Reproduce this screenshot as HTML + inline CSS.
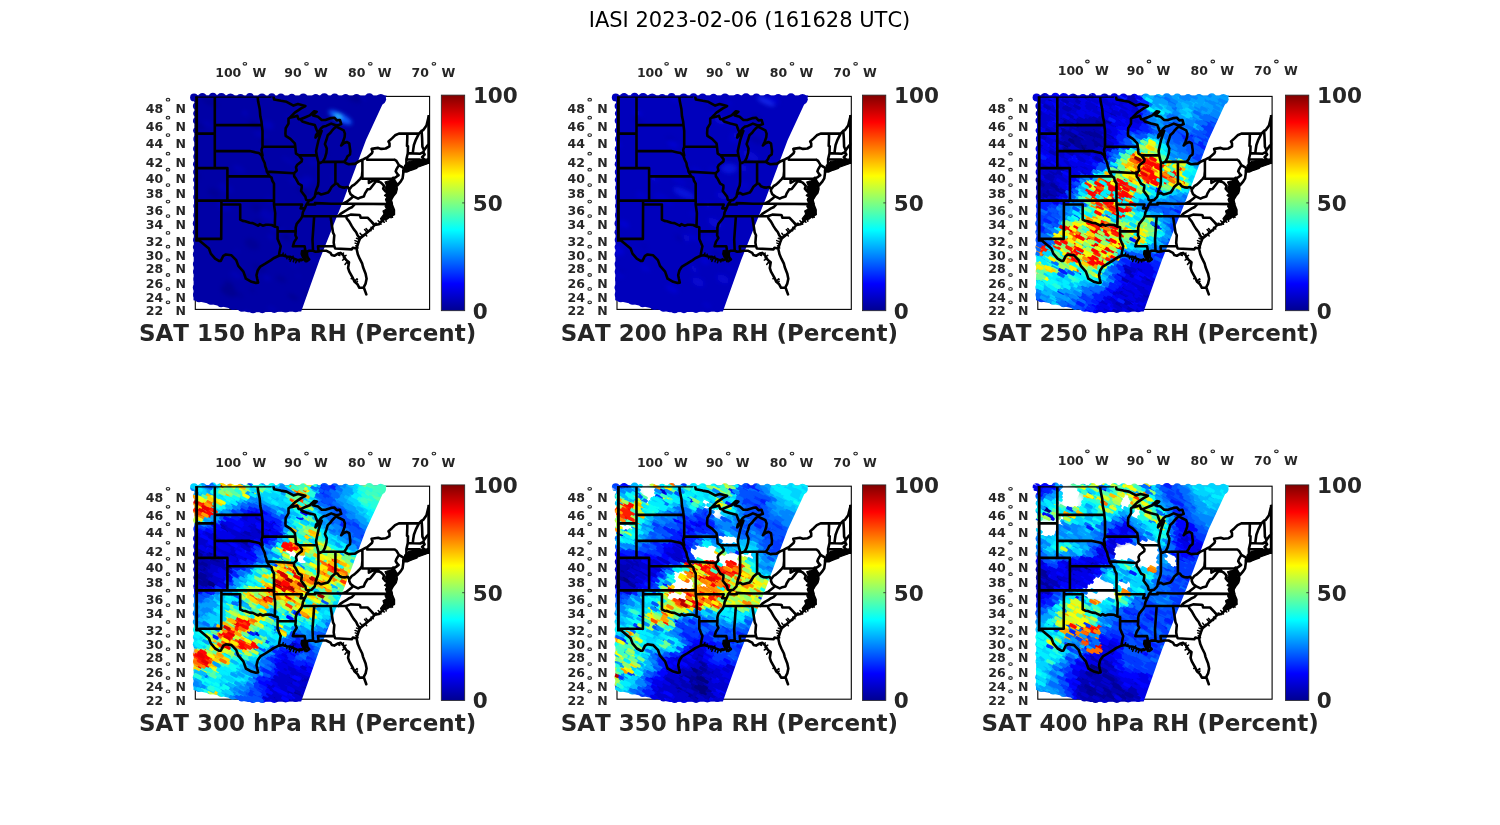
<!DOCTYPE html>
<html><head><meta charset="utf-8"><title>IASI 2023-02-06</title>
<style>
html,body{margin:0;padding:0;background:#fff;overflow:hidden}
svg{display:block}
text{font-family:"DejaVu Sans","Liberation Sans",sans-serif;font-kerning:none}
.s{font-size:12.5px;font-weight:bold;fill:#262626}
.cb{font-size:21.5px;font-weight:bold;fill:#262626}
.t{font-size:23px;font-weight:bold;fill:#262626}
.mt{font-size:21px;fill:#000}
.dg{fill:none;stroke:#262626;stroke-width:1.1}
</style></head><body>
<svg width="1500" height="825" viewBox="0 0 1500 825">
<defs><filter id="bl" x="-5%" y="-5%" width="110%" height="110%"><feGaussianBlur stdDeviation="2.5"/></filter><filter id="bl3" x="-50%" y="-50%" width="200%" height="200%"><feGaussianBlur stdDeviation="2"/></filter><linearGradient id="jet" x1="0" y1="1" x2="0" y2="0"><stop offset="0" stop-color="#000090"/><stop offset="0.125" stop-color="#0000ff"/><stop offset="0.375" stop-color="#00ffff"/><stop offset="0.625" stop-color="#ffff00"/><stop offset="0.875" stop-color="#ff0000"/><stop offset="1" stop-color="#800000"/></linearGradient></defs>
<rect width="1500" height="825" fill="#fff"/>
<text x="749.5" y="27" class="mt" text-anchor="middle">IASI 2023-02-06 (161628 UTC)</text>

<clipPath id="sw0"><path d="M194.6,95.3 386.6,95.6 366,140 344.2,198.2 319.5,260 301.2,311.6 248,312.3 193.5,300.3Z"/><circle cx="194" cy="97.4" r="3.9"/><circle cx="202.4" cy="97.4" r="4.3"/><circle cx="212.9" cy="97.2" r="4.4"/><circle cx="221.4" cy="98.1" r="5"/><circle cx="230.5" cy="98.8" r="5.2"/><circle cx="240.5" cy="97.8" r="3.8"/><circle cx="249.9" cy="97" r="3.9"/><circle cx="262" cy="98.1" r="4.6"/><circle cx="271.8" cy="97" r="3.8"/><circle cx="280.9" cy="97.9" r="4.4"/><circle cx="291.8" cy="97.9" r="4.2"/><circle cx="303.3" cy="98.1" r="4.6"/><circle cx="315.7" cy="98.3" r="4.2"/><circle cx="324.3" cy="98.2" r="4.9"/><circle cx="334.7" cy="98.3" r="4.8"/><circle cx="345.6" cy="98.2" r="4.2"/><circle cx="356.5" cy="98.4" r="4.4"/><circle cx="369.3" cy="98.1" r="4.8"/><circle cx="380.8" cy="99.3" r="5.3"/><circle cx="196.6" cy="99" r="3.4"/><circle cx="196.4" cy="106.1" r="3.5"/><circle cx="196.2" cy="113.4" r="3"/><circle cx="196.2" cy="120.8" r="3.2"/><circle cx="196.1" cy="130.4" r="3"/><circle cx="197.3" cy="139.1" r="4"/><circle cx="196.3" cy="148.7" r="3.2"/><circle cx="197.3" cy="156.7" r="4"/><circle cx="196.1" cy="164.2" r="3.1"/><circle cx="196.6" cy="171.9" r="3.5"/><circle cx="196" cy="179.7" r="2.9"/><circle cx="197" cy="187.8" r="3.6"/><circle cx="196.7" cy="196.9" r="3.5"/><circle cx="196.3" cy="205.9" r="3"/><circle cx="197.2" cy="215.2" r="3.9"/><circle cx="196.2" cy="223.4" r="3.4"/><circle cx="195.8" cy="232.3" r="3"/><circle cx="196.1" cy="239.9" r="3.1"/><circle cx="195.8" cy="247.1" r="2.9"/><circle cx="196.2" cy="254.4" r="3.3"/><circle cx="196.5" cy="264" r="3.6"/><circle cx="196.3" cy="271.8" r="3.3"/><circle cx="197.3" cy="279.1" r="3.9"/><circle cx="196.3" cy="287.5" r="3.5"/><circle cx="196.3" cy="294.8" r="3.3"/><circle cx="199" cy="298.2" r="4"/><circle cx="210.8" cy="300.3" r="4.5"/><circle cx="221" cy="303.5" r="3.7"/><circle cx="232.9" cy="304.9" r="5.1"/><circle cx="241.9" cy="307.4" r="4.3"/><circle cx="253" cy="308.7" r="4.6"/><circle cx="262.3" cy="309.1" r="4.1"/><circle cx="274.3" cy="308" r="5.1"/><circle cx="285.6" cy="307.7" r="4.9"/><circle cx="295.6" cy="308" r="4.3"/></clipPath>
<clipPath id="ax0"><rect x="195.3" y="96.4" width="234.3" height="213"/></clipPath>
<rect x="195.3" y="96.4" width="234.3" height="213" fill="none" stroke="#000" stroke-width="1.1"/>
<g clip-path="url(#sw0)"><rect x="187.3" y="88.4" width="215" height="240" fill="#0000a6"/><g filter="url(#bl3)" opacity="0.8"><ellipse cx="269" cy="217" rx="9" ry="4" transform="rotate(28 269 217)" fill="#0000b8"/><ellipse cx="224" cy="206" rx="7" ry="4" transform="rotate(28 224 206)" fill="#0000c0"/><ellipse cx="268" cy="125" rx="6" ry="4" transform="rotate(28 268 125)" fill="#0000c0"/><ellipse cx="294" cy="181" rx="6" ry="3" transform="rotate(28 294 181)" fill="#0000b8"/><ellipse cx="298" cy="276" rx="3" ry="1" transform="rotate(28 298 276)" fill="#0000b8"/><ellipse cx="294" cy="265" rx="5" ry="2" transform="rotate(28 294 265)" fill="#0000b8"/><ellipse cx="281" cy="234" rx="6" ry="3" transform="rotate(28 281 234)" fill="#000094"/><ellipse cx="304" cy="183" rx="6" ry="4" transform="rotate(28 304 183)" fill="#0000c0"/><ellipse cx="313" cy="163" rx="4" ry="2" transform="rotate(28 313 163)" fill="#0000c0"/><ellipse cx="288" cy="117" rx="4" ry="1" transform="rotate(28 288 117)" fill="#0000c0"/><ellipse cx="355" cy="280" rx="3" ry="1" transform="rotate(28 355 280)" fill="#0000c0"/><ellipse cx="272" cy="309" rx="5" ry="2" transform="rotate(28 272 309)" fill="#0000b8"/><ellipse cx="325" cy="153" rx="4" ry="1" transform="rotate(28 325 153)" fill="#000094"/><ellipse cx="321" cy="119" rx="4" ry="1" transform="rotate(28 321 119)" fill="#0000c0"/><ellipse cx="271" cy="201" rx="7" ry="3" transform="rotate(28 271 201)" fill="#0000b8"/><ellipse cx="360" cy="263" rx="6" ry="2" transform="rotate(28 360 263)" fill="#000094"/><ellipse cx="264" cy="140" rx="5" ry="3" transform="rotate(28 264 140)" fill="#00008c"/><ellipse cx="362" cy="98" rx="4" ry="2" transform="rotate(28 362 98)" fill="#0000c0"/><ellipse cx="199" cy="126" rx="6" ry="2" transform="rotate(28 199 126)" fill="#00008c"/><ellipse cx="333" cy="178" rx="3" ry="1" transform="rotate(28 333 178)" fill="#0000b8"/><ellipse cx="195" cy="175" rx="7" ry="2" transform="rotate(28 195 175)" fill="#000094"/><ellipse cx="334" cy="123" rx="5" ry="3" transform="rotate(28 334 123)" fill="#00008c"/><ellipse cx="347" cy="273" rx="4" ry="2" transform="rotate(28 347 273)" fill="#0000b8"/><ellipse cx="309" cy="179" rx="6" ry="2" transform="rotate(28 309 179)" fill="#0000c0"/><ellipse cx="210" cy="102" rx="9" ry="3" transform="rotate(28 210 102)" fill="#000094"/><ellipse cx="236" cy="275" rx="7" ry="3" transform="rotate(28 236 275)" fill="#0000b8"/><ellipse cx="350" cy="308" rx="4" ry="2" transform="rotate(28 350 308)" fill="#0000c0"/><ellipse cx="240" cy="295" rx="4" ry="1" transform="rotate(28 240 295)" fill="#00008c"/><ellipse cx="262" cy="148" rx="3" ry="1" transform="rotate(28 262 148)" fill="#0000b8"/><ellipse cx="208" cy="124" rx="6" ry="2" transform="rotate(28 208 124)" fill="#0000b8"/><ellipse cx="293" cy="297" rx="6" ry="2" transform="rotate(28 293 297)" fill="#00008c"/><ellipse cx="356" cy="98" rx="7" ry="3" transform="rotate(28 356 98)" fill="#00008c"/><ellipse cx="247" cy="313" rx="3" ry="2" transform="rotate(28 247 313)" fill="#0000c0"/><ellipse cx="345" cy="256" rx="7" ry="4" transform="rotate(28 345 256)" fill="#00008c"/><ellipse cx="252" cy="244" rx="8" ry="5" transform="rotate(28 252 244)" fill="#000094"/><ellipse cx="353" cy="100" rx="6" ry="2" transform="rotate(28 353 100)" fill="#000094"/><ellipse cx="257" cy="96" rx="3" ry="1" transform="rotate(28 257 96)" fill="#0000c0"/><ellipse cx="361" cy="287" rx="7" ry="3" transform="rotate(28 361 287)" fill="#000094"/><ellipse cx="267" cy="278" rx="4" ry="2" transform="rotate(28 267 278)" fill="#0000c0"/><ellipse cx="245" cy="113" rx="3" ry="2" transform="rotate(28 245 113)" fill="#0000c0"/><ellipse cx="277" cy="229" rx="9" ry="3" transform="rotate(28 277 229)" fill="#0000c0"/><ellipse cx="255" cy="125" rx="7" ry="3" transform="rotate(28 255 125)" fill="#00008c"/><ellipse cx="304" cy="191" rx="8" ry="3" transform="rotate(28 304 191)" fill="#00008c"/><ellipse cx="226" cy="188" rx="8" ry="4" transform="rotate(28 226 188)" fill="#0000b8"/><ellipse cx="258" cy="222" rx="5" ry="2" transform="rotate(28 258 222)" fill="#000094"/><ellipse cx="252" cy="290" rx="3" ry="1" transform="rotate(28 252 290)" fill="#00008c"/><ellipse cx="332" cy="118" rx="6" ry="3" transform="rotate(28 332 118)" fill="#000094"/><ellipse cx="257" cy="208" rx="7" ry="4" transform="rotate(28 257 208)" fill="#000094"/><ellipse cx="247" cy="276" rx="5" ry="2" transform="rotate(28 247 276)" fill="#00008c"/><ellipse cx="289" cy="161" rx="8" ry="2" transform="rotate(28 289 161)" fill="#0000b8"/><ellipse cx="261" cy="135" rx="8" ry="3" transform="rotate(28 261 135)" fill="#0000b8"/><ellipse cx="328" cy="310" rx="4" ry="1" transform="rotate(28 328 310)" fill="#00008c"/><ellipse cx="355" cy="244" rx="4" ry="2" transform="rotate(28 355 244)" fill="#0000b8"/><ellipse cx="314" cy="260" rx="6" ry="2" transform="rotate(28 314 260)" fill="#0000b8"/><ellipse cx="239" cy="169" rx="7" ry="3" transform="rotate(28 239 169)" fill="#0000b8"/><ellipse cx="259" cy="268" rx="8" ry="3" transform="rotate(28 259 268)" fill="#000094"/><ellipse cx="214" cy="193" rx="7" ry="4" transform="rotate(28 214 193)" fill="#000094"/><ellipse cx="286" cy="237" rx="6" ry="3" transform="rotate(28 286 237)" fill="#00008c"/><ellipse cx="271" cy="237" rx="4" ry="2" transform="rotate(28 271 237)" fill="#0000c0"/><ellipse cx="229" cy="291" rx="9" ry="5" transform="rotate(28 229 291)" fill="#00008c"/><ellipse cx="237" cy="251" rx="3" ry="1" transform="rotate(28 237 251)" fill="#0000c0"/><ellipse cx="267" cy="214" rx="8" ry="3" transform="rotate(28 267 214)" fill="#0000c0"/><ellipse cx="229" cy="284" rx="6" ry="2" transform="rotate(28 229 284)" fill="#00008c"/><ellipse cx="309" cy="295" rx="6" ry="3" transform="rotate(28 309 295)" fill="#000094"/><ellipse cx="353" cy="202" rx="9" ry="3" transform="rotate(28 353 202)" fill="#0000b8"/><ellipse cx="267" cy="216" rx="8" ry="4" transform="rotate(28 267 216)" fill="#0000b8"/><ellipse cx="281" cy="279" rx="6" ry="3" transform="rotate(28 281 279)" fill="#000094"/><ellipse cx="355" cy="285" rx="7" ry="3" transform="rotate(28 355 285)" fill="#0000b8"/><ellipse cx="357" cy="209" rx="6" ry="2" transform="rotate(28 357 209)" fill="#0000c0"/><ellipse cx="278" cy="227" rx="3" ry="2" transform="rotate(28 278 227)" fill="#000094"/></g><g filter="url(#bl3)"><ellipse cx="340.3" cy="117.4" rx="13" ry="4" transform="rotate(28 340.3 117.4)" fill="#1060ff"/><ellipse cx="338.3" cy="116.4" rx="4" ry="2" transform="rotate(28 338.3 116.4)" fill="#30d0ff"/></g></g>
<path d="M385,182 388,181 392.5,180.5 396,184 395,188 396.5,191 393,195 391.5,200 392.5,204 391,206.5 394.5,214.5 390.5,214.5 386,217.5 381.5,221 380.5,218.5 384,214 383,211 386.5,209 385,206 387,203.5 385.5,199.5 387,197 384.5,195.5 387.5,192.5 385,188 386.5,185.5ZM404.5,165.5 409,161.5 416,160 423,159.2 429,159 429.5,163 424,165 417,167.5 410,169.5 405,170ZM195.3,96.4 197.5,96.4 197.5,240.2 195.3,240.2ZM427.9,115.5 429.9,115.5 429.9,163.5 427.9,163.5ZM301.5,250.5 305,250 307.5,252.5 308,256.5 305.5,259 302.5,257.5 301,254Z" fill="#000" stroke="#000" stroke-width="1.2" stroke-linejoin="round" clip-path="url(#ax0)"/>
<path d="M374.4 225.3l-2.1 -1.9M372.1 227.9l1.2 1.1M371.9 228.1l-0.9 -0.8M370.3 229.8l0.7 0.9M368.5 231.4l-2.4 -2.8M367.1 232.5l-2.5 -2.9M365.2 234.2l1.5 1.7M363.9 235.4l-0.8 -0.9M362.6 236.5l-2.5 -3.2M361.0 237.7l-0.8 -1.0M359.6 239.5l-3.1 -1.2M358.7 242.0l-3.7 -1.4M358.0 244.0l-2.8 -0.9M357.2 246.3l-1.4 -0.5M356.9 247.5l1.1 0.4M393.2 214.6l-1.4 -2.8M391.6 215.3l1.0 2.0M390.1 216.3l1.0 1.4M388.4 217.5l-1.3 -1.8M385.6 218.8l0.6 2.4M384.3 219.1l-0.8 -3.2M382.6 220.5l1.7 1.7M382.4 220.6l1.3 1.4M380.3 222.8l-2.1 -2.1M379.9 223.1l1.1 1.1M376.8 224.6l-0.3 -1.4M375.9 224.8l-0.3 -1.6M339.1 253.3l0.7 2.3M340.6 252.9l-2.0 2.3M342.3 254.4l1.2 -1.3M344.0 256.6l2.1 -1.3M344.4 257.2l-1.1 0.7M345.2 258.6l-2.6 1.6M347.5 261.2l-2.5 3.3M348.5 261.9l-1.0 1.3M356.0 282.9l1.5 -1.7M354.4 281.6l2.6 -2.9M354.0 280.7l3.5 -1.5M352.8 278.0l-1.6 0.7M282.5 255.4l0.7 -2.4M285.0 256.1l0.5 -1.8M287.1 256.6l-0.2 2.1M289.5 256.8l-0.3 2.8M291.9 257.6l-1.8 3.8M292.3 257.8l0.8 -1.6M294.4 258.8l-1.1 2.9M296.9 259.8l-1.2 3.0M299.1 260.1l-0.0 2.0M299.8 260.1l0.0 -0.8M301.7 260.1l-0.6 -1.3M304.0 259.1l1.2 2.7M390.4 201.2l0.7 -1.6M388.6 198.9l2.0 -0.3M388.5 198.4l-2.2 0.3M388.3 195.3l-1.0 -0.1M388.4 194.2l3.6 0.3M388.4 192.0l-1.9 0.4M387.7 189.2l1.5 -0.3M387.9 186.7l3.2 0.5M388.0 185.7l3.7 0.6M388.3 184.4l3.1 1.4M390.0 180.7l2.3 1.1" stroke="#000" stroke-width="1.5" stroke-linecap="round" clip-path="url(#ax0)"/>
<path d="M190.1,96.5 270.6,96.5M214.8,96.5 214.8,168.1M190.1,133.6 214.8,133.6M190.1,168.1 227.4,168.1M227.4,168.1 227.4,200.6M190.1,200.6 274,200.6M221.4,200.6 221.4,204.5 221.2,238.9 198.7,238.9 199.3,240.5 190.1,240.5M221.4,204.5 240.2,204.5 240.2,219.6M240.2,219.6 242.7,220.9 245.2,221.2 249.6,222.8 252.8,223.1 255.9,224.6 258.4,225.7 259.7,224.2 262.8,225.7 265.9,224.8 268.4,224.8 271.6,225 274.8,226.6 277.6,227.3 277.6,238.9M274.8,226.6 275.2,213.1 274,204.5 274,183.7 272.2,180.5 271.6,177.6 269.6,176.4M227.4,176.4 269.6,176.4M269.6,176.4 266.8,171.6 266.3,168.9 265.3,166.4 264.7,163 263.1,159.7 261.5,155.4 259,153.1 255.9,152.4 249.6,151.1 214.8,151.1M261.5,155.4 262.5,155.5 261.5,150 262.5,146.8 262.5,130.9 261.8,125.1 214.8,125.1M261.8,125.1 261.5,121.8 260.3,116.3 259.7,108.9 258.1,101.3 257.6,96.5M266.8,171.6 294,173.2M262.5,146.8 295.3,146.8M285.7,135.8 290.4,138.9 294.8,143.3 295.3,146.8 296,153.7 298.9,155.4 302,159.4 301.7,161.4 297.3,164.7 296,167.2 296.7,170.6 294,173.2 294.2,176.4 296,178.8 298.5,183.7 301.7,185.4 301.7,187.8 301.1,191 305.4,196.6 306.1,199.8 308.1,200.6 308.6,201.4 306.4,204.5 305.8,206.1 304.8,208.4 302.9,212.3 302.3,216.2 301.1,218.5 299.2,220.8 296.7,223.8 295.7,227.6 295.7,231.4 295.4,235.2 296.7,238.1 294.2,241.9 292.9,246.3M285.7,135.8 285.4,133.6 285.7,128.2 288.5,123.6 288.5,118.6 289.8,117.7M270.6,96.5 270.6,92.8 272.8,93.6 274.1,99.4 281,100.8 286.6,101.8 293.5,105.6 297.9,104.1 305.4,106 301.1,108.4 294.8,112.6 289.8,117.7M289.8,117.7 294.2,116.8 297.3,115.8 298.5,119.1 300.4,119.3 302.3,121.4 308.6,123.5 314.8,125 316.7,130 318,132.7M318,132.7 316.1,134.9 315.5,137.6 318,134.9 321.7,130.9 319.9,135.8 318.6,139.8 317.4,145 316.1,151.1 316.7,155.4 298.9,155.4M316.7,155.4 318,160.5 318.4,162.2 320.5,162.9 322.9,161.7 335.4,161.9 344,161.9M318.4,161.7 318.4,181.7 318,185.4 316.1,190.2 315.2,194.2M335.4,161.9 335.4,183.7M349.3,191.3 349.3,189.4 347.8,187 344.9,187.6 342.1,187.4 339.3,186.2 337.4,183.7 335.4,183.7 331.8,186.7 329.6,190.6 328,192.6 324.9,193.4 321.1,194.5 318.2,192.9 315.2,194.2 314.8,196.6 311.7,199.9 308.1,200.6M349.3,189.4 351.8,186.2 354.4,184.6 357.5,181.7 360.3,178.8 361.9,176.4 362.4,171.1 362.4,159.8M300.4,119.3 305.4,117.2 309.8,115.4 314.2,111.2 316.7,111.7 313,115.4 318,116.8 321.7,120 325.5,120 331.2,118.1 334.3,117.7 336.8,120.4 339.9,120 341.2,124.1 338.7,125 336.2,125.5 331.2,123.6 326.1,125.9 323.6,126.4 321.1,128.2 318,132.7M322.9,161.7 324.9,158 326.4,152.8 326.8,148.5 324.9,144.1 326.4,139.8 327.7,135.3 330.5,132.7 331.8,130.9 334.3,128.2 336.2,126.5 339.3,128.2 343.7,130.4 344.9,133.6 344.6,137.1 343.1,141.5 341.2,145.5 343.7,143.3 346.8,142 349.3,143.3 350.3,151.1 350,154.5 347.5,156.3 346.2,159.2 344,161.9M344,161.9 346.8,163.5 348.7,164.3 353.1,163.9 355,163.9 358.1,161.8 362.4,159.8 365,158.4 367.1,157.4 367.1,159.7 394.7,159.7M367.1,157.4 371.9,153.3 372.5,151.5 371.6,148.9 378.2,147.9 381.3,148.9 385.7,148.5 389.5,146.3 389.5,143.3 388.5,141.5 392,138.4 395.1,135.3 398.9,133.6 418.9,133.6 421.6,130.9 423.3,130 426.5,125.5 428.3,118.1 433.4,111.2M407.3,133.6 407.3,138 407,145.9 408,146.3 407.8,153.3 406.4,159.2 406.4,165.6 405.1,167.2 405.5,168.3M407.8,153.3 412.9,153.4 420.2,153.7 423.3,152.2M412.9,153.4 413,151.1 413.9,145 415.8,139.8 418.9,133.6M421.6,130.9 422.1,138 422.4,146.8 424,150.2M406.4,159.2 417.1,159.5 419.7,159.5 421.3,163.9M417.1,159.5 416.7,165.4M434.6,141.5 429.6,144.1 427.1,145.9 424,150.2 423.3,152.2 424.6,154.5 422.1,157.1 424.6,160.1 428.3,161.8 428.3,159.2 428.7,162.2 424.6,163.5 421.3,163.9 416.7,165.4 412.7,165.8 409.5,166.4 405.5,168.3 403.9,169.3M403.9,171 410.8,169.8 416.4,167.7 412.7,168.9 407,171.4 403.9,171.4M394.7,159.7 396.4,160.9 398.9,165.1 403.9,168.1 403.3,170.6M398.9,165.1 396.4,169.3 395.7,171.4 397.3,173.9 398.6,175.1 396.4,176.8 394.5,178 393.2,177.7 392,178.7 362.4,178.7 362.4,171.1M403.3,170.6 403.3,173.1 402.6,178.4 400.8,181.3 397.6,185.1 395.7,182.5 393.9,179.7 394.5,178M392,178.7 392,188.9 396.7,188.9M393.9,179.7 394.5,182.1 396.4,186.2 396.7,189 395.7,192.6 393.2,195.8 391,199.4M368.9,178.7 368.9,182.9 372.5,180.9 376,179.3 379.9,182 381.3,182.9 384.1,185.8 383.2,188.6 385.1,191 388.8,193M353.3,196.3 358.1,198.6 360.6,197.4 363.8,196.6 365,193.4 367.5,189.4 370,189 372.5,185.8 376,181.3 379.9,182M353.3,196.3 350.6,194.2 349.3,191.3M342.6,203.7 346.8,201.8 351.2,198.2 353.3,196.3M306.4,204.5 315.2,204.5 315,203.1 321.7,203.4 331.2,203.7 342.6,203.7 355.1,203.8 391.5,204.1M338.5,216.2 340.6,213.9 343.7,211.9 346.8,210 349.3,208.4 351.8,207.3 355.1,203.8M302.3,216.2 346.2,216.2M346.2,216.2 350.6,214.6 359.1,215 360,215.4 360.6,217.6 367.6,217.7 374.7,225M346.2,216.2 346.8,218.5 349.3,221.6 351.8,226.1 353.7,229.1 356.2,232.2 357.5,235.2 360,238.5M314.2,216.2 312.5,239.6 313,250.8M330.5,216.2 333,232.5 334.3,235.2 334,238.9 333.7,242.6 334.3,246.3 318,246.3 318.6,251.4M334.3,246.3 335.2,248.5 351.8,249.4 352.8,247.8 356.5,248.5M274,204.5 302,204.5 300.6,208.4 304.8,208.4M277.6,231.3 295.7,231.4M277.6,238.9 279.1,242.6 280.7,246.3 279.6,251.4 278.9,255.8M292.9,246.3 304.6,246.3 305.1,249.2 305.4,252.2M199.3,240.5 202.6,243.3 208.9,248.5 210.8,253.6 215.1,258.7 218.9,260.9 220.8,260.9 223.3,255.8 225.8,254.5 231.5,255.3 236.2,260.1 238.3,265.9 243.4,271.6 245.9,278.7 251.5,281.8 255.9,282.9 258.1,282.6 257.2,278.7 256.5,275.2 257.8,270.2 260.3,266.6 265.3,263.7 271,260.1 273.5,258.3 278.9,255.8 282.2,255.3 286.6,256.5 290.4,256.9 294.2,258.7 297.9,260.1 301.7,260.1 304.8,258.7 306.7,261.2 309.2,259.4 307.3,257.2 305.4,254.3 306.7,253.2 305.4,252.2 309.2,250.7 313,250.8 315.5,251.8 318.6,251.4 321.7,250.7 326.1,250.7 330.5,252.9 331.8,255.1 334.3,255.8 338,253.6 340.6,252.9 343.1,255.1 346.2,260.1 349,262.3 348.1,268 349.3,271.6 352.5,277.3 354.4,281.5 357.5,284.3 359.4,287.8 363.4,287.8 365.6,283.6 366.6,278.7 365.6,273.7 363.1,267.3 362.2,263.7 359.7,258.7 357.8,254.3 356.5,248.5 358.4,242.6 360,238.5 362.8,236.3 366.3,233.3 370.7,229.5 374.7,225 378.8,224.2 383.8,219.3 387,218.5 390.7,215.8 393.9,214.3 393.9,210 391.5,204.1 390.7,201.4 388.8,200.6M363.8,287.5 366.3,294.4" clip-path="url(#ax0)" fill="none" stroke="#000" stroke-width="2.6" stroke-linejoin="round" stroke-linecap="round"/>
<text x="145.8" y="112.8" class="s">48</text>
<ellipse cx="168" cy="99.7" rx="1.8" ry="1.35" class="dg"/>
<text x="175.6" y="112.8" class="s">N</text>
<text x="145.8" y="130.8" class="s">46</text>
<ellipse cx="168" cy="117.7" rx="1.8" ry="1.35" class="dg"/>
<text x="175.6" y="130.8" class="s">N</text>
<text x="145.8" y="148.2" class="s">44</text>
<ellipse cx="168" cy="135.1" rx="1.8" ry="1.35" class="dg"/>
<text x="175.6" y="148.2" class="s">N</text>
<text x="145.8" y="166.8" class="s">42</text>
<ellipse cx="168" cy="153.7" rx="1.8" ry="1.35" class="dg"/>
<text x="175.6" y="166.8" class="s">N</text>
<text x="145.8" y="182.8" class="s">40</text>
<ellipse cx="168" cy="169.7" rx="1.8" ry="1.35" class="dg"/>
<text x="175.6" y="182.8" class="s">N</text>
<text x="145.8" y="198.2" class="s">38</text>
<ellipse cx="168" cy="185.1" rx="1.8" ry="1.35" class="dg"/>
<text x="175.6" y="198.2" class="s">N</text>
<text x="145.8" y="214.7" class="s">36</text>
<ellipse cx="168" cy="201.6" rx="1.8" ry="1.35" class="dg"/>
<text x="175.6" y="214.7" class="s">N</text>
<text x="145.8" y="229.2" class="s">34</text>
<ellipse cx="168" cy="216.1" rx="1.8" ry="1.35" class="dg"/>
<text x="175.6" y="229.2" class="s">N</text>
<text x="145.8" y="246" class="s">32</text>
<ellipse cx="168" cy="232.9" rx="1.8" ry="1.35" class="dg"/>
<text x="175.6" y="246" class="s">N</text>
<text x="145.8" y="259.8" class="s">30</text>
<ellipse cx="168" cy="246.7" rx="1.8" ry="1.35" class="dg"/>
<text x="175.6" y="259.8" class="s">N</text>
<text x="145.8" y="273.2" class="s">28</text>
<ellipse cx="168" cy="260.1" rx="1.8" ry="1.35" class="dg"/>
<text x="175.6" y="273.2" class="s">N</text>
<text x="145.8" y="288.1" class="s">26</text>
<ellipse cx="168" cy="275" rx="1.8" ry="1.35" class="dg"/>
<text x="175.6" y="288.1" class="s">N</text>
<text x="145.8" y="302" class="s">24</text>
<ellipse cx="168" cy="288.9" rx="1.8" ry="1.35" class="dg"/>
<text x="175.6" y="302" class="s">N</text>
<text x="145.8" y="315.4" class="s">22</text>
<ellipse cx="168" cy="302.3" rx="1.8" ry="1.35" class="dg"/>
<text x="175.6" y="315.4" class="s">N</text>
<text x="215.2" y="77" class="s">100</text>
<ellipse cx="244.9" cy="63.8" rx="1.8" ry="1.35" class="dg"/>
<text x="252.4" y="77" class="s">W</text>
<text x="284.2" y="77" class="s">90</text>
<ellipse cx="306.5" cy="63.8" rx="1.8" ry="1.35" class="dg"/>
<text x="314" y="77" class="s">W</text>
<text x="348" y="77" class="s">80</text>
<ellipse cx="370.3" cy="63.8" rx="1.8" ry="1.35" class="dg"/>
<text x="377.8" y="77" class="s">W</text>
<text x="411.6" y="77" class="s">70</text>
<ellipse cx="433.9" cy="63.8" rx="1.8" ry="1.35" class="dg"/>
<text x="441.4" y="77" class="s">W</text>
<rect x="441.3" y="95.1" width="23.4" height="215.6" fill="url(#jet)" stroke="#262626" stroke-width="0.8"/>
<path d="M462.2,202.9H464.7" stroke="#262626" stroke-width="0.8"/>
<text x="472.9" y="103.3" class="cb">100</text>
<text x="472.7" y="210.7" class="cb">50</text>
<text x="472.7" y="318.5" class="cb">0</text>
<text x="139" y="340.8" class="t">SAT 150 hPa RH (Percent)</text>
<clipPath id="sw1"><path d="M616.3,95.3 808.3,95.6 787.7,140 765.9,198.2 741.2,260 722.9,311.6 669.7,312.3 615.2,300.3Z"/><circle cx="615.7" cy="97.4" r="3.9"/><circle cx="624.1" cy="97.4" r="4.3"/><circle cx="634.6" cy="97.2" r="4.4"/><circle cx="643.1" cy="98.1" r="5"/><circle cx="652.2" cy="98.8" r="5.2"/><circle cx="662.2" cy="97.8" r="3.8"/><circle cx="671.6" cy="97" r="3.9"/><circle cx="683.7" cy="98.1" r="4.6"/><circle cx="693.5" cy="97" r="3.8"/><circle cx="702.6" cy="97.9" r="4.4"/><circle cx="713.5" cy="97.9" r="4.2"/><circle cx="725" cy="98.1" r="4.6"/><circle cx="737.4" cy="98.3" r="4.2"/><circle cx="746" cy="98.2" r="4.9"/><circle cx="756.4" cy="98.3" r="4.8"/><circle cx="767.3" cy="98.2" r="4.2"/><circle cx="778.2" cy="98.4" r="4.4"/><circle cx="791" cy="98.1" r="4.8"/><circle cx="802.5" cy="99.3" r="5.3"/><circle cx="618.3" cy="99" r="3.4"/><circle cx="618.1" cy="106.1" r="3.5"/><circle cx="617.9" cy="113.4" r="3"/><circle cx="617.9" cy="120.8" r="3.2"/><circle cx="617.8" cy="130.4" r="3"/><circle cx="619" cy="139.1" r="4"/><circle cx="618" cy="148.7" r="3.2"/><circle cx="619" cy="156.7" r="4"/><circle cx="617.8" cy="164.2" r="3.1"/><circle cx="618.3" cy="171.9" r="3.5"/><circle cx="617.7" cy="179.7" r="2.9"/><circle cx="618.7" cy="187.8" r="3.6"/><circle cx="618.4" cy="196.9" r="3.5"/><circle cx="618" cy="205.9" r="3"/><circle cx="618.9" cy="215.2" r="3.9"/><circle cx="617.9" cy="223.4" r="3.4"/><circle cx="617.5" cy="232.3" r="3"/><circle cx="617.8" cy="239.9" r="3.1"/><circle cx="617.5" cy="247.1" r="2.9"/><circle cx="617.9" cy="254.4" r="3.3"/><circle cx="618.2" cy="264" r="3.6"/><circle cx="618" cy="271.8" r="3.3"/><circle cx="619" cy="279.1" r="3.9"/><circle cx="618" cy="287.5" r="3.5"/><circle cx="618" cy="294.8" r="3.3"/><circle cx="620.7" cy="298.2" r="4"/><circle cx="632.5" cy="300.3" r="4.5"/><circle cx="642.7" cy="303.5" r="3.7"/><circle cx="654.6" cy="304.9" r="5.1"/><circle cx="663.6" cy="307.4" r="4.3"/><circle cx="674.7" cy="308.7" r="4.6"/><circle cx="684" cy="309.1" r="4.1"/><circle cx="696" cy="308" r="5.1"/><circle cx="707.3" cy="307.7" r="4.9"/><circle cx="717.3" cy="308" r="4.3"/></clipPath>
<clipPath id="ax1"><rect x="617" y="96.4" width="234.3" height="213"/></clipPath>
<rect x="617" y="96.4" width="234.3" height="213" fill="none" stroke="#000" stroke-width="1.1"/>
<g clip-path="url(#sw1)"><rect x="609.0" y="88.4" width="215" height="240" fill="#0000bc"/><g filter="url(#bl3)" opacity="0.8"><ellipse cx="695" cy="238" rx="7" ry="2" transform="rotate(28 695 238)" fill="#0000d8"/><ellipse cx="783" cy="200" rx="7" ry="3" transform="rotate(28 783 200)" fill="#0000cc"/><ellipse cx="709" cy="239" rx="4" ry="2" transform="rotate(28 709 239)" fill="#0000cc"/><ellipse cx="672" cy="140" rx="6" ry="2" transform="rotate(28 672 140)" fill="#0000a4"/><ellipse cx="730" cy="269" rx="4" ry="2" transform="rotate(28 730 269)" fill="#0000cc"/><ellipse cx="629" cy="311" rx="9" ry="3" transform="rotate(28 629 311)" fill="#0808d8"/><ellipse cx="779" cy="212" rx="8" ry="4" transform="rotate(28 779 212)" fill="#0000d8"/><ellipse cx="708" cy="205" rx="4" ry="2" transform="rotate(28 708 205)" fill="#0808d8"/><ellipse cx="695" cy="178" rx="3" ry="2" transform="rotate(28 695 178)" fill="#0000cc"/><ellipse cx="780" cy="239" rx="5" ry="2" transform="rotate(28 780 239)" fill="#0808d8"/><ellipse cx="729" cy="118" rx="4" ry="2" transform="rotate(28 729 118)" fill="#0000cc"/><ellipse cx="619" cy="274" rx="6" ry="3" transform="rotate(28 619 274)" fill="#0000cc"/><ellipse cx="729" cy="103" rx="4" ry="2" transform="rotate(28 729 103)" fill="#0000cc"/><ellipse cx="644" cy="246" rx="3" ry="1" transform="rotate(28 644 246)" fill="#0000a4"/><ellipse cx="716" cy="253" rx="6" ry="2" transform="rotate(28 716 253)" fill="#0000a4"/><ellipse cx="662" cy="198" rx="9" ry="4" transform="rotate(28 662 198)" fill="#0000cc"/><ellipse cx="693" cy="214" rx="4" ry="2" transform="rotate(28 693 214)" fill="#0000cc"/><ellipse cx="769" cy="95" rx="5" ry="2" transform="rotate(28 769 95)" fill="#0000a4"/><ellipse cx="645" cy="268" rx="6" ry="2" transform="rotate(28 645 268)" fill="#0000d8"/><ellipse cx="781" cy="313" rx="6" ry="2" transform="rotate(28 781 313)" fill="#0000a4"/><ellipse cx="764" cy="240" rx="5" ry="2" transform="rotate(28 764 240)" fill="#0808d8"/><ellipse cx="697" cy="171" rx="7" ry="3" transform="rotate(28 697 171)" fill="#0000cc"/><ellipse cx="690" cy="229" rx="3" ry="1" transform="rotate(28 690 229)" fill="#0808d8"/><ellipse cx="734" cy="140" rx="5" ry="2" transform="rotate(28 734 140)" fill="#0000d8"/><ellipse cx="732" cy="122" rx="8" ry="4" transform="rotate(28 732 122)" fill="#0000cc"/><ellipse cx="648" cy="197" rx="3" ry="2" transform="rotate(28 648 197)" fill="#0000a4"/><ellipse cx="743" cy="185" rx="7" ry="4" transform="rotate(28 743 185)" fill="#0000cc"/><ellipse cx="713" cy="170" rx="5" ry="3" transform="rotate(28 713 170)" fill="#0000cc"/><ellipse cx="617" cy="250" rx="8" ry="5" transform="rotate(28 617 250)" fill="#0000d8"/><ellipse cx="769" cy="211" rx="8" ry="3" transform="rotate(28 769 211)" fill="#0000d8"/><ellipse cx="735" cy="135" rx="5" ry="2" transform="rotate(28 735 135)" fill="#0808d8"/><ellipse cx="720" cy="121" rx="6" ry="3" transform="rotate(28 720 121)" fill="#0808d8"/><ellipse cx="713" cy="109" rx="5" ry="2" transform="rotate(28 713 109)" fill="#0000a4"/><ellipse cx="638" cy="113" rx="5" ry="2" transform="rotate(28 638 113)" fill="#0808d8"/><ellipse cx="676" cy="100" rx="6" ry="3" transform="rotate(28 676 100)" fill="#0000cc"/><ellipse cx="624" cy="224" rx="6" ry="3" transform="rotate(28 624 224)" fill="#0000d8"/><ellipse cx="774" cy="95" rx="5" ry="2" transform="rotate(28 774 95)" fill="#0000cc"/><ellipse cx="731" cy="159" rx="6" ry="2" transform="rotate(28 731 159)" fill="#0000a4"/><ellipse cx="642" cy="196" rx="7" ry="4" transform="rotate(28 642 196)" fill="#0000cc"/><ellipse cx="692" cy="266" rx="3" ry="2" transform="rotate(28 692 266)" fill="#0808d8"/><ellipse cx="705" cy="261" rx="5" ry="3" transform="rotate(28 705 261)" fill="#0000d8"/><ellipse cx="779" cy="215" rx="7" ry="3" transform="rotate(28 779 215)" fill="#0000d8"/><ellipse cx="669" cy="203" rx="5" ry="2" transform="rotate(28 669 203)" fill="#0000cc"/><ellipse cx="695" cy="270" rx="4" ry="2" transform="rotate(28 695 270)" fill="#0808d8"/><ellipse cx="751" cy="156" rx="9" ry="4" transform="rotate(28 751 156)" fill="#0808d8"/><ellipse cx="752" cy="267" rx="7" ry="2" transform="rotate(28 752 267)" fill="#0000a4"/><ellipse cx="723" cy="279" rx="7" ry="4" transform="rotate(28 723 279)" fill="#0808d8"/><ellipse cx="686" cy="238" rx="5" ry="3" transform="rotate(28 686 238)" fill="#0808d8"/><ellipse cx="679" cy="181" rx="8" ry="3" transform="rotate(28 679 181)" fill="#0000cc"/><ellipse cx="756" cy="118" rx="5" ry="3" transform="rotate(28 756 118)" fill="#0000a4"/><ellipse cx="781" cy="295" rx="8" ry="4" transform="rotate(28 781 295)" fill="#0000a4"/><ellipse cx="756" cy="140" rx="8" ry="3" transform="rotate(28 756 140)" fill="#0000a4"/><ellipse cx="621" cy="272" rx="4" ry="1" transform="rotate(28 621 272)" fill="#0000a4"/><ellipse cx="772" cy="309" rx="8" ry="4" transform="rotate(28 772 309)" fill="#0000d8"/><ellipse cx="717" cy="116" rx="7" ry="3" transform="rotate(28 717 116)" fill="#0808d8"/><ellipse cx="631" cy="95" rx="4" ry="2" transform="rotate(28 631 95)" fill="#0808d8"/><ellipse cx="722" cy="196" rx="7" ry="3" transform="rotate(28 722 196)" fill="#0808d8"/><ellipse cx="766" cy="100" rx="8" ry="2" transform="rotate(28 766 100)" fill="#0000cc"/><ellipse cx="698" cy="282" rx="7" ry="4" transform="rotate(28 698 282)" fill="#0808d8"/><ellipse cx="707" cy="305" rx="5" ry="2" transform="rotate(28 707 305)" fill="#0000cc"/><ellipse cx="673" cy="144" rx="6" ry="3" transform="rotate(28 673 144)" fill="#0000d8"/><ellipse cx="773" cy="100" rx="7" ry="3" transform="rotate(28 773 100)" fill="#0000d8"/><ellipse cx="715" cy="223" rx="8" ry="4" transform="rotate(28 715 223)" fill="#0808d8"/><ellipse cx="743" cy="187" rx="6" ry="2" transform="rotate(28 743 187)" fill="#0000cc"/><ellipse cx="680" cy="238" rx="5" ry="2" transform="rotate(28 680 238)" fill="#0000a4"/><ellipse cx="638" cy="120" rx="6" ry="2" transform="rotate(28 638 120)" fill="#0000a4"/><ellipse cx="616" cy="144" rx="6" ry="3" transform="rotate(28 616 144)" fill="#0808d8"/><ellipse cx="743" cy="168" rx="5" ry="3" transform="rotate(28 743 168)" fill="#0808d8"/><ellipse cx="672" cy="289" rx="7" ry="3" transform="rotate(28 672 289)" fill="#0000d8"/><ellipse cx="653" cy="178" rx="7" ry="2" transform="rotate(28 653 178)" fill="#0808d8"/></g><g filter="url(#bl3)" opacity="0.6"><ellipse cx="766.0" cy="101.4" rx="10" ry="3" transform="rotate(25 766.0 101.4)" fill="#2040ff"/><ellipse cx="684.0" cy="193.4" rx="12" ry="4" transform="rotate(25 684.0 193.4)" fill="#1020f0"/><ellipse cx="729.0" cy="168.4" rx="8" ry="5" fill="#1020f0"/></g></g>
<path d="M806.7,182 809.7,181 814.2,180.5 817.7,184 816.7,188 818.2,191 814.7,195 813.2,200 814.2,204 812.7,206.5 816.2,214.5 812.2,214.5 807.7,217.5 803.2,221 802.2,218.5 805.7,214 804.7,211 808.2,209 806.7,206 808.7,203.5 807.2,199.5 808.7,197 806.2,195.5 809.2,192.5 806.7,188 808.2,185.5ZM826.2,165.5 830.7,161.5 837.7,160 844.7,159.2 850.7,159 851.2,163 845.7,165 838.7,167.5 831.7,169.5 826.7,170ZM617,96.4 619.2,96.4 619.2,240.2 617,240.2ZM849.6,115.5 851.6,115.5 851.6,163.5 849.6,163.5ZM723.2,250.5 726.7,250 729.2,252.5 729.7,256.5 727.2,259 724.2,257.5 722.7,254Z" fill="#000" stroke="#000" stroke-width="1.2" stroke-linejoin="round" clip-path="url(#ax1)"/>
<path d="M796.1 225.3l-2.1 -1.9M793.8 227.9l1.2 1.1M793.6 228.1l-0.9 -0.8M792.0 229.8l0.7 0.9M790.2 231.4l-2.4 -2.8M788.8 232.5l-2.5 -2.9M786.9 234.2l1.5 1.7M785.6 235.4l-0.8 -0.9M784.3 236.5l-2.5 -3.2M782.7 237.7l-0.8 -1.0M781.3 239.5l-3.1 -1.2M780.4 242.0l-3.7 -1.4M779.7 244.0l-2.8 -0.9M778.9 246.3l-1.4 -0.5M778.6 247.5l1.1 0.4M814.9 214.6l-1.4 -2.8M813.3 215.3l1.0 2.0M811.8 216.3l1.0 1.4M810.1 217.5l-1.3 -1.8M807.3 218.8l0.6 2.4M806.0 219.1l-0.8 -3.2M804.3 220.5l1.7 1.7M804.1 220.6l1.3 1.4M802.0 222.8l-2.1 -2.1M801.6 223.1l1.1 1.1M798.5 224.6l-0.3 -1.4M797.6 224.8l-0.3 -1.6M760.8 253.3l0.7 2.3M762.3 252.9l-2.0 2.3M764.0 254.4l1.2 -1.3M765.7 256.6l2.1 -1.3M766.1 257.2l-1.1 0.7M766.9 258.6l-2.6 1.6M769.2 261.2l-2.5 3.3M770.2 261.9l-1.0 1.3M777.7 282.9l1.5 -1.7M776.1 281.6l2.6 -2.9M775.7 280.7l3.5 -1.5M774.5 278.0l-1.6 0.7M704.2 255.4l0.7 -2.4M706.7 256.1l0.5 -1.8M708.8 256.6l-0.2 2.1M711.2 256.8l-0.3 2.8M713.6 257.6l-1.8 3.8M714.0 257.8l0.8 -1.6M716.1 258.8l-1.1 2.9M718.6 259.8l-1.2 3.0M720.8 260.1l-0.0 2.0M721.5 260.1l0.0 -0.8M723.4 260.1l-0.6 -1.3M725.7 259.1l1.2 2.7M812.1 201.2l0.7 -1.6M810.3 198.9l2.0 -0.3M810.2 198.4l-2.2 0.3M810.0 195.3l-1.0 -0.1M810.1 194.2l3.6 0.3M810.1 192.0l-1.9 0.4M809.4 189.2l1.5 -0.3M809.6 186.7l3.2 0.5M809.7 185.7l3.7 0.6M810.0 184.4l3.1 1.4M811.7 180.7l2.3 1.1" stroke="#000" stroke-width="1.5" stroke-linecap="round" clip-path="url(#ax1)"/>
<path d="M611.8,96.5 692.3,96.5M636.5,96.5 636.5,168.1M611.8,133.6 636.5,133.6M611.8,168.1 649.1,168.1M649.1,168.1 649.1,200.6M611.8,200.6 695.7,200.6M643.1,200.6 643.1,204.5 642.9,238.9 620.4,238.9 621,240.5 611.8,240.5M643.1,204.5 661.9,204.5 661.9,219.6M661.9,219.6 664.4,220.9 666.9,221.2 671.3,222.8 674.5,223.1 677.6,224.6 680.1,225.7 681.4,224.2 684.5,225.7 687.6,224.8 690.1,224.8 693.3,225 696.5,226.6 699.3,227.3 699.3,238.9M696.5,226.6 696.9,213.1 695.7,204.5 695.7,183.7 693.9,180.5 693.3,177.6 691.3,176.4M649.1,176.4 691.3,176.4M691.3,176.4 688.5,171.6 688,168.9 687,166.4 686.4,163 684.8,159.7 683.2,155.4 680.7,153.1 677.6,152.4 671.3,151.1 636.5,151.1M683.2,155.4 684.2,155.5 683.2,150 684.2,146.8 684.2,130.9 683.5,125.1 636.5,125.1M683.5,125.1 683.2,121.8 682,116.3 681.4,108.9 679.8,101.3 679.3,96.5M688.5,171.6 715.7,173.2M684.2,146.8 717,146.8M707.4,135.8 712.1,138.9 716.5,143.3 717,146.8 717.7,153.7 720.6,155.4 723.7,159.4 723.4,161.4 719,164.7 717.7,167.2 718.4,170.6 715.7,173.2 715.9,176.4 717.7,178.8 720.2,183.7 723.4,185.4 723.4,187.8 722.8,191 727.1,196.6 727.8,199.8 729.8,200.6 730.3,201.4 728.1,204.5 727.5,206.1 726.5,208.4 724.6,212.3 724,216.2 722.8,218.5 720.9,220.8 718.4,223.8 717.4,227.6 717.4,231.4 717.1,235.2 718.4,238.1 715.9,241.9 714.6,246.3M707.4,135.8 707.1,133.6 707.4,128.2 710.2,123.6 710.2,118.6 711.5,117.7M692.3,96.5 692.3,92.8 694.5,93.6 695.8,99.4 702.7,100.8 708.3,101.8 715.2,105.6 719.6,104.1 727.1,106 722.8,108.4 716.5,112.6 711.5,117.7M711.5,117.7 715.9,116.8 719,115.8 720.2,119.1 722.1,119.3 724,121.4 730.3,123.5 736.5,125 738.4,130 739.7,132.7M739.7,132.7 737.8,134.9 737.2,137.6 739.7,134.9 743.4,130.9 741.6,135.8 740.3,139.8 739.1,145 737.8,151.1 738.4,155.4 720.6,155.4M738.4,155.4 739.7,160.5 740.1,162.2 742.2,162.9 744.6,161.7 757.1,161.9 765.7,161.9M740.1,161.7 740.1,181.7 739.7,185.4 737.8,190.2 736.9,194.2M757.1,161.9 757.1,183.7M771,191.3 771,189.4 769.5,187 766.6,187.6 763.8,187.4 761,186.2 759.1,183.7 757.1,183.7 753.5,186.7 751.3,190.6 749.7,192.6 746.6,193.4 742.8,194.5 739.9,192.9 736.9,194.2 736.5,196.6 733.4,199.9 729.8,200.6M771,189.4 773.5,186.2 776.1,184.6 779.2,181.7 782,178.8 783.6,176.4 784.1,171.1 784.1,159.8M722.1,119.3 727.1,117.2 731.5,115.4 735.9,111.2 738.4,111.7 734.7,115.4 739.7,116.8 743.4,120 747.2,120 752.9,118.1 756,117.7 758.5,120.4 761.6,120 762.9,124.1 760.4,125 757.9,125.5 752.9,123.6 747.8,125.9 745.3,126.4 742.8,128.2 739.7,132.7M744.6,161.7 746.6,158 748.1,152.8 748.5,148.5 746.6,144.1 748.1,139.8 749.4,135.3 752.2,132.7 753.5,130.9 756,128.2 757.9,126.5 761,128.2 765.4,130.4 766.6,133.6 766.3,137.1 764.8,141.5 762.9,145.5 765.4,143.3 768.5,142 771,143.3 772,151.1 771.7,154.5 769.2,156.3 767.9,159.2 765.7,161.9M765.7,161.9 768.5,163.5 770.4,164.3 774.8,163.9 776.7,163.9 779.8,161.8 784.1,159.8 786.7,158.4 788.8,157.4 788.8,159.7 816.4,159.7M788.8,157.4 793.6,153.3 794.2,151.5 793.3,148.9 799.9,147.9 803,148.9 807.4,148.5 811.2,146.3 811.2,143.3 810.2,141.5 813.7,138.4 816.8,135.3 820.6,133.6 840.6,133.6 843.3,130.9 845,130 848.2,125.5 850,118.1 855.1,111.2M829,133.6 829,138 828.7,145.9 829.7,146.3 829.5,153.3 828.1,159.2 828.1,165.6 826.8,167.2 827.2,168.3M829.5,153.3 834.6,153.4 841.9,153.7 845,152.2M834.6,153.4 834.7,151.1 835.6,145 837.5,139.8 840.6,133.6M843.3,130.9 843.8,138 844.1,146.8 845.7,150.2M828.1,159.2 838.8,159.5 841.4,159.5 843,163.9M838.8,159.5 838.4,165.4M856.3,141.5 851.3,144.1 848.8,145.9 845.7,150.2 845,152.2 846.3,154.5 843.8,157.1 846.3,160.1 850,161.8 850,159.2 850.4,162.2 846.3,163.5 843,163.9 838.4,165.4 834.4,165.8 831.2,166.4 827.2,168.3 825.6,169.3M825.6,171 832.5,169.8 838.1,167.7 834.4,168.9 828.7,171.4 825.6,171.4M816.4,159.7 818.1,160.9 820.6,165.1 825.6,168.1 825,170.6M820.6,165.1 818.1,169.3 817.4,171.4 819,173.9 820.3,175.1 818.1,176.8 816.2,178 814.9,177.7 813.7,178.7 784.1,178.7 784.1,171.1M825,170.6 825,173.1 824.3,178.4 822.5,181.3 819.3,185.1 817.4,182.5 815.6,179.7 816.2,178M813.7,178.7 813.7,188.9 818.4,188.9M815.6,179.7 816.2,182.1 818.1,186.2 818.4,189 817.4,192.6 814.9,195.8 812.7,199.4M790.6,178.7 790.6,182.9 794.2,180.9 797.7,179.3 801.6,182 803,182.9 805.8,185.8 804.9,188.6 806.8,191 810.5,193M775,196.3 779.8,198.6 782.3,197.4 785.5,196.6 786.7,193.4 789.2,189.4 791.7,189 794.2,185.8 797.7,181.3 801.6,182M775,196.3 772.3,194.2 771,191.3M764.3,203.7 768.5,201.8 772.9,198.2 775,196.3M728.1,204.5 736.9,204.5 736.7,203.1 743.4,203.4 752.9,203.7 764.3,203.7 776.8,203.8 813.2,204.1M760.2,216.2 762.3,213.9 765.4,211.9 768.5,210 771,208.4 773.5,207.3 776.8,203.8M724,216.2 767.9,216.2M767.9,216.2 772.3,214.6 780.8,215 781.7,215.4 782.3,217.6 789.3,217.7 796.4,225M767.9,216.2 768.5,218.5 771,221.6 773.5,226.1 775.4,229.1 777.9,232.2 779.2,235.2 781.7,238.5M735.9,216.2 734.2,239.6 734.7,250.8M752.2,216.2 754.7,232.5 756,235.2 755.7,238.9 755.4,242.6 756,246.3 739.7,246.3 740.3,251.4M756,246.3 756.9,248.5 773.5,249.4 774.5,247.8 778.2,248.5M695.7,204.5 723.7,204.5 722.3,208.4 726.5,208.4M699.3,231.3 717.4,231.4M699.3,238.9 700.8,242.6 702.4,246.3 701.3,251.4 700.6,255.8M714.6,246.3 726.3,246.3 726.8,249.2 727.1,252.2M621,240.5 624.3,243.3 630.6,248.5 632.5,253.6 636.8,258.7 640.6,260.9 642.5,260.9 645,255.8 647.5,254.5 653.2,255.3 657.9,260.1 660,265.9 665.1,271.6 667.6,278.7 673.2,281.8 677.6,282.9 679.8,282.6 678.9,278.7 678.2,275.2 679.5,270.2 682,266.6 687,263.7 692.7,260.1 695.2,258.3 700.6,255.8 703.9,255.3 708.3,256.5 712.1,256.9 715.9,258.7 719.6,260.1 723.4,260.1 726.5,258.7 728.4,261.2 730.9,259.4 729,257.2 727.1,254.3 728.4,253.2 727.1,252.2 730.9,250.7 734.7,250.8 737.2,251.8 740.3,251.4 743.4,250.7 747.8,250.7 752.2,252.9 753.5,255.1 756,255.8 759.7,253.6 762.3,252.9 764.8,255.1 767.9,260.1 770.7,262.3 769.8,268 771,271.6 774.2,277.3 776.1,281.5 779.2,284.3 781.1,287.8 785.1,287.8 787.3,283.6 788.3,278.7 787.3,273.7 784.8,267.3 783.9,263.7 781.4,258.7 779.5,254.3 778.2,248.5 780.1,242.6 781.7,238.5 784.5,236.3 788,233.3 792.4,229.5 796.4,225 800.5,224.2 805.5,219.3 808.7,218.5 812.4,215.8 815.6,214.3 815.6,210 813.2,204.1 812.4,201.4 810.5,200.6M785.5,287.5 788,294.4" clip-path="url(#ax1)" fill="none" stroke="#000" stroke-width="2.6" stroke-linejoin="round" stroke-linecap="round"/>
<text x="567.5" y="112.8" class="s">48</text>
<ellipse cx="589.7" cy="99.7" rx="1.8" ry="1.35" class="dg"/>
<text x="597.3" y="112.8" class="s">N</text>
<text x="567.5" y="130.8" class="s">46</text>
<ellipse cx="589.7" cy="117.7" rx="1.8" ry="1.35" class="dg"/>
<text x="597.3" y="130.8" class="s">N</text>
<text x="567.5" y="148.2" class="s">44</text>
<ellipse cx="589.7" cy="135.1" rx="1.8" ry="1.35" class="dg"/>
<text x="597.3" y="148.2" class="s">N</text>
<text x="567.5" y="166.8" class="s">42</text>
<ellipse cx="589.7" cy="153.7" rx="1.8" ry="1.35" class="dg"/>
<text x="597.3" y="166.8" class="s">N</text>
<text x="567.5" y="182.8" class="s">40</text>
<ellipse cx="589.7" cy="169.7" rx="1.8" ry="1.35" class="dg"/>
<text x="597.3" y="182.8" class="s">N</text>
<text x="567.5" y="198.2" class="s">38</text>
<ellipse cx="589.7" cy="185.1" rx="1.8" ry="1.35" class="dg"/>
<text x="597.3" y="198.2" class="s">N</text>
<text x="567.5" y="214.7" class="s">36</text>
<ellipse cx="589.7" cy="201.6" rx="1.8" ry="1.35" class="dg"/>
<text x="597.3" y="214.7" class="s">N</text>
<text x="567.5" y="229.2" class="s">34</text>
<ellipse cx="589.7" cy="216.1" rx="1.8" ry="1.35" class="dg"/>
<text x="597.3" y="229.2" class="s">N</text>
<text x="567.5" y="246" class="s">32</text>
<ellipse cx="589.7" cy="232.9" rx="1.8" ry="1.35" class="dg"/>
<text x="597.3" y="246" class="s">N</text>
<text x="567.5" y="259.8" class="s">30</text>
<ellipse cx="589.7" cy="246.7" rx="1.8" ry="1.35" class="dg"/>
<text x="597.3" y="259.8" class="s">N</text>
<text x="567.5" y="273.2" class="s">28</text>
<ellipse cx="589.7" cy="260.1" rx="1.8" ry="1.35" class="dg"/>
<text x="597.3" y="273.2" class="s">N</text>
<text x="567.5" y="288.1" class="s">26</text>
<ellipse cx="589.7" cy="275" rx="1.8" ry="1.35" class="dg"/>
<text x="597.3" y="288.1" class="s">N</text>
<text x="567.5" y="302" class="s">24</text>
<ellipse cx="589.7" cy="288.9" rx="1.8" ry="1.35" class="dg"/>
<text x="597.3" y="302" class="s">N</text>
<text x="567.5" y="315.4" class="s">22</text>
<ellipse cx="589.7" cy="302.3" rx="1.8" ry="1.35" class="dg"/>
<text x="597.3" y="315.4" class="s">N</text>
<text x="636.9" y="77" class="s">100</text>
<ellipse cx="666.6" cy="63.8" rx="1.8" ry="1.35" class="dg"/>
<text x="674.1" y="77" class="s">W</text>
<text x="705.9" y="77" class="s">90</text>
<ellipse cx="728.2" cy="63.8" rx="1.8" ry="1.35" class="dg"/>
<text x="735.7" y="77" class="s">W</text>
<text x="769.7" y="77" class="s">80</text>
<ellipse cx="792" cy="63.8" rx="1.8" ry="1.35" class="dg"/>
<text x="799.5" y="77" class="s">W</text>
<text x="833.3" y="77" class="s">70</text>
<ellipse cx="855.6" cy="63.8" rx="1.8" ry="1.35" class="dg"/>
<text x="863.1" y="77" class="s">W</text>
<rect x="862.4" y="95.1" width="23.4" height="215.6" fill="url(#jet)" stroke="#262626" stroke-width="0.8"/>
<path d="M883.3,202.9H885.8" stroke="#262626" stroke-width="0.8"/>
<text x="894" y="103.3" class="cb">100</text>
<text x="893.8" y="210.7" class="cb">50</text>
<text x="893.8" y="318.5" class="cb">0</text>
<text x="560.7" y="340.8" class="t">SAT 200 hPa RH (Percent)</text>
<clipPath id="sw2"><path d="M1037.1,95.3 1229.1,95.6 1208.5,140 1186.7,198.2 1162,260 1143.7,311.6 1090.5,312.3 1036,300.3Z"/><circle cx="1036.5" cy="97.4" r="3.9"/><circle cx="1044.9" cy="97.4" r="4.3"/><circle cx="1055.4" cy="97.2" r="4.4"/><circle cx="1063.9" cy="98.1" r="5"/><circle cx="1073" cy="98.8" r="5.2"/><circle cx="1083" cy="97.8" r="3.8"/><circle cx="1092.4" cy="97" r="3.9"/><circle cx="1104.5" cy="98.1" r="4.6"/><circle cx="1114.3" cy="97" r="3.8"/><circle cx="1123.4" cy="97.9" r="4.4"/><circle cx="1134.3" cy="97.9" r="4.2"/><circle cx="1145.8" cy="98.1" r="4.6"/><circle cx="1158.2" cy="98.3" r="4.2"/><circle cx="1166.8" cy="98.2" r="4.9"/><circle cx="1177.2" cy="98.3" r="4.8"/><circle cx="1188.1" cy="98.2" r="4.2"/><circle cx="1199" cy="98.4" r="4.4"/><circle cx="1211.8" cy="98.1" r="4.8"/><circle cx="1223.3" cy="99.3" r="5.3"/><circle cx="1039.1" cy="99" r="3.4"/><circle cx="1038.9" cy="106.1" r="3.5"/><circle cx="1038.7" cy="113.4" r="3"/><circle cx="1038.7" cy="120.8" r="3.2"/><circle cx="1038.6" cy="130.4" r="3"/><circle cx="1039.8" cy="139.1" r="4"/><circle cx="1038.8" cy="148.7" r="3.2"/><circle cx="1039.8" cy="156.7" r="4"/><circle cx="1038.6" cy="164.2" r="3.1"/><circle cx="1039.1" cy="171.9" r="3.5"/><circle cx="1038.5" cy="179.7" r="2.9"/><circle cx="1039.5" cy="187.8" r="3.6"/><circle cx="1039.2" cy="196.9" r="3.5"/><circle cx="1038.8" cy="205.9" r="3"/><circle cx="1039.7" cy="215.2" r="3.9"/><circle cx="1038.7" cy="223.4" r="3.4"/><circle cx="1038.3" cy="232.3" r="3"/><circle cx="1038.6" cy="239.9" r="3.1"/><circle cx="1038.3" cy="247.1" r="2.9"/><circle cx="1038.7" cy="254.4" r="3.3"/><circle cx="1039" cy="264" r="3.6"/><circle cx="1038.8" cy="271.8" r="3.3"/><circle cx="1039.8" cy="279.1" r="3.9"/><circle cx="1038.8" cy="287.5" r="3.5"/><circle cx="1038.8" cy="294.8" r="3.3"/><circle cx="1041.5" cy="298.2" r="4"/><circle cx="1053.3" cy="300.3" r="4.5"/><circle cx="1063.5" cy="303.5" r="3.7"/><circle cx="1075.4" cy="304.9" r="5.1"/><circle cx="1084.4" cy="307.4" r="4.3"/><circle cx="1095.5" cy="308.7" r="4.6"/><circle cx="1104.8" cy="309.1" r="4.1"/><circle cx="1116.8" cy="308" r="5.1"/><circle cx="1128.1" cy="307.7" r="4.9"/><circle cx="1138.1" cy="308" r="4.3"/></clipPath>
<clipPath id="ax2"><rect x="1037.8" y="96.4" width="234.3" height="213"/></clipPath>
<rect x="1037.8" y="96.4" width="234.3" height="213" fill="none" stroke="#000" stroke-width="1.1"/>
<g clip-path="url(#sw2)"><g filter="url(#bl)" transform="translate(1034.8 93.4)"><path d="M0 0h12v12h-12zM12 0h12v12h-12zM24 0h12v12h-12zM36 0h12v12h-12zM48 0h12v12h-12zM60 0h12v12h-12zM72 0h12v12h-12zM84 0h12v12h-12zM96 0h12v12h-12zM0 12h12v12h-12zM12 12h12v12h-12zM24 12h12v12h-12zM36 12h12v12h-12zM48 12h12v12h-12zM60 12h12v12h-12zM72 12h12v12h-12zM84 12h12v12h-12zM96 12h12v12h-12zM0 24h12v12h-12zM12 24h12v12h-12zM72 24h12v12h-12zM84 24h12v12h-12zM96 24h12v12h-12zM0 36h12v12h-12zM12 36h12v12h-12zM72 36h12v12h-12zM0 48h12v12h-12zM12 48h12v12h-12zM72 48h12v12h-12zM0 60h12v12h-12zM12 60h12v12h-12zM24 60h12v12h-12zM36 60h12v12h-12zM48 60h12v12h-12zM60 60h12v12h-12zM0 72h12v12h-12zM24 72h12v12h-12zM36 72h12v12h-12zM48 72h12v12h-12zM24 84h12v12h-12zM24 96h12v12h-12zM84 168h12v12h-12zM96 168h12v12h-12zM108 168h12v12h-12zM84 180h12v12h-12zM96 180h12v12h-12zM108 180h12v12h-12zM72 192h12v12h-12zM84 192h12v12h-12zM96 192h12v12h-12zM108 192h12v12h-12zM120 192h12v12h-12zM132 192h12v12h-12zM144 192h12v12h-12zM156 192h12v12h-12zM168 192h12v12h-12zM180 192h12v12h-12zM192 192h12v12h-12zM60 204h12v12h-12zM72 204h12v12h-12zM84 204h12v12h-12zM96 204h12v12h-12zM108 204h12v12h-12zM120 204h12v12h-12zM132 204h12v12h-12zM144 204h12v12h-12zM156 204h12v12h-12zM168 204h12v12h-12zM180 204h12v12h-12zM192 204h12v12h-12zM48 216h12v12h-12zM60 216h12v12h-12zM72 216h12v12h-12zM84 216h12v12h-12zM96 216h12v12h-12zM108 216h12v12h-12zM120 216h12v12h-12zM132 216h12v12h-12zM144 216h12v12h-12zM156 216h12v12h-12zM168 216h12v12h-12zM180 216h12v12h-12zM192 216h12v12h-12z" fill="#000ad7" stroke="#000ad7" stroke-width="0.6"/><path d="M108 0h12v12h-12zM96 96h12v12h-12zM108 96h12v12h-12zM120 132h12v12h-12zM108 144h12v12h-12zM72 156h12v12h-12zM12 180h12v12h-12zM24 180h12v12h-12zM36 180h12v12h-12zM48 180h12v12h-12zM60 180h12v12h-12zM12 192h12v12h-12z" fill="#00d2ff" stroke="#00d2ff" stroke-width="0.6"/><path d="M120 0h12v12h-12zM132 0h12v12h-12zM144 0h12v12h-12zM156 0h12v12h-12zM168 0h12v12h-12zM180 0h12v12h-12zM192 0h12v12h-12zM132 12h12v12h-12zM156 12h12v12h-12zM168 12h12v12h-12zM180 12h12v12h-12zM192 12h12v12h-12zM120 24h12v12h-12zM144 24h12v12h-12zM156 24h12v12h-12zM120 36h12v12h-12zM132 48h12v12h-12zM132 60h12v12h-12zM144 60h12v12h-12zM132 96h12v12h-12zM144 96h12v12h-12zM156 96h12v12h-12z" fill="#008cff" stroke="#008cff" stroke-width="0.6"/><path d="M108 12h12v12h-12zM72 60h12v12h-12zM60 72h12v12h-12zM36 96h12v12h-12zM24 108h12v12h-12zM36 108h12v12h-12zM96 108h12v12h-12zM24 120h12v12h-12zM120 120h12v12h-12zM12 132h12v12h-12zM12 144h12v12h-12zM120 144h12v12h-12zM0 156h12v12h-12zM0 192h12v12h-12zM24 192h12v12h-12zM36 192h12v12h-12zM12 204h12v12h-12zM24 204h12v12h-12z" fill="#008cff" stroke="#008cff" stroke-width="0.6"/><path d="M120 12h12v12h-12zM144 12h12v12h-12zM120 48h12v12h-12zM156 72h12v12h-12zM156 84h12v12h-12zM120 96h12v12h-12z" fill="#00d2ff" stroke="#00d2ff" stroke-width="0.6"/><path d="M24 24h12v12h-12zM36 24h12v12h-12zM48 24h12v12h-12zM60 24h12v12h-12zM24 36h12v12h-12zM36 36h12v12h-12zM48 36h12v12h-12zM60 36h12v12h-12zM24 48h12v12h-12zM36 48h12v12h-12zM48 48h12v12h-12zM60 48h12v12h-12zM12 72h12v12h-12zM0 84h12v12h-12zM12 84h12v12h-12zM0 96h12v12h-12zM12 96h12v12h-12z" fill="#0000af" stroke="#0000af" stroke-width="0.6"/><path d="M108 24h12v12h-12zM84 36h12v12h-12zM96 36h12v12h-12zM108 36h12v12h-12zM84 48h12v12h-12zM36 84h12v12h-12zM0 108h12v12h-12zM12 108h12v12h-12zM108 108h12v12h-12zM120 108h12v12h-12zM132 108h12v12h-12zM144 108h12v12h-12zM156 108h12v12h-12zM168 108h12v12h-12zM180 108h12v12h-12zM192 108h12v12h-12zM0 120h12v12h-12zM12 120h12v12h-12zM132 120h12v12h-12zM144 120h12v12h-12zM156 120h12v12h-12zM168 120h12v12h-12zM180 120h12v12h-12zM192 120h12v12h-12zM0 132h12v12h-12zM132 132h12v12h-12zM144 132h12v12h-12zM156 132h12v12h-12zM168 132h12v12h-12zM180 132h12v12h-12zM192 132h12v12h-12zM0 144h12v12h-12zM132 144h12v12h-12zM144 144h12v12h-12zM156 144h12v12h-12zM168 144h12v12h-12zM180 144h12v12h-12zM192 144h12v12h-12zM84 156h12v12h-12zM96 156h12v12h-12zM108 156h12v12h-12zM120 156h12v12h-12zM132 156h12v12h-12zM144 156h12v12h-12zM156 156h12v12h-12zM168 156h12v12h-12zM180 156h12v12h-12zM192 156h12v12h-12zM72 168h12v12h-12zM120 168h12v12h-12zM132 168h12v12h-12zM144 168h12v12h-12zM156 168h12v12h-12zM168 168h12v12h-12zM180 168h12v12h-12zM192 168h12v12h-12zM72 180h12v12h-12zM120 180h12v12h-12zM132 180h12v12h-12zM144 180h12v12h-12zM156 180h12v12h-12zM168 180h12v12h-12zM180 180h12v12h-12zM192 180h12v12h-12zM48 192h12v12h-12zM60 192h12v12h-12zM0 204h12v12h-12zM36 204h12v12h-12zM48 204h12v12h-12zM0 216h12v12h-12zM12 216h12v12h-12zM24 216h12v12h-12zM36 216h12v12h-12z" fill="#003cfa" stroke="#003cfa" stroke-width="0.6"/><path d="M132 24h12v12h-12zM168 24h12v12h-12zM180 24h12v12h-12zM192 24h12v12h-12zM132 36h12v12h-12zM144 36h12v12h-12zM156 36h12v12h-12zM168 36h12v12h-12zM180 36h12v12h-12zM192 36h12v12h-12zM144 48h12v12h-12zM156 48h12v12h-12zM168 48h12v12h-12zM180 48h12v12h-12zM192 48h12v12h-12zM156 60h12v12h-12zM168 60h12v12h-12zM180 60h12v12h-12zM192 60h12v12h-12zM168 72h12v12h-12zM180 72h12v12h-12zM192 72h12v12h-12zM168 84h12v12h-12zM180 84h12v12h-12zM192 84h12v12h-12zM168 96h12v12h-12zM180 96h12v12h-12zM192 96h12v12h-12z" fill="#003cfa" stroke="#003cfa" stroke-width="0.6"/><path d="M96 48h12v12h-12zM120 60h12v12h-12zM144 72h12v12h-12zM48 84h12v12h-12zM72 84h12v12h-12zM84 84h12v12h-12zM144 84h12v12h-12zM72 96h12v12h-12zM84 96h12v12h-12zM36 120h12v12h-12zM60 120h12v12h-12zM96 120h12v12h-12zM108 120h12v12h-12zM84 144h12v12h-12zM96 144h12v12h-12zM12 168h12v12h-12zM24 168h12v12h-12zM36 168h12v12h-12zM60 168h12v12h-12zM0 180h12v12h-12z" fill="#3cffc8" stroke="#3cffc8" stroke-width="0.6"/><path d="M108 48h12v12h-12zM84 72h12v12h-12zM132 72h12v12h-12zM96 84h12v12h-12zM132 84h12v12h-12zM48 96h12v12h-12zM72 108h12v12h-12zM84 108h12v12h-12zM48 120h12v12h-12zM24 132h12v12h-12zM60 132h12v12h-12zM72 132h12v12h-12zM84 132h12v12h-12zM36 144h12v12h-12zM72 144h12v12h-12zM60 156h12v12h-12zM0 168h12v12h-12z" fill="#ffdc00" stroke="#ffdc00" stroke-width="0.6"/><path d="M84 60h12v12h-12zM72 72h12v12h-12zM120 72h12v12h-12zM60 84h12v12h-12zM108 84h12v12h-12zM120 84h12v12h-12zM60 96h12v12h-12zM48 108h12v12h-12zM72 120h12v12h-12zM84 120h12v12h-12zM96 132h12v12h-12zM108 132h12v12h-12zM48 144h12v12h-12zM12 156h12v12h-12zM48 168h12v12h-12z" fill="#b4ff46" stroke="#b4ff46" stroke-width="0.6"/><path d="M96 60h12v12h-12zM108 60h12v12h-12zM108 72h12v12h-12zM60 108h12v12h-12zM48 132h12v12h-12zM24 144h12v12h-12zM60 144h12v12h-12zM24 156h12v12h-12zM36 156h12v12h-12zM48 156h12v12h-12z" fill="#ff7800" stroke="#ff7800" stroke-width="0.6"/><path d="M96 72h12v12h-12zM36 132h12v12h-12z" fill="#eb1400" stroke="#eb1400" stroke-width="0.6"/></g><g fill="none" stroke-width="3.6" stroke-linecap="round" transform="translate(1034 93)"><path d="M112 7l4 2M142 9l4 2M159 10l4 2M158 14l4 2M114 17l4 2M148 16l4 2M122 20l4 2M128 25l4 2M159 31l4 2M114 43l4 2M118 44l4 2M75 68l4 2M73 73l4 2M68 76l4 2M49 86l4 2M115 104l4 2M124 105l4 2M43 117l4 2M39 122l4 2M117 150l4 2M90 156l4 2M44 175l4 2M48 185l4 2M68 185l4 2M23 196l4 2M27 197l4 2M20 205l4 2" stroke="#00baff"/><path d="M102 78l4 2M62 107l4 2" stroke="#ff5200"/><path d="M92 -1l4 2M74 -1l4 2M90 -1l4 2M99 1l4 2M11 6l4 2M51 7l4 2M77 4l4 2M93 14l4 2M28 16l4 2M47 17l4 2M18 23l4 2M69 23l4 2M93 22l4 2M96 21l4 2M17 28l4 2M24 29l4 2M4 31l4 2M22 30l4 2M101 30l4 2M105 30l4 2M79 32l4 2M7 37l4 2M8 38l4 2M79 37l4 2M79 42l4 2M2 54l4 2M29 59l4 2M49 66l4 2M16 68l4 2M28 69l4 2M38 69l4 2M47 70l4 2M58 70l4 2M49 73l4 2M35 77l4 2M51 78l4 2M56 77l4 2M36 80l4 2M39 79l4 2M29 91l4 2M39 92l4 2M22 104l4 2M96 169l4 2M103 168l4 2M117 173l4 2M101 178l4 2M103 180l4 2M102 182l4 2M86 185l4 2M103 186l4 2M104 188l4 2M118 187l4 2M91 191l4 2M82 194l4 2M97 194l4 2M76 199l4 2M76 201l4 2M116 201l4 2M90 205l4 2M80 207l4 2M108 208l4 2M66 217l4 2" stroke="#0000e8"/><path d="M172 3l4 2M161 9l4 2M126 12l4 2M130 13l4 2M152 13l4 2M155 18l4 2M122 21l4 2M131 50l4 2M90 55l4 2M136 58l4 2M82 73l4 2M150 95l4 2M155 96l4 2M117 102l4 2M136 101l4 2M143 101l4 2M113 102l4 2M117 106l4 2M35 115l4 2M39 121l4 2M31 124l4 2M129 137l4 2M128 138l4 2M120 145l4 2M16 154l4 2M111 154l4 2M98 156l4 2M104 156l4 2M10 165l4 2M35 188l4 2M38 194l4 2M44 196l4 2M19 198l4 2M59 98l4 2" stroke="#00baff"/><path d="M71 82l4 2M127 91l4 2M52 112l4 2M54 112l4 2M96 118l4 2M82 124l4 2M3 166l4 2M7 179l4 2" stroke="#72ff8d"/><path d="M134 6l4 2M185 10l4 2M161 17l4 2M137 28l4 2M139 28l4 2M172 26l4 2M132 32l4 2M143 33l4 2M133 44l4 2M138 47l4 2M142 47l4 2M137 48l4 2M157 65l4 2M72 68l4 2M160 69l4 2M71 69l4 2M161 70l4 2M162 71l4 2M139 101l4 2M121 110l4 2M123 113l4 2M20 114l4 2M133 114l4 2M134 118l4 2M143 122l4 2M7 128l4 2M133 143l4 2M109 159l4 2M122 159l4 2M77 169l4 2M79 168l4 2M28 180l4 2M63 196l4 2M29 208l4 2" stroke="#006cff"/><path d="M18 3l4 2M68 14l4 2M105 21l4 2M85 26l4 2M90 28l4 2M84 34l4 2M90 34l4 2M4 37l4 2M87 35l4 2M96 37l4 2M80 48l4 2M82 48l4 2M75 58l4 2M3 58l4 2M9 62l4 2M5 65l4 2M34 64l4 2M49 70l4 2M54 72l4 2M38 74l4 2M39 82l4 2M45 81l4 2M30 93l4 2M32 96l4 2M26 104l4 2M1 108l4 2M124 169l4 2M87 175l4 2M44 181l4 2M122 180l4 2M112 184l4 2M81 187l4 2M86 191l4 2M103 190l4 2M85 193l4 2M87 194l4 2M65 205l4 2M61 209l4 2M98 209l4 2M57 216l4 2M59 214l4 2M90 215l4 2" stroke="#0003ff"/><path d="M119 61l4 2M81 81l4 2M83 81l4 2M97 83l4 2M66 121l4 2M110 124l4 2M78 127l4 2M30 167l4 2M63 172l4 2M70 143l4 2M72 145l4 2" stroke="#dbff24"/><path d="M139 17l4 2M113 20l4 2M111 22l4 2M144 28l4 2M162 28l4 2M159 35l4 2M111 42l4 2M118 41l4 2M160 46l4 2M173 45l4 2M102 53l4 2M152 65l4 2M61 77l4 2M38 106l4 2M139 106l4 2M147 107l4 2M150 105l4 2M109 109l4 2M134 112l4 2M136 113l4 2M115 116l4 2M141 121l4 2M126 124l4 2M5 130l4 2M10 133l4 2M5 140l4 2M135 139l4 2M12 142l4 2M129 155l4 2M110 162l4 2M80 167l4 2M78 170l4 2M73 182l4 2M47 194l4 2M6 200l4 2M34 202l4 2M3 203l4 2M11 209l4 2M26 212l4 2M29 212l4 2" stroke="#006cff"/><path d="M36 24l4 2M34 29l4 2M45 37l4 2M59 38l4 2M45 40l4 2M56 46l4 2M62 49l4 2M32 50l4 2M25 75l4 2M18 90l4 2M21 97l4 2M23 97l4 2M17 104l4 2" stroke="#00009a"/><path d="M111 49l4 2M83 78l4 2M131 96l4 2M46 103l4 2M28 169l4 2M63 137l4 2" stroke="#8dff72"/><path d="M111 62l4 2M89 72l4 2M57 132l4 2M46 139l4 2M60 147l4 2M56 162l4 2M117 70l4 2M85 105l4 2M67 119l4 2" stroke="#ff6c00"/><path d="M101 151l4 2M46 129l4 2M24 144l4 2M81 144l4 2M56 152l4 2M46 159l4 2" stroke="#8dff72"/><path d="M194 -1l4 2M124 3l4 2M129 3l4 2M153 3l4 2M149 6l4 2M152 7l4 2M139 10l4 2M170 14l4 2M135 16l4 2M140 18l4 2M164 17l4 2M141 19l4 2M115 23l4 2M139 23l4 2M163 22l4 2M183 25l4 2M133 26l4 2M150 60l4 2M136 62l4 2M154 61l4 2M79 66l4 2M142 66l4 2M80 67l4 2M152 67l4 2M125 99l4 2M118 118l4 2M29 120l4 2M133 126l4 2M132 127l4 2M10 131l4 2M19 133l4 2M10 138l4 2M17 144l4 2M124 145l4 2M16 149l4 2M70 189l4 2M46 197l4 2M2 200l4 2M8 206l4 2M26 205l4 2M29 207l4 2M32 207l4 2" stroke="#0086ff"/><path d="M26 36l4 2M31 36l4 2M55 37l4 2M58 37l4 2M32 40l4 2M60 46l4 2M28 50l4 2M45 51l4 2M50 55l4 2M37 58l4 2M24 74l4 2M1 100l4 2" stroke="#00009a"/><path d="M74 75l4 2M133 97l4 2M61 121l4 2M70 128l4 2M106 133l4 2M39 178l4 2M52 178l4 2M9 181l4 2M53 182l4 2M81 97l4 2" stroke="#58ffa7"/><path d="M141 4l4 2M142 6l4 2M146 8l4 2M160 8l4 2M155 12l4 2M118 13l4 2M185 14l4 2M153 97l4 2M41 104l4 2M125 136l4 2M128 142l4 2M123 147l4 2M13 154l4 2M20 162l4 2M15 168l4 2M75 172l4 2M33 186l4 2M70 186l4 2M58 189l4 2M12 199l4 2M30 204l4 2" stroke="#00baff"/><path d="M37 42l4 2M26 50l4 2M30 51l4 2" stroke="#000080"/><path d="M40 28l4 2M60 28l4 2M48 29l4 2M53 41l4 2M36 43l4 2M57 43l4 2M60 44l4 2M63 43l4 2M37 46l4 2M53 46l4 2M23 48l4 2M44 49l4 2M17 91l4 2M7 94l4 2M-0 102l4 2M107 195l4 2" stroke="#00009a"/><path d="M110 0l4 2M156 9l4 2M165 11l4 2M127 16l4 2M134 18l4 2M135 19l4 2M119 24l4 2M148 24l4 2M151 24l4 2M122 28l4 2M128 26l4 2M109 45l4 2M125 45l4 2M120 45l4 2M127 47l4 2M129 48l4 2M156 83l4 2M141 96l4 2M104 105l4 2M111 118l4 2M109 120l4 2M28 121l4 2M15 141l4 2M18 142l4 2M125 151l4 2M97 155l4 2M110 154l4 2M73 179l4 2M22 186l4 2M29 197l4 2M15 202l4 2" stroke="#00baff"/><path d="M115 46l4 2M117 47l4 2M122 60l4 2M130 65l4 2M126 68l4 2M48 171l4 2M60 179l4 2M66 181l4 2M34 181l4 2M53 137l4 2M70 93l4 2M84 94l4 2M73 103l4 2M94 101l4 2" stroke="#24ffdb"/><path d="M111 133l4 2" stroke="#ff5200"/><path d="M124 64l4 2M78 83l4 2M90 84l4 2M113 92l4 2M90 122l4 2M117 127l4 2M86 128l4 2M82 132l4 2M12 186l4 2M57 145l4 2" stroke="#8dff72"/><path d="M83 1l4 2M33 4l4 2M16 7l4 2M91 7l4 2M94 9l4 2M28 11l4 2M98 14l4 2M11 22l4 2M88 21l4 2M61 25l4 2M47 28l4 2M48 33l4 2M66 33l4 2M33 37l4 2M43 36l4 2M24 38l4 2M42 37l4 2M54 43l4 2M56 50l4 2M32 57l4 2M20 74l4 2M9 80l4 2M10 81l4 2M18 83l4 2M14 83l4 2M14 86l4 2M16 87l4 2M3 92l4 2M13 96l4 2M6 97l4 2M4 102l4 2M92 179l4 2M109 194l4 2M94 210l4 2M92 213l4 2M78 217l4 2M84 218l4 2M86 216l4 2" stroke="#0000b4"/><path d="M94 76l4 2M112 124l4 2M63 173l4 2M73 107l4 2M142 78l4 2" stroke="#dbff24"/><path d="M27 146l4 2M69 161l4 2M70 167l4 2M119 69l4 2M125 77l4 2M77 86l4 2M82 102l4 2M62 111l4 2" stroke="#ff3800"/><path d="M127 74l4 2M87 80l4 2M101 90l4 2M147 91l4 2M123 94l4 2M39 125l4 2M52 128l4 2M6 178l4 2" stroke="#c1ff3e"/><path d="M111 61l4 2M84 141l4 2M73 164l4 2M72 105l4 2M57 112l4 2M129 88l4 2" stroke="#ffa000"/><path d="M94 -1l4 2M12 3l4 2M52 4l4 2M31 6l4 2M43 6l4 2M39 8l4 2M76 8l4 2M40 11l4 2M73 14l4 2M13 17l4 2M24 16l4 2M59 15l4 2M98 15l4 2M26 19l4 2M37 19l4 2M66 20l4 2M75 18l4 2M79 18l4 2M19 20l4 2M22 21l4 2M26 21l4 2M84 22l4 2M27 24l4 2M62 25l4 2M82 27l4 2M7 30l4 2M72 30l4 2M24 31l4 2M37 32l4 2M64 34l4 2M62 35l4 2M21 39l4 2M5 40l4 2M-0 43l4 2M14 44l4 2M34 49l4 2M6 53l4 2M19 54l4 2M60 54l4 2M71 55l4 2M13 58l4 2M25 57l4 2M42 59l4 2M46 59l4 2M65 61l4 2M54 61l4 2M-1 66l4 2M13 67l4 2M6 72l4 2M23 70l4 2M20 75l4 2M41 73l4 2M9 78l4 2M14 78l4 2M28 83l4 2M16 96l4 2M116 189l4 2M95 189l4 2M83 196l4 2M81 201l4 2M89 210l4 2M108 215l4 2M102 217l4 2" stroke="#0000ce"/><path d="M63 2l4 2M103 2l4 2M68 3l4 2M18 5l4 2M22 11l4 2M95 18l4 2M21 28l4 2M109 29l4 2M72 33l4 2M94 36l4 2M68 58l4 2M8 67l4 2M39 66l4 2M53 66l4 2M40 86l4 2M32 93l4 2M35 95l4 2M36 97l4 2M23 106l4 2M106 167l4 2M117 180l4 2M110 183l4 2M94 192l4 2M115 196l4 2M69 201l4 2M74 210l4 2M100 210l4 2" stroke="#0003ff"/><path d="M85 85l4 2M22 161l4 2M74 151l4 2M53 151l4 2M67 111l4 2M76 119l4 2" stroke="#dbff24"/><path d="M101 132l4 2M112 141l4 2M33 182l4 2M4 185l4 2M17 188l4 2M37 187l4 2M20 192l4 2M58 156l4 2M62 95l4 2M94 97l4 2" stroke="#24ffdb"/><path d="M39 2l4 2M99 4l4 2M41 6l4 2M86 5l4 2M12 11l4 2M41 18l4 2M91 15l4 2M5 21l4 2M43 22l4 2M71 28l4 2M28 29l4 2M45 29l4 2M53 29l4 2M55 30l4 2M37 39l4 2M24 39l4 2M42 44l4 2M26 46l4 2M29 47l4 2M62 46l4 2M65 48l4 2M3 49l4 2M65 49l4 2M40 52l4 2M72 51l4 2M59 56l4 2M51 57l4 2M35 59l4 2M31 69l4 2M-1 91l4 2M11 92l4 2M14 93l4 2M16 92l4 2M2 97l4 2M8 100l4 2M106 176l4 2M111 186l4 2M114 188l4 2M90 195l4 2M90 211l4 2" stroke="#0000b4"/><path d="M128 57l4 2M100 102l4 2M39 117l4 2M100 118l4 2M94 151l4 2M19 163l4 2M38 169l4 2M16 173l4 2M22 182l4 2M53 186l4 2M64 92l4 2" stroke="#00efff"/><path d="M118 65l4 2M64 121l4 2M85 140l4 2M1 175l4 2M26 135l4 2M77 136l4 2" stroke="#ffd500"/><path d="M115 57l4 2M99 72l4 2M112 98l4 2M107 133l4 2M69 172l4 2M28 174l4 2M19 146l4 2M26 151l4 2M32 155l4 2M79 156l4 2M49 163l4 2" stroke="#8dff72"/><path d="M25 150l4 2M47 152l4 2M121 84l4 2M72 85l4 2M69 87l4 2M97 103l4 2M85 106l4 2M77 120l4 2M130 85l4 2" stroke="#e80000"/><path d="M80 1l4 2M49 4l4 2M97 4l4 2M9 12l4 2M31 16l4 2M39 17l4 2M43 26l4 2M55 28l4 2M63 26l4 2M68 29l4 2M77 30l4 2M9 42l4 2M42 41l4 2M48 40l4 2M31 48l4 2M49 45l4 2M50 51l4 2M77 54l4 2M18 58l4 2M57 56l4 2M24 77l4 2M12 83l4 2M26 82l4 2M1 87l4 2M1 93l4 2M1 94l4 2M4 96l4 2M10 98l4 2M20 98l4 2M4 102l4 2M20 100l4 2M101 173l4 2M94 181l4 2M79 216l4 2" stroke="#0000b4"/><path d="M104 52l4 2M69 79l4 2M153 93l4 2M48 119l4 2M93 122l4 2M96 128l4 2M24 167l4 2M32 180l4 2M56 185l4 2M23 194l4 2M37 149l4 2M74 87l4 2M88 90l4 2M138 84l4 2" stroke="#24ffdb"/><path d="M56 146l4 2M79 155l4 2M115 68l4 2M122 76l4 2M60 86l4 2M134 88l4 2" stroke="#ff8600"/><path d="M113 51l4 2M111 58l4 2M101 84l4 2M107 131l4 2M108 141l4 2M52 170l4 2M66 128l4 2M39 131l4 2M21 144l4 2M87 149l4 2M54 88l4 2" stroke="#ffef00"/><path d="M89 147l4 2M57 170l4 2M28 133l4 2M79 153l4 2M93 94l4 2M66 97l4 2M148 68l4 2" stroke="#ff3800"/><path d="M87 144l4 2" stroke="#b40000"/><path d="M106 -1l4 2M107 12l4 2M108 19l4 2M172 33l4 2M117 36l4 2M171 36l4 2M171 37l4 2M149 48l4 2M91 49l4 2M169 55l4 2M155 57l4 2M73 63l4 2M4 112l4 2M13 113l4 2M139 117l4 2M147 119l4 2M10 120l4 2M144 119l4 2M137 122l4 2M7 126l4 2M9 124l4 2M143 125l4 2M11 128l4 2M4 132l4 2M143 130l4 2M136 146l4 2M7 148l4 2M115 160l4 2M113 165l4 2M72 194l4 2M49 208l4 2M47 212l4 2M48 217l4 2" stroke="#0038ff"/><path d="M28 138l4 2M80 150l4 2M123 71l4 2M87 99l4 2" stroke="#e80000"/><path d="M114 31l4 2M113 33l4 2M139 36l4 2M91 38l4 2M111 38l4 2M105 42l4 2M154 42l4 2M170 41l4 2M94 42l4 2M163 43l4 2M152 48l4 2M83 53l4 2M149 51l4 2M169 56l4 2M160 61l4 2M74 64l4 2M165 65l4 2M32 103l4 2M22 111l4 2M114 112l4 2M143 112l4 2M12 121l4 2M1 122l4 2M6 123l4 2M14 122l4 2M23 128l4 2M142 131l4 2M3 143l4 2M138 143l4 2M133 148l4 2M103 162l4 2M84 166l4 2M85 166l4 2M81 179l4 2M82 182l4 2M54 208l4 2M34 214l4 2M46 215l4 2" stroke="#0038ff"/><path d="M83 137l4 2" stroke="#ce0000"/><path d="M109 53l4 2M149 75l4 2M91 77l4 2M87 82l4 2M85 124l4 2M73 128l4 2M89 129l4 2M96 135l4 2M66 137l4 2M62 87l4 2M136 67l4 2" stroke="#58ffa7"/><path d="M67 -0l4 2M5 4l4 2M31 4l4 2M80 2l4 2M90 2l4 2M93 2l4 2M-1 5l4 2M3 4l4 2M38 6l4 2M54 7l4 2M37 9l4 2M57 8l4 2M42 11l4 2M61 11l4 2M85 11l4 2M23 16l4 2M71 18l4 2M20 20l4 2M62 19l4 2M7 23l4 2M64 22l4 2M80 21l4 2M-1 24l4 2M22 24l4 2M91 25l4 2M10 29l4 2M29 33l4 2M1 37l4 2M14 40l4 2M74 42l4 2M77 44l4 2M76 50l4 2M-0 52l4 2M38 53l4 2M71 56l4 2M23 61l4 2M37 61l4 2M23 62l4 2M13 66l4 2M20 67l4 2M31 69l4 2M2 75l4 2M33 72l4 2M54 74l4 2M8 77l4 2M12 78l4 2M7 78l4 2M22 82l4 2M35 82l4 2M1 83l4 2M31 85l4 2M11 87l4 2M24 91l4 2M36 90l4 2M23 91l4 2M7 96l4 2M26 94l4 2M95 182l4 2M92 188l4 2M93 196l4 2M81 198l4 2M86 199l4 2M84 202l4 2M110 201l4 2M109 203l4 2M98 206l4 2M107 213l4 2M67 215l4 2M101 216l4 2M100 216l4 2M105 219l4 2" stroke="#0000ce"/><path d="M100 58l4 2M126 61l4 2M100 87l4 2M60 119l4 2M113 140l4 2M29 164l4 2M24 174l4 2M33 175l4 2M86 145l4 2" stroke="#a7ff58"/><path d="M123 55l4 2M59 116l4 2M109 145l4 2" stroke="#58ffa7"/><path d="M98 78l4 2M52 128l4 2M55 130l4 2M43 134l4 2M40 142l4 2M41 145l4 2M32 146l4 2M40 148l4 2M48 148l4 2M77 159l4 2M66 163l4 2M118 67l4 2M116 73l4 2M107 79l4 2M115 77l4 2M122 84l4 2M76 89l4 2M70 91l4 2M65 98l4 2M79 99l4 2M69 111l4 2M137 83l4 2M8 158l4 2" stroke="#ff1d00"/><path d="M91 85l4 2M91 150l4 2M76 145l4 2M70 146l4 2M74 158l4 2M67 93l4 2M75 105l4 2" stroke="#58ffa7"/><path d="M92 78l4 2M40 129l4 2M95 139l4 2M57 176l4 2M37 133l4 2M31 151l4 2" stroke="#dbff24"/><path d="M25 168l4 2M48 145l4 2M87 146l4 2M24 148l4 2M70 158l4 2M56 100l4 2" stroke="#3effc1"/><path d="M131 17l4 2M118 18l4 2M148 19l4 2M152 20l4 2M95 55l4 2M83 61l4 2M157 86l4 2M159 83l4 2M153 86l4 2M144 97l4 2M103 118l4 2M43 124l4 2M123 127l4 2M125 133l4 2M20 138l4 2M114 145l4 2M120 147l4 2M112 149l4 2M17 154l4 2M70 176l4 2M45 176l4 2M65 183l4 2M22 191l4 2M9 193l4 2M19 196l4 2M80 123l4 2" stroke="#00d4ff"/><path d="M7 170l4 2M60 173l4 2M74 138l4 2M107 72l4 2M90 95l4 2M2 155l4 2" stroke="#ffa000"/><path d="M38 136l4 2M36 142l4 2M104 74l4 2M122 86l4 2M69 105l4 2" stroke="#ff3800"/><path d="M39 176l4 2" stroke="#ff5200"/><path d="M117 -1l4 2M153 15l4 2M131 57l4 2M83 64l4 2M159 76l4 2M110 95l4 2M137 99l4 2M143 97l4 2M124 99l4 2M105 107l4 2M48 117l4 2M115 121l4 2M27 128l4 2M106 155l4 2M72 173l4 2M70 176l4 2M65 179l4 2M26 182l4 2M25 185l4 2M66 185l4 2M27 187l4 2M27 189l4 2M41 191l4 2M42 196l4 2M17 209l4 2M89 105l4 2M71 115l4 2M81 118l4 2" stroke="#00d4ff"/><path d="M121 64l4 2M102 92l4 2M83 133l4 2M31 170l4 2M25 171l4 2" stroke="#c1ff3e"/><path d="M70 4l4 2M90 5l4 2M5 11l4 2M65 13l4 2M76 25l4 2M87 26l4 2M2 32l4 2M15 33l4 2M100 37l4 2M27 105l4 2M100 181l4 2M71 206l4 2M69 219l4 2M94 218l4 2" stroke="#0003ff"/><path d="M17 5l4 2M47 6l4 2M64 12l4 2M67 12l4 2M102 11l4 2M92 18l4 2M104 23l4 2M20 28l4 2M93 32l4 2M95 32l4 2M80 37l4 2M84 34l4 2M98 36l4 2M101 36l4 2M80 43l4 2M82 44l4 2M19 52l4 2M9 56l4 2M8 60l4 2M68 66l4 2M35 85l4 2M37 85l4 2M17 129l4 2M119 183l4 2M61 207l4 2M63 207l4 2M61 213l4 2M72 213l4 2M55 219l4 2" stroke="#0003ff"/><path d="M89 138l4 2M67 147l4 2M10 159l4 2" stroke="#ff5200"/><path d="M118 92l4 2M64 126l4 2M34 165l4 2M2 174l4 2" stroke="#ffd500"/><path d="M103 64l4 2M82 138l4 2M79 146l4 2M40 151l4 2M83 149l4 2M43 159l4 2M41 164l4 2M107 74l4 2M116 74l4 2M114 82l4 2M74 86l4 2M91 88l4 2M78 98l4 2M80 106l4 2M86 115l4 2M91 116l4 2M143 75l4 2" stroke="#ff0300"/><path d="M32 -1l4 2M11 2l4 2M22 7l4 2M25 6l4 2M57 5l4 2M73 6l4 2M2 8l4 2M63 9l4 2M49 10l4 2M58 10l4 2M87 11l4 2M55 14l4 2M68 16l4 2M96 16l4 2M16 18l4 2M99 20l4 2M98 23l4 2M101 24l4 2M1 29l4 2M75 32l4 2M22 35l4 2M73 35l4 2M15 42l4 2M4 43l4 2M13 52l4 2M6 53l4 2M11 60l4 2M12 60l4 2M21 63l4 2M31 64l4 2M60 68l4 2M50 72l4 2M56 74l4 2M41 77l4 2M34 79l4 2M2 83l4 2M31 101l4 2M5 106l4 2M8 105l4 2M99 170l4 2M111 169l4 2M94 176l4 2M109 173l4 2M99 177l4 2M109 179l4 2M97 185l4 2M106 185l4 2M86 189l4 2M96 189l4 2M105 189l4 2M105 190l4 2M116 194l4 2M80 195l4 2M86 196l4 2M101 196l4 2M104 197l4 2M105 200l4 2M78 204l4 2M103 203l4 2M66 210l4 2M95 213l4 2M101 212l4 2M61 217l4 2M74 219l4 2" stroke="#0000e8"/><path d="M125 56l4 2M149 72l4 2M149 72l4 2M126 95l4 2M114 100l4 2M55 115l4 2M37 127l4 2M85 136l4 2M56 177l4 2M12 183l4 2M17 192l4 2M66 135l4 2M42 165l4 2M132 88l4 2" stroke="#24ffdb"/><path d="M95 119l4 2M106 137l4 2M95 141l4 2M26 165l4 2M52 172l4 2M46 174l4 2M28 154l4 2" stroke="#c1ff3e"/><path d="M61 135l4 2M58 142l4 2M60 143l4 2M44 145l4 2M53 145l4 2M83 88l4 2M141 86l4 2" stroke="#ff1d00"/><path d="M119 11l4 2M126 12l4 2M149 14l4 2M149 18l4 2M124 25l4 2M130 51l4 2M133 54l4 2M104 56l4 2M132 61l4 2M76 79l4 2M65 83l4 2M134 100l4 2M125 103l4 2M44 105l4 2M100 107l4 2M100 111l4 2M44 113l4 2M98 116l4 2M103 120l4 2M35 122l4 2M43 123l4 2M124 125l4 2M127 132l4 2M118 148l4 2M119 149l4 2M125 150l4 2M15 155l4 2M103 155l4 2M4 164l4 2M10 180l4 2M65 188l4 2M91 106l4 2M77 113l4 2M90 113l4 2" stroke="#00d4ff"/><path d="M122 53l4 2M109 54l4 2M118 59l4 2M85 67l4 2M85 73l4 2M145 91l4 2M52 106l4 2M46 169l4 2M30 172l4 2" stroke="#72ff8d"/><path d="M53 39l4 2M64 52l4 2" stroke="#000080"/><path d="M93 66l4 2M110 91l4 2M5 169l4 2M49 131l4 2M33 143l4 2M42 149l4 2M72 161l4 2M48 163l4 2M74 85l4 2M93 106l4 2M81 112l4 2M89 116l4 2M142 66l4 2M138 75l4 2M140 77l4 2" stroke="#f5ff0a"/><path d="M142 0l4 2M156 0l4 2M192 7l4 2M169 16l4 2M140 20l4 2M165 19l4 2M173 22l4 2M185 21l4 2M157 28l4 2M121 31l4 2M161 36l4 2M171 44l4 2M151 63l4 2M57 82l4 2M150 101l4 2M126 110l4 2M131 109l4 2M102 115l4 2M104 116l4 2M138 114l4 2M32 120l4 2M131 122l4 2M133 135l4 2M126 147l4 2M-0 159l4 2M88 159l4 2M53 192l4 2M61 192l4 2M63 191l4 2M12 205l4 2M42 205l4 2M11 206l4 2M23 208l4 2" stroke="#0086ff"/><path d="M123 11l4 2M125 16l4 2M150 21l4 2M153 22l4 2M124 47l4 2M133 57l4 2M90 59l4 2M91 61l4 2M134 64l4 2M156 91l4 2M112 95l4 2M118 96l4 2M112 120l4 2M59 126l4 2M87 156l4 2M17 172l4 2M30 183l4 2M67 182l4 2M27 185l4 2M32 185l4 2M45 188l4 2M15 205l4 2" stroke="#00d4ff"/><path d="M149 22l4 2M94 56l4 2M64 78l4 2M153 83l4 2M154 88l4 2M45 115l4 2M122 124l4 2M22 133l4 2M119 135l4 2M17 161l4 2M20 183l4 2M49 182l4 2M17 185l4 2M32 188l4 2M8 192l4 2M45 190l4 2M26 192l4 2M18 202l4 2M18 207l4 2" stroke="#00d4ff"/><path d="M165 30l4 2M176 31l4 2M168 38l4 2M134 40l4 2M175 41l4 2M137 43l4 2M89 50l4 2M155 50l4 2M101 53l4 2M151 54l4 2M82 57l4 2M168 59l4 2M162 68l4 2M59 79l4 2M43 90l4 2M40 96l4 2M35 103l4 2M114 110l4 2M14 114l4 2M10 123l4 2M138 129l4 2M136 132l4 2M7 140l4 2M0 149l4 2M134 151l4 2M100 161l4 2M106 161l4 2M123 161l4 2M61 198l4 2M38 208l4 2M57 209l4 2M32 213l4 2M33 213l4 2" stroke="#0052ff"/><path d="M107 64l4 2M98 75l4 2M58 123l4 2M33 165l4 2M65 158l4 2M47 165l4 2M58 103l4 2M67 114l4 2M74 117l4 2M148 80l4 2M7 160l4 2" stroke="#ffa000"/><path d="M129 84l4 2" stroke="#ff6c00"/><path d="M177 -1l4 2M192 0l4 2M109 2l4 2M138 6l4 2M169 7l4 2M189 7l4 2M171 8l4 2M177 9l4 2M177 15l4 2M181 18l4 2M141 23l4 2M186 20l4 2M114 24l4 2M160 25l4 2M137 61l4 2M141 63l4 2M149 67l4 2M35 110l4 2M34 118l4 2M98 123l4 2M26 126l4 2M132 135l4 2M121 157l4 2M4 198l4 2M10 202l4 2M28 202l4 2" stroke="#0086ff"/><path d="M58 149l4 2M66 154l4 2" stroke="#ffd500"/><path d="M104 -1l4 2M85 41l4 2M68 68l4 2M28 80l4 2M36 88l4 2M36 92l4 2M-0 107l4 2M19 111l4 2M-1 113l4 2M144 115l4 2M138 124l4 2M98 164l4 2M97 166l4 2M98 167l4 2M101 165l4 2M125 170l4 2M79 191l4 2" stroke="#001dff"/><path d="M105 48l4 2M86 61l4 2M72 76l4 2M150 87l4 2M98 91l4 2M55 116l4 2M102 129l4 2M102 140l4 2M94 143l4 2M42 187l4 2M71 147l4 2M79 114l4 2" stroke="#0afff5"/><path d="M135 0l4 2M164 -1l4 2M181 1l4 2M163 6l4 2M118 7l4 2M186 8l4 2M116 12l4 2M144 12l4 2M168 11l4 2M174 13l4 2M158 15l4 2M184 17l4 2M131 21l4 2M131 21l4 2M159 20l4 2M125 41l4 2M99 47l4 2M101 47l4 2M134 52l4 2M99 54l4 2M90 57l4 2M81 61l4 2M141 59l4 2M140 96l4 2M43 100l4 2M41 107l4 2M102 109l4 2M127 127l4 2M114 152l4 2M123 152l4 2M41 181l4 2M55 192l4 2M36 197l4 2M39 197l4 2M21 201l4 2M26 202l4 2M35 201l4 2" stroke="#00a0ff"/><path d="M98 66l4 2M121 91l4 2M67 140l4 2M77 151l4 2M23 156l4 2M74 154l4 2M57 166l4 2M62 100l4 2M53 104l4 2M76 103l4 2M83 109l4 2M88 109l4 2M57 111l4 2M131 71l4 2M10 153l4 2" stroke="#ff8600"/><path d="M64 132l4 2M52 142l4 2M83 92l4 2M77 113l4 2M86 120l4 2M137 78l4 2M11 152l4 2" stroke="#e80000"/><path d="M98 62l4 2M23 140l4 2M31 144l4 2M37 154l4 2M41 156l4 2M47 159l4 2M83 162l4 2M64 166l4 2M68 166l4 2M105 69l4 2M123 69l4 2M110 79l4 2M105 82l4 2M70 89l4 2M84 115l4 2" stroke="#ff1d00"/><path d="M107 4l4 2M113 10l4 2M108 16l4 2M110 17l4 2M171 19l4 2M173 23l4 2M180 24l4 2M167 28l4 2M120 31l4 2M156 33l4 2M170 44l4 2M88 55l4 2M138 55l4 2M139 57l4 2M143 56l4 2M150 58l4 2M166 67l4 2M75 73l4 2M142 105l4 2M28 113l4 2M105 112l4 2M125 113l4 2M138 110l4 2M24 117l4 2M21 121l4 2M131 129l4 2M13 135l4 2M16 139l4 2M133 143l4 2M129 149l4 2M49 194l4 2M30 199l4 2M23 210l4 2M39 215l4 2" stroke="#006cff"/><path d="M128 64l4 2M125 90l4 2M54 118l4 2M57 120l4 2M109 122l4 2M80 131l4 2M100 133l4 2M94 146l4 2M12 171l4 2M55 181l4 2M71 167l4 2M89 97l4 2M57 110l4 2M139 83l4 2M139 90l4 2" stroke="#3effc1"/><path d="M91 68l4 2M98 120l4 2M116 126l4 2M78 128l4 2M105 150l4 2M50 176l4 2M63 178l4 2M77 143l4 2M57 148l4 2M47 155l4 2M38 162l4 2" stroke="#a7ff58"/><path d="M81 128l4 2M35 165l4 2M65 129l4 2M39 139l4 2M112 66l4 2M120 68l4 2M113 80l4 2M79 112l4 2M143 68l4 2" stroke="#ff6c00"/><path d="M81 154l4 2M66 85l4 2" stroke="#ff3800"/><path d="M32 140l4 2M115 79l4 2M119 85l4 2M112 88l4 2M92 108l4 2M134 71l4 2M134 74l4 2" stroke="#ffa000"/><path d="M37 1l4 2M91 -1l4 2M59 3l4 2M8 5l4 2M60 4l4 2M7 8l4 2M12 9l4 2M82 9l4 2M86 8l4 2M38 15l4 2M59 17l4 2M11 19l4 2M31 18l4 2M32 19l4 2M40 20l4 2M49 19l4 2M89 20l4 2M14 21l4 2M49 23l4 2M1 26l4 2M6 24l4 2M10 24l4 2M33 24l4 2M40 24l4 2M12 27l4 2M56 28l4 2M20 31l4 2M8 32l4 2M26 44l4 2M48 45l4 2M18 46l4 2M49 46l4 2M15 51l4 2M25 52l4 2M12 56l4 2M25 53l4 2M47 55l4 2M80 53l4 2M66 56l4 2M47 61l4 2M59 58l4 2M41 63l4 2M57 62l4 2M69 63l4 2M59 67l4 2M24 72l4 2M8 72l4 2M48 74l4 2M22 85l4 2M24 100l4 2M8 103l4 2M102 173l4 2M90 176l4 2M97 174l4 2M107 183l4 2M109 189l4 2M78 198l4 2M100 201l4 2M107 204l4 2M68 208l4 2M77 206l4 2M95 206l4 2M71 210l4 2M80 210l4 2M104 208l4 2M70 215l4 2M92 215l4 2M64 218l4 2" stroke="#0000ce"/><path d="M95 58l4 2M96 59l4 2M125 59l4 2M84 68l4 2M156 79l4 2M93 86l4 2M114 91l4 2M99 136l4 2M43 132l4 2M62 149l4 2M51 152l4 2M61 154l4 2M46 157l4 2M71 163l4 2M81 86l4 2M67 110l4 2" stroke="#3effc1"/><path d="M10 -1l4 2M41 -0l4 2M0 3l4 2M4 3l4 2M28 3l4 2M64 5l4 2M31 9l4 2M59 7l4 2M24 11l4 2M75 12l4 2M79 12l4 2M81 12l4 2M74 14l4 2M100 12l4 2M16 15l4 2M34 17l4 2M101 15l4 2M8 20l4 2M45 18l4 2M71 19l4 2M2 21l4 2M5 22l4 2M36 22l4 2M56 22l4 2M74 21l4 2M55 26l4 2M68 25l4 2M75 30l4 2M73 36l4 2M66 37l4 2M74 37l4 2M69 41l4 2M45 44l4 2M12 48l4 2M5 52l4 2M37 52l4 2M67 55l4 2M23 56l4 2M28 58l4 2M61 56l4 2M27 61l4 2M62 61l4 2M3 72l4 2M1 80l4 2M41 81l4 2M95 173l4 2M96 176l4 2M107 177l4 2M114 181l4 2M92 186l4 2M110 198l4 2M90 202l4 2M98 200l4 2M112 205l4 2M68 209l4 2M84 210l4 2M105 212l4 2M75 215l4 2M84 215l4 2M92 219l4 2" stroke="#0000ce"/><path d="M114 3l4 2M119 3l4 2M168 9l4 2M129 11l4 2M153 12l4 2M132 14l4 2M146 12l4 2M160 33l4 2M129 49l4 2M82 63l4 2M153 70l4 2M161 74l4 2M59 84l4 2M48 91l4 2M97 114l4 2M37 116l4 2M120 123l4 2M97 124l4 2M98 151l4 2M70 182l4 2M3 187l4 2M49 189l4 2M39 194l4 2M13 195l4 2M16 197l4 2M14 198l4 2M35 198l4 2M20 211l4 2" stroke="#00baff"/><path d="M26 0l4 2M102 5l4 2M31 11l4 2M90 12l4 2M103 11l4 2M104 20l4 2M106 28l4 2M89 29l4 2M85 33l4 2M83 39l4 2M3 40l4 2M72 45l4 2M45 63l4 2M22 65l4 2M55 67l4 2M60 73l4 2M30 80l4 2M33 88l4 2M122 96l4 2M16 108l4 2M117 172l4 2M83 188l4 2M89 188l4 2M100 194l4 2M77 195l4 2M83 206l4 2M73 214l4 2M52 218l4 2" stroke="#0003ff"/><path d="M84 2l4 2M29 5l4 2M93 6l4 2M5 7l4 2M25 10l4 2M35 7l4 2M67 7l4 2M68 7l4 2M24 14l4 2M51 16l4 2M75 18l4 2M60 19l4 2M11 23l4 2M6 29l4 2M82 29l4 2M12 34l4 2M30 33l4 2M35 32l4 2M11 36l4 2M48 36l4 2M66 35l4 2M1 37l4 2M16 40l4 2M8 42l4 2M22 45l4 2M69 46l4 2M15 51l4 2M36 54l4 2M41 56l4 2M54 57l4 2M26 59l4 2M42 61l4 2M60 60l4 2M67 61l4 2M29 63l4 2M28 67l4 2M66 67l4 2M-0 75l4 2M14 73l4 2M35 73l4 2M4 79l4 2M17 83l4 2M-0 88l4 2M21 88l4 2M26 89l4 2M89 172l4 2M93 172l4 2M90 176l4 2M99 191l4 2M115 190l4 2M103 193l4 2M95 197l4 2M105 196l4 2M97 198l4 2M101 203l4 2M111 205l4 2M102 206l4 2M82 214l4 2M98 216l4 2M67 220l4 2" stroke="#0000ce"/><path d="M178 28l4 2M111 34l4 2M175 32l4 2M113 37l4 2M176 37l4 2M97 43l4 2M154 43l4 2M157 47l4 2M160 49l4 2M161 54l4 2M13 109l4 2M3 113l4 2M4 118l4 2M137 116l4 2M4 121l4 2M139 123l4 2M4 128l4 2M14 127l4 2M22 128l4 2M2 132l4 2M140 134l4 2M1 135l4 2M8 136l4 2M11 149l4 2M127 167l4 2M127 168l4 2M125 171l4 2M78 186l4 2M25 198l4 2M45 201l4 2M47 202l4 2M57 208l4 2M52 214l4 2" stroke="#0038ff"/><path d="M111 19l4 2M110 23l4 2M147 31l4 2M169 29l4 2M180 32l4 2M137 33l4 2M147 32l4 2M166 32l4 2M136 34l4 2M163 39l4 2M96 46l4 2M175 45l4 2M156 52l4 2M163 55l4 2M108 113l4 2M18 113l4 2M20 121l4 2M134 122l4 2M135 131l4 2M16 133l4 2M2 137l4 2M134 143l4 2M93 164l4 2M102 163l4 2M91 165l4 2M83 170l4 2M73 191l4 2M53 195l4 2M54 194l4 2M46 208l4 2" stroke="#0052ff"/><path d="M32 135l4 2M60 133l4 2M56 150l4 2M70 151l4 2M83 153l4 2M78 158l4 2M39 159l4 2M110 69l4 2M118 81l4 2M126 82l4 2M114 89l4 2M80 102l4 2M77 105l4 2M70 118l4 2M80 120l4 2M132 90l4 2M5 159l4 2" stroke="#ff0300"/><path d="M83 42l4 2M101 40l4 2M156 42l4 2M85 47l4 2M165 52l4 2M38 63l4 2M37 65l4 2M30 105l4 2M23 109l4 2M11 112l4 2M-0 114l4 2M114 113l4 2M1 119l4 2M16 130l4 2M126 161l4 2M92 170l4 2M28 178l4 2M122 177l4 2M49 205l4 2M68 205l4 2" stroke="#001dff"/><path d="M92 62l4 2M149 83l4 2M111 98l4 2M60 182l4 2" stroke="#72ff8d"/><path d="M113 54l4 2M107 65l4 2M95 73l4 2M98 141l4 2M68 134l4 2M52 149l4 2M75 161l4 2M124 79l4 2M130 79l4 2" stroke="#ffef00"/><path d="M120 57l4 2M82 71l4 2M95 71l4 2M95 79l4 2M143 93l4 2M113 124l4 2M47 127l4 2M42 127l4 2M117 127l4 2M-0 183l4 2M59 165l4 2" stroke="#a7ff58"/><path d="M106 15l4 2M182 28l4 2M174 31l4 2M167 33l4 2M114 36l4 2M95 39l4 2M106 37l4 2M116 37l4 2M140 38l4 2M175 39l4 2M94 41l4 2M94 42l4 2M173 42l4 2M106 42l4 2M149 44l4 2M166 43l4 2M167 50l4 2M84 54l4 2M162 59l4 2M158 62l4 2M160 65l4 2M34 101l4 2M33 105l4 2M17 112l4 2M11 113l4 2M124 114l4 2M3 126l4 2M18 125l4 2M141 126l4 2M143 128l4 2M139 133l4 2M12 137l4 2M2 146l4 2M7 148l4 2M119 169l4 2M121 173l4 2M69 193l4 2M53 200l4 2M44 203l4 2M51 205l4 2M56 205l4 2M3 206l4 2M6 208l4 2M32 210l4 2M45 214l4 2" stroke="#0038ff"/><path d="M89 134l4 2M82 141l4 2M48 156l4 2M37 157l4 2M57 159l4 2M107 66l4 2M84 109l4 2M141 68l4 2M134 85l4 2" stroke="#ff8600"/><path d="M109 11l4 2M175 37l4 2M179 36l4 2M104 38l4 2M148 40l4 2M89 45l4 2M167 48l4 2M168 45l4 2M87 49l4 2M94 50l4 2M74 60l4 2M162 64l4 2M168 63l4 2M162 64l4 2M44 86l4 2M41 91l4 2M113 113l4 2M145 117l4 2M17 119l4 2M41 124l4 2M140 129l4 2M21 129l4 2M122 133l4 2M6 137l4 2M138 135l4 2M140 135l4 2M5 147l4 2M114 160l4 2M113 164l4 2M121 163l4 2M125 167l4 2M86 168l4 2M77 180l4 2M81 182l4 2M77 189l4 2M69 197l4 2M46 200l4 2M57 199l4 2" stroke="#0038ff"/><path d="M71 145l4 2M62 152l4 2M60 159l4 2M80 104l4 2" stroke="#e80000"/><path d="M89 71l4 2M123 92l4 2M107 99l4 2M27 165l4 2M82 119l4 2" stroke="#ffd500"/><path d="M90 82l4 2M110 137l4 2M103 139l4 2M19 166l4 2M40 140l4 2M50 148l4 2M80 147l4 2M64 155l4 2M80 164l4 2M104 80l4 2M95 89l4 2M67 92l4 2M72 103l4 2M71 108l4 2M78 109l4 2M129 69l4 2M137 69l4 2" stroke="#f5ff0a"/><path d="M121 48l4 2M127 68l4 2M154 72l4 2M60 81l4 2M96 143l4 2M92 152l4 2M103 152l4 2M72 171l4 2M60 186l4 2M13 188l4 2M32 162l4 2M129 76l4 2" stroke="#0afff5"/><path d="M74 133l4 2M34 139l4 2M111 84l4 2M73 113l4 2M94 112l4 2" stroke="#ff6c00"/><path d="M108 -1l4 2M127 1l4 2M144 2l4 2M160 2l4 2M178 2l4 2M188 4l4 2M156 6l4 2M193 6l4 2M153 9l4 2M164 8l4 2M181 12l4 2M123 13l4 2M143 13l4 2M156 14l4 2M173 17l4 2M178 18l4 2M130 23l4 2M146 23l4 2M160 21l4 2M157 26l4 2M125 27l4 2M132 26l4 2M123 31l4 2M127 37l4 2M139 59l4 2M146 64l4 2M74 70l4 2M43 96l4 2M42 97l4 2M121 104l4 2M143 102l4 2M36 112l4 2M36 118l4 2M86 124l4 2M28 126l4 2M129 124l4 2M130 134l4 2M120 135l4 2M132 142l4 2M123 144l4 2M128 144l4 2M102 158l4 2M19 173l4 2M42 193l4 2M5 196l4 2" stroke="#00a0ff"/><path d="M98 64l4 2M99 70l4 2M34 169l4 2M57 137l4 2M62 138l4 2M25 157l4 2M68 163l4 2M65 111l4 2M89 111l4 2" stroke="#ffa000"/><path d="M43 140l4 2M55 143l4 2M61 144l4 2M36 152l4 2M109 78l4 2M63 114l4 2M136 76l4 2" stroke="#ff8600"/><path d="M73 83l4 2M105 95l4 2M77 129l4 2M43 148l4 2" stroke="#72ff8d"/><path d="M130 -0l4 2M184 1l4 2M193 2l4 2M182 7l4 2M181 8l4 2M177 12l4 2M110 14l4 2M162 14l4 2M136 22l4 2M142 25l4 2M145 26l4 2M149 29l4 2M153 27l4 2M119 34l4 2M127 40l4 2M131 40l4 2M144 48l4 2M145 61l4 2M76 63l4 2M146 63l4 2M150 64l4 2M54 84l4 2M46 91l4 2M49 95l4 2M132 102l4 2M107 107l4 2M36 110l4 2M134 109l4 2M8 143l4 2M2 158l4 2M107 159l4 2M112 156l4 2M86 161l4 2M33 177l4 2M69 189l4 2M4 197l4 2M9 205l4 2M23 204l4 2M34 208l4 2" stroke="#0086ff"/><path d="M90 135l4 2M59 172l4 2M76 164l4 2M116 86l4 2M60 87l4 2M63 102l4 2M132 78l4 2M140 86l4 2M2 153l4 2" stroke="#ffa000"/><path d="M103 82l4 2M71 155l4 2M65 95l4 2M75 113l4 2" stroke="#e80000"/><path d="M38 42l4 2" stroke="#000080"/><path d="M87 3l4 2M86 43l4 2M86 52l4 2M167 54l4 2M72 61l4 2M45 80l4 2M54 80l4 2M45 84l4 2M9 110l4 2M30 108l4 2M7 113l4 2M126 116l4 2M142 118l4 2M129 118l4 2M114 168l4 2M84 181l4 2M79 192l4 2M65 202l4 2M59 203l4 2" stroke="#001dff"/><path d="M121 1l4 2M136 -0l4 2M141 -0l4 2M165 -1l4 2M178 2l4 2M190 1l4 2M121 5l4 2M139 5l4 2M133 10l4 2M132 10l4 2M174 11l4 2M184 13l4 2M159 20l4 2M175 19l4 2M177 18l4 2M122 36l4 2M126 38l4 2M161 72l4 2M117 95l4 2M155 99l4 2M127 107l4 2M108 116l4 2M118 121l4 2M31 125l4 2M26 130l4 2M14 146l4 2M115 153l4 2M112 154l4 2M119 156l4 2M97 157l4 2M34 194l4 2M26 197l4 2M20 200l4 2M38 199l4 2M20 201l4 2M7 204l4 2M26 203l4 2M32 206l4 2" stroke="#00a0ff"/><path d="M99 67l4 2M65 148l4 2M80 90l4 2M9 158l4 2" stroke="#ff3800"/><path d="M57 130l4 2M69 132l4 2M125 71l4 2M113 75l4 2M125 84l4 2M79 90l4 2M58 95l4 2M71 110l4 2M92 115l4 2M84 122l4 2M128 82l4 2M144 83l4 2M5 157l4 2" stroke="#ff1d00"/><path d="M14 -1l4 2M61 2l4 2M76 1l4 2M61 4l4 2M63 4l4 2M46 7l4 2M99 9l4 2M93 11l4 2M49 15l4 2M46 18l4 2M17 24l4 2M80 27l4 2M107 28l4 2M96 31l4 2M100 29l4 2M3 39l4 2M10 37l4 2M67 42l4 2M75 40l4 2M4 46l4 2M16 55l4 2M-0 57l4 2M56 61l4 2M0 61l4 2M32 63l4 2M47 63l4 2M3 65l4 2M24 65l4 2M24 67l4 2M26 69l4 2M0 76l4 2M32 76l4 2M41 79l4 2M5 84l4 2M32 89l4 2M29 97l4 2M22 106l4 2M106 168l4 2M103 172l4 2M113 172l4 2M98 181l4 2M114 180l4 2M85 181l4 2M113 181l4 2M113 199l4 2M89 206l4 2M106 216l4 2M90 217l4 2" stroke="#0000e8"/><path d="M58 137l4 2M71 137l4 2M62 146l4 2M41 158l4 2M67 158l4 2M117 83l4 2M113 84l4 2M122 87l4 2M68 92l4 2M85 92l4 2M77 94l4 2M82 105l4 2M138 79l4 2" stroke="#ff0300"/><path d="M51 126l4 2M105 127l4 2M97 139l4 2M34 154l4 2M67 161l4 2M53 163l4 2M124 68l4 2M120 75l4 2" stroke="#f5ff0a"/><path d="M23 135l4 2M34 135l4 2M37 144l4 2M31 147l4 2M52 169l4 2M118 77l4 2M107 85l4 2M83 99l4 2M4 153l4 2M3 159l4 2" stroke="#ff8600"/><path d="M126 51l4 2M88 66l4 2M148 69l4 2M51 118l4 2M107 120l4 2M98 125l4 2M29 130l4 2M23 157l4 2M20 171l4 2M44 184l4 2M11 188l4 2M97 100l4 2M135 69l4 2" stroke="#0afff5"/><path d="M105 7l4 2M107 16l4 2M176 36l4 2M135 40l4 2M144 38l4 2M137 40l4 2M157 45l4 2M154 48l4 2M150 50l4 2M161 62l4 2M48 82l4 2M50 82l4 2M39 90l4 2M148 112l4 2M10 118l4 2M20 118l4 2M8 122l4 2M1 135l4 2M139 138l4 2M126 156l4 2M118 165l4 2M114 165l4 2M117 167l4 2M81 174l4 2M54 210l4 2" stroke="#0038ff"/><path d="M46 53l4 2" stroke="#000080"/><path d="M122 65l4 2M104 85l4 2M57 126l4 2M105 141l4 2M3 173l4 2M38 163l4 2" stroke="#c1ff3e"/><path d="M99 61l4 2M67 141l4 2" stroke="#ff3800"/><path d="M93 58l4 2M97 57l4 2M87 62l4 2M103 86l4 2M152 89l4 2M103 101l4 2M90 120l4 2M95 128l4 2M21 164l4 2M13 166l4 2M12 170l4 2M21 181l4 2M39 185l4 2M60 90l4 2M97 97l4 2M91 103l4 2M145 67l4 2" stroke="#24ffdb"/><path d="M9 171l4 2M67 172l4 2M9 184l4 2M45 132l4 2M25 142l4 2M31 142l4 2M21 147l4 2M28 157l4 2M55 92l4 2M146 83l4 2M141 89l4 2" stroke="#f5ff0a"/><path d="M49 -1l4 2M23 1l4 2M27 1l4 2M33 2l4 2M50 0l4 2M52 1l4 2M87 1l4 2M79 4l4 2M81 5l4 2M20 8l4 2M50 8l4 2M80 8l4 2M98 10l4 2M42 13l4 2M85 15l4 2M6 16l4 2M10 18l4 2M19 18l4 2M44 19l4 2M38 22l4 2M83 23l4 2M89 23l4 2M94 28l4 2M13 30l4 2M16 30l4 2M79 30l4 2M18 33l4 2M78 36l4 2M78 39l4 2M19 42l4 2M19 43l4 2M17 50l4 2M78 48l4 2M22 51l4 2M1 58l4 2M15 66l4 2M6 67l4 2M10 67l4 2M43 69l4 2M52 68l4 2M37 70l4 2M41 70l4 2M6 74l4 2M46 76l4 2M57 76l4 2M30 83l4 2M24 87l4 2M31 88l4 2M29 96l4 2M28 102l4 2M11 105l4 2M98 172l4 2M110 171l4 2M105 173l4 2M113 174l4 2M110 178l4 2M116 176l4 2M94 185l4 2M119 191l4 2M98 196l4 2M116 196l4 2M100 199l4 2M94 204l4 2M72 208l4 2M87 213l4 2" stroke="#0000e8"/><path d="M108 48l4 2M111 46l4 2M106 59l4 2M133 62l4 2M80 71l4 2M99 102l4 2M110 102l4 2M46 107l4 2M46 112l4 2M54 117l4 2M88 130l4 2M118 141l4 2M116 144l4 2M-1 165l4 2M9 170l4 2M45 183l4 2M18 195l4 2M31 193l4 2" stroke="#00efff"/><path d="M104 4l4 2M109 32l4 2M104 35l4 2M110 36l4 2M88 39l4 2M147 43l4 2M4 109l4 2M12 108l4 2M6 134l4 2M118 132l4 2M4 135l4 2M129 161l4 2M126 162l4 2M123 174l4 2M121 176l4 2M59 203l4 2M57 213l4 2" stroke="#001dff"/><path d="M72 27l4 2M37 30l4 2M39 29l4 2M27 38l4 2M30 39l4 2M28 40l4 2M30 42l4 2M35 40l4 2M44 45l4 2M31 50l4 2M38 49l4 2M51 53l4 2M24 97l4 2M15 101l4 2M17 100l4 2" stroke="#00009a"/><path d="M119 16l4 2M156 75l4 2M82 76l4 2M117 92l4 2M115 97l4 2M148 98l4 2M105 143l4 2M-0 165l4 2M60 178l4 2M1 189l4 2M2 193l4 2M69 100l4 2M83 119l4 2" stroke="#00efff"/><path d="M89 63l4 2M137 93l4 2M143 94l4 2M104 130l4 2M123 137l4 2M52 179l4 2" stroke="#58ffa7"/><path d="M119 62l4 2M37 176l4 2M59 181l4 2M50 139l4 2M75 139l4 2M21 141l4 2M33 142l4 2M65 144l4 2M117 90l4 2M51 93l4 2M71 96l4 2M69 116l4 2" stroke="#f5ff0a"/><path d="M50 115l4 2M109 128l4 2M95 129l4 2M121 139l4 2M98 148l4 2M10 177l4 2M36 184l4 2M46 153l4 2M52 167l4 2M56 88l4 2M86 96l4 2M134 75l4 2M146 78l4 2" stroke="#3effc1"/><path d="M41 2l4 2M54 2l4 2M73 2l4 2M96 4l4 2M102 9l4 2M32 14l4 2M2 17l4 2M31 25l4 2M50 26l4 2M32 28l4 2M52 27l4 2M62 31l4 2M37 35l4 2M56 37l4 2M29 45l4 2M52 45l4 2M66 45l4 2M74 43l4 2M5 50l4 2M46 48l4 2M51 49l4 2M71 49l4 2M75 52l4 2M77 51l4 2M30 55l4 2M74 54l4 2M18 78l4 2M17 78l4 2M15 82l4 2M13 89l4 2M9 98l4 2M27 97l4 2M5 102l4 2M13 103l4 2M88 200l4 2M111 202l4 2M94 215l4 2M80 218l4 2" stroke="#0000b4"/><path d="M96 121l4 2M51 174l4 2M28 142l4 2M68 150l4 2M89 88l4 2M72 93l4 2M72 96l4 2" stroke="#3effc1"/><path d="M102 60l4 2M93 72l4 2M50 123l4 2M101 145l4 2" stroke="#ffba00"/><path d="M152 76l4 2M146 93l4 2M50 119l4 2M123 131l4 2M92 132l4 2M121 141l4 2M74 132l4 2M44 157l4 2M76 101l4 2" stroke="#0afff5"/><path d="M35 136l4 2M42 138l4 2M78 138l4 2M59 140l4 2M85 140l4 2M44 143l4 2M84 149l4 2M40 152l4 2M33 157l4 2M55 169l4 2M59 168l4 2M66 169l4 2M109 69l4 2M119 71l4 2M122 74l4 2M61 95l4 2M76 96l4 2M53 99l4 2M57 104l4 2M88 108l4 2M74 108l4 2M89 116l4 2" stroke="#ff0300"/><path d="M105 72l4 2" stroke="#ffba00"/><path d="M97 87l4 2M64 94l4 2" stroke="#ff5200"/><path d="M99 78l4 2" stroke="#800000"/><path d="M80 80l4 2M65 127l4 2M110 140l4 2M115 140l4 2M111 147l4 2M31 175l4 2M48 142l4 2M75 141l4 2M55 148l4 2M35 150l4 2M57 157l4 2M63 160l4 2" stroke="#a7ff58"/><path d="M120 56l4 2M116 61l4 2M150 90l4 2M115 127l4 2M85 132l4 2M30 137l4 2" stroke="#c1ff3e"/><path d="M159 -0l4 2M182 3l4 2M146 7l4 2M159 5l4 2M165 6l4 2M173 5l4 2M174 5l4 2M119 9l4 2M122 7l4 2M172 11l4 2M134 15l4 2M176 14l4 2M129 24l4 2M125 31l4 2M115 42l4 2M106 46l4 2M97 48l4 2M147 101l4 2M39 104l4 2M128 105l4 2M133 107l4 2M37 111l4 2M33 114l4 2M43 120l4 2M124 119l4 2M69 122l4 2M131 127l4 2M75 186l4 2M66 191l4 2M8 195l4 2M15 207l4 2M15 209l4 2" stroke="#00a0ff"/><path d="M100 146l4 2M147 75l4 2" stroke="#ffba00"/><path d="M52 109l4 2M91 145l4 2M16 175l4 2M36 163l4 2M142 72l4 2" stroke="#c1ff3e"/><path d="M85 72l4 2M68 83l4 2M128 96l4 2M109 126l4 2M24 164l4 2M65 174l4 2M9 177l4 2M4 178l4 2M2 185l4 2M26 138l4 2M71 143l4 2M28 150l4 2M81 161l4 2" stroke="#58ffa7"/><path d="M62 130l4 2M68 129l4 2M66 132l4 2M75 132l4 2M21 153l4 2M110 66l4 2M109 82l4 2M74 91l4 2M93 91l4 2M66 101l4 2M64 114l4 2M77 116l4 2M142 74l4 2M131 81l4 2M7 154l4 2M12 157l4 2" stroke="#ff1d00"/><path d="M19 0l4 2M17 2l4 2M71 3l4 2M105 10l4 2M17 10l4 2M7 15l4 2M18 13l4 2M20 14l4 2M82 14l4 2M81 16l4 2M82 17l4 2M107 25l4 2M103 34l4 2M90 35l4 2M6 47l4 2M8 47l4 2M10 50l4 2M81 52l4 2M13 63l4 2M37 62l4 2M56 65l4 2M36 67l4 2M40 67l4 2M63 69l4 2M18 70l4 2M40 87l4 2M109 167l4 2M85 175l4 2M105 180l4 2M102 184l4 2M74 196l4 2M80 204l4 2M59 213l4 2M75 212l4 2M56 217l4 2" stroke="#0003ff"/><path d="M32 133l4 2M41 134l4 2M70 140l4 2M43 143l4 2M55 165l4 2M110 75l4 2M118 89l4 2M76 94l4 2M53 97l4 2M57 98l4 2M135 81l4 2M145 88l4 2M4 151l4 2" stroke="#ff0300"/><path d="M121 18l4 2M46 97l4 2M120 99l4 2M48 100l4 2M53 121l4 2M125 121l4 2M22 135l4 2M101 141l4 2M107 154l4 2M18 159l4 2M27 161l4 2M2 164l4 2M10 164l4 2M15 181l4 2M17 182l4 2M16 185l4 2M49 184l4 2M22 189l4 2M30 191l4 2M31 191l4 2M38 191l4 2M82 106l4 2M62 110l4 2" stroke="#00efff"/><path d="M146 0l4 2M150 -0l4 2M154 1l4 2M122 3l4 2M133 1l4 2M151 4l4 2M164 1l4 2M176 9l4 2M183 8l4 2M181 14l4 2M166 17l4 2M180 18l4 2M168 20l4 2M178 21l4 2M146 29l4 2M160 28l4 2M128 29l4 2M157 29l4 2M119 33l4 2M122 38l4 2M130 40l4 2M122 40l4 2M129 43l4 2M141 55l4 2M86 57l4 2M70 73l4 2M60 78l4 2M47 87l4 2M41 99l4 2M148 105l4 2M121 107l4 2M130 108l4 2M149 108l4 2M24 115l4 2M28 114l4 2M15 136l4 2M10 146l4 2M69 179l4 2M74 187l4 2M5 189l4 2M60 193l4 2M0 197l4 2M37 203l4 2" stroke="#0086ff"/><path d="M114 15l4 2M113 45l4 2M118 48l4 2M157 76l4 2M65 82l4 2M124 87l4 2M107 91l4 2M50 91l4 2M102 96l4 2M30 128l4 2M113 148l4 2M14 180l4 2M49 181l4 2M18 188l4 2M80 100l4 2" stroke="#0afff5"/><path d="M140 15l4 2M134 24l4 2M139 23l4 2M132 29l4 2M123 33l4 2M150 34l4 2M145 35l4 2M148 34l4 2M131 42l4 2M96 52l4 2M154 55l4 2M145 57l4 2M147 60l4 2M81 74l4 2M150 103l4 2M138 109l4 2M145 108l4 2M26 113l4 2M132 110l4 2M109 115l4 2M28 118l4 2M120 118l4 2M13 131l4 2M9 142l4 2M120 154l4 2M123 155l4 2M0 159l4 2M70 191l4 2M50 195l4 2M18 211l4 2" stroke="#006cff"/><path d="M27 134l4 2M62 138l4 2M84 155l4 2M108 80l4 2" stroke="#e80000"/><path d="M93 121l4 2M64 123l4 2M111 131l4 2M105 144l4 2M15 159l4 2M43 170l4 2M71 169l4 2M20 177l4 2M54 156l4 2M62 155l4 2M55 160l4 2M45 163l4 2M112 73l4 2M63 103l4 2M147 68l4 2M146 70l4 2M145 84l4 2" stroke="#dbff24"/><path d="M43 8l4 2M63 15l4 2M34 22l4 2M58 23l4 2M77 22l4 2M48 26l4 2M44 27l4 2M65 27l4 2M33 30l4 2M45 31l4 2M51 32l4 2M58 33l4 2M13 37l4 2M39 37l4 2M51 35l4 2M49 40l4 2M8 44l4 2M32 43l4 2M56 52l4 2M59 51l4 2M68 51l4 2M54 54l4 2M47 58l4 2M51 59l4 2M19 79l4 2M23 79l4 2M11 90l4 2M9 94l4 2M92 177l4 2M94 181l4 2M89 186l4 2M83 211l4 2" stroke="#0000b4"/><path d="M138 3l4 2M165 4l4 2M171 3l4 2M185 3l4 2M117 7l4 2M128 7l4 2M130 9l4 2M149 8l4 2M165 12l4 2M144 17l4 2M164 24l4 2M119 27l4 2M150 30l4 2M126 32l4 2M122 44l4 2M152 100l4 2M115 107l4 2M105 110l4 2M101 112l4 2M32 117l4 2M122 121l4 2M73 178l4 2M31 197l4 2" stroke="#00a0ff"/><path d="M36 47l4 2" stroke="#000080"/><path d="M108 57l4 2M153 77l4 2M134 91l4 2M136 95l4 2M46 105l4 2M115 132l4 2M1 170l4 2M52 181l4 2M49 134l4 2M82 157l4 2M71 85l4 2M96 91l4 2M55 95l4 2M52 102l4 2M65 105l4 2M86 112l4 2M66 118l4 2M137 73l4 2M135 80l4 2" stroke="#3effc1"/><path d="M95 67l4 2M94 83l4 2M43 152l4 2M66 152l4 2M64 117l4 2M132 68l4 2" stroke="#ffef00"/><path d="M27 27l4 2M41 30l4 2M42 32l4 2M49 38l4 2M61 40l4 2M41 46l4 2M42 52l4 2M3 89l4 2M5 90l4 2M18 92l4 2M14 99l4 2M10 102l4 2" stroke="#00009a"/><path d="M1 0l4 2M25 4l4 2M77 4l4 2M3 11l4 2M36 11l4 2M48 10l4 2M70 12l4 2M6 14l4 2M79 14l4 2M53 15l4 2M64 16l4 2M72 16l4 2M89 16l4 2M54 20l4 2M57 20l4 2M83 19l4 2M96 20l4 2M46 22l4 2M61 22l4 2M72 21l4 2M72 25l4 2M105 26l4 2M102 27l4 2M86 30l4 2M94 31l4 2M71 32l4 2M100 33l4 2M101 33l4 2M22 36l4 2M67 37l4 2M21 41l4 2M15 43l4 2M77 47l4 2M8 50l4 2M-0 54l4 2M7 57l4 2M32 60l4 2M50 63l4 2M45 70l4 2M45 75l4 2M37 76l4 2M48 77l4 2M10 86l4 2M27 88l4 2M27 92l4 2M2 106l4 2M114 177l4 2M90 181l4 2M111 179l4 2M90 183l4 2M99 187l4 2M91 194l4 2M95 192l4 2M112 196l4 2M102 203l4 2M71 205l4 2M83 203l4 2M86 203l4 2M96 205l4 2M106 210l4 2M109 210l4 2M68 212l4 2M78 213l4 2M64 214l4 2" stroke="#0000e8"/><path d="M101 74l4 2M54 126l4 2M71 135l4 2M40 138l4 2M50 165l4 2M65 87l4 2M56 108l4 2M130 81l4 2" stroke="#ff8600"/><path d="M110 24l4 2M178 25l4 2M142 35l4 2M120 38l4 2M133 37l4 2M98 41l4 2M92 51l4 2M150 53l4 2M154 52l4 2M71 68l4 2M65 72l4 2M67 71l4 2M65 72l4 2M42 90l4 2M36 102l4 2M143 109l4 2M19 131l4 2M2 147l4 2M12 149l4 2M134 150l4 2M94 161l4 2M120 160l4 2M107 163l4 2M108 165l4 2M76 184l4 2M66 197l4 2M54 202l4 2M36 211l4 2" stroke="#0052ff"/><path d="M168 1l4 2M175 4l4 2M123 6l4 2M179 6l4 2M126 8l4 2M143 10l4 2M162 12l4 2M187 10l4 2M188 16l4 2M169 19l4 2M162 23l4 2M137 65l4 2M157 70l4 2M57 85l4 2M46 94l4 2M129 101l4 2M134 105l4 2M111 107l4 2M48 111l4 2M106 116l4 2M119 119l4 2M13 146l4 2M91 157l4 2M32 177l4 2M40 179l4 2M50 191l4 2M57 191l4 2M39 203l4 2" stroke="#00a0ff"/><path d="M179 32l4 2M167 37l4 2M138 38l4 2M147 38l4 2M108 42l4 2M158 40l4 2M164 41l4 2M143 43l4 2M145 46l4 2M145 46l4 2M171 50l4 2M158 57l4 2M165 56l4 2M77 61l4 2M117 115l4 2M6 119l4 2M15 125l4 2M73 124l4 2M5 149l4 2M81 173l4 2M60 198l4 2M65 198l4 2M40 206l4 2" stroke="#0052ff"/><path d="M114 63l4 2" stroke="#ffba00"/><path d="M123 0l4 2M110 4l4 2M111 5l4 2M149 11l4 2M119 14l4 2M147 18l4 2M127 23l4 2M161 32l4 2M48 98l4 2M118 104l4 2M50 109l4 2M77 126l4 2M126 131l4 2M122 150l4 2M128 152l4 2M91 155l4 2M94 156l4 2M34 190l4 2M47 190l4 2M10 194l4 2M9 199l4 2M42 198l4 2" stroke="#00baff"/><path d="M119 51l4 2M99 96l4 2M52 116l4 2M116 140l4 2M92 146l4 2M53 174l4 2M6 182l4 2" stroke="#72ff8d"/><path d="M63 29l4 2M56 40l4 2M63 42l4 2M23 48l4 2M42 49l4 2M61 50l4 2M62 52l4 2M31 56l4 2M3 87l4 2" stroke="#00009a"/><path d="M77 76l4 2M33 129l4 2M74 129l4 2M104 129l4 2M102 132l4 2M115 135l4 2M3 171l4 2M9 175l4 2M19 176l4 2M46 135l4 2M62 142l4 2M19 150l4 2M32 151l4 2M47 149l4 2M50 150l4 2M25 152l4 2M63 164l4 2" stroke="#8dff72"/><path d="M109 9l4 2M104 13l4 2M111 27l4 2M90 53l4 2M166 52l4 2M29 108l4 2M26 108l4 2M84 173l4 2M119 172l4 2M85 176l4 2M86 180l4 2M82 184l4 2M120 184l4 2M76 194l4 2M62 202l4 2M73 200l4 2M62 205l4 2M59 208l4 2M55 213l4 2" stroke="#001dff"/><path d="M115 54l4 2M13 176l4 2M16 176l4 2" stroke="#ffd500"/><path d="M94 81l4 2M49 128l4 2M93 138l4 2M103 135l4 2M61 127l4 2M76 140l4 2M35 147l4 2M76 153l4 2M52 157l4 2M122 81l4 2M59 107l4 2M143 78l4 2M136 91l4 2" stroke="#ffef00"/><path d="M97 67l4 2M72 130l4 2" stroke="#ff6c00"/><path d="M111 61l4 2M131 93l4 2M112 135l4 2M92 141l4 2M13 163l4 2M23 169l4 2M66 144l4 2M31 157l4 2" stroke="#8dff72"/><path d="M88 -1l4 2M13 1l4 2M46 1l4 2M58 -1l4 2M21 4l4 2M5 5l4 2M68 6l4 2M53 10l4 2M72 10l4 2M87 8l4 2M14 11l4 2M34 11l4 2M54 12l4 2M56 11l4 2M2 13l4 2M15 13l4 2M26 14l4 2M52 14l4 2M58 14l4 2M88 13l4 2M18 17l4 2M87 18l4 2M23 20l4 2M81 19l4 2M99 18l4 2M52 23l4 2M90 22l4 2M15 24l4 2M24 26l4 2M8 28l4 2M37 27l4 2M100 27l4 2M5 31l4 2M21 33l4 2M18 36l4 2M39 38l4 2M67 38l4 2M72 37l4 2M72 43l4 2M14 46l4 2M13 48l4 2M74 49l4 2M23 55l4 2M65 55l4 2M15 56l4 2M44 57l4 2M64 57l4 2M18 60l4 2M65 61l4 2M44 64l4 2M46 66l4 2M60 65l4 2M14 71l4 2M15 71l4 2M12 74l4 2M3 76l4 2M17 76l4 2M29 75l4 2M49 79l4 2M24 83l4 2M28 86l4 2M9 86l4 2M15 105l4 2M120 132l4 2M112 189l4 2M109 197l4 2M89 200l4 2M95 199l4 2M108 199l4 2M75 205l4 2M105 206l4 2M81 213l4 2M88 212l4 2M111 213l4 2M109 217l4 2" stroke="#0000ce"/><path d="M116 50l4 2M142 93l4 2M107 148l4 2M84 137l4 2M56 94l4 2M87 95l4 2" stroke="#dbff24"/><path d="M103 62l4 2M101 148l4 2M44 171l4 2M12 174l4 2M73 152l4 2M50 157l4 2M30 161l4 2M62 167l4 2M94 99l4 2M140 73l4 2" stroke="#ffef00"/><path d="M83 85l4 2M106 93l4 2M109 99l4 2M47 127l4 2M91 129l4 2M86 130l4 2M92 130l4 2M90 141l4 2M26 172l4 2M35 172l4 2M48 173l4 2M56 179l4 2M53 156l4 2M77 155l4 2" stroke="#a7ff58"/><path d="M116 31l4 2M136 31l4 2M141 30l4 2M166 42l4 2M140 45l4 2M160 45l4 2M92 47l4 2M161 53l4 2M161 58l4 2M168 65l4 2M47 84l4 2M39 97l4 2M39 108l4 2M47 110l4 2M150 112l4 2M125 114l4 2M130 115l4 2M142 114l4 2M14 116l4 2M18 117l4 2M19 122l4 2M145 122l4 2M12 137l4 2M2 151l4 2M130 157l4 2M91 159l4 2M94 165l4 2M40 211l4 2M48 210l4 2M42 214l4 2M43 211l4 2M51 213l4 2M41 214l4 2" stroke="#0052ff"/><path d="M59 132l4 2M54 133l4 2M77 133l4 2M79 140l4 2M33 154l4 2M61 160l4 2M73 166l4 2M112 73l4 2M110 85l4 2M52 91l4 2M97 95l4 2M74 100l4 2M95 103l4 2M63 110l4 2" stroke="#ff1d00"/><path d="M125 54l4 2M89 126l4 2M121 128l4 2M14 162l4 2M39 172l4 2M65 176l4 2M21 192l4 2M49 137l4 2M64 103l4 2" stroke="#24ffdb"/><path d="M136 9l4 2M173 23l4 2M168 29l4 2M177 26l4 2M163 29l4 2M141 33l4 2M130 36l4 2M151 39l4 2M155 37l4 2M158 38l4 2M146 50l4 2M162 48l4 2M144 53l4 2M158 67l4 2M137 104l4 2M140 110l4 2M119 116l4 2M26 120l4 2M133 119l4 2M26 124l4 2M23 124l4 2M135 127l4 2M12 143l4 2M16 148l4 2M131 150l4 2M85 163l4 2M87 162l4 2M110 163l4 2M19 169l4 2M60 196l4 2" stroke="#006cff"/><path d="M15 0l4 2M45 -1l4 2M34 3l4 2M45 3l4 2M103 4l4 2M13 9l4 2M46 13l4 2M91 12l4 2M70 20l4 2M30 23l4 2M79 24l4 2M96 23l4 2M93 29l4 2M25 31l4 2M1 41l4 2M13 40l4 2M10 54l4 2M18 62l4 2M70 63l4 2M17 65l4 2M2 67l4 2M11 70l4 2M28 71l4 2M37 69l4 2M29 74l4 2M51 78l4 2M6 83l4 2M19 108l4 2M107 172l4 2M108 173l4 2M118 186l4 2M107 191l4 2M114 194l4 2M91 199l4 2M71 202l4 2M93 200l4 2M70 213l4 2M97 213l4 2" stroke="#0000e8"/><path d="M116 48l4 2M71 125l4 2M95 137l4 2M88 152l4 2M51 131l4 2M37 135l4 2M44 147l4 2M83 147l4 2M80 151l4 2M51 160l4 2M78 90l4 2M131 75l4 2M144 81l4 2" stroke="#f5ff0a"/><path d="M108 48l4 2M107 55l4 2M127 64l4 2M79 76l4 2M85 75l4 2M51 108l4 2M115 133l4 2M86 138l4 2M20 159l4 2M3 183l4 2M45 137l4 2" stroke="#72ff8d"/><path d="M102 65l4 2" stroke="#800000"/><path d="M108 61l4 2M93 70l4 2M72 80l4 2M96 85l4 2M101 100l4 2" stroke="#ffba00"/><path d="M136 87l4 2" stroke="#ff6c00"/><path d="M128 59l4 2M87 66l4 2M155 78l4 2M108 92l4 2M39 124l4 2M46 123l4 2M123 140l4 2M108 150l4 2M37 171l4 2M39 182l4 2M55 186l4 2M4 192l4 2M14 192l4 2M144 84l4 2M128 86l4 2" stroke="#0afff5"/><path d="M114 -1l4 2M122 16l4 2M102 50l4 2M131 56l4 2M76 79l4 2M155 82l4 2M138 98l4 2M125 102l4 2M127 102l4 2M101 124l4 2M102 125l4 2M97 131l4 2M97 153l4 2M13 154l4 2M85 158l4 2M10 160l4 2M14 159l4 2M19 210l4 2M60 102l4 2M72 119l4 2" stroke="#00d4ff"/><path d="M125 18l4 2M126 52l4 2M78 70l4 2M160 79l4 2M150 81l4 2M160 87l4 2M156 93l4 2M149 96l4 2M130 99l4 2M102 101l4 2M105 103l4 2M93 124l4 2M125 139l4 2M94 153l4 2M7 167l4 2M46 176l4 2M20 181l4 2M53 186l4 2M67 89l4 2M71 98l4 2M68 107l4 2M90 109l4 2M97 112l4 2" stroke="#00efff"/><path d="M132 5l4 2M161 19l4 2M118 21l4 2M171 23l4 2M136 23l4 2M167 24l4 2M131 31l4 2M153 32l4 2M154 36l4 2M132 45l4 2M133 45l4 2M162 46l4 2M133 49l4 2M143 53l4 2M145 53l4 2M147 53l4 2M155 60l4 2M153 105l4 2M152 107l4 2M128 111l4 2M8 117l4 2M123 116l4 2M138 119l4 2M118 130l4 2M7 142l4 2M1 155l4 2M128 154l4 2M75 175l4 2M76 177l4 2M62 194l4 2M65 194l4 2M57 195l4 2M1 200l4 2M51 199l4 2M53 198l4 2M0 203l4 2M46 207l4 2M28 209l4 2" stroke="#006cff"/><path d="M-1 85l4 2" stroke="#000080"/><path d="M106 53l4 2M88 67l4 2M104 97l4 2M107 129l4 2M30 130l4 2M65 139l4 2M69 149l4 2" stroke="#a7ff58"/><path d="M96 75l4 2M100 83l4 2M100 89l4 2M106 140l4 2M16 165l4 2M4 173l4 2M37 174l4 2M40 130l4 2M26 140l4 2M28 139l4 2M55 140l4 2M79 147l4 2M144 88l4 2" stroke="#ffef00"/><path d="M5 0l4 2M69 -0l4 2M95 7l4 2M29 7l4 2M11 13l4 2M30 15l4 2M41 13l4 2M2 19l4 2M56 26l4 2M66 25l4 2M57 30l4 2M54 33l4 2M61 33l4 2M46 35l4 2M63 38l4 2M54 48l4 2M34 59l4 2M17 59l4 2M62 65l4 2M12 84l4 2M17 99l4 2M19 105l4 2M18 105l4 2M91 208l4 2" stroke="#0000b4"/><path d="M109 8l4 2M76 26l4 2M107 35l4 2M89 40l4 2M84 45l4 2M166 50l4 2M5 63l4 2M7 63l4 2M60 71l4 2M53 83l4 2M8 114l4 2M1 118l4 2M1 125l4 2M11 127l4 2M4 145l4 2M97 146l4 2M122 162l4 2M91 167l4 2M89 167l4 2M121 169l4 2M26 177l4 2M121 182l4 2M77 191l4 2M82 189l4 2M68 200l4 2M71 199l4 2M85 207l4 2M44 210l4 2M45 210l4 2M54 215l4 2" stroke="#001dff"/><path d="M113 6l4 2M127 53l4 2M152 79l4 2M160 81l4 2M49 92l4 2M46 100l4 2M109 102l4 2M121 102l4 2M99 106l4 2M40 119l4 2M79 123l4 2M103 121l4 2M35 125l4 2M74 170l4 2M41 181l4 2M63 187l4 2M5 189l4 2M30 188l4 2M62 189l4 2M4 194l4 2M15 193l4 2M68 101l4 2" stroke="#00efff"/><path d="M54 130l4 2M79 133l4 2M45 144l4 2M28 148l4 2M77 147l4 2M22 149l4 2M44 156l4 2M59 157l4 2M34 161l4 2M59 164l4 2M78 164l4 2M39 166l4 2M64 169l4 2M117 65l4 2M114 69l4 2M114 77l4 2M119 89l4 2M84 87l4 2M62 90l4 2M87 89l4 2M82 94l4 2M90 95l4 2M56 100l4 2M89 99l4 2M85 101l4 2M89 101l4 2M69 108l4 2M97 110l4 2M85 116l4 2M62 119l4 2" stroke="#ff0300"/><path d="M172 1l4 2M132 2l4 2M147 4l4 2M158 3l4 2M186 7l4 2M138 7l4 2M136 11l4 2M189 12l4 2M168 15l4 2M183 21l4 2M179 22l4 2M117 25l4 2M115 27l4 2M154 30l4 2M151 36l4 2M164 34l4 2M99 43l4 2M137 53l4 2M136 61l4 2M81 62l4 2M148 61l4 2M50 84l4 2M141 104l4 2M137 107l4 2M42 109l4 2M107 109l4 2M116 108l4 2M122 109l4 2M31 113l4 2M42 111l4 2M30 115l4 2M131 125l4 2M19 137l4 2M133 139l4 2M129 146l4 2M119 152l4 2M116 156l4 2M117 157l4 2M78 167l4 2M41 199l4 2M42 200l4 2M38 203l4 2M36 209l4 2" stroke="#0086ff"/><path d="M149 92l4 2M105 147l4 2M49 170l4 2M56 134l4 2M54 140l4 2" stroke="#ffd500"/><path d="M137 31l4 2M143 31l4 2M131 36l4 2M160 38l4 2M139 42l4 2M142 41l4 2M150 40l4 2M103 43l4 2M91 47l4 2M141 48l4 2M171 51l4 2M157 56l4 2M79 58l4 2M154 57l4 2M156 60l4 2M76 66l4 2M66 73l4 2M64 75l4 2M33 99l4 2M123 98l4 2M117 112l4 2M40 115l4 2M130 117l4 2M131 121l4 2M21 122l4 2M0 128l4 2M134 151l4 2M98 160l4 2M105 162l4 2M122 165l4 2M78 174l4 2M78 177l4 2M81 177l4 2M25 181l4 2M35 179l4 2" stroke="#0052ff"/></g></g>
<path d="M1227.5,182 1230.5,181 1235,180.5 1238.5,184 1237.5,188 1239,191 1235.5,195 1234,200 1235,204 1233.5,206.5 1237,214.5 1233,214.5 1228.5,217.5 1224,221 1223,218.5 1226.5,214 1225.5,211 1229,209 1227.5,206 1229.5,203.5 1228,199.5 1229.5,197 1227,195.5 1230,192.5 1227.5,188 1229,185.5ZM1247,165.5 1251.5,161.5 1258.5,160 1265.5,159.2 1271.5,159 1272,163 1266.5,165 1259.5,167.5 1252.5,169.5 1247.5,170ZM1037.8,96.4 1040,96.4 1040,240.2 1037.8,240.2ZM1270.4,115.5 1272.4,115.5 1272.4,163.5 1270.4,163.5ZM1144,250.5 1147.5,250 1150,252.5 1150.5,256.5 1148,259 1145,257.5 1143.5,254Z" fill="#000" stroke="#000" stroke-width="1.2" stroke-linejoin="round" clip-path="url(#ax2)"/>
<path d="M1216.9 225.3l-2.1 -1.9M1214.6 227.9l1.2 1.1M1214.4 228.1l-0.9 -0.8M1212.8 229.8l0.7 0.9M1211.0 231.4l-2.4 -2.8M1209.6 232.5l-2.5 -2.9M1207.7 234.2l1.5 1.7M1206.4 235.4l-0.8 -0.9M1205.1 236.5l-2.5 -3.2M1203.5 237.7l-0.8 -1.0M1202.1 239.5l-3.1 -1.2M1201.2 242.0l-3.7 -1.4M1200.5 244.0l-2.8 -0.9M1199.7 246.3l-1.4 -0.5M1199.4 247.5l1.1 0.4M1235.7 214.6l-1.4 -2.8M1234.1 215.3l1.0 2.0M1232.6 216.3l1.0 1.4M1230.9 217.5l-1.3 -1.8M1228.1 218.8l0.6 2.4M1226.8 219.1l-0.8 -3.2M1225.1 220.5l1.7 1.7M1224.9 220.6l1.3 1.4M1222.8 222.8l-2.1 -2.1M1222.4 223.1l1.1 1.1M1219.3 224.6l-0.3 -1.4M1218.4 224.8l-0.3 -1.6M1181.6 253.3l0.7 2.3M1183.1 252.9l-2.0 2.3M1184.8 254.4l1.2 -1.3M1186.5 256.6l2.1 -1.3M1186.9 257.2l-1.1 0.7M1187.7 258.6l-2.6 1.6M1190.0 261.2l-2.5 3.3M1191.0 261.9l-1.0 1.3M1198.5 282.9l1.5 -1.7M1196.9 281.6l2.6 -2.9M1196.5 280.7l3.5 -1.5M1195.3 278.0l-1.6 0.7M1125.0 255.4l0.7 -2.4M1127.5 256.1l0.5 -1.8M1129.6 256.6l-0.2 2.1M1132.0 256.8l-0.3 2.8M1134.4 257.6l-1.8 3.8M1134.8 257.8l0.8 -1.6M1136.9 258.8l-1.1 2.9M1139.4 259.8l-1.2 3.0M1141.6 260.1l-0.0 2.0M1142.3 260.1l0.0 -0.8M1144.2 260.1l-0.6 -1.3M1146.5 259.1l1.2 2.7M1232.9 201.2l0.7 -1.6M1231.1 198.9l2.0 -0.3M1231.0 198.4l-2.2 0.3M1230.8 195.3l-1.0 -0.1M1230.9 194.2l3.6 0.3M1230.9 192.0l-1.9 0.4M1230.2 189.2l1.5 -0.3M1230.4 186.7l3.2 0.5M1230.5 185.7l3.7 0.6M1230.8 184.4l3.1 1.4M1232.5 180.7l2.3 1.1" stroke="#000" stroke-width="1.5" stroke-linecap="round" clip-path="url(#ax2)"/>
<path d="M1032.6,96.5 1113.1,96.5M1057.3,96.5 1057.3,168.1M1032.6,133.6 1057.3,133.6M1032.6,168.1 1069.9,168.1M1069.9,168.1 1069.9,200.6M1032.6,200.6 1116.5,200.6M1063.9,200.6 1063.9,204.5 1063.7,238.9 1041.2,238.9 1041.8,240.5 1032.6,240.5M1063.9,204.5 1082.7,204.5 1082.7,219.6M1082.7,219.6 1085.2,220.9 1087.7,221.2 1092.1,222.8 1095.3,223.1 1098.4,224.6 1100.9,225.7 1102.2,224.2 1105.3,225.7 1108.4,224.8 1110.9,224.8 1114.1,225 1117.3,226.6 1120.1,227.3 1120.1,238.9M1117.3,226.6 1117.7,213.1 1116.5,204.5 1116.5,183.7 1114.7,180.5 1114.1,177.6 1112.1,176.4M1069.9,176.4 1112.1,176.4M1112.1,176.4 1109.3,171.6 1108.8,168.9 1107.8,166.4 1107.2,163 1105.6,159.7 1104,155.4 1101.5,153.1 1098.4,152.4 1092.1,151.1 1057.3,151.1M1104,155.4 1105,155.5 1104,150 1105,146.8 1105,130.9 1104.3,125.1 1057.3,125.1M1104.3,125.1 1104,121.8 1102.8,116.3 1102.2,108.9 1100.6,101.3 1100.1,96.5M1109.3,171.6 1136.5,173.2M1105,146.8 1137.8,146.8M1128.2,135.8 1132.9,138.9 1137.3,143.3 1137.8,146.8 1138.5,153.7 1141.4,155.4 1144.5,159.4 1144.2,161.4 1139.8,164.7 1138.5,167.2 1139.2,170.6 1136.5,173.2 1136.7,176.4 1138.5,178.8 1141,183.7 1144.2,185.4 1144.2,187.8 1143.6,191 1147.9,196.6 1148.6,199.8 1150.6,200.6 1151.1,201.4 1148.9,204.5 1148.3,206.1 1147.3,208.4 1145.4,212.3 1144.8,216.2 1143.6,218.5 1141.7,220.8 1139.2,223.8 1138.2,227.6 1138.2,231.4 1137.9,235.2 1139.2,238.1 1136.7,241.9 1135.4,246.3M1128.2,135.8 1127.9,133.6 1128.2,128.2 1131,123.6 1131,118.6 1132.3,117.7M1113.1,96.5 1113.1,92.8 1115.3,93.6 1116.6,99.4 1123.5,100.8 1129.1,101.8 1136,105.6 1140.4,104.1 1147.9,106 1143.6,108.4 1137.3,112.6 1132.3,117.7M1132.3,117.7 1136.7,116.8 1139.8,115.8 1141,119.1 1142.9,119.3 1144.8,121.4 1151.1,123.5 1157.3,125 1159.2,130 1160.5,132.7M1160.5,132.7 1158.6,134.9 1158,137.6 1160.5,134.9 1164.2,130.9 1162.4,135.8 1161.1,139.8 1159.9,145 1158.6,151.1 1159.2,155.4 1141.4,155.4M1159.2,155.4 1160.5,160.5 1160.9,162.2 1163,162.9 1165.4,161.7 1177.9,161.9 1186.5,161.9M1160.9,161.7 1160.9,181.7 1160.5,185.4 1158.6,190.2 1157.7,194.2M1177.9,161.9 1177.9,183.7M1191.8,191.3 1191.8,189.4 1190.3,187 1187.4,187.6 1184.6,187.4 1181.8,186.2 1179.9,183.7 1177.9,183.7 1174.3,186.7 1172.1,190.6 1170.5,192.6 1167.4,193.4 1163.6,194.5 1160.7,192.9 1157.7,194.2 1157.3,196.6 1154.2,199.9 1150.6,200.6M1191.8,189.4 1194.3,186.2 1196.9,184.6 1200,181.7 1202.8,178.8 1204.4,176.4 1204.9,171.1 1204.9,159.8M1142.9,119.3 1147.9,117.2 1152.3,115.4 1156.7,111.2 1159.2,111.7 1155.5,115.4 1160.5,116.8 1164.2,120 1168,120 1173.7,118.1 1176.8,117.7 1179.3,120.4 1182.4,120 1183.7,124.1 1181.2,125 1178.7,125.5 1173.7,123.6 1168.6,125.9 1166.1,126.4 1163.6,128.2 1160.5,132.7M1165.4,161.7 1167.4,158 1168.9,152.8 1169.3,148.5 1167.4,144.1 1168.9,139.8 1170.2,135.3 1173,132.7 1174.3,130.9 1176.8,128.2 1178.7,126.5 1181.8,128.2 1186.2,130.4 1187.4,133.6 1187.1,137.1 1185.6,141.5 1183.7,145.5 1186.2,143.3 1189.3,142 1191.8,143.3 1192.8,151.1 1192.5,154.5 1190,156.3 1188.7,159.2 1186.5,161.9M1186.5,161.9 1189.3,163.5 1191.2,164.3 1195.6,163.9 1197.5,163.9 1200.6,161.8 1204.9,159.8 1207.5,158.4 1209.6,157.4 1209.6,159.7 1237.2,159.7M1209.6,157.4 1214.4,153.3 1215,151.5 1214.1,148.9 1220.7,147.9 1223.8,148.9 1228.2,148.5 1232,146.3 1232,143.3 1231,141.5 1234.5,138.4 1237.6,135.3 1241.4,133.6 1261.4,133.6 1264.1,130.9 1265.8,130 1269,125.5 1270.8,118.1 1275.9,111.2M1249.8,133.6 1249.8,138 1249.5,145.9 1250.5,146.3 1250.3,153.3 1248.9,159.2 1248.9,165.6 1247.6,167.2 1248,168.3M1250.3,153.3 1255.4,153.4 1262.7,153.7 1265.8,152.2M1255.4,153.4 1255.5,151.1 1256.4,145 1258.3,139.8 1261.4,133.6M1264.1,130.9 1264.6,138 1264.9,146.8 1266.5,150.2M1248.9,159.2 1259.6,159.5 1262.2,159.5 1263.8,163.9M1259.6,159.5 1259.2,165.4M1277.1,141.5 1272.1,144.1 1269.6,145.9 1266.5,150.2 1265.8,152.2 1267.1,154.5 1264.6,157.1 1267.1,160.1 1270.8,161.8 1270.8,159.2 1271.2,162.2 1267.1,163.5 1263.8,163.9 1259.2,165.4 1255.2,165.8 1252,166.4 1248,168.3 1246.4,169.3M1246.4,171 1253.3,169.8 1258.9,167.7 1255.2,168.9 1249.5,171.4 1246.4,171.4M1237.2,159.7 1238.9,160.9 1241.4,165.1 1246.4,168.1 1245.8,170.6M1241.4,165.1 1238.9,169.3 1238.2,171.4 1239.8,173.9 1241.1,175.1 1238.9,176.8 1237,178 1235.7,177.7 1234.5,178.7 1204.9,178.7 1204.9,171.1M1245.8,170.6 1245.8,173.1 1245.1,178.4 1243.3,181.3 1240.1,185.1 1238.2,182.5 1236.4,179.7 1237,178M1234.5,178.7 1234.5,188.9 1239.2,188.9M1236.4,179.7 1237,182.1 1238.9,186.2 1239.2,189 1238.2,192.6 1235.7,195.8 1233.5,199.4M1211.4,178.7 1211.4,182.9 1215,180.9 1218.5,179.3 1222.4,182 1223.8,182.9 1226.6,185.8 1225.7,188.6 1227.6,191 1231.3,193M1195.8,196.3 1200.6,198.6 1203.1,197.4 1206.3,196.6 1207.5,193.4 1210,189.4 1212.5,189 1215,185.8 1218.5,181.3 1222.4,182M1195.8,196.3 1193.1,194.2 1191.8,191.3M1185.1,203.7 1189.3,201.8 1193.7,198.2 1195.8,196.3M1148.9,204.5 1157.7,204.5 1157.5,203.1 1164.2,203.4 1173.7,203.7 1185.1,203.7 1197.6,203.8 1234,204.1M1181,216.2 1183.1,213.9 1186.2,211.9 1189.3,210 1191.8,208.4 1194.3,207.3 1197.6,203.8M1144.8,216.2 1188.7,216.2M1188.7,216.2 1193.1,214.6 1201.6,215 1202.5,215.4 1203.1,217.6 1210.1,217.7 1217.2,225M1188.7,216.2 1189.3,218.5 1191.8,221.6 1194.3,226.1 1196.2,229.1 1198.7,232.2 1200,235.2 1202.5,238.5M1156.7,216.2 1155,239.6 1155.5,250.8M1173,216.2 1175.5,232.5 1176.8,235.2 1176.5,238.9 1176.2,242.6 1176.8,246.3 1160.5,246.3 1161.1,251.4M1176.8,246.3 1177.7,248.5 1194.3,249.4 1195.3,247.8 1199,248.5M1116.5,204.5 1144.5,204.5 1143.1,208.4 1147.3,208.4M1120.1,231.3 1138.2,231.4M1120.1,238.9 1121.6,242.6 1123.2,246.3 1122.1,251.4 1121.4,255.8M1135.4,246.3 1147.1,246.3 1147.6,249.2 1147.9,252.2M1041.8,240.5 1045.1,243.3 1051.4,248.5 1053.3,253.6 1057.6,258.7 1061.4,260.9 1063.3,260.9 1065.8,255.8 1068.3,254.5 1074,255.3 1078.7,260.1 1080.8,265.9 1085.9,271.6 1088.4,278.7 1094,281.8 1098.4,282.9 1100.6,282.6 1099.7,278.7 1099,275.2 1100.3,270.2 1102.8,266.6 1107.8,263.7 1113.5,260.1 1116,258.3 1121.4,255.8 1124.7,255.3 1129.1,256.5 1132.9,256.9 1136.7,258.7 1140.4,260.1 1144.2,260.1 1147.3,258.7 1149.2,261.2 1151.7,259.4 1149.8,257.2 1147.9,254.3 1149.2,253.2 1147.9,252.2 1151.7,250.7 1155.5,250.8 1158,251.8 1161.1,251.4 1164.2,250.7 1168.6,250.7 1173,252.9 1174.3,255.1 1176.8,255.8 1180.5,253.6 1183.1,252.9 1185.6,255.1 1188.7,260.1 1191.5,262.3 1190.6,268 1191.8,271.6 1195,277.3 1196.9,281.5 1200,284.3 1201.9,287.8 1205.9,287.8 1208.1,283.6 1209.1,278.7 1208.1,273.7 1205.6,267.3 1204.7,263.7 1202.2,258.7 1200.3,254.3 1199,248.5 1200.9,242.6 1202.5,238.5 1205.3,236.3 1208.8,233.3 1213.2,229.5 1217.2,225 1221.3,224.2 1226.3,219.3 1229.5,218.5 1233.2,215.8 1236.4,214.3 1236.4,210 1234,204.1 1233.2,201.4 1231.3,200.6M1206.3,287.5 1208.8,294.4" clip-path="url(#ax2)" fill="none" stroke="#000" stroke-width="2.6" stroke-linejoin="round" stroke-linecap="round"/>
<text x="988.3" y="112.8" class="s">48</text>
<ellipse cx="1010.5" cy="99.7" rx="1.8" ry="1.35" class="dg"/>
<text x="1018.1" y="112.8" class="s">N</text>
<text x="988.3" y="130.8" class="s">46</text>
<ellipse cx="1010.5" cy="117.7" rx="1.8" ry="1.35" class="dg"/>
<text x="1018.1" y="130.8" class="s">N</text>
<text x="988.3" y="148.2" class="s">44</text>
<ellipse cx="1010.5" cy="135.1" rx="1.8" ry="1.35" class="dg"/>
<text x="1018.1" y="148.2" class="s">N</text>
<text x="988.3" y="166.8" class="s">42</text>
<ellipse cx="1010.5" cy="153.7" rx="1.8" ry="1.35" class="dg"/>
<text x="1018.1" y="166.8" class="s">N</text>
<text x="988.3" y="182.8" class="s">40</text>
<ellipse cx="1010.5" cy="169.7" rx="1.8" ry="1.35" class="dg"/>
<text x="1018.1" y="182.8" class="s">N</text>
<text x="988.3" y="198.2" class="s">38</text>
<ellipse cx="1010.5" cy="185.1" rx="1.8" ry="1.35" class="dg"/>
<text x="1018.1" y="198.2" class="s">N</text>
<text x="988.3" y="214.7" class="s">36</text>
<ellipse cx="1010.5" cy="201.6" rx="1.8" ry="1.35" class="dg"/>
<text x="1018.1" y="214.7" class="s">N</text>
<text x="988.3" y="229.2" class="s">34</text>
<ellipse cx="1010.5" cy="216.1" rx="1.8" ry="1.35" class="dg"/>
<text x="1018.1" y="229.2" class="s">N</text>
<text x="988.3" y="246" class="s">32</text>
<ellipse cx="1010.5" cy="232.9" rx="1.8" ry="1.35" class="dg"/>
<text x="1018.1" y="246" class="s">N</text>
<text x="988.3" y="259.8" class="s">30</text>
<ellipse cx="1010.5" cy="246.7" rx="1.8" ry="1.35" class="dg"/>
<text x="1018.1" y="259.8" class="s">N</text>
<text x="988.3" y="273.2" class="s">28</text>
<ellipse cx="1010.5" cy="260.1" rx="1.8" ry="1.35" class="dg"/>
<text x="1018.1" y="273.2" class="s">N</text>
<text x="988.3" y="288.1" class="s">26</text>
<ellipse cx="1010.5" cy="275" rx="1.8" ry="1.35" class="dg"/>
<text x="1018.1" y="288.1" class="s">N</text>
<text x="988.3" y="302" class="s">24</text>
<ellipse cx="1010.5" cy="288.9" rx="1.8" ry="1.35" class="dg"/>
<text x="1018.1" y="302" class="s">N</text>
<text x="988.3" y="315.4" class="s">22</text>
<ellipse cx="1010.5" cy="302.3" rx="1.8" ry="1.35" class="dg"/>
<text x="1018.1" y="315.4" class="s">N</text>
<text x="1057.7" y="74.7" class="s">100</text>
<ellipse cx="1087.4" cy="61.5" rx="1.8" ry="1.35" class="dg"/>
<text x="1094.9" y="74.7" class="s">W</text>
<text x="1126.7" y="74.7" class="s">90</text>
<ellipse cx="1149" cy="61.5" rx="1.8" ry="1.35" class="dg"/>
<text x="1156.5" y="74.7" class="s">W</text>
<text x="1190.5" y="74.7" class="s">80</text>
<ellipse cx="1212.8" cy="61.5" rx="1.8" ry="1.35" class="dg"/>
<text x="1220.3" y="74.7" class="s">W</text>
<text x="1254.1" y="74.7" class="s">70</text>
<ellipse cx="1276.4" cy="61.5" rx="1.8" ry="1.35" class="dg"/>
<text x="1283.9" y="74.7" class="s">W</text>
<rect x="1285.4" y="95.1" width="23.4" height="215.6" fill="url(#jet)" stroke="#262626" stroke-width="0.8"/>
<path d="M1306.3,202.9H1308.8" stroke="#262626" stroke-width="0.8"/>
<text x="1317" y="103.3" class="cb">100</text>
<text x="1316.8" y="210.7" class="cb">50</text>
<text x="1316.8" y="318.5" class="cb">0</text>
<text x="981.5" y="340.8" class="t">SAT 250 hPa RH (Percent)</text>
<clipPath id="sw3"><path d="M194.6,485.1 386.6,485.4 366,529.8 344.2,588 319.5,649.8 301.2,701.4 248,702.1 193.5,690.1Z"/><circle cx="194" cy="487.2" r="3.9"/><circle cx="202.4" cy="487.2" r="4.3"/><circle cx="212.9" cy="487" r="4.4"/><circle cx="221.4" cy="487.9" r="5"/><circle cx="230.5" cy="488.6" r="5.2"/><circle cx="240.5" cy="487.6" r="3.8"/><circle cx="249.9" cy="486.8" r="3.9"/><circle cx="262" cy="487.9" r="4.6"/><circle cx="271.8" cy="486.8" r="3.8"/><circle cx="280.9" cy="487.7" r="4.4"/><circle cx="291.8" cy="487.7" r="4.2"/><circle cx="303.3" cy="487.9" r="4.6"/><circle cx="315.7" cy="488.1" r="4.2"/><circle cx="324.3" cy="488" r="4.9"/><circle cx="334.7" cy="488.1" r="4.8"/><circle cx="345.6" cy="488" r="4.2"/><circle cx="356.5" cy="488.2" r="4.4"/><circle cx="369.3" cy="487.9" r="4.8"/><circle cx="380.8" cy="489.1" r="5.3"/><circle cx="196.6" cy="488.8" r="3.4"/><circle cx="196.4" cy="495.9" r="3.5"/><circle cx="196.2" cy="503.2" r="3"/><circle cx="196.2" cy="510.6" r="3.2"/><circle cx="196.1" cy="520.2" r="3"/><circle cx="197.3" cy="528.9" r="4"/><circle cx="196.3" cy="538.5" r="3.2"/><circle cx="197.3" cy="546.5" r="4"/><circle cx="196.1" cy="554" r="3.1"/><circle cx="196.6" cy="561.7" r="3.5"/><circle cx="196" cy="569.5" r="2.9"/><circle cx="197" cy="577.6" r="3.6"/><circle cx="196.7" cy="586.7" r="3.5"/><circle cx="196.3" cy="595.7" r="3"/><circle cx="197.2" cy="605" r="3.9"/><circle cx="196.2" cy="613.2" r="3.4"/><circle cx="195.8" cy="622.1" r="3"/><circle cx="196.1" cy="629.7" r="3.1"/><circle cx="195.8" cy="636.9" r="2.9"/><circle cx="196.2" cy="644.2" r="3.3"/><circle cx="196.5" cy="653.8" r="3.6"/><circle cx="196.3" cy="661.6" r="3.3"/><circle cx="197.3" cy="668.9" r="3.9"/><circle cx="196.3" cy="677.3" r="3.5"/><circle cx="196.3" cy="684.6" r="3.3"/><circle cx="199" cy="688" r="4"/><circle cx="210.8" cy="690.1" r="4.5"/><circle cx="221" cy="693.3" r="3.7"/><circle cx="232.9" cy="694.7" r="5.1"/><circle cx="241.9" cy="697.2" r="4.3"/><circle cx="253" cy="698.5" r="4.6"/><circle cx="262.3" cy="698.9" r="4.1"/><circle cx="274.3" cy="697.8" r="5.1"/><circle cx="285.6" cy="697.5" r="4.9"/><circle cx="295.6" cy="697.8" r="4.3"/></clipPath>
<clipPath id="ax3"><rect x="195.3" y="486.2" width="234.3" height="213"/></clipPath>
<rect x="195.3" y="486.2" width="234.3" height="213" fill="none" stroke="#000" stroke-width="1.1"/>
<g clip-path="url(#sw3)"><g filter="url(#bl)" transform="translate(192.3 483.2)"><path d="M0 0h12v12h-12zM72 0h12v12h-12zM36 12h12v12h-12zM72 12h12v12h-12zM84 12h12v12h-12zM12 24h12v12h-12zM96 24h12v12h-12zM120 24h12v12h-12zM132 48h12v12h-12zM132 60h12v12h-12zM144 60h12v12h-12zM96 72h12v12h-12zM108 72h12v12h-12zM48 96h12v12h-12zM24 108h12v12h-12zM36 108h12v12h-12zM144 108h12v12h-12zM156 108h12v12h-12zM168 108h12v12h-12zM180 108h12v12h-12zM192 108h12v12h-12zM24 120h12v12h-12zM120 120h12v12h-12zM132 120h12v12h-12zM144 120h12v12h-12zM156 120h12v12h-12zM168 120h12v12h-12zM180 120h12v12h-12zM192 120h12v12h-12zM12 132h12v12h-12zM24 132h12v12h-12zM96 132h12v12h-12zM120 132h12v12h-12zM0 144h12v12h-12zM12 144h12v12h-12zM60 144h12v12h-12zM72 144h12v12h-12zM0 156h12v12h-12zM72 156h12v12h-12zM36 168h12v12h-12zM48 168h12v12h-12zM24 180h12v12h-12zM36 180h12v12h-12zM12 192h12v12h-12zM24 192h12v12h-12zM36 192h12v12h-12zM48 192h12v12h-12zM24 204h12v12h-12z" fill="#00d2ff" stroke="#00d2ff" stroke-width="0.6"/><path d="M12 0h12v12h-12zM36 24h12v12h-12zM72 24h12v12h-12zM0 36h12v12h-12zM12 36h12v12h-12zM84 36h12v12h-12zM84 48h12v12h-12zM60 60h12v12h-12zM60 72h12v12h-12zM36 84h12v12h-12zM0 108h12v12h-12zM96 144h12v12h-12zM120 144h12v12h-12zM132 144h12v12h-12zM144 144h12v12h-12zM156 144h12v12h-12zM168 144h12v12h-12zM180 144h12v12h-12zM192 144h12v12h-12zM84 156h12v12h-12zM108 156h12v12h-12zM72 168h12v12h-12zM96 168h12v12h-12zM108 168h12v12h-12zM120 168h12v12h-12zM132 168h12v12h-12zM144 168h12v12h-12zM156 168h12v12h-12zM168 168h12v12h-12zM180 168h12v12h-12zM192 168h12v12h-12zM72 180h12v12h-12zM60 192h12v12h-12zM48 204h12v12h-12zM60 204h12v12h-12zM36 216h12v12h-12zM48 216h12v12h-12zM60 216h12v12h-12z" fill="#003cfa" stroke="#003cfa" stroke-width="0.6"/><path d="M24 0h12v12h-12zM36 0h12v12h-12zM48 0h12v12h-12zM96 0h12v12h-12zM108 12h12v12h-12zM96 48h12v12h-12zM108 48h12v12h-12zM108 60h12v12h-12zM120 60h12v12h-12zM120 72h12v12h-12zM144 72h12v12h-12zM72 84h12v12h-12zM108 84h12v12h-12zM60 96h12v12h-12zM120 108h12v12h-12zM60 120h12v12h-12zM72 120h12v12h-12zM84 120h12v12h-12zM96 120h12v12h-12zM60 156h12v12h-12zM24 168h12v12h-12zM0 180h12v12h-12z" fill="#b4ff46" stroke="#b4ff46" stroke-width="0.6"/><path d="M60 0h12v12h-12zM24 12h12v12h-12zM96 12h12v12h-12zM108 24h12v12h-12zM96 36h12v12h-12zM108 36h12v12h-12zM120 48h12v12h-12zM156 72h12v12h-12zM168 72h12v12h-12zM180 72h12v12h-12zM192 72h12v12h-12zM60 84h12v12h-12zM156 84h12v12h-12zM168 84h12v12h-12zM180 84h12v12h-12zM192 84h12v12h-12zM132 108h12v12h-12zM36 120h12v12h-12zM48 120h12v12h-12zM72 132h12v12h-12zM84 132h12v12h-12zM108 132h12v12h-12zM48 144h12v12h-12zM84 144h12v12h-12zM12 180h12v12h-12zM12 204h12v12h-12z" fill="#3cffc8" stroke="#3cffc8" stroke-width="0.6"/><path d="M84 0h12v12h-12zM48 12h12v12h-12zM60 12h12v12h-12zM24 24h12v12h-12zM84 24h12v12h-12zM120 36h12v12h-12zM132 36h12v12h-12zM144 48h12v12h-12zM72 60h12v12h-12zM156 60h12v12h-12zM72 72h12v12h-12zM48 84h12v12h-12zM36 96h12v12h-12zM12 108h12v12h-12zM0 120h12v12h-12zM12 120h12v12h-12zM0 132h12v12h-12zM132 132h12v12h-12zM144 132h12v12h-12zM156 132h12v12h-12zM168 132h12v12h-12zM180 132h12v12h-12zM192 132h12v12h-12zM108 144h12v12h-12zM120 156h12v12h-12zM132 156h12v12h-12zM144 156h12v12h-12zM156 156h12v12h-12zM168 156h12v12h-12zM180 156h12v12h-12zM192 156h12v12h-12zM60 168h12v12h-12zM48 180h12v12h-12zM60 180h12v12h-12zM0 192h12v12h-12zM0 204h12v12h-12zM36 204h12v12h-12zM0 216h12v12h-12zM12 216h12v12h-12zM24 216h12v12h-12z" fill="#008cff" stroke="#008cff" stroke-width="0.6"/><path d="M108 0h12v12h-12zM12 12h12v12h-12zM84 60h12v12h-12zM108 96h12v12h-12zM132 96h12v12h-12zM144 96h12v12h-12zM156 96h12v12h-12zM168 96h12v12h-12zM180 96h12v12h-12zM192 96h12v12h-12zM48 108h12v12h-12zM108 108h12v12h-12zM108 120h12v12h-12zM36 132h12v12h-12zM60 132h12v12h-12zM12 156h12v12h-12zM36 156h12v12h-12zM48 156h12v12h-12zM12 168h12v12h-12z" fill="#ffdc00" stroke="#ffdc00" stroke-width="0.6"/><path d="M120 0h12v12h-12zM132 0h12v12h-12zM120 12h12v12h-12zM132 12h12v12h-12zM132 24h12v12h-12zM144 24h12v12h-12zM144 36h12v12h-12zM156 36h12v12h-12zM156 48h12v12h-12zM168 48h12v12h-12zM180 48h12v12h-12zM192 48h12v12h-12zM168 60h12v12h-12zM180 60h12v12h-12zM192 60h12v12h-12z" fill="#003cfa" stroke="#003cfa" stroke-width="0.6"/><path d="M144 0h12v12h-12zM144 12h12v12h-12zM156 24h12v12h-12zM168 36h12v12h-12zM180 36h12v12h-12zM192 36h12v12h-12z" fill="#008cff" stroke="#008cff" stroke-width="0.6"/><path d="M156 0h12v12h-12zM156 12h12v12h-12zM168 24h12v12h-12z" fill="#00d2ff" stroke="#00d2ff" stroke-width="0.6"/><path d="M168 0h12v12h-12zM180 0h12v12h-12zM192 0h12v12h-12zM168 12h12v12h-12zM180 12h12v12h-12zM192 12h12v12h-12zM180 24h12v12h-12zM192 24h12v12h-12z" fill="#3cffc8" stroke="#3cffc8" stroke-width="0.6"/><path d="M0 12h12v12h-12zM0 24h12v12h-12zM96 60h12v12h-12zM84 72h12v12h-12zM132 72h12v12h-12zM84 84h12v12h-12zM96 84h12v12h-12zM120 84h12v12h-12zM132 84h12v12h-12zM144 84h12v12h-12zM72 96h12v12h-12zM84 96h12v12h-12zM96 96h12v12h-12zM120 96h12v12h-12zM60 108h12v12h-12zM72 108h12v12h-12zM84 108h12v12h-12zM96 108h12v12h-12zM24 144h12v12h-12zM36 144h12v12h-12zM24 156h12v12h-12zM0 168h12v12h-12z" fill="#ff7800" stroke="#ff7800" stroke-width="0.6"/><path d="M48 24h12v12h-12zM60 24h12v12h-12zM24 36h12v12h-12zM36 36h12v12h-12zM48 36h12v12h-12zM60 36h12v12h-12zM72 36h12v12h-12zM0 48h12v12h-12zM12 48h12v12h-12zM24 48h12v12h-12zM36 48h12v12h-12zM60 48h12v12h-12zM72 48h12v12h-12zM0 60h12v12h-12zM12 60h12v12h-12zM24 60h12v12h-12zM36 60h12v12h-12zM48 60h12v12h-12zM24 72h12v12h-12zM36 72h12v12h-12zM48 72h12v12h-12zM24 84h12v12h-12zM24 96h12v12h-12zM96 156h12v12h-12zM84 168h12v12h-12zM84 180h12v12h-12zM96 180h12v12h-12zM108 180h12v12h-12zM120 180h12v12h-12zM132 180h12v12h-12zM144 180h12v12h-12zM156 180h12v12h-12zM168 180h12v12h-12zM180 180h12v12h-12zM192 180h12v12h-12zM72 192h12v12h-12zM84 192h12v12h-12zM96 192h12v12h-12zM108 192h12v12h-12zM120 192h12v12h-12zM132 192h12v12h-12zM144 192h12v12h-12zM156 192h12v12h-12zM168 192h12v12h-12zM180 192h12v12h-12zM192 192h12v12h-12zM72 204h12v12h-12zM84 204h12v12h-12zM96 204h12v12h-12zM108 204h12v12h-12zM120 204h12v12h-12zM132 204h12v12h-12zM144 204h12v12h-12zM156 204h12v12h-12zM168 204h12v12h-12zM180 204h12v12h-12zM192 204h12v12h-12zM72 216h12v12h-12zM84 216h12v12h-12zM96 216h12v12h-12zM108 216h12v12h-12zM120 216h12v12h-12zM132 216h12v12h-12zM144 216h12v12h-12zM156 216h12v12h-12zM168 216h12v12h-12zM180 216h12v12h-12zM192 216h12v12h-12z" fill="#000ad7" stroke="#000ad7" stroke-width="0.6"/><path d="M48 48h12v12h-12zM0 72h12v12h-12zM12 72h12v12h-12zM0 84h12v12h-12zM12 84h12v12h-12zM0 96h12v12h-12zM12 96h12v12h-12z" fill="#0000af" stroke="#0000af" stroke-width="0.6"/><path d="M48 132h12v12h-12z" fill="#eb1400" stroke="#eb1400" stroke-width="0.6"/></g><path d="M286.2,550.4 294.9,550.4 296.9,555.2 305.6,555.2 305.6,563.0 296.9,563.0 294.9,559.1 286.2,559.1Z" fill="#fff"/><g fill="none" stroke-width="3.6" stroke-linecap="round" transform="translate(192 483)"><path d="M117 50l4 2M131 62l4 2M141 87l4 2M108 93l4 2M129 103l4 2M54 112l4 2M90 122l4 2M79 139l4 2M5 166l4 2M16 27l4 2M10 174l4 2" stroke="#ffa000"/><path d="M90 7l4 2M97 9l4 2M162 17l4 2M160 18l4 2M165 20l4 2M81 20l4 2M161 22l4 2M166 20l4 2M172 26l4 2M85 29l4 2M103 31l4 2M172 31l4 2M95 49l4 2M142 52l4 2M118 55l4 2M141 61l4 2M149 63l4 2M119 72l4 2M68 83l4 2M57 89l4 2M43 98l4 2M62 100l4 2M52 114l4 2M133 117l4 2M110 123l4 2M136 129l4 2M16 136l4 2M94 140l4 2M78 143l4 2M64 174l4 2M30 184l4 2M53 184l4 2M37 194l4 2" stroke="#00d4ff"/><path d="M129 11l4 2M136 11l4 2M133 13l4 2M37 34l4 2M139 36l4 2M161 39l4 2M156 40l4 2M5 42l4 2M88 48l4 2M161 48l4 2M90 53l4 2M65 75l4 2M7 112l4 2M105 153l4 2M117 167l4 2M76 176l4 2M65 201l4 2M62 211l4 2" stroke="#0038ff"/><path d="M145 2l4 2M15 4l4 2M62 20l4 2M130 19l4 2M45 24l4 2M151 25l4 2M85 34l4 2M142 33l4 2M87 36l4 2M172 44l4 2M87 53l4 2M154 55l4 2M161 60l4 2M162 62l4 2M73 77l4 2M56 83l4 2M138 101l4 2M1 117l4 2M8 117l4 2M-0 137l4 2M124 146l4 2M108 150l4 2M121 152l4 2M132 153l4 2M121 156l4 2M73 184l4 2M63 189l4 2M69 191l4 2M58 200l4 2M48 217l4 2" stroke="#006cff"/><path d="M109 95l4 2M73 103l4 2M16 32l4 2M88 65l4 2M47 138l4 2M1 177l4 2M10 179l4 2" stroke="#ff1d00"/><path d="M67 3l4 2M32 4l4 2M95 13l4 2M116 25l4 2M154 79l4 2M144 107l4 2M119 118l4 2M109 119l4 2M42 125l4 2M98 126l4 2M7 163l4 2M15 163l4 2M38 166l4 2M45 165l4 2M48 167l4 2" stroke="#58ffa7"/><path d="M58 9l4 2M144 12l4 2M42 22l4 2M155 23l4 2M47 25l4 2M36 26l4 2M125 26l4 2M160 33l4 2M22 36l4 2M153 52l4 2M164 65l4 2M68 72l4 2M71 79l4 2M51 88l4 2M48 97l4 2M8 119l4 2M14 119l4 2M40 119l4 2M131 122l4 2M-0 137l4 2M131 144l4 2M132 143l4 2M97 150l4 2M53 152l4 2M131 157l4 2M123 160l4 2M127 167l4 2M73 170l4 2M60 192l4 2M7 202l4 2" stroke="#0086ff"/><path d="M27 6l4 2M12 10l4 2M24 12l4 2M11 16l4 2M104 40l4 2M124 58l4 2M159 74l4 2M144 102l4 2M48 107l4 2M81 127l4 2M62 132l4 2M117 138l4 2M70 162l4 2M33 173l4 2" stroke="#72ff8d"/><path d="M105 -1l4 2M102 47l4 2M144 75l4 2M79 88l4 2M114 95l4 2M140 98l4 2M58 119l4 2M122 131l4 2M80 140l4 2M84 140l4 2M18 178l4 2" stroke="#c1ff3e"/><path d="M151 80l4 2M84 112l4 2M66 121l4 2M110 126l4 2M111 130l4 2M21 149l4 2M38 161l4 2M21 171l4 2M18 23l4 2M38 151l4 2" stroke="#ff8600"/><path d="M43 0l4 2M115 -1l4 2M0 36l4 2M127 59l4 2M134 76l4 2M107 89l4 2M139 93l4 2M132 106l4 2M64 122l4 2M64 127l4 2" stroke="#ffef00"/><path d="M128 8l4 2M140 23l4 2M75 30l4 2M40 35l4 2M9 46l4 2M83 46l4 2M73 60l4 2M50 80l4 2M54 80l4 2M47 83l4 2M53 80l4 2M37 93l4 2M34 105l4 2M84 174l4 2M80 178l4 2M114 179l4 2M83 186l4 2" stroke="#001dff"/><path d="M16 -2l4 2M129 -1l4 2M137 -1l4 2M143 4l4 2M138 6l4 2M126 12l4 2M129 16l4 2M128 18l4 2M68 24l4 2M139 27l4 2M139 28l4 2M147 29l4 2M85 36l4 2M135 34l4 2M146 37l4 2M128 41l4 2M149 45l4 2M168 46l4 2M168 47l4 2M160 51l4 2M169 51l4 2M168 56l4 2M68 66l4 2M64 71l4 2M65 73l4 2M57 79l4 2M35 102l4 2M5 116l4 2M77 127l4 2M121 148l4 2M130 150l4 2M125 151l4 2M84 166l4 2M111 168l4 2M109 173l4 2M54 207l4 2M63 219l4 2" stroke="#0052ff"/><path d="M49 9l4 2M110 90l4 2M149 99l4 2M55 110l4 2M96 115l4 2M25 162l4 2" stroke="#ff5200"/><path d="M31 7l4 2M108 24l4 2M107 47l4 2M87 75l4 2M131 77l4 2M151 76l4 2M157 75l4 2M146 93l4 2M50 110l4 2M134 116l4 2M85 119l4 2M67 136l4 2M25 142l4 2M88 142l4 2M11 165l4 2M18 189l4 2" stroke="#8dff72"/><path d="M139 75l4 2M141 89l4 2M95 125l4 2M42 141l4 2M57 140l4 2M55 143l4 2M54 159l4 2" stroke="#ff1d00"/><path d="M2 20l4 2M2 24l4 2M111 66l4 2M82 89l4 2M81 103l4 2M90 104l4 2M91 110l4 2M46 147l4 2M12 20l4 2M18 30l4 2M32 148l4 2" stroke="#ffa000"/><path d="M17 1l4 2M135 0l4 2M126 2l4 2M141 5l4 2M59 23l4 2M18 41l4 2M14 44l4 2M161 44l4 2M164 43l4 2M163 47l4 2M75 57l4 2M31 93l4 2M43 91l4 2M103 151l4 2M135 148l4 2M112 156l4 2M114 158l4 2M86 167l4 2M108 166l4 2M117 168l4 2M72 174l4 2M114 174l4 2M100 177l4 2M122 177l4 2M68 187l4 2M67 192l4 2M69 193l4 2M62 200l4 2M59 209l4 2" stroke="#0038ff"/><path d="M125 1l4 2M145 11l4 2M145 21l4 2M76 28l4 2M137 27l4 2M142 27l4 2M153 31l4 2M154 30l4 2M133 36l4 2M147 37l4 2M156 34l4 2M160 35l4 2M18 37l4 2M155 56l4 2M159 55l4 2M166 57l4 2M69 80l4 2M20 110l4 2M1 120l4 2M2 119l4 2M45 119l4 2M82 146l4 2M117 151l4 2M123 158l4 2M119 160l4 2M110 170l4 2M121 167l4 2M-0 206l4 2M41 212l4 2M52 212l4 2" stroke="#006cff"/><path d="M14 15l4 2M36 16l4 2M11 34l4 2M107 62l4 2M91 88l4 2M74 99l4 2M115 104l4 2M151 103l4 2M61 120l4 2M102 121l4 2M62 126l4 2M44 148l4 2" stroke="#c1ff3e"/><path d="M88 80l4 2M141 84l4 2M95 106l4 2M57 111l4 2M21 158l4 2M23 160l4 2M28 164l4 2M10 28l4 2" stroke="#ff6c00"/><path d="M6 75l4 2M23 74l4 2M26 80l4 2M31 80l4 2M12 82l4 2M14 83l4 2M12 90l4 2M7 92l4 2M5 96l4 2M93 194l4 2M96 193l4 2M114 192l4 2M110 197l4 2M102 205l4 2M102 204l4 2M106 210l4 2M109 214l4 2" stroke="#0000b4"/><path d="M56 28l4 2M59 34l4 2M41 37l4 2M80 37l4 2M69 42l4 2M25 47l4 2M5 48l4 2M7 48l4 2M81 52l4 2M68 59l4 2M35 59l4 2M60 61l4 2M61 61l4 2M60 64l4 2M52 74l4 2M61 74l4 2M32 100l4 2M13 107l4 2M101 157l4 2M112 164l4 2M90 167l4 2M94 171l4 2M93 184l4 2M85 187l4 2M71 195l4 2M74 214l4 2" stroke="#0003ff"/><path d="M111 109l4 2M101 117l4 2M100 118l4 2M102 119l4 2M48 136l4 2" stroke="#ff6c00"/><path d="M5 18l4 2M127 69l4 2M91 80l4 2M104 90l4 2M151 101l4 2M134 107l4 2M92 117l4 2M62 135l4 2M73 135l4 2M49 157l4 2" stroke="#ffba00"/><path d="M62 32l4 2M54 39l4 2M78 37l4 2M36 41l4 2M56 41l4 2M74 44l4 2M2 50l4 2M21 52l4 2M13 53l4 2M75 54l4 2M28 57l4 2M7 60l4 2M8 63l4 2M8 62l4 2M32 66l4 2M27 68l4 2M41 76l4 2M44 77l4 2M27 85l4 2M31 87l4 2M27 91l4 2M5 108l4 2M91 175l4 2M87 178l4 2M84 182l4 2M104 186l4 2M81 194l4 2M71 202l4 2M114 203l4 2" stroke="#0000e8"/><path d="M-0 34l4 2M112 35l4 2M117 67l4 2M105 69l4 2M118 89l4 2M131 95l4 2M69 106l4 2M79 113l4 2M62 120l4 2M37 128l4 2M49 129l4 2M52 129l4 2M91 130l4 2M110 132l4 2M27 169l4 2" stroke="#c1ff3e"/><path d="M27 -1l4 2M149 84l4 2M77 89l4 2M78 125l4 2M100 133l4 2M13 162l4 2M64 164l4 2" stroke="#72ff8d"/><path d="M63 28l4 2M53 34l4 2M59 42l4 2M78 39l4 2M38 45l4 2M73 45l4 2M46 48l4 2M62 49l4 2M37 57l4 2M40 57l4 2M43 58l4 2M14 63l4 2M36 65l4 2M13 67l4 2M21 69l4 2M15 78l4 2M23 84l4 2M16 93l4 2M19 104l4 2M96 181l4 2M96 189l4 2M108 191l4 2M86 193l4 2M99 199l4 2M110 198l4 2M90 200l4 2M76 204l4 2M87 215l4 2M95 215l4 2M94 216l4 2" stroke="#0000ce"/><path d="M101 108l4 2M92 111l4 2M7 29l4 2M7 32l4 2M100 59l4 2M88 59l4 2M51 135l4 2M30 147l4 2M38 150l4 2" stroke="#ff1d00"/><path d="M98 1l4 2M24 3l4 2M77 4l4 2M10 9l4 2M85 10l4 2M92 15l4 2M162 12l4 2M176 26l4 2M176 31l4 2M97 45l4 2M134 53l4 2M105 58l4 2M80 67l4 2M128 66l4 2M137 66l4 2M65 86l4 2M63 97l4 2M58 101l4 2M66 101l4 2M46 103l4 2M142 114l4 2M145 113l4 2M143 117l4 2M36 118l4 2M79 122l4 2M130 123l4 2M103 137l4 2M98 140l4 2M114 138l4 2M100 141l4 2M56 153l4 2M77 157l4 2M3 162l4 2M74 164l4 2M45 170l4 2M45 178l4 2M57 176l4 2M35 186l4 2M13 186l4 2M26 188l4 2M29 192l4 2M34 190l4 2M1 194l4 2M11 194l4 2M26 193l4 2M32 197l4 2M13 201l4 2M17 201l4 2M38 200l4 2M14 203l4 2M26 208l4 2" stroke="#00efff"/><path d="M39 15l4 2M115 39l4 2M100 52l4 2M156 82l4 2M159 81l4 2M154 84l4 2M157 85l4 2M54 106l4 2M137 106l4 2M109 112l4 2M86 126l4 2M33 134l4 2M115 135l4 2M34 139l4 2M66 148l4 2M3 164l4 2M52 170l4 2" stroke="#8dff72"/><path d="M33 49l4 2M56 49l4 2M54 51l4 2M22 72l4 2M9 76l4 2M14 75l4 2M16 77l4 2M15 83l4 2M17 82l4 2M17 87l4 2M10 91l4 2M11 91l4 2M13 95l4 2M16 95l4 2M9 97l4 2M23 99l4 2M109 192l4 2M118 194l4 2M97 199l4 2M99 200l4 2M99 207l4 2M107 213l4 2M83 217l4 2" stroke="#0000b4"/><path d="M22 19l4 2M128 89l4 2M128 96l4 2M34 164l4 2M19 168l4 2M16 176l4 2M17 182l4 2M94 64l4 2" stroke="#ffba00"/><path d="M46 30l4 2M50 31l4 2M60 30l4 2M54 32l4 2M67 39l4 2M48 39l4 2M41 44l4 2M58 43l4 2M42 46l4 2M23 50l4 2M37 50l4 2M75 50l4 2M83 49l4 2M17 55l4 2M25 53l4 2M33 56l4 2M10 57l4 2M18 57l4 2M27 61l4 2M-0 66l4 2M4 64l4 2M20 66l4 2M22 67l4 2M28 73l4 2M25 88l4 2M22 91l4 2M29 102l4 2M104 163l4 2M97 168l4 2M88 172l4 2M93 183l4 2M97 186l4 2M93 188l4 2M94 187l4 2M80 201l4 2M86 204l4 2M81 206l4 2M79 208l4 2M87 212l4 2M104 219l4 2" stroke="#0000e8"/><path d="M3 -1l4 2M45 -1l4 2M164 2l4 2M43 5l4 2M94 6l4 2M163 7l4 2M79 15l4 2M101 26l4 2M98 42l4 2M116 43l4 2M121 42l4 2M134 45l4 2M129 49l4 2M133 49l4 2M127 51l4 2M135 56l4 2M143 57l4 2M143 58l4 2M145 65l4 2M84 76l4 2M59 91l4 2M44 103l4 2M38 114l4 2M28 121l4 2M31 130l4 2M23 139l4 2M122 139l4 2M122 141l4 2M95 144l4 2M115 144l4 2M9 146l4 2M54 149l4 2M75 152l4 2M86 154l4 2M47 168l4 2M47 174l4 2M45 179l4 2M27 185l4 2M35 187l4 2M23 195l4 2M23 200l4 2M23 204l4 2M27 205l4 2M12 207l4 2" stroke="#00efff"/><path d="M2 28l4 2M132 90l4 2M92 98l4 2M149 98l4 2M72 112l4 2M78 115l4 2M121 114l4 2M69 117l4 2M118 128l4 2M26 177l4 2" stroke="#ff5200"/><path d="M14 -2l4 2M18 3l4 2M136 2l4 2M134 5l4 2M54 9l4 2M133 7l4 2M136 20l4 2M56 21l4 2M137 21l4 2M146 27l4 2M35 32l4 2M39 32l4 2M89 44l4 2M87 48l4 2M83 54l4 2M61 78l4 2M63 79l4 2M37 99l4 2M29 105l4 2M17 111l4 2M80 135l4 2M94 164l4 2M98 166l4 2M116 171l4 2M79 173l4 2M99 174l4 2M119 175l4 2M79 182l4 2M80 183l4 2M63 192l4 2M74 192l4 2M63 203l4 2M64 206l4 2M56 209l4 2M45 217l4 2" stroke="#0038ff"/><path d="M113 48l4 2M112 67l4 2M135 77l4 2M152 81l4 2M115 100l4 2M75 109l4 2M38 134l4 2M89 143l4 2M43 149l4 2M37 168l4 2" stroke="#ffef00"/><path d="M52 4l4 2M117 2l4 2M5 11l4 2M168 10l4 2M107 13l4 2M29 22l4 2M23 29l4 2M176 31l4 2M99 40l4 2M115 53l4 2M138 53l4 2M106 56l4 2M135 57l4 2M108 61l4 2M83 70l4 2M160 71l4 2M114 86l4 2M127 107l4 2M112 122l4 2M87 133l4 2M124 137l4 2M24 142l4 2M6 148l4 2M13 150l4 2M3 156l4 2M39 175l4 2M43 177l4 2M25 193l4 2M46 197l4 2" stroke="#0afff5"/><path d="M36 -1l4 2M195 -0l4 2M179 3l4 2M182 3l4 2M67 7l4 2M171 7l4 2M29 10l4 2M122 54l4 2M140 66l4 2M77 112l4 2M82 122l4 2M19 159l4 2M23 157l4 2M71 159l4 2M19 160l4 2" stroke="#3effc1"/><path d="M112 7l4 2M81 101l4 2M113 109l4 2M61 115l4 2M75 118l4 2M24 151l4 2M14 168l4 2" stroke="#ff5200"/><path d="M63 42l4 2M28 43l4 2M43 48l4 2M51 50l4 2M74 51l4 2M56 53l4 2M11 60l4 2M52 61l4 2M23 66l4 2M10 67l4 2M41 72l4 2M3 74l4 2M25 72l4 2M34 82l4 2M30 83l4 2M13 86l4 2M18 92l4 2M2 94l4 2M24 94l4 2M30 101l4 2M22 102l4 2M6 105l4 2M88 180l4 2M101 187l4 2M101 191l4 2M105 191l4 2M87 194l4 2M106 195l4 2M115 197l4 2M84 200l4 2M95 209l4 2M98 210l4 2M79 212l4 2M96 215l4 2M101 216l4 2M94 219l4 2" stroke="#0000ce"/><path d="M29 4l4 2M24 9l4 2M26 15l4 2M98 90l4 2M149 95l4 2M72 97l4 2M59 104l4 2M149 107l4 2M107 121l4 2M91 137l4 2M13 152l4 2M12 155l4 2" stroke="#a7ff58"/><path d="M31 2l4 2M118 59l4 2M124 61l4 2M121 81l4 2M149 83l4 2M137 98l4 2M76 101l4 2M96 118l4 2M46 153l4 2M23 165l4 2" stroke="#f5ff0a"/><path d="M101 18l4 2M130 78l4 2M118 101l4 2M102 105l4 2M108 109l4 2M88 120l4 2M118 126l4 2M34 167l4 2M20 184l4 2" stroke="#ffef00"/><path d="M9 34l4 2M82 88l4 2M146 87l4 2M138 94l4 2M104 111l4 2M106 126l4 2M27 160l4 2M44 163l4 2" stroke="#ff8600"/><path d="M99 17l4 2M2 23l4 2M89 85l4 2M137 84l4 2M80 96l4 2M97 98l4 2M98 101l4 2M67 114l4 2M40 146l4 2M21 173l4 2M30 148l4 2M13 171l4 2" stroke="#ff8600"/><path d="M6 3l4 2M70 2l4 2M53 9l4 2M154 10l4 2M122 13l4 2M157 13l4 2M89 16l4 2M26 27l4 2M88 28l4 2M130 29l4 2M87 30l4 2M165 29l4 2M95 37l4 2M109 35l4 2M132 46l4 2M75 81l4 2M16 130l4 2M138 130l4 2M81 143l4 2M60 152l4 2M90 156l4 2M65 178l4 2M47 185l4 2M45 187l4 2M14 193l4 2M39 196l4 2M48 200l4 2M39 208l4 2M36 214l4 2" stroke="#00baff"/><path d="M13 99l4 2M18 100l4 2" stroke="#000080"/><path d="M39 4l4 2M145 71l4 2M141 74l4 2M131 83l4 2M73 92l4 2M146 95l4 2M145 99l4 2M57 104l4 2M138 107l4 2M55 114l4 2" stroke="#f5ff0a"/><path d="M79 106l4 2" stroke="#ce0000"/><path d="M68 30l4 2M47 34l4 2M54 37l4 2M35 39l4 2M61 38l4 2M64 38l4 2M53 39l4 2M48 45l4 2M12 52l4 2M41 52l4 2M70 54l4 2M21 58l4 2M30 56l4 2M59 58l4 2M1 64l4 2M47 68l4 2M11 72l4 2M30 82l4 2M29 97l4 2M12 105l4 2M3 107l4 2M106 161l4 2M96 167l4 2M94 178l4 2M99 183l4 2M109 182l4 2M112 185l4 2M106 187l4 2M110 189l4 2M82 192l4 2M89 189l4 2M104 193l4 2M76 199l4 2" stroke="#0000e8"/><path d="M75 47l4 2M58 50l4 2M48 56l4 2M55 60l4 2M4 67l4 2M16 75l4 2M7 76l4 2M28 75l4 2M28 79l4 2M26 81l4 2M10 85l4 2M36 85l4 2M10 87l4 2M99 196l4 2M111 199l4 2M97 217l4 2" stroke="#0000b4"/><path d="M4 34l4 2M124 62l4 2M146 73l4 2M97 77l4 2M126 83l4 2M154 97l4 2M143 101l4 2M114 105l4 2M111 111l4 2M100 114l4 2M119 114l4 2M24 166l4 2" stroke="#f5ff0a"/><path d="M122 59l4 2M70 104l4 2M80 103l4 2M64 113l4 2M51 134l4 2M42 152l4 2M34 165l4 2" stroke="#f5ff0a"/><path d="M7 34l4 2M87 79l4 2M135 91l4 2M150 89l4 2M140 94l4 2M106 105l4 2M116 110l4 2M35 157l4 2M22 175l4 2M12 29l4 2M88 62l4 2" stroke="#ff8600"/><path d="M27 1l4 2M97 86l4 2M97 104l4 2M80 109l4 2" stroke="#ce0000"/><path d="M84 102l4 2" stroke="#800000"/><path d="M32 3l4 2M111 4l4 2M24 10l4 2M112 24l4 2M130 58l4 2M92 78l4 2M142 80l4 2M121 85l4 2M133 99l4 2M120 104l4 2M128 109l4 2M54 119l4 2M96 126l4 2M15 168l4 2M26 174l4 2" stroke="#a7ff58"/><path d="M104 8l4 2M128 85l4 2M1 172l4 2" stroke="#ff6c00"/><path d="M77 -1l4 2M167 3l4 2M115 4l4 2M71 7l4 2M165 8l4 2M37 10l4 2M92 9l4 2M168 14l4 2M52 15l4 2M118 17l4 2M38 19l4 2M171 22l4 2M20 24l4 2M101 33l4 2M110 39l4 2M122 68l4 2M80 83l4 2M119 86l4 2M121 88l4 2M43 123l4 2M132 126l4 2M62 127l4 2M124 132l4 2M91 152l4 2M14 164l4 2M54 174l4 2M22 191l4 2M30 205l4 2" stroke="#0afff5"/><path d="M116 9l4 2M3 14l4 2M112 12l4 2M103 67l4 2M122 101l4 2M57 107l4 2M64 135l4 2M69 135l4 2M65 139l4 2M85 141l4 2M44 153l4 2" stroke="#f5ff0a"/><path d="M40 -0l4 2M105 17l4 2M118 65l4 2M119 80l4 2M75 94l4 2M134 99l4 2M57 117l4 2M39 123l4 2M50 124l4 2M86 129l4 2M64 165l4 2M32 167l4 2M16 170l4 2M34 177l4 2M0 181l4 2M16 188l4 2" stroke="#a7ff58"/><path d="M64 10l4 2M8 15l4 2M133 103l4 2M101 132l4 2M48 154l4 2M58 156l4 2" stroke="#dbff24"/><path d="M53 49l4 2M49 53l4 2M58 51l4 2M7 67l4 2M-0 71l4 2M16 72l4 2M13 78l4 2M8 80l4 2M16 83l4 2M5 87l4 2M95 207l4 2M104 206l4 2M106 206l4 2M99 210l4 2M84 219l4 2" stroke="#0000b4"/><path d="M70 27l4 2M73 31l4 2M65 32l4 2M77 50l4 2M16 56l4 2M71 57l4 2M16 60l4 2M38 61l4 2M104 156l4 2M91 167l4 2M91 167l4 2M100 171l4 2M105 183l4 2M115 188l4 2M69 198l4 2M74 207l4 2M72 212l4 2" stroke="#0003ff"/><path d="M45 7l4 2M109 4l4 2M116 22l4 2M104 39l4 2M112 60l4 2M124 64l4 2M145 68l4 2M120 71l4 2M80 89l4 2M123 92l4 2M70 96l4 2M137 104l4 2M134 113l4 2M136 113l4 2M125 118l4 2M100 121l4 2M71 143l4 2M43 154l4 2M37 172l4 2M7 184l4 2" stroke="#8dff72"/><path d="M47 0l4 2M69 -1l4 2M8 11l4 2M121 10l4 2M87 15l4 2M29 25l4 2M94 23l4 2M96 27l4 2M99 29l4 2M128 34l4 2M19 35l4 2M177 39l4 2M145 55l4 2M146 56l4 2M146 63l4 2M77 73l4 2M54 92l4 2M140 103l4 2M43 107l4 2M21 113l4 2M23 113l4 2M27 116l4 2M112 118l4 2M139 128l4 2M13 131l4 2M17 132l4 2M137 132l4 2M4 136l4 2M104 144l4 2M107 145l4 2M112 147l4 2M67 170l4 2M42 189l4 2M55 192l4 2M27 200l4 2M54 200l4 2M29 208l4 2M37 213l4 2" stroke="#00baff"/><path d="M8 1l4 2M74 5l4 2M3 8l4 2M28 12l4 2M162 10l4 2M78 14l4 2M77 17l4 2M32 22l4 2M167 21l4 2M120 28l4 2M120 31l4 2M98 35l4 2M100 39l4 2M97 52l4 2M139 54l4 2M131 68l4 2M157 68l4 2M122 75l4 2M100 79l4 2M59 88l4 2M50 104l4 2M67 102l4 2M27 119l4 2M33 119l4 2M112 120l4 2M137 119l4 2M141 120l4 2M141 124l4 2M131 128l4 2M84 129l4 2M70 140l4 2M110 140l4 2M73 140l4 2M15 146l4 2M77 147l4 2M91 147l4 2M73 154l4 2M76 159l4 2M24 180l4 2M42 179l4 2M45 182l4 2M42 184l4 2M25 196l4 2M11 201l4 2" stroke="#00efff"/><path d="M130 5l4 2M125 7l4 2M133 11l4 2M128 18l4 2M79 31l4 2M17 39l4 2M148 39l4 2M156 38l4 2M-0 40l4 2M90 41l4 2M153 42l4 2M10 43l4 2M43 85l4 2M52 85l4 2M38 90l4 2M26 105l4 2M3 111l4 2M111 159l4 2M111 160l4 2M81 172l4 2M75 174l4 2M81 175l4 2M107 175l4 2M104 178l4 2M106 178l4 2M112 175l4 2M101 181l4 2M79 185l4 2M58 208l4 2M67 212l4 2M52 217l4 2" stroke="#0038ff"/><path d="M160 -1l4 2M13 7l4 2M157 4l4 2M13 7l4 2M122 8l4 2M155 8l4 2M18 11l4 2M157 12l4 2M65 12l4 2M110 14l4 2M47 18l4 2M153 18l4 2M79 22l4 2M95 23l4 2M97 28l4 2M171 36l4 2M135 41l4 2M101 44l4 2M138 43l4 2M110 49l4 2M79 72l4 2M91 75l4 2M109 84l4 2M53 95l4 2M50 101l4 2M146 110l4 2M30 117l4 2M25 121l4 2M29 127l4 2M134 133l4 2M116 145l4 2M82 162l4 2M62 176l4 2M27 200l4 2M34 209l4 2M38 209l4 2" stroke="#00baff"/><path d="M93 -0l4 2M0 2l4 2M81 6l4 2M67 8l4 2M79 9l4 2M160 7l4 2M53 16l4 2M68 18l4 2M83 15l4 2M160 16l4 2M80 18l4 2M87 20l4 2M122 25l4 2M164 23l4 2M84 27l4 2M113 32l4 2M4 39l4 2M93 53l4 2M140 52l4 2M148 59l4 2M150 65l4 2M85 70l4 2M162 69l4 2M30 112l4 2M23 123l4 2M28 126l4 2M82 137l4 2M10 145l4 2M-1 153l4 2M55 154l4 2M17 157l4 2M84 157l4 2M70 166l4 2M50 178l4 2M51 179l4 2M26 181l4 2M29 193l4 2M1 195l4 2M10 197l4 2M31 195l4 2M45 199l4 2M50 198l4 2M31 201l4 2" stroke="#00d4ff"/><path d="M107 103l4 2" stroke="#b40000"/><path d="M145 86l4 2M66 110l4 2M92 114l4 2M-0 174l4 2M102 62l4 2M42 135l4 2M42 137l4 2M52 137l4 2M46 140l4 2" stroke="#ff1d00"/><path d="M19 70l4 2M-0 75l4 2M10 80l4 2M2 83l4 2M8 94l4 2M6 101l4 2" stroke="#00009a"/><path d="M110 3l4 2M103 19l4 2M132 61l4 2M148 77l4 2M65 107l4 2M84 109l4 2M91 121l4 2M50 124l4 2M70 133l4 2M92 132l4 2M38 140l4 2" stroke="#dbff24"/><path d="M57 -0l4 2M149 1l4 2M65 15l4 2M37 24l4 2M155 25l4 2M94 29l4 2M127 30l4 2M160 29l4 2M16 34l4 2M125 39l4 2M3 40l4 2M93 40l4 2M79 70l4 2M57 87l4 2M52 91l4 2M52 91l4 2M42 103l4 2M21 121l4 2M13 122l4 2M17 123l4 2M54 123l4 2M6 126l4 2M9 124l4 2M3 126l4 2M11 127l4 2M8 130l4 2M9 131l4 2M135 137l4 2M4 139l4 2M11 143l4 2M120 145l4 2M107 147l4 2M113 147l4 2M0 162l4 2M62 178l4 2M68 182l4 2M57 198l4 2M34 202l4 2M45 205l4 2" stroke="#00a0ff"/><path d="M131 -0l4 2M141 -1l4 2M55 24l4 2M38 28l4 2M143 30l4 2M136 34l4 2M150 33l4 2M91 42l4 2M91 43l4 2M90 50l4 2M42 86l4 2M44 87l4 2M47 93l4 2M9 114l4 2M127 153l4 2M109 155l4 2M104 170l4 2M62 197l4 2M62 218l4 2" stroke="#0052ff"/><path d="M66 48l4 2M5 84l4 2M11 96l4 2" stroke="#00009a"/><path d="M68 1l4 2M157 3l4 2M10 6l4 2M20 6l4 2M66 13l4 2M70 18l4 2M154 15l4 2M73 19l4 2M20 31l4 2M169 30l4 2M169 33l4 2M14 35l4 2M124 38l4 2M129 44l4 2M135 49l4 2M89 55l4 2M139 57l4 2M152 59l4 2M28 112l4 2M47 120l4 2M76 125l4 2M14 129l4 2M91 127l4 2M80 129l4 2M10 137l4 2M94 135l4 2M105 142l4 2M15 144l4 2M85 159l4 2M62 167l4 2M14 185l4 2" stroke="#00baff"/><path d="M19 0l4 2M124 15l4 2M138 24l4 2M147 25l4 2M154 28l4 2M143 32l4 2M146 38l4 2M145 40l4 2M141 47l4 2M151 47l4 2M146 50l4 2M155 50l4 2M167 60l4 2M75 69l4 2M91 75l4 2M45 94l4 2M23 108l4 2M2 130l4 2M92 156l4 2M120 155l4 2M89 158l4 2M125 168l4 2M65 182l4 2M62 184l4 2M60 189l4 2M49 213l4 2M58 217l4 2" stroke="#006cff"/><path d="M88 69l4 2M89 82l4 2M35 161l4 2" stroke="#ff3800"/><path d="M138 14l4 2M139 19l4 2M64 21l4 2M43 27l4 2M148 31l4 2M172 50l4 2M166 55l4 2M72 62l4 2M165 64l4 2M64 65l4 2M70 70l4 2M39 99l4 2M63 210l4 2M42 215l4 2M56 215l4 2" stroke="#0052ff"/><path d="M104 1l4 2M45 7l4 2M49 11l4 2M86 63l4 2M124 67l4 2M48 128l4 2M65 146l4 2M28 158l4 2" stroke="#8dff72"/><path d="M115 11l4 2M101 12l4 2M112 48l4 2M132 72l4 2M158 88l4 2M92 89l4 2M109 99l4 2M144 100l4 2M116 103l4 2M71 110l4 2M84 120l4 2M121 119l4 2M69 154l4 2" stroke="#a7ff58"/><path d="M83 -1l4 2M156 2l4 2M46 13l4 2M156 19l4 2M122 21l4 2M31 25l4 2M26 27l4 2M163 29l4 2M94 39l4 2M93 48l4 2M103 49l4 2M105 48l4 2M149 70l4 2M88 73l4 2M76 75l4 2M56 94l4 2M21 117l4 2M104 130l4 2M131 137l4 2M70 141l4 2M104 143l4 2M130 142l4 2M98 144l4 2M127 143l4 2M64 149l4 2M-0 161l4 2M83 161l4 2M62 175l4 2M55 178l4 2M41 179l4 2M44 184l4 2M39 188l4 2M45 190l4 2M42 192l4 2M55 195l4 2M7 197l4 2M51 199l4 2M1 205l4 2M3 204l4 2M11 203l4 2M30 209l4 2M35 213l4 2" stroke="#00baff"/><path d="M-1 29l4 2M87 69l4 2M110 94l4 2M138 95l4 2M113 96l4 2M67 117l4 2M79 116l4 2M99 62l4 2M32 151l4 2M50 160l4 2M5 172l4 2" stroke="#ff8600"/><path d="M15 12l4 2M33 10l4 2M18 15l4 2M123 61l4 2M109 68l4 2M138 78l4 2M96 88l4 2M101 98l4 2M102 99l4 2M61 117l4 2M94 116l4 2M38 137l4 2M49 148l4 2M19 156l4 2M50 156l4 2" stroke="#ffba00"/><path d="M191 0l4 2M66 1l4 2M54 6l4 2M171 4l4 2M170 14l4 2M95 17l4 2M180 16l4 2M180 24l4 2M119 37l4 2M101 39l4 2M115 42l4 2M154 65l4 2M118 76l4 2M122 90l4 2M49 116l4 2M35 130l4 2M10 151l4 2M47 157l4 2M10 184l4 2M19 204l4 2" stroke="#24ffdb"/><path d="M6 26l4 2M81 96l4 2M-0 173l4 2M95 65l4 2M100 64l4 2M51 136l4 2M55 162l4 2M3 180l4 2M5 182l4 2M11 182l4 2" stroke="#ff0300"/><path d="M144 78l4 2M41 139l4 2" stroke="#e80000"/><path d="M102 1l4 2M63 3l4 2M193 4l4 2M175 8l4 2M51 13l4 2M185 19l4 2M99 21l4 2M184 22l4 2M101 35l4 2M115 39l4 2M106 45l4 2M129 76l4 2M83 81l4 2M112 82l4 2M61 122l4 2M88 139l4 2M16 165l4 2M28 166l4 2M50 172l4 2" stroke="#3effc1"/><path d="M1 70l4 2M20 77l4 2M5 78l4 2M8 84l4 2M21 99l4 2M14 100l4 2" stroke="#00009a"/><path d="M96 123l4 2" stroke="#ff5200"/><path d="M67 28l4 2M52 31l4 2M55 30l4 2M49 35l4 2M61 35l4 2M49 37l4 2M53 37l4 2M40 41l4 2M47 45l4 2M55 46l4 2M12 50l4 2M14 49l4 2M7 52l4 2M37 52l4 2M44 52l4 2M23 53l4 2M38 55l4 2M41 55l4 2M15 61l4 2M25 61l4 2M11 66l4 2M58 64l4 2M53 68l4 2M57 70l4 2M46 75l4 2M34 80l4 2M27 87l4 2M25 89l4 2M98 161l4 2M91 178l4 2M99 193l4 2M78 195l4 2M116 199l4 2M76 202l4 2M94 201l4 2M85 204l4 2M85 208l4 2M111 210l4 2M92 213l4 2" stroke="#0000e8"/><path d="M66 -2l4 2M20 4l4 2M149 2l4 2M150 4l4 2M149 8l4 2M59 15l4 2M147 13l4 2M67 19l4 2M37 22l4 2M76 25l4 2M39 26l4 2M26 31l4 2M163 35l4 2M136 38l4 2M141 42l4 2M166 40l4 2M175 43l4 2M153 58l4 2M71 74l4 2M37 108l4 2M36 110l4 2M16 113l4 2M-0 127l4 2M8 127l4 2M134 138l4 2M138 138l4 2M8 140l4 2M138 140l4 2M123 146l4 2M127 146l4 2M130 147l4 2M113 153l4 2M118 157l4 2M120 159l4 2M77 170l4 2M68 174l4 2M68 176l4 2M71 183l4 2M53 203l4 2M42 210l4 2" stroke="#0086ff"/><path d="M110 22l4 2M123 53l4 2M115 58l4 2M108 63l4 2M99 82l4 2M123 81l4 2M105 96l4 2M60 110l4 2M31 167l4 2M13 189l4 2" stroke="#dbff24"/><path d="M111 52l4 2M113 91l4 2M115 94l4 2M128 97l4 2M70 106l4 2M90 111l4 2M104 124l4 2M106 127l4 2M118 130l4 2M114 132l4 2M44 150l4 2M20 209l4 2M97 60l4 2M4 168l4 2M1 180l4 2" stroke="#ffa000"/><path d="M137 83l4 2M138 86l4 2M92 101l4 2M9 19l4 2M6 23l4 2M12 24l4 2M17 25l4 2M47 162l4 2" stroke="#ff0300"/><path d="M26 41l4 2M47 41l4 2M82 42l4 2M23 47l4 2M28 63l4 2M60 70l4 2M39 81l4 2M33 95l4 2M27 104l4 2M16 107l4 2M15 108l4 2M103 165l4 2M97 178l4 2M83 187l4 2M81 189l4 2M78 193l4 2M70 202l4 2M70 216l4 2" stroke="#0003ff"/><path d="M12 25l4 2M16 29l4 2M95 60l4 2M53 136l4 2M54 139l4 2M46 143l4 2M49 143l4 2M3 176l4 2" stroke="#ff0300"/><path d="M-1 94l4 2" stroke="#000080"/><path d="M178 4l4 2M177 11l4 2M187 15l4 2M138 69l4 2M156 75l4 2M157 78l4 2M95 83l4 2M99 93l4 2M143 107l4 2M52 116l4 2M73 122l4 2M42 127l4 2M59 144l4 2M23 155l4 2M41 167l4 2" stroke="#58ffa7"/><path d="M75 -0l4 2M76 11l4 2M168 19l4 2M28 23l4 2M121 30l4 2M142 65l4 2M151 67l4 2M156 70l4 2M115 74l4 2M120 73l4 2M103 79l4 2M138 121l4 2M95 140l4 2M9 152l4 2M52 151l4 2M91 152l4 2M9 161l4 2M43 169l4 2M21 194l4 2M18 199l4 2M33 206l4 2" stroke="#0afff5"/><path d="M165 10l4 2M74 13l4 2M119 18l4 2M114 28l4 2M175 26l4 2M177 28l4 2M94 53l4 2M155 65l4 2M116 83l4 2M57 93l4 2M69 125l4 2M142 126l4 2M85 131l4 2M128 137l4 2M77 143l4 2M116 142l4 2M71 148l4 2M65 154l4 2M60 154l4 2M6 159l4 2M57 172l4 2M36 186l4 2M37 191l4 2M11 199l4 2" stroke="#00efff"/><path d="M52 -1l4 2M186 -1l4 2M107 2l4 2M184 7l4 2M173 15l4 2M32 16l4 2M172 17l4 2M185 21l4 2M105 38l4 2M111 42l4 2M125 53l4 2M76 84l4 2M146 102l4 2M130 106l4 2M50 115l4 2M133 120l4 2M36 126l4 2M52 126l4 2M113 125l4 2M56 128l4 2M13 159l4 2M37 178l4 2" stroke="#3effc1"/><path d="M126 6l4 2M128 12l4 2M132 18l4 2M149 27l4 2M89 35l4 2M158 36l4 2M137 38l4 2M157 37l4 2M6 41l4 2M160 40l4 2M169 48l4 2M165 50l4 2M162 53l4 2M70 61l4 2M54 84l4 2M60 150l4 2M106 149l4 2M73 158l4 2M94 159l4 2M115 161l4 2M78 171l4 2M106 171l4 2M114 170l4 2M73 180l4 2M74 179l4 2M77 180l4 2M65 191l4 2M61 195l4 2M52 209l4 2M51 217l4 2" stroke="#0052ff"/><path d="M3 4l4 2M79 4l4 2M9 8l4 2M99 9l4 2M84 14l4 2M87 13l4 2M46 15l4 2M73 16l4 2M119 20l4 2M163 19l4 2M99 25l4 2M174 33l4 2M96 37l4 2M125 45l4 2M127 46l4 2M136 50l4 2M87 58l4 2M53 99l4 2M45 100l4 2M117 108l4 2M149 113l4 2M33 113l4 2M126 121l4 2M26 125l4 2M72 126l4 2M128 126l4 2M137 124l4 2M60 127l4 2M141 128l4 2M23 132l4 2M132 130l4 2M128 135l4 2M20 135l4 2M28 135l4 2M99 136l4 2M118 135l4 2M19 139l4 2M129 140l4 2M7 155l4 2M33 172l4 2M51 183l4 2M50 190l4 2M12 198l4 2M28 198l4 2M43 198l4 2M27 208l4 2M36 209l4 2" stroke="#00d4ff"/><path d="M55 3l4 2M33 7l4 2M39 12l4 2M95 11l4 2M102 12l4 2M11 13l4 2M186 14l4 2M114 21l4 2M125 49l4 2M140 109l4 2M131 121l4 2M97 132l4 2M91 134l4 2M112 135l4 2M68 156l4 2M21 177l4 2" stroke="#58ffa7"/><path d="M37 5l4 2M185 4l4 2M176 8l4 2M179 14l4 2M131 69l4 2M92 75l4 2M111 100l4 2M47 108l4 2M45 115l4 2M135 118l4 2M97 120l4 2" stroke="#58ffa7"/><path d="M94 9l4 2M116 15l4 2M176 19l4 2M9 37l4 2M117 40l4 2M104 52l4 2M84 62l4 2M140 117l4 2M123 121l4 2M123 127l4 2M35 133l4 2M37 164l4 2M35 181l4 2M11 185l4 2M6 188l4 2M24 191l4 2" stroke="#24ffdb"/><path d="M108 17l4 2M98 85l4 2M27 162l4 2M36 154l4 2" stroke="#ff3800"/><path d="M110 19l4 2M129 87l4 2M100 96l4 2M31 159l4 2M18 175l4 2" stroke="#ff5200"/><path d="M152 90l4 2" stroke="#ff5200"/><path d="M86 88l4 2M86 98l4 2M119 98l4 2M8 22l4 2" stroke="#ff3800"/><path d="M119 69l4 2M142 67l4 2M144 94l4 2M110 105l4 2M131 112l4 2M58 145l4 2M64 160l4 2M29 173l4 2" stroke="#a7ff58"/><path d="M142 77l4 2M101 105l4 2M7 27l4 2M14 31l4 2M102 59l4 2M27 150l4 2M29 150l4 2M49 164l4 2M11 172l4 2M9 175l4 2" stroke="#ff0300"/><path d="M98 105l4 2M46 134l4 2" stroke="#9a0000"/><path d="M60 0l4 2M184 -1l4 2M114 2l4 2M179 8l4 2M47 11l4 2M116 14l4 2M181 16l4 2M182 18l4 2M175 22l4 2M135 61l4 2M72 96l4 2M121 111l4 2M128 115l4 2M128 118l4 2M48 130l4 2M33 135l4 2M89 140l4 2M15 160l4 2M42 175l4 2M16 191l4 2M18 206l4 2M13 209l4 2" stroke="#24ffdb"/><path d="M99 18l4 2M137 87l4 2M92 96l4 2M130 102l4 2M2 174l4 2" stroke="#ff3800"/><path d="M1 90l4 2M18 99l4 2M17 102l4 2" stroke="#000080"/><path d="M13 1l4 2M144 -1l4 2M133 23l4 2M136 29l4 2M139 33l4 2M22 39l4 2M164 38l4 2M12 41l4 2M146 44l4 2M158 49l4 2M69 64l4 2M76 69l4 2M44 89l4 2M40 93l4 2M14 114l4 2M84 144l4 2M59 148l4 2M102 146l4 2M104 148l4 2M133 147l4 2M127 156l4 2M126 158l4 2M121 163l4 2M63 168l4 2M109 173l4 2M10 191l4 2M49 206l4 2" stroke="#006cff"/><path d="M143 77l4 2M83 84l4 2M84 115l4 2M50 145l4 2M52 147l4 2M-1 175l4 2M32 146l4 2M8 182l4 2" stroke="#ff8600"/><path d="M162 -0l4 2M97 1l4 2M59 6l4 2M82 8l4 2M88 12l4 2M161 13l4 2M39 16l4 2M40 17l4 2M98 21l4 2M25 24l4 2M116 27l4 2M124 31l4 2M132 54l4 2M115 77l4 2M63 85l4 2M59 88l4 2M57 96l4 2M47 100l4 2M35 116l4 2M148 114l4 2M36 117l4 2M27 120l4 2M34 126l4 2M129 130l4 2M120 142l4 2M17 145l4 2M-0 147l4 2M2 145l4 2M18 145l4 2M78 148l4 2M4 148l4 2M92 148l4 2M59 171l4 2M28 183l4 2M43 182l4 2M55 193l4 2M21 195l4 2M43 195l4 2M48 195l4 2M16 199l4 2M23 197l4 2M32 197l4 2" stroke="#00efff"/><path d="M29 0l4 2M25 19l4 2M133 88l4 2M153 101l4 2M52 109l4 2M123 110l4 2M97 125l4 2M51 148l4 2M52 168l4 2" stroke="#ffd500"/><path d="M35 9l4 2M103 25l4 2M157 90l4 2M121 93l4 2M103 114l4 2M127 117l4 2M119 118l4 2M115 123l4 2M67 131l4 2M75 133l4 2M91 137l4 2M57 146l4 2" stroke="#8dff72"/><path d="M119 95l4 2" stroke="#800000"/><path d="M110 0l4 2M185 3l4 2M182 5l4 2M193 4l4 2M175 9l4 2M186 10l4 2M175 15l4 2M185 16l4 2M120 79l4 2M112 84l4 2M96 90l4 2M118 106l4 2M101 138l4 2M81 140l4 2M-0 186l4 2M23 211l4 2" stroke="#3effc1"/><path d="M71 113l4 2M94 113l4 2M33 163l4 2" stroke="#e80000"/><path d="M3 27l4 2M8 19l4 2M94 58l4 2M41 144l4 2M58 160l4 2M58 162l4 2" stroke="#ff1d00"/><path d="M99 4l4 2M103 55l4 2M108 64l4 2M101 86l4 2M81 97l4 2M75 103l4 2M135 107l4 2M96 110l4 2M71 122l4 2M21 149l4 2M92 64l4 2M43 159l4 2M54 159l4 2" stroke="#ffa000"/><path d="M150 88l4 2M153 94l4 2M85 97l4 2M90 96l4 2M103 104l4 2M68 112l4 2M32 144l4 2M3 179l4 2" stroke="#ff6c00"/><path d="M72 6l4 2M43 11l4 2M109 34l4 2M119 83l4 2M112 88l4 2M67 90l4 2M66 92l4 2M125 113l4 2M88 124l4 2M85 149l4 2" stroke="#72ff8d"/><path d="M22 77l4 2M4 97l4 2M103 211l4 2" stroke="#00009a"/><path d="M15 18l4 2M117 63l4 2M134 74l4 2M125 77l4 2M125 95l4 2M134 102l4 2M35 136l4 2M19 166l4 2" stroke="#dbff24"/><path d="M102 89l4 2M17 20l4 2M11 24l4 2M7 170l4 2" stroke="#e80000"/><path d="M21 9l4 2M74 8l4 2M70 11l4 2M53 15l4 2M173 23l4 2M102 35l4 2M105 58l4 2M83 61l4 2M155 68l4 2M71 84l4 2M76 87l4 2M61 96l4 2M43 109l4 2M67 124l4 2M81 125l4 2M89 126l4 2M73 128l4 2M58 131l4 2M125 132l4 2M91 134l4 2M94 141l4 2M1 144l4 2M76 149l4 2M86 151l4 2M9 155l4 2M71 162l4 2M21 188l4 2M47 193l4 2M7 196l4 2M22 200l4 2" stroke="#0afff5"/><path d="M45 31l4 2M84 45l4 2M3 46l4 2M78 56l4 2M49 66l4 2M58 75l4 2M60 76l4 2M39 88l4 2M41 91l4 2M100 152l4 2M85 168l4 2M96 172l4 2M94 175l4 2M118 179l4 2M75 192l4 2" stroke="#001dff"/><path d="M30 46l4 2M66 48l4 2M27 75l4 2M-0 80l4 2M2 81l4 2M6 83l4 2M27 81l4 2M32 85l4 2M3 86l4 2" stroke="#0000b4"/><path d="M4 23l4 2M152 95l4 2M59 116l4 2M2 185l4 2" stroke="#ffd500"/><path d="M12 3l4 2M151 10l4 2M61 15l4 2M48 20l4 2M69 20l4 2M35 28l4 2M91 28l4 2M156 27l4 2M30 30l4 2M90 29l4 2M132 29l4 2M155 33l4 2M25 35l4 2M143 42l4 2M175 42l4 2M143 43l4 2M139 49l4 2M144 49l4 2M149 55l4 2M80 63l4 2M73 71l4 2M29 109l4 2M39 109l4 2M18 118l4 2M1 132l4 2M9 132l4 2M140 134l4 2M138 137l4 2M136 143l4 2M71 169l4 2M67 180l4 2M59 186l4 2M8 202l4 2M39 214l4 2" stroke="#0086ff"/><path d="M43 1l4 2M22 15l4 2M12 18l4 2M102 20l4 2M80 84l4 2M132 102l4 2M112 104l4 2M123 111l4 2M116 113l4 2M115 127l4 2M66 135l4 2M21 162l4 2" stroke="#ffef00"/><path d="M122 16l4 2M159 25l4 2M129 28l4 2M133 43l4 2M111 55l4 2M147 54l4 2M87 56l4 2M81 60l4 2M157 59l4 2M159 62l4 2M75 71l4 2M66 81l4 2M23 113l4 2M15 120l4 2M11 122l4 2M18 124l4 2M57 124l4 2M78 134l4 2M12 158l4 2M85 162l4 2M57 183l4 2M56 187l4 2M55 190l4 2M4 200l4 2M40 203l4 2" stroke="#00a0ff"/><path d="M65 35l4 2M30 42l4 2M62 46l4 2M53 61l4 2M35 70l4 2M39 71l4 2M4 76l4 2M20 79l4 2M23 80l4 2M-1 80l4 2M15 91l4 2M1 98l4 2M2 100l4 2M6 103l4 2M101 161l4 2M114 196l4 2M111 204l4 2M83 216l4 2M106 213l4 2M83 219l4 2" stroke="#0000b4"/><path d="M89 106l4 2" stroke="#ce0000"/><path d="M63 26l4 2M106 34l4 2M28 38l4 2M23 41l4 2M2 45l4 2M152 42l4 2M66 62l4 2M37 94l4 2M57 149l4 2M103 152l4 2M113 165l4 2M84 172l4 2M116 175l4 2M109 178l4 2M68 195l4 2M68 210l4 2M70 214l4 2" stroke="#001dff"/><path d="M170 -0l4 2M177 3l4 2M106 4l4 2M62 7l4 2M108 30l4 2M121 65l4 2M92 70l4 2M53 104l4 2M150 105l4 2M44 114l4 2M61 126l4 2M29 139l4 2M63 146l4 2M20 151l4 2M58 170l4 2M18 188l4 2M19 192l4 2" stroke="#58ffa7"/><path d="M66 6l4 2M104 55l4 2M100 57l4 2M114 71l4 2M115 81l4 2M77 97l4 2M64 112l4 2M114 116l4 2M40 134l4 2M106 135l4 2M70 144l4 2" stroke="#72ff8d"/><path d="M108 9l4 2M104 88l4 2M107 99l4 2M71 100l4 2M104 107l4 2M105 120l4 2M39 137l4 2M37 137l4 2M23 172l4 2M19 181l4 2" stroke="#ffba00"/><path d="M48 7l4 2M20 14l4 2M6 16l4 2M97 56l4 2M133 64l4 2M86 85l4 2M64 105l4 2M56 107l4 2M105 117l4 2M51 134l4 2M42 154l4 2M66 159l4 2M22 186l4 2" stroke="#dbff24"/><path d="M87 89l4 2M85 104l4 2" stroke="#e80000"/><path d="M17 8l4 2M88 9l4 2M58 16l4 2M55 18l4 2M121 23l4 2M123 24l4 2M83 29l4 2M117 29l4 2M20 34l4 2M132 37l4 2M170 39l4 2M93 46l4 2M75 65l4 2M162 66l4 2M104 81l4 2M15 116l4 2M18 119l4 2M5 128l4 2M15 142l4 2M99 147l4 2M111 149l4 2M22 180l4 2M23 181l4 2M54 181l4 2M51 188l4 2M4 197l4 2M56 200l4 2M37 205l4 2M44 205l4 2M5 208l4 2" stroke="#00a0ff"/><path d="M132 3l4 2M139 24l4 2M44 31l4 2M150 39l4 2M17 43l4 2M170 53l4 2M80 80l4 2M37 98l4 2M36 99l4 2M10 111l4 2M80 133l4 2M136 147l4 2M105 167l4 2M122 175l4 2M118 178l4 2M63 200l4 2M68 214l4 2M57 219l4 2" stroke="#0038ff"/><path d="M168 6l4 2M178 14l4 2M30 16l4 2M96 19l4 2M179 20l4 2M179 24l4 2M21 28l4 2M119 37l4 2M107 50l4 2M139 63l4 2M116 119l4 2M45 130l4 2M62 143l4 2M36 175l4 2M15 186l4 2M10 207l4 2" stroke="#24ffdb"/><path d="M65 7l4 2M15 18l4 2M-0 37l4 2M119 46l4 2M153 70l4 2M151 84l4 2M115 89l4 2M106 91l4 2M67 99l4 2M124 103l4 2M48 113l4 2M87 117l4 2M108 118l4 2M35 127l4 2M121 127l4 2M76 136l4 2M25 147l4 2M54 170l4 2M17 210l4 2" stroke="#c1ff3e"/><path d="M129 3l4 2M77 32l4 2M42 34l4 2M20 44l4 2M13 46l4 2M18 47l4 2M60 67l4 2M46 84l4 2M102 128l4 2M98 156l4 2M115 164l4 2M80 176l4 2M118 179l4 2M103 181l4 2M66 196l4 2M72 207l4 2" stroke="#001dff"/><path d="M107 23l4 2M120 51l4 2M114 54l4 2M115 60l4 2M113 64l4 2M125 74l4 2M89 86l4 2M135 95l4 2M72 110l4 2M118 112l4 2M57 114l4 2M32 156l4 2M26 168l4 2M22 176l4 2M24 210l4 2" stroke="#ffd500"/><path d="M92 102l4 2M76 106l4 2M92 106l4 2M77 108l4 2M76 115l4 2M73 116l4 2M8 27l4 2M37 150l4 2" stroke="#e80000"/><path d="M68 34l4 2M30 38l4 2M71 41l4 2M50 43l4 2M72 43l4 2M81 46l4 2M73 54l4 2M64 61l4 2M47 66l4 2M56 67l4 2M54 72l4 2M33 76l4 2M39 80l4 2M40 82l4 2M35 93l4 2M19 105l4 2M97 162l4 2M86 180l4 2M104 184l4 2M102 194l4 2M68 199l4 2" stroke="#0003ff"/><path d="M20 27l4 2M45 137l4 2M37 147l4 2M48 158l4 2M54 163l4 2M7 178l4 2" stroke="#ff1d00"/><path d="M129 79l4 2M146 84l4 2M16 19l4 2" stroke="#ff6c00"/><path d="M35 44l4 2M63 43l4 2M57 45l4 2M17 50l4 2M15 50l4 2M47 53l4 2M60 51l4 2M48 53l4 2M54 55l4 2M54 56l4 2M8 59l4 2M41 68l4 2M9 71l4 2M10 73l4 2M21 73l4 2M40 76l4 2M27 93l4 2M24 100l4 2M14 103l4 2M65 151l4 2M89 185l4 2M98 186l4 2M92 191l4 2M81 197l4 2M85 197l4 2M89 198l4 2M77 205l4 2M105 205l4 2M78 215l4 2" stroke="#0000ce"/><path d="M89 -0l4 2M89 3l4 2M-1 6l4 2M1 8l4 2M145 8l4 2M149 10l4 2M45 20l4 2M53 19l4 2M61 20l4 2M151 20l4 2M42 26l4 2M86 24l4 2M88 26l4 2M129 23l4 2M158 28l4 2M91 38l4 2M144 46l4 2M150 52l4 2M73 66l4 2M107 83l4 2M60 83l4 2M49 87l4 2M55 88l4 2M7 140l4 2M13 140l4 2M110 143l4 2M125 143l4 2M116 155l4 2M121 160l4 2M70 171l4 2M73 170l4 2" stroke="#0086ff"/><path d="M36 4l4 2M172 2l4 2M40 8l4 2M104 13l4 2M183 14l4 2M107 44l4 2M108 49l4 2M112 57l4 2M130 69l4 2M124 79l4 2M127 106l4 2M120 110l4 2M148 108l4 2M143 110l4 2M138 115l4 2M42 134l4 2M23 145l4 2M20 147l4 2M22 169l4 2" stroke="#58ffa7"/><path d="M31 40l4 2M58 44l4 2M2 53l4 2M18 52l4 2M66 52l4 2M69 52l4 2M5 56l4 2M45 55l4 2M60 55l4 2M43 57l4 2M55 57l4 2M2 61l4 2M23 64l4 2M38 63l4 2M17 65l4 2M39 64l4 2M33 69l4 2M43 74l4 2M49 74l4 2M35 87l4 2M7 89l4 2M19 88l4 2M18 96l4 2M98 185l4 2M87 190l4 2M94 200l4 2M100 203l4 2M103 202l4 2M112 200l4 2M90 204l4 2M94 205l4 2M77 206l4 2M90 206l4 2M110 206l4 2M81 208l4 2M112 210l4 2M72 215l4 2M104 215l4 2M89 218l4 2M91 218l4 2M100 219l4 2" stroke="#0000ce"/><path d="M8 6l4 2M162 7l4 2M82 10l4 2M46 17l4 2M35 20l4 2M87 18l4 2M170 26l4 2M86 28l4 2M168 26l4 2M98 33l4 2M126 33l4 2M126 35l4 2M178 37l4 2M124 42l4 2M124 45l4 2M138 59l4 2M113 76l4 2M72 80l4 2M54 97l4 2M23 116l4 2M22 126l4 2M127 127l4 2M94 131l4 2M25 134l4 2M13 136l4 2M24 135l4 2M28 140l4 2M108 140l4 2M127 141l4 2M80 150l4 2M5 153l4 2M74 153l4 2M80 158l4 2M8 162l4 2M66 168l4 2M64 175l4 2M51 179l4 2M40 197l4 2" stroke="#00d4ff"/><path d="M103 12l4 2M105 26l4 2M127 64l4 2M151 75l4 2M161 77l4 2M64 93l4 2M67 94l4 2M62 106l4 2M82 118l4 2M44 122l4 2M136 121l4 2M55 130l4 2M70 129l4 2M75 137l4 2M60 142l4 2M42 157l4 2" stroke="#72ff8d"/><path d="M53 28l4 2M60 26l4 2M77 35l4 2M39 37l4 2M75 37l4 2M44 40l4 2M65 41l4 2M23 42l4 2M66 44l4 2M69 42l4 2M15 47l4 2M29 47l4 2M79 53l4 2M33 57l4 2M66 58l4 2M48 63l4 2M16 66l4 2M47 67l4 2M47 72l4 2M57 75l4 2M48 76l4 2M34 96l4 2M8 108l4 2M101 156l4 2M84 177l4 2M109 180l4 2M113 181l4 2M118 183l4 2M72 205l4 2M82 205l4 2M98 212l4 2M71 217l4 2" stroke="#0003ff"/><path d="M59 2l4 2M75 4l4 2M22 6l4 2M167 9l4 2M20 9l4 2M36 15l4 2M50 14l4 2M24 23l4 2M177 22l4 2M181 27l4 2M105 31l4 2M115 33l4 2M141 64l4 2M84 69l4 2M148 67l4 2M65 98l4 2M34 112l4 2M141 110l4 2M147 117l4 2M69 139l4 2M4 143l4 2M4 143l4 2M10 148l4 2M7 159l4 2M31 172l4 2M14 197l4 2M24 206l4 2M11 209l4 2" stroke="#0afff5"/><path d="M55 -1l4 2M139 3l4 2M58 25l4 2M144 25l4 2M75 34l4 2M72 37l4 2M73 35l4 2M82 36l4 2M85 39l4 2M149 41l4 2M1 45l4 2M62 68l4 2M43 83l4 2M24 104l4 2M1 108l4 2M21 153l4 2M105 157l4 2M89 165l4 2M106 166l4 2M114 165l4 2M101 169l4 2M108 179l4 2M75 188l4 2M78 189l4 2M77 192l4 2M74 196l4 2M68 205l4 2M71 210l4 2" stroke="#001dff"/><path d="M134 83l4 2M150 98l4 2M81 106l4 2M96 108l4 2M95 122l4 2M49 139l4 2M44 158l4 2M57 159l4 2M14 177l4 2" stroke="#ff3800"/><path d="M1 0l4 2M160 2l4 2M28 14l4 2M90 14l4 2M119 15l4 2M75 19l4 2M90 22l4 2M107 26l4 2M166 27l4 2M103 31l4 2M173 37l4 2M120 41l4 2M96 42l4 2M134 53l4 2M118 57l4 2M160 68l4 2M164 68l4 2M116 78l4 2M72 83l4 2M45 99l4 2M146 119l4 2M142 123l4 2M28 130l4 2M74 129l4 2M21 133l4 2M29 134l4 2M132 133l4 2M0 154l4 2M64 154l4 2M81 155l4 2M82 157l4 2M3 162l4 2M78 161l4 2M75 164l4 2M3 188l4 2M7 192l4 2M34 193l4 2M44 192l4 2M51 194l4 2M53 194l4 2M17 206l4 2M34 208l4 2" stroke="#00d4ff"/><path d="M116 24l4 2M108 42l4 2M121 46l4 2M129 64l4 2M88 109l4 2M58 122l4 2M83 124l4 2M40 170l4 2M47 171l4 2" stroke="#a7ff58"/><path d="M141 9l4 2M140 12l4 2M142 11l4 2M142 16l4 2M135 24l4 2M34 31l4 2M133 33l4 2M129 41l4 2M138 46l4 2M173 47l4 2M83 58l4 2M66 72l4 2M70 77l4 2M2 114l4 2M46 117l4 2M22 145l4 2M96 154l4 2M81 164l4 2M52 206l4 2M45 212l4 2" stroke="#006cff"/><path d="M92 92l4 2" stroke="#b40000"/><path d="M56 -2l4 2M11 1l4 2M123 1l4 2M84 6l4 2M156 8l4 2M2 10l4 2M122 10l4 2M145 16l4 2M127 23l4 2M154 24l4 2M165 34l4 2M130 35l4 2M169 35l4 2M168 37l4 2M132 42l4 2M92 53l4 2M70 81l4 2M42 96l4 2M121 106l4 2M33 109l4 2M24 113l4 2M25 115l4 2M5 121l4 2M51 120l4 2M123 124l4 2M19 127l4 2M101 129l4 2M3 133l4 2M8 143l4 2M111 145l4 2M125 162l4 2" stroke="#00a0ff"/><path d="M110 28l4 2M50 32l4 2M33 41l4 2M41 50l4 2M24 53l4 2M51 55l4 2M64 55l4 2M66 53l4 2M-0 56l4 2M7 57l4 2M41 60l4 2M48 60l4 2M19 63l4 2M34 64l4 2M50 63l4 2M28 67l4 2M38 67l4 2M33 73l4 2M36 74l4 2M20 83l4 2M20 85l4 2M4 88l4 2M22 96l4 2M27 94l4 2M1 101l4 2M2 102l4 2M8 104l4 2M110 184l4 2M100 190l4 2M83 194l4 2M88 195l4 2M91 194l4 2M96 196l4 2M84 199l4 2M77 201l4 2M88 202l4 2M109 200l4 2M76 211l4 2M83 211l4 2M85 212l4 2M102 212l4 2" stroke="#0000ce"/><path d="M17 15l4 2M111 63l4 2M87 81l4 2M67 97l4 2M114 100l4 2M119 126l4 2M53 145l4 2M67 159l4 2M32 175l4 2" stroke="#ffd500"/><path d="M143 70l4 2M92 72l4 2M138 72l4 2M143 82l4 2M28 179l4 2" stroke="#dbff24"/><path d="M92 99l4 2M87 100l4 2M93 64l4 2M46 136l4 2M35 152l4 2M47 160l4 2M9 168l4 2M8 175l4 2" stroke="#ff0300"/><path d="M119 9l4 2M66 9l4 2M117 11l4 2M171 12l4 2M183 10l4 2M167 16l4 2M107 20l4 2M171 20l4 2M180 23l4 2M97 50l4 2M100 75l4 2M73 87l4 2M118 140l4 2M17 205l4 2" stroke="#24ffdb"/><path d="M127 112l4 2" stroke="#9a0000"/><path d="M52 35l4 2M36 46l4 2M60 47l4 2M71 49l4 2M63 51l4 2M-0 54l4 2M1 54l4 2M10 56l4 2M18 54l4 2M1 56l4 2M4 58l4 2M25 57l4 2M-0 61l4 2M2 60l4 2M32 60l4 2M53 65l4 2M-0 68l4 2M37 68l4 2M30 72l4 2M13 74l4 2M19 88l4 2M21 88l4 2M27 99l4 2M92 180l4 2M115 191l4 2M110 192l4 2M94 196l4 2M107 199l4 2M107 200l4 2M104 213l4 2M85 215l4 2M75 217l4 2" stroke="#0000ce"/><path d="M62 31l4 2M32 39l4 2M71 38l4 2M75 42l4 2M37 43l4 2M53 44l4 2M78 43l4 2M44 46l4 2M70 47l4 2M27 50l4 2M31 49l4 2M31 52l4 2M33 51l4 2M33 53l4 2M65 57l4 2M57 60l4 2M58 61l4 2M28 64l4 2M33 66l4 2M44 66l4 2M28 72l4 2M39 74l4 2M46 73l4 2M36 76l4 2M50 77l4 2M33 91l4 2M26 92l4 2M105 163l4 2M91 172l4 2M93 177l4 2M86 184l4 2M90 188l4 2M119 186l4 2M97 205l4 2M87 209l4 2M79 218l4 2M77 219l4 2" stroke="#0000e8"/><path d="M-0 13l4 2M125 86l4 2M126 89l4 2M148 90l4 2M84 93l4 2M135 92l4 2M100 101l4 2M102 102l4 2M79 111l4 2M84 113l4 2M120 121l4 2M58 136l4 2M59 139l4 2M26 171l4 2" stroke="#ffa000"/><path d="M64 0l4 2M78 1l4 2M94 4l4 2M119 1l4 2M33 14l4 2M42 14l4 2M104 27l4 2M121 32l4 2M8 38l4 2M105 42l4 2M108 54l4 2M86 61l4 2M82 76l4 2M146 82l4 2M69 89l4 2M74 88l4 2M76 97l4 2M56 100l4 2M50 106l4 2M67 123l4 2M43 131l4 2M86 137l4 2M29 143l4 2M94 146l4 2M6 150l4 2M74 148l4 2M80 153l4 2M62 171l4 2M50 173l4 2M39 182l4 2M39 185l4 2M36 198l4 2M32 203l4 2" stroke="#0afff5"/><path d="M173 2l4 2M109 9l4 2M117 35l4 2M116 45l4 2M127 57l4 2M121 72l4 2M154 73l4 2M70 86l4 2M137 90l4 2M144 93l4 2M77 96l4 2M110 113l4 2M113 115l4 2M80 119l4 2M35 122l4 2M121 135l4 2M37 142l4 2M86 148l4 2M51 150l4 2M69 153l4 2M30 180l4 2" stroke="#72ff8d"/><path d="M58 35l4 2M57 37l4 2M52 45l4 2M25 48l4 2M71 47l4 2M80 49l4 2M85 50l4 2M27 53l4 2M28 53l4 2M23 60l4 2M28 61l4 2M33 63l4 2M43 61l4 2M7 64l4 2M17 67l4 2M23 69l4 2M42 80l4 2M23 91l4 2M33 91l4 2M27 101l4 2M3 107l4 2M99 163l4 2M97 181l4 2M87 181l4 2M90 181l4 2M118 185l4 2M109 188l4 2M112 190l4 2M119 192l4 2M80 199l4 2M102 200l4 2M97 206l4 2M95 213l4 2" stroke="#0000e8"/><path d="M50 58l4 2M5 70l4 2M-0 78l4 2M9 91l4 2M10 100l4 2" stroke="#00009a"/><path d="M105 84l4 2M71 92l4 2M148 93l4 2M65 132l4 2M41 159l4 2" stroke="#ffd500"/><path d="M52 6l4 2M28 9l4 2M136 69l4 2M140 70l4 2M155 78l4 2M64 95l4 2M61 108l4 2M42 129l4 2M61 130l4 2M55 132l4 2" stroke="#8dff72"/><path d="M86 1l4 2M123 0l4 2M152 10l4 2M56 10l4 2M150 13l4 2M146 17l4 2M76 22l4 2M150 20l4 2M158 23l4 2M130 25l4 2M161 27l4 2M24 34l4 2M25 32l4 2M87 31l4 2M13 37l4 2M136 43l4 2M149 56l4 2M158 65l4 2M74 73l4 2M65 81l4 2M49 96l4 2M37 106l4 2M8 124l4 2M19 121l4 2M20 129l4 2M142 131l4 2M6 133l4 2M131 138l4 2M119 144l4 2M52 185l4 2M54 186l4 2M62 186l4 2M47 191l4 2M56 190l4 2M47 205l4 2" stroke="#00a0ff"/><path d="M122 50l4 2M144 91l4 2M97 112l4 2M77 119l4 2M32 178l4 2" stroke="#ffd500"/><path d="M131 4l4 2M133 13l4 2M74 27l4 2M41 28l4 2M32 33l4 2M162 41l4 2M8 43l4 2M78 59l4 2M63 64l4 2M34 99l4 2M25 105l4 2M12 110l4 2M100 150l4 2M117 163l4 2M97 166l4 2M116 168l4 2M119 172l4 2M116 178l4 2M122 180l4 2M67 184l4 2M71 186l4 2M77 186l4 2M66 203l4 2M62 207l4 2M58 211l4 2M58 211l4 2" stroke="#0038ff"/><path d="M155 -1l4 2M81 4l4 2M121 5l4 2M81 14l4 2M154 14l4 2M113 18l4 2M49 19l4 2M35 23l4 2M166 25l4 2M101 30l4 2M122 35l4 2M112 38l4 2M126 42l4 2M154 63l4 2M49 95l4 2M40 107l4 2M28 113l4 2M52 122l4 2M137 128l4 2M12 134l4 2M7 136l4 2M93 144l4 2M69 149l4 2M78 156l4 2M40 178l4 2M59 179l4 2M49 183l4 2M62 181l4 2M9 189l4 2M4 189l4 2M37 201l4 2M47 201l4 2M31 212l4 2" stroke="#00baff"/><path d="M46 2l4 2M112 12l4 2M99 46l4 2M107 69l4 2M123 72l4 2M149 80l4 2M96 82l4 2M140 81l4 2M124 99l4 2M31 140l4 2M37 144l4 2" stroke="#ffba00"/><path d="M90 4l4 2M95 7l4 2M98 9l4 2M60 15l4 2M78 25l4 2M129 28l4 2M114 29l4 2M93 32l4 2M157 32l4 2M128 38l4 2M8 40l4 2M169 42l4 2M146 47l4 2M154 47l4 2M77 79l4 2M12 116l4 2M11 126l4 2M15 126l4 2M116 149l4 2M118 150l4 2M115 153l4 2M91 159l4 2M89 161l4 2M78 164l4 2M127 162l4 2M78 168l4 2M56 203l4 2M43 206l4 2" stroke="#0086ff"/><path d="M101 -1l4 2M98 56l4 2M133 64l4 2M137 72l4 2M119 93l4 2M126 92l4 2M157 93l4 2M102 125l4 2M40 130l4 2M115 131l4 2M16 155l4 2M64 157l4 2" stroke="#c1ff3e"/><path d="M174 -0l4 2M179 1l4 2M180 6l4 2M185 7l4 2M191 8l4 2M113 19l4 2M22 21l4 2M103 82l4 2M142 107l4 2M52 174l4 2M31 182l4 2" stroke="#3effc1"/><path d="M99 83l4 2M106 85l4 2M102 96l4 2M88 113l4 2M106 124l4 2M111 127l4 2M47 133l4 2M63 134l4 2" stroke="#ffef00"/><path d="M157 -1l4 2M83 3l4 2M88 5l4 2M149 6l4 2M150 6l4 2M155 5l4 2M149 16l4 2M70 19l4 2M150 21l4 2M81 24l4 2M32 28l4 2M166 33l4 2M171 39l4 2M172 39l4 2M73 64l4 2M145 61l4 2M155 63l4 2M43 100l4 2M5 122l4 2M3 124l4 2M21 127l4 2M80 127l4 2M78 131l4 2M2 140l4 2M84 150l4 2M128 159l4 2M76 168l4 2M66 189l4 2M-1 190l4 2M40 191l4 2M4 198l4 2M44 200l4 2M45 211l4 2M46 211l4 2" stroke="#00a0ff"/><path d="M149 -1l4 2M89 4l4 2M146 19l4 2M41 21l4 2M46 21l4 2M134 28l4 2M169 43l4 2M148 51l4 2M87 54l4 2M157 58l4 2M163 56l4 2M82 72l4 2M75 84l4 2M38 104l4 2M28 108l4 2M146 110l4 2M16 113l4 2M2 122l4 2M82 134l4 2M21 141l4 2M101 145l4 2M95 153l4 2M77 167l4 2M44 171l4 2M56 180l4 2M60 191l4 2M58 196l4 2M1 198l4 2M2 201l4 2M49 204l4 2" stroke="#0086ff"/><path d="M103 22l4 2M96 80l4 2M131 82l4 2M104 99l4 2M116 98l4 2M126 98l4 2M112 132l4 2M60 137l4 2M48 145l4 2M38 157l4 2M29 177l4 2M31 154l4 2" stroke="#ff6c00"/><path d="M48 3l4 2M108 10l4 2M118 48l4 2M84 79l4 2M86 92l4 2M123 97l4 2M126 102l4 2M70 120l4 2M26 143l4 2M89 148l4 2" stroke="#ffba00"/><path d="M15 3l4 2M134 9l4 2M138 16l4 2M125 19l4 2M57 21l4 2M62 22l4 2M141 21l4 2M69 24l4 2M81 32l4 2M149 32l4 2M151 35l4 2M160 44l4 2M166 48l4 2M163 51l4 2M75 63l4 2M64 69l4 2M66 77l4 2M12 111l4 2M7 113l4 2M131 118l4 2M124 151l4 2M127 150l4 2M108 153l4 2M94 157l4 2M68 165l4 2M123 165l4 2M59 205l4 2M53 215l4 2M59 215l4 2M62 214l4 2M65 215l4 2" stroke="#0052ff"/><path d="M-1 3l4 2M60 6l4 2M73 10l4 2M79 12l4 2M70 12l4 2M158 16l4 2M93 19l4 2M85 21l4 2M88 21l4 2M96 25l4 2M110 39l4 2M92 56l4 2M119 58l4 2M160 78l4 2M64 91l4 2M122 107l4 2M42 110l4 2M143 120l4 2M32 124l4 2M131 124l4 2M26 129l4 2M26 131l4 2M18 132l4 2M26 135l4 2M108 135l4 2M17 138l4 2M126 139l4 2M16 140l4 2M69 148l4 2M68 150l4 2M58 175l4 2M31 189l4 2M36 196l4 2M6 206l4 2" stroke="#00d4ff"/><path d="M95 96l4 2" stroke="#9a0000"/><path d="M120 4l4 2M145 5l4 2M139 8l4 2M141 12l4 2M142 20l4 2M51 21l4 2M70 22l4 2M129 21l4 2M79 27l4 2M143 37l4 2M143 38l4 2M156 46l4 2M148 48l4 2M153 49l4 2M157 47l4 2M163 59l4 2M71 68l4 2M61 81l4 2M47 89l4 2M44 117l4 2M41 120l4 2M2 131l4 2M12 140l4 2M135 141l4 2M125 154l4 2M130 154l4 2M91 162l4 2M124 165l4 2M70 178l4 2M74 178l4 2M63 184l4 2M74 184l4 2M56 201l4 2M48 209l4 2" stroke="#006cff"/><path d="M125 12l4 2M135 16l4 2M50 24l4 2M73 24l4 2M46 28l4 2M30 32l4 2M90 33l4 2M29 35l4 2M88 39l4 2M16 41l4 2M155 43l4 2M159 47l4 2M158 57l4 2M69 68l4 2M53 86l4 2M43 113l4 2M3 114l4 2M123 150l4 2M98 154l4 2M92 159l4 2M80 165l4 2M124 173l4 2M105 174l4 2M73 191l4 2M64 209l4 2M45 214l4 2M49 214l4 2M66 216l4 2" stroke="#0052ff"/><path d="M84 98l4 2M93 103l4 2M33 144l4 2" stroke="#ce0000"/><path d="M107 101l4 2" stroke="#9a0000"/><path d="M91 100l4 2M92 61l4 2M91 63l4 2M51 143l4 2M58 159l4 2M61 162l4 2M4 172l4 2M12 173l4 2" stroke="#ff0300"/><path d="M5 29l4 2M75 116l4 2" stroke="#ff3800"/><path d="M23 -0l4 2M82 0l4 2M5 5l4 2M101 4l4 2M83 8l4 2M59 11l4 2M26 14l4 2M93 17l4 2M32 18l4 2M40 19l4 2M81 19l4 2M178 31l4 2M180 31l4 2M179 35l4 2M128 47l4 2M131 51l4 2M150 61l4 2M81 67l4 2M64 85l4 2M34 116l4 2M41 115l4 2M115 118l4 2M32 122l4 2M43 124l4 2M48 126l4 2M23 127l4 2M134 129l4 2M57 132l4 2M121 136l4 2M114 143l4 2M1 151l4 2M2 152l4 2M84 152l4 2M82 154l4 2M1 159l4 2M5 162l4 2M67 162l4 2M47 177l4 2M33 185l4 2M26 187l4 2M31 189l4 2M18 196l4 2M27 211l4 2" stroke="#00efff"/><path d="M114 -0l4 2M38 2l4 2M52 12l4 2M6 14l4 2M28 18l4 2M116 63l4 2M85 66l4 2M130 73l4 2M119 81l4 2M80 92l4 2M95 92l4 2M123 117l4 2M66 141l4 2M54 157l4 2M17 172l4 2" stroke="#f5ff0a"/><path d="M90 92l4 2M103 93l4 2M33 154l4 2M7 172l4 2M11 178l4 2" stroke="#e80000"/><path d="M3 79l4 2M3 92l4 2" stroke="#00009a"/><path d="M1 18l4 2M90 91l4 2M120 95l4 2" stroke="#ce0000"/><path d="M66 31l4 2M110 29l4 2M67 32l4 2M33 35l4 2M46 38l4 2M21 42l4 2M43 45l4 2M5 47l4 2M10 53l4 2M63 58l4 2M18 60l4 2M40 61l4 2M45 69l4 2M50 71l4 2M53 72l4 2M12 107l4 2M96 134l4 2M110 163l4 2M87 173l4 2M116 186l4 2M119 189l4 2M103 194l4 2M75 199l4 2M83 206l4 2M88 208l4 2M75 208l4 2M90 209l4 2M91 215l4 2" stroke="#0003ff"/><path d="M34 -0l4 2M83 113l4 2M103 111l4 2M107 113l4 2M110 130l4 2M14 21l4 2M11 31l4 2" stroke="#ffa000"/><path d="M101 4l4 2M191 2l4 2M190 5l4 2M192 7l4 2M181 10l4 2M170 17l4 2M82 66l4 2M66 88l4 2M87 127l4 2M103 139l4 2M4 192l4 2" stroke="#3effc1"/><path d="M50 27l4 2M41 34l4 2M72 33l4 2M84 37l4 2M83 44l4 2M78 54l4 2M56 78l4 2M49 78l4 2M51 81l4 2M41 84l4 2M48 84l4 2M17 108l4 2M103 130l4 2M107 159l4 2M107 159l4 2M82 168l4 2M97 173l4 2M105 179l4 2M117 181l4 2M72 187l4 2M69 203l4 2" stroke="#001dff"/><path d="M119 -0l4 2M192 0l4 2M175 5l4 2M44 7l4 2M127 55l4 2M46 106l4 2M106 134l4 2M74 145l4 2M15 150l4 2M72 161l4 2M2 192l4 2" stroke="#24ffdb"/><path d="M154 86l4 2M59 105l4 2M69 110l4 2M133 116l4 2M92 124l4 2M53 129l4 2M64 141l4 2M15 152l4 2M61 168l4 2" stroke="#c1ff3e"/><path d="M5 35l4 2M127 74l4 2M126 84l4 2M130 83l4 2M108 87l4 2M157 88l4 2M131 94l4 2M84 106l4 2M95 109l4 2M69 127l4 2M119 132l4 2M89 150l4 2M31 156l4 2M40 159l4 2M20 164l4 2" stroke="#ffef00"/></g></g>
<path d="M385,571.8 388,570.8 392.5,570.3 396,573.8 395,577.8 396.5,580.8 393,584.8 391.5,589.8 392.5,593.8 391,596.3 394.5,604.3 390.5,604.3 386,607.3 381.5,610.8 380.5,608.3 384,603.8 383,600.8 386.5,598.8 385,595.8 387,593.3 385.5,589.3 387,586.8 384.5,585.3 387.5,582.3 385,577.8 386.5,575.3ZM404.5,555.3 409,551.3 416,549.8 423,549 429,548.8 429.5,552.8 424,554.8 417,557.3 410,559.3 405,559.8ZM195.3,486.2 197.5,486.2 197.5,630 195.3,630ZM427.9,505.3 429.9,505.3 429.9,553.3 427.9,553.3ZM301.5,640.3 305,639.8 307.5,642.3 308,646.3 305.5,648.8 302.5,647.3 301,643.8Z" fill="#000" stroke="#000" stroke-width="1.2" stroke-linejoin="round" clip-path="url(#ax3)"/>
<path d="M374.4 615.1l-2.1 -1.9M372.1 617.7l1.2 1.1M371.9 617.9l-0.9 -0.8M370.3 619.6l0.7 0.9M368.5 621.2l-2.4 -2.8M367.1 622.3l-2.5 -2.9M365.2 624.0l1.5 1.7M363.9 625.2l-0.8 -0.9M362.6 626.3l-2.5 -3.2M361.0 627.5l-0.8 -1.0M359.6 629.3l-3.1 -1.2M358.7 631.8l-3.7 -1.4M358.0 633.8l-2.8 -0.9M357.2 636.1l-1.4 -0.5M356.9 637.3l1.1 0.4M393.2 604.4l-1.4 -2.8M391.6 605.1l1.0 2.0M390.1 606.1l1.0 1.4M388.4 607.3l-1.3 -1.8M385.6 608.6l0.6 2.4M384.3 608.9l-0.8 -3.2M382.6 610.3l1.7 1.7M382.4 610.4l1.3 1.4M380.3 612.6l-2.1 -2.1M379.9 612.9l1.1 1.1M376.8 614.4l-0.3 -1.4M375.9 614.6l-0.3 -1.6M339.1 643.1l0.7 2.3M340.6 642.7l-2.0 2.3M342.3 644.2l1.2 -1.3M344.0 646.4l2.1 -1.3M344.4 647.0l-1.1 0.7M345.2 648.4l-2.6 1.6M347.5 651.0l-2.5 3.3M348.5 651.7l-1.0 1.3M356.0 672.7l1.5 -1.7M354.4 671.4l2.6 -2.9M354.0 670.5l3.5 -1.5M352.8 667.8l-1.6 0.7M282.5 645.2l0.7 -2.4M285.0 645.9l0.5 -1.8M287.1 646.4l-0.2 2.1M289.5 646.6l-0.3 2.8M291.9 647.4l-1.8 3.8M292.3 647.6l0.8 -1.6M294.4 648.6l-1.1 2.9M296.9 649.6l-1.2 3.0M299.1 649.9l-0.0 2.0M299.8 649.9l0.0 -0.8M301.7 649.9l-0.6 -1.3M304.0 648.9l1.2 2.7M390.4 591.0l0.7 -1.6M388.6 588.7l2.0 -0.3M388.5 588.2l-2.2 0.3M388.3 585.1l-1.0 -0.1M388.4 584.0l3.6 0.3M388.4 581.8l-1.9 0.4M387.7 579.0l1.5 -0.3M387.9 576.5l3.2 0.5M388.0 575.5l3.7 0.6M388.3 574.2l3.1 1.4M390.0 570.5l2.3 1.1" stroke="#000" stroke-width="1.5" stroke-linecap="round" clip-path="url(#ax3)"/>
<path d="M190.1,486.3 270.6,486.3M214.8,486.3 214.8,557.9M190.1,523.4 214.8,523.4M190.1,557.9 227.4,557.9M227.4,557.9 227.4,590.4M190.1,590.4 274,590.4M221.4,590.4 221.4,594.3 221.2,628.7 198.7,628.7 199.3,630.3 190.1,630.3M221.4,594.3 240.2,594.3 240.2,609.4M240.2,609.4 242.7,610.7 245.2,611 249.6,612.6 252.8,612.9 255.9,614.4 258.4,615.5 259.7,614 262.8,615.5 265.9,614.6 268.4,614.6 271.6,614.8 274.8,616.4 277.6,617.1 277.6,628.7M274.8,616.4 275.2,602.9 274,594.3 274,573.5 272.2,570.3 271.6,567.4 269.6,566.2M227.4,566.2 269.6,566.2M269.6,566.2 266.8,561.4 266.3,558.7 265.3,556.2 264.7,552.8 263.1,549.5 261.5,545.2 259,542.9 255.9,542.2 249.6,540.9 214.8,540.9M261.5,545.2 262.5,545.3 261.5,539.8 262.5,536.6 262.5,520.7 261.8,514.9 214.8,514.9M261.8,514.9 261.5,511.6 260.3,506.1 259.7,498.7 258.1,491.1 257.6,486.3M266.8,561.4 294,563M262.5,536.6 295.3,536.6M285.7,525.6 290.4,528.7 294.8,533.1 295.3,536.6 296,543.5 298.9,545.2 302,549.2 301.7,551.2 297.3,554.5 296,557 296.7,560.4 294,563 294.2,566.2 296,568.6 298.5,573.5 301.7,575.2 301.7,577.6 301.1,580.8 305.4,586.4 306.1,589.6 308.1,590.4 308.6,591.2 306.4,594.3 305.8,595.9 304.8,598.2 302.9,602.1 302.3,606 301.1,608.3 299.2,610.6 296.7,613.6 295.7,617.4 295.7,621.2 295.4,625 296.7,627.9 294.2,631.7 292.9,636.1M285.7,525.6 285.4,523.4 285.7,518 288.5,513.4 288.5,508.4 289.8,507.5M270.6,486.3 270.6,482.6 272.8,483.4 274.1,489.2 281,490.6 286.6,491.6 293.5,495.4 297.9,493.9 305.4,495.8 301.1,498.2 294.8,502.4 289.8,507.5M289.8,507.5 294.2,506.6 297.3,505.6 298.5,508.9 300.4,509.1 302.3,511.2 308.6,513.3 314.8,514.8 316.7,519.8 318,522.5M318,522.5 316.1,524.7 315.5,527.4 318,524.7 321.7,520.7 319.9,525.6 318.6,529.6 317.4,534.8 316.1,540.9 316.7,545.2 298.9,545.2M316.7,545.2 318,550.3 318.4,552 320.5,552.7 322.9,551.5 335.4,551.7 344,551.7M318.4,551.5 318.4,571.5 318,575.2 316.1,580 315.2,584M335.4,551.7 335.4,573.5M349.3,581.1 349.3,579.2 347.8,576.8 344.9,577.4 342.1,577.2 339.3,576 337.4,573.5 335.4,573.5 331.8,576.5 329.6,580.4 328,582.4 324.9,583.2 321.1,584.3 318.2,582.7 315.2,584 314.8,586.4 311.7,589.7 308.1,590.4M349.3,579.2 351.8,576 354.4,574.4 357.5,571.5 360.3,568.6 361.9,566.2 362.4,560.9 362.4,549.6M300.4,509.1 305.4,507 309.8,505.2 314.2,501 316.7,501.5 313,505.2 318,506.6 321.7,509.8 325.5,509.8 331.2,507.9 334.3,507.5 336.8,510.2 339.9,509.8 341.2,513.9 338.7,514.8 336.2,515.3 331.2,513.4 326.1,515.7 323.6,516.2 321.1,518 318,522.5M322.9,551.5 324.9,547.8 326.4,542.6 326.8,538.3 324.9,533.9 326.4,529.6 327.7,525.1 330.5,522.5 331.8,520.7 334.3,518 336.2,516.3 339.3,518 343.7,520.2 344.9,523.4 344.6,526.9 343.1,531.3 341.2,535.3 343.7,533.1 346.8,531.8 349.3,533.1 350.3,540.9 350,544.3 347.5,546.1 346.2,549 344,551.7M344,551.7 346.8,553.3 348.7,554.1 353.1,553.7 355,553.7 358.1,551.6 362.4,549.6 365,548.2 367.1,547.2 367.1,549.5 394.7,549.5M367.1,547.2 371.9,543.1 372.5,541.3 371.6,538.7 378.2,537.7 381.3,538.7 385.7,538.3 389.5,536.1 389.5,533.1 388.5,531.3 392,528.2 395.1,525.1 398.9,523.4 418.9,523.4 421.6,520.7 423.3,519.8 426.5,515.3 428.3,507.9 433.4,501M407.3,523.4 407.3,527.8 407,535.7 408,536.1 407.8,543.1 406.4,549 406.4,555.4 405.1,557 405.5,558.1M407.8,543.1 412.9,543.2 420.2,543.5 423.3,542M412.9,543.2 413,540.9 413.9,534.8 415.8,529.6 418.9,523.4M421.6,520.7 422.1,527.8 422.4,536.6 424,540M406.4,549 417.1,549.3 419.7,549.3 421.3,553.7M417.1,549.3 416.7,555.2M434.6,531.3 429.6,533.9 427.1,535.7 424,540 423.3,542 424.6,544.3 422.1,546.9 424.6,549.9 428.3,551.6 428.3,549 428.7,552 424.6,553.3 421.3,553.7 416.7,555.2 412.7,555.6 409.5,556.2 405.5,558.1 403.9,559.1M403.9,560.8 410.8,559.6 416.4,557.5 412.7,558.7 407,561.2 403.9,561.2M394.7,549.5 396.4,550.7 398.9,554.9 403.9,557.9 403.3,560.4M398.9,554.9 396.4,559.1 395.7,561.2 397.3,563.7 398.6,564.9 396.4,566.6 394.5,567.8 393.2,567.5 392,568.5 362.4,568.5 362.4,560.9M403.3,560.4 403.3,562.9 402.6,568.2 400.8,571.1 397.6,574.9 395.7,572.3 393.9,569.5 394.5,567.8M392,568.5 392,578.7 396.7,578.7M393.9,569.5 394.5,571.9 396.4,576 396.7,578.8 395.7,582.4 393.2,585.6 391,589.2M368.9,568.5 368.9,572.7 372.5,570.7 376,569.1 379.9,571.8 381.3,572.7 384.1,575.6 383.2,578.4 385.1,580.8 388.8,582.8M353.3,586.1 358.1,588.4 360.6,587.2 363.8,586.4 365,583.2 367.5,579.2 370,578.8 372.5,575.6 376,571.1 379.9,571.8M353.3,586.1 350.6,584 349.3,581.1M342.6,593.5 346.8,591.6 351.2,588 353.3,586.1M306.4,594.3 315.2,594.3 315,592.9 321.7,593.2 331.2,593.5 342.6,593.5 355.1,593.6 391.5,593.9M338.5,606 340.6,603.7 343.7,601.7 346.8,599.8 349.3,598.2 351.8,597.1 355.1,593.6M302.3,606 346.2,606M346.2,606 350.6,604.4 359.1,604.8 360,605.2 360.6,607.4 367.6,607.5 374.7,614.8M346.2,606 346.8,608.3 349.3,611.4 351.8,615.9 353.7,618.9 356.2,622 357.5,625 360,628.3M314.2,606 312.5,629.4 313,640.6M330.5,606 333,622.3 334.3,625 334,628.7 333.7,632.4 334.3,636.1 318,636.1 318.6,641.2M334.3,636.1 335.2,638.3 351.8,639.2 352.8,637.6 356.5,638.3M274,594.3 302,594.3 300.6,598.2 304.8,598.2M277.6,621.1 295.7,621.2M277.6,628.7 279.1,632.4 280.7,636.1 279.6,641.2 278.9,645.6M292.9,636.1 304.6,636.1 305.1,639 305.4,642M199.3,630.3 202.6,633.1 208.9,638.3 210.8,643.4 215.1,648.5 218.9,650.7 220.8,650.7 223.3,645.6 225.8,644.3 231.5,645.1 236.2,649.9 238.3,655.7 243.4,661.4 245.9,668.5 251.5,671.6 255.9,672.7 258.1,672.4 257.2,668.5 256.5,665 257.8,660 260.3,656.4 265.3,653.5 271,649.9 273.5,648.1 278.9,645.6 282.2,645.1 286.6,646.3 290.4,646.7 294.2,648.5 297.9,649.9 301.7,649.9 304.8,648.5 306.7,651 309.2,649.2 307.3,647 305.4,644.1 306.7,643 305.4,642 309.2,640.5 313,640.6 315.5,641.6 318.6,641.2 321.7,640.5 326.1,640.5 330.5,642.7 331.8,644.9 334.3,645.6 338,643.4 340.6,642.7 343.1,644.9 346.2,649.9 349,652.1 348.1,657.8 349.3,661.4 352.5,667.1 354.4,671.3 357.5,674.1 359.4,677.6 363.4,677.6 365.6,673.4 366.6,668.5 365.6,663.5 363.1,657.1 362.2,653.5 359.7,648.5 357.8,644.1 356.5,638.3 358.4,632.4 360,628.3 362.8,626.1 366.3,623.1 370.7,619.3 374.7,614.8 378.8,614 383.8,609.1 387,608.3 390.7,605.6 393.9,604.1 393.9,599.8 391.5,593.9 390.7,591.2 388.8,590.4M363.8,677.3 366.3,684.2" clip-path="url(#ax3)" fill="none" stroke="#000" stroke-width="2.6" stroke-linejoin="round" stroke-linecap="round"/>
<text x="145.8" y="501.9" class="s">48</text>
<ellipse cx="168" cy="488.8" rx="1.8" ry="1.35" class="dg"/>
<text x="175.6" y="501.9" class="s">N</text>
<text x="145.8" y="519.9" class="s">46</text>
<ellipse cx="168" cy="506.8" rx="1.8" ry="1.35" class="dg"/>
<text x="175.6" y="519.9" class="s">N</text>
<text x="145.8" y="537.3" class="s">44</text>
<ellipse cx="168" cy="524.2" rx="1.8" ry="1.35" class="dg"/>
<text x="175.6" y="537.3" class="s">N</text>
<text x="145.8" y="555.9" class="s">42</text>
<ellipse cx="168" cy="542.8" rx="1.8" ry="1.35" class="dg"/>
<text x="175.6" y="555.9" class="s">N</text>
<text x="145.8" y="571.9" class="s">40</text>
<ellipse cx="168" cy="558.8" rx="1.8" ry="1.35" class="dg"/>
<text x="175.6" y="571.9" class="s">N</text>
<text x="145.8" y="587.3" class="s">38</text>
<ellipse cx="168" cy="574.2" rx="1.8" ry="1.35" class="dg"/>
<text x="175.6" y="587.3" class="s">N</text>
<text x="145.8" y="603.8" class="s">36</text>
<ellipse cx="168" cy="590.7" rx="1.8" ry="1.35" class="dg"/>
<text x="175.6" y="603.8" class="s">N</text>
<text x="145.8" y="618.3" class="s">34</text>
<ellipse cx="168" cy="605.2" rx="1.8" ry="1.35" class="dg"/>
<text x="175.6" y="618.3" class="s">N</text>
<text x="145.8" y="635.1" class="s">32</text>
<ellipse cx="168" cy="622" rx="1.8" ry="1.35" class="dg"/>
<text x="175.6" y="635.1" class="s">N</text>
<text x="145.8" y="648.9" class="s">30</text>
<ellipse cx="168" cy="635.8" rx="1.8" ry="1.35" class="dg"/>
<text x="175.6" y="648.9" class="s">N</text>
<text x="145.8" y="662.3" class="s">28</text>
<ellipse cx="168" cy="649.2" rx="1.8" ry="1.35" class="dg"/>
<text x="175.6" y="662.3" class="s">N</text>
<text x="145.8" y="677.2" class="s">26</text>
<ellipse cx="168" cy="664.1" rx="1.8" ry="1.35" class="dg"/>
<text x="175.6" y="677.2" class="s">N</text>
<text x="145.8" y="691.1" class="s">24</text>
<ellipse cx="168" cy="678" rx="1.8" ry="1.35" class="dg"/>
<text x="175.6" y="691.1" class="s">N</text>
<text x="145.8" y="704.5" class="s">22</text>
<ellipse cx="168" cy="691.4" rx="1.8" ry="1.35" class="dg"/>
<text x="175.6" y="704.5" class="s">N</text>
<text x="215.2" y="466.8" class="s">100</text>
<ellipse cx="244.9" cy="453.6" rx="1.8" ry="1.35" class="dg"/>
<text x="252.4" y="466.8" class="s">W</text>
<text x="284.2" y="466.8" class="s">90</text>
<ellipse cx="306.5" cy="453.6" rx="1.8" ry="1.35" class="dg"/>
<text x="314" y="466.8" class="s">W</text>
<text x="348" y="466.8" class="s">80</text>
<ellipse cx="370.3" cy="453.6" rx="1.8" ry="1.35" class="dg"/>
<text x="377.8" y="466.8" class="s">W</text>
<text x="411.6" y="466.8" class="s">70</text>
<ellipse cx="433.9" cy="453.6" rx="1.8" ry="1.35" class="dg"/>
<text x="441.4" y="466.8" class="s">W</text>
<rect x="441.3" y="484.9" width="23.4" height="215.6" fill="url(#jet)" stroke="#262626" stroke-width="0.8"/>
<path d="M462.2,592.7H464.7" stroke="#262626" stroke-width="0.8"/>
<text x="472.9" y="493.1" class="cb">100</text>
<text x="472.7" y="600.5" class="cb">50</text>
<text x="472.7" y="708.3" class="cb">0</text>
<text x="139" y="730.6" class="t">SAT 300 hPa RH (Percent)</text>
<clipPath id="sw4"><path d="M616.3,485.1 808.3,485.4 787.7,529.8 765.9,588 741.2,649.8 722.9,701.4 669.7,702.1 615.2,690.1Z"/><circle cx="615.7" cy="487.2" r="3.9"/><circle cx="624.1" cy="487.2" r="4.3"/><circle cx="634.6" cy="487" r="4.4"/><circle cx="643.1" cy="487.9" r="5"/><circle cx="652.2" cy="488.6" r="5.2"/><circle cx="662.2" cy="487.6" r="3.8"/><circle cx="671.6" cy="486.8" r="3.9"/><circle cx="683.7" cy="487.9" r="4.6"/><circle cx="693.5" cy="486.8" r="3.8"/><circle cx="702.6" cy="487.7" r="4.4"/><circle cx="713.5" cy="487.7" r="4.2"/><circle cx="725" cy="487.9" r="4.6"/><circle cx="737.4" cy="488.1" r="4.2"/><circle cx="746" cy="488" r="4.9"/><circle cx="756.4" cy="488.1" r="4.8"/><circle cx="767.3" cy="488" r="4.2"/><circle cx="778.2" cy="488.2" r="4.4"/><circle cx="791" cy="487.9" r="4.8"/><circle cx="802.5" cy="489.1" r="5.3"/><circle cx="618.3" cy="488.8" r="3.4"/><circle cx="618.1" cy="495.9" r="3.5"/><circle cx="617.9" cy="503.2" r="3"/><circle cx="617.9" cy="510.6" r="3.2"/><circle cx="617.8" cy="520.2" r="3"/><circle cx="619" cy="528.9" r="4"/><circle cx="618" cy="538.5" r="3.2"/><circle cx="619" cy="546.5" r="4"/><circle cx="617.8" cy="554" r="3.1"/><circle cx="618.3" cy="561.7" r="3.5"/><circle cx="617.7" cy="569.5" r="2.9"/><circle cx="618.7" cy="577.6" r="3.6"/><circle cx="618.4" cy="586.7" r="3.5"/><circle cx="618" cy="595.7" r="3"/><circle cx="618.9" cy="605" r="3.9"/><circle cx="617.9" cy="613.2" r="3.4"/><circle cx="617.5" cy="622.1" r="3"/><circle cx="617.8" cy="629.7" r="3.1"/><circle cx="617.5" cy="636.9" r="2.9"/><circle cx="617.9" cy="644.2" r="3.3"/><circle cx="618.2" cy="653.8" r="3.6"/><circle cx="618" cy="661.6" r="3.3"/><circle cx="619" cy="668.9" r="3.9"/><circle cx="618" cy="677.3" r="3.5"/><circle cx="618" cy="684.6" r="3.3"/><circle cx="620.7" cy="688" r="4"/><circle cx="632.5" cy="690.1" r="4.5"/><circle cx="642.7" cy="693.3" r="3.7"/><circle cx="654.6" cy="694.7" r="5.1"/><circle cx="663.6" cy="697.2" r="4.3"/><circle cx="674.7" cy="698.5" r="4.6"/><circle cx="684" cy="698.9" r="4.1"/><circle cx="696" cy="697.8" r="5.1"/><circle cx="707.3" cy="697.5" r="4.9"/><circle cx="717.3" cy="697.8" r="4.3"/></clipPath>
<clipPath id="ax4"><rect x="617" y="486.2" width="234.3" height="213"/></clipPath>
<rect x="617" y="486.2" width="234.3" height="213" fill="none" stroke="#000" stroke-width="1.1"/>
<g clip-path="url(#sw4)"><g filter="url(#bl)" transform="translate(614.0 483.2)"><path d="M0 0h12v12h-12zM60 24h12v12h-12zM84 24h12v12h-12zM36 36h12v12h-12zM60 36h12v12h-12zM120 36h12v12h-12zM132 36h12v12h-12zM36 48h12v12h-12zM48 48h12v12h-12zM72 48h12v12h-12zM96 48h12v12h-12zM0 60h12v12h-12zM24 60h12v12h-12zM36 60h12v12h-12zM72 60h12v12h-12zM72 72h12v12h-12zM36 96h12v12h-12zM0 108h12v12h-12zM60 132h12v12h-12zM72 132h12v12h-12zM84 132h12v12h-12zM60 144h12v12h-12zM72 144h12v12h-12zM84 144h12v12h-12zM96 144h12v12h-12zM108 144h12v12h-12zM120 144h12v12h-12zM132 144h12v12h-12zM144 144h12v12h-12zM156 144h12v12h-12zM168 144h12v12h-12zM180 144h12v12h-12zM192 144h12v12h-12zM96 156h12v12h-12zM108 156h12v12h-12zM120 156h12v12h-12zM132 156h12v12h-12zM144 156h12v12h-12zM156 156h12v12h-12zM168 156h12v12h-12zM180 156h12v12h-12zM192 156h12v12h-12zM36 168h12v12h-12zM96 168h12v12h-12zM108 168h12v12h-12zM120 168h12v12h-12zM132 168h12v12h-12zM144 168h12v12h-12zM156 168h12v12h-12zM168 168h12v12h-12zM180 168h12v12h-12zM192 168h12v12h-12zM36 180h12v12h-12zM24 192h12v12h-12zM24 204h12v12h-12zM24 216h12v12h-12z" fill="#003cfa" stroke="#003cfa" stroke-width="0.6"/><path d="M12 0h12v12h-12zM60 12h12v12h-12zM48 24h12v12h-12zM72 24h12v12h-12zM120 24h12v12h-12zM24 36h12v12h-12zM48 36h12v12h-12zM96 36h12v12h-12zM108 36h12v12h-12zM24 48h12v12h-12zM84 48h12v12h-12zM108 48h12v12h-12zM120 48h12v12h-12zM132 48h12v12h-12zM12 60h12v12h-12zM108 60h12v12h-12zM144 72h12v12h-12zM156 72h12v12h-12zM168 72h12v12h-12zM180 72h12v12h-12zM192 72h12v12h-12zM48 84h12v12h-12zM144 84h12v12h-12zM156 84h12v12h-12zM168 84h12v12h-12zM180 84h12v12h-12zM192 84h12v12h-12zM12 108h12v12h-12zM0 120h12v12h-12zM96 132h12v12h-12zM108 132h12v12h-12zM120 132h12v12h-12zM132 132h12v12h-12zM144 132h12v12h-12zM156 132h12v12h-12zM168 132h12v12h-12zM180 132h12v12h-12zM192 132h12v12h-12zM36 144h12v12h-12zM48 144h12v12h-12zM60 156h12v12h-12zM12 204h12v12h-12z" fill="#008cff" stroke="#008cff" stroke-width="0.6"/><path d="M24 0h12v12h-12zM96 24h12v12h-12zM96 72h12v12h-12zM60 96h12v12h-12z" fill="#ffffff" stroke="#ffffff" stroke-width="0.6"/><path d="M36 0h12v12h-12zM48 0h12v12h-12zM60 0h12v12h-12zM96 0h12v12h-12zM24 12h12v12h-12zM48 12h12v12h-12zM72 12h12v12h-12zM96 12h12v12h-12zM108 12h12v12h-12zM0 36h12v12h-12zM12 36h12v12h-12zM0 48h12v12h-12zM84 60h12v12h-12zM132 84h12v12h-12zM36 120h12v12h-12zM96 120h12v12h-12zM120 120h12v12h-12zM24 132h12v12h-12zM12 144h12v12h-12zM0 156h12v12h-12zM12 180h12v12h-12zM0 192h12v12h-12z" fill="#3cffc8" stroke="#3cffc8" stroke-width="0.6"/><path d="M72 0h12v12h-12zM84 0h12v12h-12zM36 12h12v12h-12zM84 12h12v12h-12zM24 24h12v12h-12zM36 24h12v12h-12zM108 24h12v12h-12zM12 48h12v12h-12zM96 60h12v12h-12zM120 60h12v12h-12zM132 60h12v12h-12zM132 72h12v12h-12zM24 108h12v12h-12zM36 108h12v12h-12zM12 120h12v12h-12zM24 120h12v12h-12zM108 120h12v12h-12zM132 120h12v12h-12zM144 120h12v12h-12zM156 120h12v12h-12zM168 120h12v12h-12zM180 120h12v12h-12zM192 120h12v12h-12zM0 132h12v12h-12zM12 132h12v12h-12zM0 144h12v12h-12zM24 144h12v12h-12zM24 156h12v12h-12zM36 156h12v12h-12zM24 168h12v12h-12zM24 180h12v12h-12zM12 192h12v12h-12zM0 204h12v12h-12zM0 216h12v12h-12zM12 216h12v12h-12z" fill="#00d2ff" stroke="#00d2ff" stroke-width="0.6"/><path d="M108 0h12v12h-12zM0 12h12v12h-12zM12 12h12v12h-12zM12 24h12v12h-12zM48 96h12v12h-12zM84 96h12v12h-12zM132 96h12v12h-12zM144 96h12v12h-12zM156 96h12v12h-12zM168 96h12v12h-12zM180 96h12v12h-12zM192 96h12v12h-12zM132 108h12v12h-12zM144 108h12v12h-12zM156 108h12v12h-12zM168 108h12v12h-12zM180 108h12v12h-12zM192 108h12v12h-12zM72 120h12v12h-12zM84 120h12v12h-12zM12 156h12v12h-12zM48 156h12v12h-12zM0 168h12v12h-12zM12 168h12v12h-12zM0 180h12v12h-12z" fill="#b4ff46" stroke="#b4ff46" stroke-width="0.6"/><path d="M120 0h12v12h-12zM132 0h12v12h-12zM120 12h12v12h-12zM132 12h12v12h-12zM144 12h12v12h-12zM132 24h12v12h-12zM144 24h12v12h-12zM144 36h12v12h-12zM156 36h12v12h-12zM144 48h12v12h-12zM156 48h12v12h-12zM168 48h12v12h-12zM180 48h12v12h-12zM192 48h12v12h-12zM144 60h12v12h-12zM156 60h12v12h-12zM168 60h12v12h-12zM180 60h12v12h-12zM192 60h12v12h-12z" fill="#003cfa" stroke="#003cfa" stroke-width="0.6"/><path d="M144 0h12v12h-12zM156 12h12v12h-12zM156 24h12v12h-12zM168 24h12v12h-12zM180 24h12v12h-12zM192 24h12v12h-12zM168 36h12v12h-12zM180 36h12v12h-12zM192 36h12v12h-12z" fill="#008cff" stroke="#008cff" stroke-width="0.6"/><path d="M156 0h12v12h-12zM168 0h12v12h-12zM180 0h12v12h-12zM192 0h12v12h-12zM168 12h12v12h-12zM180 12h12v12h-12zM192 12h12v12h-12z" fill="#00d2ff" stroke="#00d2ff" stroke-width="0.6"/><path d="M0 24h12v12h-12zM84 72h12v12h-12zM108 72h12v12h-12zM72 84h12v12h-12zM84 84h12v12h-12zM108 84h12v12h-12zM120 84h12v12h-12zM108 96h12v12h-12zM60 108h12v12h-12zM96 108h12v12h-12z" fill="#ff7800" stroke="#ff7800" stroke-width="0.6"/><path d="M72 36h12v12h-12zM84 36h12v12h-12zM60 48h12v12h-12zM48 60h12v12h-12zM60 60h12v12h-12zM24 72h12v12h-12zM36 72h12v12h-12zM48 72h12v12h-12zM60 72h12v12h-12zM24 84h12v12h-12zM36 84h12v12h-12zM24 96h12v12h-12zM72 156h12v12h-12zM84 156h12v12h-12zM48 168h12v12h-12zM60 168h12v12h-12zM72 168h12v12h-12zM84 168h12v12h-12zM48 180h12v12h-12zM60 180h12v12h-12zM96 180h12v12h-12zM108 180h12v12h-12zM120 180h12v12h-12zM132 180h12v12h-12zM144 180h12v12h-12zM156 180h12v12h-12zM168 180h12v12h-12zM180 180h12v12h-12zM192 180h12v12h-12zM36 192h12v12h-12zM48 192h12v12h-12zM96 192h12v12h-12zM108 192h12v12h-12zM120 192h12v12h-12zM132 192h12v12h-12zM144 192h12v12h-12zM156 192h12v12h-12zM168 192h12v12h-12zM180 192h12v12h-12zM192 192h12v12h-12zM36 204h12v12h-12zM48 204h12v12h-12zM60 204h12v12h-12zM96 204h12v12h-12zM108 204h12v12h-12zM120 204h12v12h-12zM132 204h12v12h-12zM144 204h12v12h-12zM156 204h12v12h-12zM168 204h12v12h-12zM180 204h12v12h-12zM192 204h12v12h-12zM36 216h12v12h-12zM48 216h12v12h-12zM60 216h12v12h-12zM72 216h12v12h-12zM96 216h12v12h-12zM108 216h12v12h-12zM120 216h12v12h-12zM132 216h12v12h-12zM144 216h12v12h-12zM156 216h12v12h-12zM168 216h12v12h-12zM180 216h12v12h-12zM192 216h12v12h-12z" fill="#000ad7" stroke="#000ad7" stroke-width="0.6"/><path d="M0 72h12v12h-12zM12 72h12v12h-12zM0 84h12v12h-12zM12 84h12v12h-12zM0 96h12v12h-12zM12 96h12v12h-12zM72 180h12v12h-12zM84 180h12v12h-12zM60 192h12v12h-12zM72 192h12v12h-12zM84 192h12v12h-12zM72 204h12v12h-12zM84 204h12v12h-12zM84 216h12v12h-12z" fill="#0000af" stroke="#0000af" stroke-width="0.6"/><path d="M120 72h12v12h-12zM60 84h12v12h-12zM72 96h12v12h-12zM120 96h12v12h-12zM48 108h12v12h-12zM108 108h12v12h-12zM120 108h12v12h-12zM48 120h12v12h-12zM60 120h12v12h-12zM36 132h12v12h-12zM48 132h12v12h-12z" fill="#ffdc00" stroke="#ffdc00" stroke-width="0.6"/><path d="M96 84h12v12h-12zM96 96h12v12h-12zM72 108h12v12h-12zM84 108h12v12h-12z" fill="#eb1400" stroke="#eb1400" stroke-width="0.6"/></g><path d="M644.0,487.8 656.6,487.8 655.5,494.7 652.0,499.7 649.0,503.2 644.5,504.2 643.0,498.2Z" fill="#fff"/><path d="M618.7,524.6 633.3,524.6 633.3,530.4 618.7,530.4Z" fill="#fff"/><path d="M701.2,499.4 709.0,499.4 709.0,508.2 701.2,508.2Z" fill="#fff"/><path d="M690.7,548.2 697.0,544.6 707.0,546.2 716.9,544.6 716.9,560.1 690.7,560.1Z" fill="#fff"/><path d="M717.9,535.8 737.3,535.8 737.3,543.6 717.9,543.6Z" fill="#fff"/><path d="M717.9,553.3 739.2,553.3 739.2,566.9 717.9,566.9Z" fill="#fff"/><path d="M741.0,552.3 752.8,552.3 752.8,559.1 741.0,559.1Z" fill="#fff"/><path d="M671.3,572.2 683.0,570.7 693.6,572.2 693.6,590.2 671.3,590.2Z" fill="#fff"/><path d="M663.6,592.1 690.7,592.1 690.7,599.8 663.6,599.8Z" fill="#fff"/><path d="M696.6,582.4 710.1,582.4 710.1,588.2 696.6,588.2Z" fill="#fff"/><g fill="none" stroke-width="3.6" stroke-linecap="round" transform="translate(614 483)"><path d="M59 -1l4 2M155 12l4 2M68 23l4 2M125 23l4 2M154 25l4 2M53 27l4 2M180 29l4 2M52 34l4 2M164 32l4 2M167 33l4 2M57 35l4 2M177 36l4 2M123 44l4 2M109 45l4 2M1 50l4 2M98 55l4 2M51 99l4 2M72 126l4 2M88 134l4 2M61 139l4 2M123 139l4 2M72 141l4 2M130 140l4 2M59 149l4 2M34 173l4 2M26 198l4 2" stroke="#0086ff"/><path d="M118 85l4 2M110 87l4 2M99 96l4 2" stroke="#ff3800"/><path d="M137 -1l4 2M-1 3l4 2M141 3l4 2M116 7l4 2M144 7l4 2M129 11l4 2M144 11l4 2M143 18l4 2M87 25l4 2M92 28l4 2M86 29l4 2M138 29l4 2M131 32l4 2M60 36l4 2M108 35l4 2M111 36l4 2M130 37l4 2M155 39l4 2M157 37l4 2M153 40l4 2M39 44l4 2M129 45l4 2M149 46l4 2M155 47l4 2M160 45l4 2M53 48l4 2M84 50l4 2M97 48l4 2M154 49l4 2M95 52l4 2M99 52l4 2M29 61l4 2M35 59l4 2M165 60l4 2M34 64l4 2M37 66l4 2M153 66l4 2M154 64l4 2M157 66l4 2M161 73l4 2M159 84l4 2M48 87l4 2M55 86l4 2M75 128l4 2M135 136l4 2M137 137l4 2M77 145l4 2M92 144l4 2M134 146l4 2M117 147l4 2M112 151l4 2M101 155l4 2M116 162l4 2M113 171l4 2M102 175l4 2M5 194l4 2M6 195l4 2" stroke="#0052ff"/><path d="M116 91l4 2M105 108l4 2" stroke="#ff5200"/><path d="M13 20l4 2M8 25l4 2M109 92l4 2M107 100l4 2M78 122l4 2M82 120l4 2M85 120l4 2" stroke="#ff0300"/><path d="M122 89l4 2M-1 200l4 2" stroke="#ffa000"/><path d="M20 -2l4 2M187 0l4 2M158 2l4 2M179 5l4 2M8 11l4 2M88 12l4 2M160 11l4 2M166 10l4 2M0 14l4 2M42 15l4 2M70 14l4 2M171 16l4 2M86 20l4 2M94 22l4 2M41 28l4 2M40 30l4 2M93 56l4 2M125 61l4 2M152 93l4 2M79 131l4 2M68 132l4 2M2 138l4 2M33 150l4 2M41 156l4 2M58 163l4 2M34 164l4 2M8 196l4 2" stroke="#00d4ff"/><path d="M37 123l4 2M85 202l4 2M85 207l4 2" stroke="#000080"/><path d="M39 -1l4 2M83 17l4 2M8 49l4 2M154 97l4 2M145 117l4 2M133 126l4 2M4 191l4 2M76 91l4 2" stroke="#24ffdb"/><path d="M114 13l4 2M61 37l4 2M80 38l4 2M93 38l4 2M70 44l4 2M80 43l4 2M72 46l4 2M71 54l4 2M53 57l4 2M70 57l4 2M14 74l4 2M50 75l4 2M50 80l4 2M41 92l4 2M32 99l4 2M1 110l4 2M97 159l4 2M75 163l4 2M95 162l4 2M70 168l4 2M90 168l4 2M73 173l4 2M93 173l4 2M108 181l4 2M48 186l4 2M37 194l4 2M44 195l4 2M99 195l4 2M36 199l4 2" stroke="#0003ff"/><path d="M-1 96l4 2M15 103l4 2M87 187l4 2M75 211l4 2M79 213l4 2" stroke="#00009a"/><path d="M85 107l4 2M148 110l4 2M87 127l4 2M48 133l4 2" stroke="#ffba00"/><path d="M14 -0l4 2M150 4l4 2M-0 9l4 2M16 8l4 2M121 18l4 2M72 24l4 2M160 26l4 2M79 29l4 2M165 31l4 2M110 31l4 2M180 33l4 2M38 36l4 2M45 35l4 2M101 36l4 2M114 34l4 2M43 38l4 2M28 41l4 2M19 44l4 2M31 44l4 2M136 47l4 2M137 51l4 2M83 60l4 2M146 80l4 2M148 77l4 2M148 89l4 2M46 99l4 2M78 129l4 2M3 132l4 2M140 131l4 2M93 134l4 2M108 135l4 2M104 138l4 2M8 140l4 2M39 149l4 2M43 166l4 2M32 172l4 2M13 178l4 2M24 178l4 2M24 184l4 2M37 187l4 2M28 190l4 2M22 202l4 2" stroke="#00a0ff"/><path d="M107 2l4 2M12 15l4 2M18 15l4 2M27 19l4 2M129 126l4 2M10 160l4 2M12 161l4 2M15 184l4 2M105 98l4 2" stroke="#3effc1"/><path d="M53 64l4 2M51 69l4 2M56 68l4 2M68 68l4 2M-1 74l4 2M24 75l4 2M13 76l4 2M35 89l4 2M35 95l4 2M27 97l4 2M79 157l4 2M81 161l4 2M92 161l4 2M69 170l4 2M52 175l4 2M67 178l4 2M91 178l4 2M56 184l4 2M59 185l4 2M106 184l4 2M113 187l4 2M86 190l4 2M113 191l4 2M47 192l4 2M114 195l4 2M39 200l4 2M111 202l4 2M36 205l4 2M46 206l4 2M50 206l4 2M104 207l4 2M98 210l4 2M104 210l4 2M88 215l4 2M65 218l4 2M97 217l4 2" stroke="#0000e8"/><path d="M76 89l4 2M79 88l4 2M100 89l4 2M85 91l4 2M93 112l4 2M99 115l4 2" stroke="#ff1d00"/><path d="M88 109l4 2" stroke="#e80000"/><path d="M97 107l4 2M49 110l4 2M60 117l4 2M48 131l4 2M13 31l4 2M82 81l4 2M88 83l4 2M95 92l4 2M111 98l4 2" stroke="#ff8600"/><path d="M131 75l4 2M93 108l4 2M53 118l4 2M109 116l4 2M47 125l4 2M6 171l4 2M142 110l4 2M127 120l4 2" stroke="#a7ff58"/><path d="M24 16l4 2M106 21l4 2M3 43l4 2M36 131l4 2M19 189l4 2M90 79l4 2M90 91l4 2M131 96l4 2M130 101l4 2M126 103l4 2M117 108l4 2M122 108l4 2M141 113l4 2" stroke="#f5ff0a"/><path d="M60 9l4 2M124 18l4 2M60 25l4 2M61 27l4 2M67 28l4 2M129 30l4 2M152 29l4 2M157 35l4 2M54 38l4 2M100 41l4 2M115 41l4 2M30 46l4 2M38 46l4 2M61 46l4 2M172 45l4 2M39 48l4 2M140 48l4 2M160 50l4 2M128 52l4 2M132 53l4 2M31 54l4 2M45 54l4 2M130 53l4 2M135 54l4 2M32 58l4 2M148 63l4 2M21 65l4 2M44 94l4 2M33 107l4 2M34 107l4 2M21 145l4 2M111 144l4 2M122 145l4 2M108 147l4 2M119 152l4 2M9 157l4 2M10 159l4 2M37 173l4 2M40 187l4 2M29 201l4 2" stroke="#006cff"/><path d="M66 117l4 2" stroke="#b40000"/><path d="M57 3l4 2M53 6l4 2M54 19l4 2M79 18l4 2M26 31l4 2M16 47l4 2M149 95l4 2M48 120l4 2M20 151l4 2M53 162l4 2M86 83l4 2" stroke="#58ffa7"/><path d="M105 17l4 2M27 24l4 2M60 123l4 2M18 150l4 2M1 184l4 2M129 107l4 2" stroke="#c1ff3e"/><path d="M50 133l4 2M8 35l4 2M88 89l4 2M101 93l4 2M103 116l4 2M89 120l4 2" stroke="#ffa000"/><path d="M48 111l4 2M23 153l4 2M72 84l4 2M103 92l4 2M129 94l4 2" stroke="#ffef00"/><path d="M116 -1l4 2M58 5l4 2M6 15l4 2M48 12l4 2M33 135l4 2M25 154l4 2M19 164l4 2M-0 165l4 2M2 200l4 2M141 102l4 2M125 115l4 2" stroke="#72ff8d"/><path d="M152 4l4 2M64 18l4 2M120 21l4 2M178 27l4 2M20 30l4 2M43 32l4 2M46 33l4 2M116 33l4 2M36 39l4 2M89 53l4 2M107 65l4 2M149 87l4 2M148 91l4 2M17 118l4 2M23 118l4 2M43 126l4 2M91 129l4 2M113 134l4 2M99 137l4 2M100 136l4 2M60 142l4 2M68 159l4 2M35 172l4 2M26 192l4 2M18 196l4 2" stroke="#00a0ff"/><path d="M22 38l4 2M120 84l4 2M60 120l4 2M53 125l4 2M138 111l4 2" stroke="#ffba00"/><path d="M16 37l4 2" stroke="#ffba00"/><path d="M107 1l4 2M18 20l4 2M23 34l4 2M15 52l4 2M139 84l4 2M153 95l4 2M46 112l4 2M143 124l4 2M1 144l4 2M39 143l4 2M54 145l4 2M16 154l4 2M46 157l4 2M87 91l4 2" stroke="#24ffdb"/><path d="M54 102l4 2M146 100l4 2M52 123l4 2M80 123l4 2M75 125l4 2M103 127l4 2M97 98l4 2M78 109l4 2M76 117l4 2M134 94l4 2M137 109l4 2M132 116l4 2M69 94l4 2" stroke="#f5ff0a"/><path d="M48 -1l4 2M128 80l4 2M44 121l4 2M120 125l4 2M71 128l4 2M39 139l4 2M10 173l4 2M22 175l4 2M130 116l4 2" stroke="#58ffa7"/><path d="M69 59l4 2M55 66l4 2M68 67l4 2M3 71l4 2M45 71l4 2M20 75l4 2M52 74l4 2M33 88l4 2M16 88l4 2M42 90l4 2M30 94l4 2M60 137l4 2M84 159l4 2M83 162l4 2M56 174l4 2M76 175l4 2M61 184l4 2M110 187l4 2M51 189l4 2M60 191l4 2M111 190l4 2M47 195l4 2M116 199l4 2M65 201l4 2M45 209l4 2M37 213l4 2M111 213l4 2M53 215l4 2M69 218l4 2M107 219l4 2" stroke="#0000e8"/><path d="M134 6l4 2M138 7l4 2M142 6l4 2M124 7l4 2M143 17l4 2M153 15l4 2M149 20l4 2M148 23l4 2M145 27l4 2M85 33l4 2M87 32l4 2M129 36l4 2M130 37l4 2M44 42l4 2M54 40l4 2M156 41l4 2M163 40l4 2M42 43l4 2M46 44l4 2M148 44l4 2M115 46l4 2M46 48l4 2M168 50l4 2M157 51l4 2M32 55l4 2M152 61l4 2M161 71l4 2M150 72l4 2M78 76l4 2M63 80l4 2M52 85l4 2M41 97l4 2M7 117l4 2M82 130l4 2M75 135l4 2M132 135l4 2M28 139l4 2M85 140l4 2M101 145l4 2M85 146l4 2M97 146l4 2M73 148l4 2M11 152l4 2M120 156l4 2M127 155l4 2M128 161l4 2M123 167l4 2M46 171l4 2M111 172l4 2M118 172l4 2M119 171l4 2M30 192l4 2M29 197l4 2M29 204l4 2" stroke="#0052ff"/><path d="M102 107l4 2M84 123l4 2M65 125l4 2M42 137l4 2M79 84l4 2" stroke="#ffba00"/><path d="M113 87l4 2M127 86l4 2M109 87l4 2M89 93l4 2M92 97l4 2M100 101l4 2M132 121l4 2M74 93l4 2" stroke="#ff8600"/><path d="M66 65l4 2M0 85l4 2M10 84l4 2M8 86l4 2M20 92l4 2M20 99l4 2M63 177l4 2M77 188l4 2M70 192l4 2M86 193l4 2M73 198l4 2M76 201l4 2M82 200l4 2M67 207l4 2M76 215l4 2M83 217l4 2" stroke="#0000b4"/><path d="M6 18l4 2M8 184l4 2M93 82l4 2M130 93l4 2M139 101l4 2M111 103l4 2M123 105l4 2M143 120l4 2M67 92l4 2" stroke="#ffef00"/><path d="M0 31l4 2M71 79l4 2M85 79l4 2M83 88l4 2M102 90l4 2M106 89l4 2M93 100l4 2M99 109l4 2M86 112l4 2M93 114l4 2" stroke="#ff0300"/><path d="M94 5l4 2M103 7l4 2M95 10l4 2M53 14l4 2M28 20l4 2M47 22l4 2M46 104l4 2M45 107l4 2M139 124l4 2M131 126l4 2M43 129l4 2M37 140l4 2M2 159l4 2M84 85l4 2" stroke="#24ffdb"/><path d="M15 4l4 2M2 10l4 2M18 16l4 2M115 17l4 2M166 18l4 2M30 23l4 2M82 24l4 2M165 25l4 2M173 25l4 2M109 29l4 2M38 33l4 2M32 35l4 2M29 43l4 2M16 56l4 2M133 58l4 2M140 69l4 2M25 115l4 2M11 124l4 2M99 127l4 2M126 127l4 2M91 132l4 2M96 133l4 2M138 134l4 2M116 135l4 2M120 139l4 2M2 151l4 2M45 154l4 2M24 161l4 2M37 167l4 2M31 177l4 2M35 178l4 2M10 208l4 2" stroke="#00baff"/><path d="M85 94l4 2" stroke="#ff3800"/><path d="M102 0l4 2M105 -1l4 2M3 13l4 2M19 31l4 2M89 130l4 2M3 159l4 2M19 165l4 2M15 174l4 2M17 179l4 2M2 182l4 2M101 104l4 2" stroke="#3effc1"/><path d="M68 6l4 2M120 6l4 2M9 8l4 2M157 11l4 2M9 13l4 2M12 17l4 2M165 16l4 2M61 21l4 2M170 26l4 2M175 26l4 2M184 23l4 2M26 26l4 2M112 27l4 2M123 32l4 2M119 37l4 2M113 50l4 2M120 61l4 2M133 63l4 2M124 65l4 2M119 67l4 2M79 78l4 2M64 84l4 2M30 111l4 2M105 125l4 2M113 126l4 2M139 128l4 2M10 131l4 2M82 133l4 2M102 133l4 2M7 138l4 2M6 140l4 2M117 142l4 2M43 146l4 2M66 161l4 2M29 173l4 2M26 186l4 2M6 207l4 2M12 205l4 2" stroke="#00baff"/><path d="M63 59l4 2M34 75l4 2M60 74l4 2M17 77l4 2M32 82l4 2M42 85l4 2M20 90l4 2M13 94l4 2M82 173l4 2M83 174l4 2M69 177l4 2M61 183l4 2M68 184l4 2M103 193l4 2M95 196l4 2M61 200l4 2M44 201l4 2M66 203l4 2M97 205l4 2M111 206l4 2M67 210l4 2M50 212l4 2M81 213l4 2M72 214l4 2M96 214l4 2" stroke="#0000ce"/><path d="M120 2l4 2M89 4l4 2M57 14l4 2M110 15l4 2M168 23l4 2M179 25l4 2M109 27l4 2M120 30l4 2M114 31l4 2M109 47l4 2M18 56l4 2M160 77l4 2M141 78l4 2M158 89l4 2M46 96l4 2M26 116l4 2M17 124l4 2M29 121l4 2M2 136l4 2M15 135l4 2M127 138l4 2M31 146l4 2M48 150l4 2M38 167l4 2M46 166l4 2M39 168l4 2M24 194l4 2M23 197l4 2" stroke="#00baff"/><path d="M142 0l4 2M9 4l4 2M132 5l4 2M158 18l4 2M151 25l4 2M18 29l4 2M73 31l4 2M127 30l4 2M60 32l4 2M73 32l4 2M159 34l4 2M40 38l4 2M169 37l4 2M141 44l4 2M153 42l4 2M39 52l4 2M138 53l4 2M30 57l4 2M4 64l4 2M16 66l4 2M148 74l4 2M65 81l4 2M50 89l4 2M22 111l4 2M3 120l4 2M68 139l4 2M110 139l4 2M118 151l4 2M123 159l4 2M37 182l4 2M27 199l4 2M25 201l4 2M23 206l4 2M22 211l4 2" stroke="#006cff"/><path d="M76 47l4 2M77 45l4 2M64 55l4 2M47 63l4 2M7 71l4 2M20 70l4 2M68 70l4 2M36 73l4 2M42 74l4 2M47 83l4 2M45 88l4 2M89 157l4 2M72 167l4 2M62 172l4 2M98 170l4 2M96 178l4 2M113 180l4 2M49 182l4 2M92 181l4 2M104 181l4 2M36 204l4 2M105 208l4 2M36 209l4 2M51 210l4 2M65 213l4 2" stroke="#0003ff"/><path d="M58 7l4 2M149 99l4 2M58 130l4 2M60 133l4 2M21 151l4 2M-1 167l4 2" stroke="#72ff8d"/><path d="M72 4l4 2M3 17l4 2M110 23l4 2M110 120l4 2M6 159l4 2M48 159l4 2M19 173l4 2M4 204l4 2M136 103l4 2" stroke="#72ff8d"/><path d="M19 39l4 2M99 93l4 2M94 103l4 2M69 96l4 2" stroke="#ff6c00"/><path d="M35 26l4 2M110 118l4 2M105 124l4 2M3 190l4 2" stroke="#3effc1"/><path d="M95 81l4 2M107 95l4 2" stroke="#ff0300"/><path d="M114 90l4 2M118 88l4 2M125 90l4 2M11 20l4 2M6 26l4 2M13 28l4 2M101 95l4 2" stroke="#ff1d00"/><path d="M52 107l4 2M68 107l4 2M54 140l4 2M83 111l4 2M116 104l4 2" stroke="#ff6c00"/><path d="M117 87l4 2M99 79l4 2M86 82l4 2M73 85l4 2M88 86l4 2M95 99l4 2M102 111l4 2M87 121l4 2" stroke="#ff0300"/><path d="M110 -1l4 2M63 2l4 2M21 17l4 2M17 21l4 2M141 92l4 2M51 116l4 2M131 126l4 2M8 182l4 2M116 100l4 2M133 104l4 2" stroke="#8dff72"/><path d="M100 2l4 2M157 7l4 2M51 10l4 2M99 11l4 2M160 14l4 2M17 16l4 2M170 16l4 2M3 19l4 2M173 20l4 2M175 21l4 2M176 22l4 2M119 36l4 2M25 45l4 2M88 55l4 2M14 57l4 2M129 58l4 2M97 60l4 2M107 61l4 2M140 60l4 2M143 68l4 2M144 73l4 2M146 76l4 2M150 91l4 2M153 90l4 2M52 95l4 2M33 109l4 2M13 122l4 2M9 124l4 2M22 125l4 2M8 133l4 2M9 133l4 2M75 132l4 2M98 133l4 2M129 133l4 2M117 138l4 2M4 150l4 2M4 150l4 2M5 151l4 2M59 152l4 2M35 179l4 2M18 199l4 2M14 203l4 2" stroke="#00baff"/><path d="M63 37l4 2M84 40l4 2M89 40l4 2M87 44l4 2M75 50l4 2M56 61l4 2M47 64l4 2M2 68l4 2M69 72l4 2M15 74l4 2M27 73l4 2M68 73l4 2M53 76l4 2M32 102l4 2M21 105l4 2M23 146l4 2M83 156l4 2M116 157l4 2M69 166l4 2M90 167l4 2M95 167l4 2M63 181l4 2M98 179l4 2M47 183l4 2M102 183l4 2M54 186l4 2M42 192l4 2M44 194l4 2M100 194l4 2M103 197l4 2M100 205l4 2M35 213l4 2" stroke="#0003ff"/><path d="M18 2l4 2M152 5l4 2M3 9l4 2M107 10l4 2M154 10l4 2M122 13l4 2M160 16l4 2M71 23l4 2M159 25l4 2M162 26l4 2M163 29l4 2M175 34l4 2M52 36l4 2M103 38l4 2M1 56l4 2M21 58l4 2M23 57l4 2M124 56l4 2M14 59l4 2M19 61l4 2M85 60l4 2M98 60l4 2M6 63l4 2M113 62l4 2M117 64l4 2M118 66l4 2M143 65l4 2M161 78l4 2M42 109l4 2M20 114l4 2M85 129l4 2M7 130l4 2M71 133l4 2M49 142l4 2M121 141l4 2M41 149l4 2M53 150l4 2M44 153l4 2M29 164l4 2M27 168l4 2M48 168l4 2M9 191l4 2M22 202l4 2" stroke="#00a0ff"/><path d="M7 89l4 2M7 96l4 2M83 187l4 2M81 189l4 2M78 192l4 2M78 202l4 2M89 202l4 2M91 206l4 2M81 215l4 2" stroke="#00009a"/><path d="M75 1l4 2M172 -1l4 2M173 -1l4 2M175 4l4 2M189 5l4 2M192 5l4 2M25 12l4 2M185 10l4 2M119 14l4 2M166 13l4 2M71 15l4 2M74 20l4 2M81 23l4 2M113 29l4 2M25 50l4 2M138 62l4 2M139 71l4 2M146 86l4 2M55 89l4 2M38 110l4 2M40 113l4 2M15 114l4 2M39 114l4 2M25 121l4 2M17 125l4 2M20 133l4 2M30 141l4 2M39 153l4 2M34 156l4 2M36 162l4 2M12 197l4 2M16 197l4 2M16 197l4 2M10 203l4 2" stroke="#00d4ff"/><path d="M0 80l4 2M5 83l4 2M10 88l4 2M23 87l4 2M10 92l4 2M10 99l4 2M84 171l4 2M80 174l4 2M86 182l4 2M66 188l4 2M72 189l4 2M91 187l4 2M71 191l4 2M90 190l4 2M79 197l4 2M55 198l4 2M72 204l4 2M94 204l4 2M72 206l4 2M83 209l4 2M86 210l4 2M47 216l4 2M69 214l4 2M93 213l4 2" stroke="#0000b4"/><path d="M13 85l4 2M5 88l4 2M15 92l4 2M0 95l4 2M5 95l4 2M13 98l4 2M82 185l4 2M67 192l4 2M72 194l4 2M79 194l4 2M58 199l4 2M89 198l4 2" stroke="#00009a"/><path d="M21 22l4 2M22 26l4 2M4 36l4 2M151 98l4 2M58 123l4 2M115 106l4 2M126 109l4 2" stroke="#dbff24"/><path d="M70 -1l4 2M47 4l4 2M98 8l4 2M152 7l4 2M120 9l4 2M67 15l4 2M97 16l4 2M67 19l4 2M95 17l4 2M160 19l4 2M164 22l4 2M58 26l4 2M157 25l4 2M163 24l4 2M56 28l4 2M48 33l4 2M121 36l4 2M31 40l4 2M119 41l4 2M175 39l4 2M30 52l4 2M109 50l4 2M118 51l4 2M103 63l4 2M154 78l4 2M143 81l4 2M50 92l4 2M28 121l4 2M29 124l4 2M40 126l4 2M101 128l4 2M138 130l4 2M12 133l4 2M103 137l4 2M61 145l4 2M35 148l4 2M25 162l4 2M62 164l4 2M45 168l4 2M54 167l4 2M13 208l4 2" stroke="#00a0ff"/><path d="M140 5l4 2M74 39l4 2M48 44l4 2M83 45l4 2M81 47l4 2M61 48l4 2M88 48l4 2M74 52l4 2M69 55l4 2M58 60l4 2M72 69l4 2M54 75l4 2M51 82l4 2M13 145l4 2M65 145l4 2M71 143l4 2M74 165l4 2M126 169l4 2M97 173l4 2M106 179l4 2M46 186l4 2M47 187l4 2M55 187l4 2" stroke="#001dff"/><path d="M162 -1l4 2M176 0l4 2M102 4l4 2M167 4l4 2M169 4l4 2M173 3l4 2M192 2l4 2M68 4l4 2M113 5l4 2M185 8l4 2M62 11l4 2M63 10l4 2M80 12l4 2M102 10l4 2M162 12l4 2M183 16l4 2M99 18l4 2M118 19l4 2M183 22l4 2M122 31l4 2M32 33l4 2M6 48l4 2M89 56l4 2M137 58l4 2M135 63l4 2M139 67l4 2M110 67l4 2M141 76l4 2M60 85l4 2M52 91l4 2M149 113l4 2M29 119l4 2M27 129l4 2M87 129l4 2M94 131l4 2M31 132l4 2M105 132l4 2M5 136l4 2M28 135l4 2M55 135l4 2M13 143l4 2M25 149l4 2M14 153l4 2M62 156l4 2M61 158l4 2M56 161l4 2M24 171l4 2" stroke="#00d4ff"/><path d="M76 83l4 2M81 111l4 2M74 116l4 2" stroke="#e80000"/><path d="M87 105l4 2M113 96l4 2M136 97l4 2M128 110l4 2" stroke="#ff6c00"/><path d="M17 40l4 2M147 109l4 2M47 122l4 2M66 126l4 2M15 172l4 2M12 187l4 2M120 101l4 2M144 104l4 2M112 114l4 2M126 113l4 2M119 118l4 2M126 120l4 2" stroke="#f5ff0a"/><path d="M82 1l4 2M44 4l4 2M73 3l4 2M72 10l4 2M176 15l4 2M76 16l4 2M175 17l4 2M30 27l4 2M24 38l4 2M23 43l4 2M20 53l4 2M127 76l4 2M144 91l4 2M46 106l4 2M79 126l4 2M1 143l4 2M20 158l4 2M61 161l4 2M22 168l4 2M4 208l4 2" stroke="#0afff5"/><path d="M55 3l4 2M62 3l4 2M56 16l4 2M123 67l4 2M50 103l4 2M116 124l4 2M13 173l4 2M3 201l4 2M70 82l4 2" stroke="#58ffa7"/><path d="M58 -2l4 2M148 -1l4 2M152 -0l4 2M5 9l4 2M111 11l4 2M161 17l4 2M70 18l4 2M160 20l4 2M46 28l4 2M169 27l4 2M44 30l4 2M176 30l4 2M105 38l4 2M115 39l4 2M26 43l4 2M102 44l4 2M103 47l4 2M25 52l4 2M26 57l4 2M2 61l4 2M7 64l4 2M154 72l4 2M20 121l4 2M6 124l4 2M64 131l4 2M66 129l4 2M15 134l4 2M115 137l4 2M129 136l4 2M5 138l4 2M60 140l4 2M108 142l4 2M9 152l4 2M56 151l4 2M5 179l4 2M5 195l4 2" stroke="#00a0ff"/><path d="M128 84l4 2M11 24l4 2" stroke="#ff6c00"/><path d="M92 0l4 2M191 1l4 2M189 1l4 2M81 5l4 2M77 7l4 2M68 13l4 2M38 16l4 2M49 15l4 2M109 17l4 2M36 19l4 2M76 20l4 2M179 19l4 2M186 20l4 2M53 22l4 2M50 24l4 2M118 24l4 2M119 26l4 2M36 31l4 2M139 79l4 2M142 90l4 2M153 92l4 2M46 101l4 2M36 113l4 2M36 119l4 2M71 126l4 2M107 125l4 2M113 124l4 2M140 126l4 2M111 127l4 2M16 129l4 2M21 130l4 2M129 131l4 2M23 134l4 2M115 133l4 2M121 133l4 2M21 135l4 2M49 146l4 2M27 149l4 2M61 156l4 2M58 157l4 2M59 159l4 2M16 193l4 2M8 205l4 2" stroke="#00efff"/><path d="M74 14l4 2M53 16l4 2M68 86l4 2M3 173l4 2M19 175l4 2M-0 182l4 2M125 104l4 2M135 113l4 2" stroke="#58ffa7"/><path d="M86 1l4 2M180 3l4 2M77 4l4 2M167 5l4 2M20 9l4 2M68 8l4 2M166 8l4 2M176 8l4 2M188 8l4 2M89 14l4 2M1 18l4 2M52 18l4 2M8 48l4 2M22 51l4 2M134 82l4 2M142 89l4 2M56 96l4 2M34 120l4 2M113 125l4 2M73 132l4 2M100 130l4 2M28 133l4 2M14 138l4 2M17 139l4 2M14 143l4 2M53 154l4 2M17 166l4 2M50 165l4 2M28 168l4 2M34 170l4 2M23 181l4 2" stroke="#00efff"/><path d="M81 40l4 2M90 46l4 2M5 52l4 2M67 53l4 2M51 66l4 2M63 65l4 2M49 67l4 2M29 74l4 2M27 76l4 2M43 75l4 2M43 78l4 2M52 77l4 2M33 92l4 2M36 92l4 2M27 94l4 2M30 94l4 2M26 100l4 2M28 102l4 2M89 160l4 2M77 162l4 2M87 165l4 2M90 163l4 2M87 165l4 2M66 172l4 2M55 174l4 2M65 175l4 2M67 174l4 2M57 177l4 2M57 179l4 2M111 182l4 2M120 187l4 2M106 190l4 2M109 194l4 2M98 200l4 2M101 199l4 2M46 202l4 2M97 202l4 2M45 204l4 2M97 216l4 2M67 218l4 2M64 219l4 2" stroke="#0000e8"/><path d="M106 7l4 2M113 10l4 2M12 19l4 2M3 53l4 2M47 140l4 2M6 173l4 2M18 188l4 2M12 191l4 2M138 102l4 2" stroke="#72ff8d"/><path d="M78 40l4 2M59 63l4 2M60 61l4 2M51 71l4 2M6 73l4 2M11 75l4 2M28 76l4 2M32 77l4 2M33 79l4 2M25 85l4 2M37 87l4 2M38 91l4 2M21 94l4 2M0 107l4 2M14 108l4 2M79 164l4 2M69 175l4 2M60 177l4 2M87 176l4 2M57 183l4 2M98 182l4 2M60 188l4 2M101 186l4 2M117 189l4 2M111 192l4 2M115 200l4 2M42 209l4 2M102 211l4 2M39 214l4 2M105 214l4 2M49 218l4 2M60 218l4 2" stroke="#0000e8"/><path d="M133 -0l4 2M138 2l4 2M137 22l4 2M146 21l4 2M74 35l4 2M65 42l4 2M161 44l4 2M49 53l4 2M150 51l4 2M167 53l4 2M153 56l4 2M37 57l4 2M40 58l4 2M79 58l4 2M161 63l4 2M21 69l4 2M35 105l4 2M37 103l4 2M150 107l4 2M7 110l4 2M22 108l4 2M146 115l4 2M74 138l4 2M91 139l4 2M82 145l4 2M97 144l4 2M74 146l4 2M79 150l4 2M91 148l4 2M122 148l4 2M69 155l4 2M96 154l4 2M105 155l4 2M91 156l4 2M126 157l4 2M69 164l4 2M114 164l4 2M125 165l4 2M106 173l4 2M100 178l4 2M121 178l4 2M42 187l4 2M37 191l4 2M27 208l4 2" stroke="#0038ff"/><path d="M145 1l4 2M63 5l4 2M101 14l4 2M63 28l4 2M81 27l4 2M59 29l4 2M156 32l4 2M121 37l4 2M172 39l4 2M30 41l4 2M102 41l4 2M106 39l4 2M173 44l4 2M5 60l4 2M33 60l4 2M22 61l4 2M112 64l4 2M153 85l4 2M5 127l4 2M0 131l4 2M109 132l4 2M132 134l4 2M70 140l4 2M124 142l4 2M130 143l4 2M121 159l4 2M8 169l4 2M41 171l4 2M31 173l4 2M2 180l4 2M9 199l4 2M17 205l4 2M18 208l4 2" stroke="#0086ff"/><path d="M63 58l4 2M59 74l4 2M22 75l4 2M36 76l4 2M17 79l4 2M28 83l4 2M37 84l4 2M21 90l4 2M19 100l4 2M9 105l4 2M87 161l4 2M81 165l4 2M84 166l4 2M76 172l4 2M81 178l4 2M86 177l4 2M79 182l4 2M65 186l4 2M97 186l4 2M114 183l4 2M51 194l4 2M71 199l4 2M76 207l4 2M41 210l4 2M61 209l4 2M58 214l4 2M101 218l4 2" stroke="#0000ce"/><path d="M6 17l4 2M94 102l4 2" stroke="#ffa000"/><path d="M157 23l4 2M95 27l4 2M46 30l4 2M70 30l4 2M169 29l4 2M59 33l4 2M173 33l4 2M54 36l4 2M97 36l4 2M133 36l4 2M170 34l4 2M47 37l4 2M99 38l4 2M37 40l4 2M47 40l4 2M122 41l4 2M36 43l4 2M54 42l4 2M110 44l4 2M107 49l4 2M28 52l4 2M93 53l4 2M147 72l4 2M158 72l4 2M152 78l4 2M62 83l4 2M153 83l4 2M150 86l4 2M-1 125l4 2M109 139l4 2M130 138l4 2M128 144l4 2M52 169l4 2M9 192l4 2" stroke="#0086ff"/><path d="M141 106l4 2M70 96l4 2" stroke="#ff6c00"/><path d="M105 21l4 2M19 25l4 2M129 91l4 2M93 107l4 2M90 82l4 2M101 81l4 2M85 113l4 2M133 108l4 2M114 113l4 2M122 118l4 2" stroke="#ffef00"/><path d="M62 108l4 2M36 127l4 2M20 156l4 2M3 170l4 2M110 97l4 2M84 115l4 2M126 95l4 2M114 99l4 2" stroke="#dbff24"/><path d="M51 8l4 2M138 7l4 2M135 12l4 2M126 22l4 2M129 23l4 2M129 27l4 2M72 32l4 2M48 35l4 2M167 37l4 2M105 43l4 2M128 44l4 2M171 44l4 2M42 49l4 2M141 48l4 2M87 51l4 2M162 51l4 2M133 54l4 2M26 61l4 2M145 59l4 2M25 63l4 2M15 65l4 2M33 65l4 2M145 64l4 2M162 72l4 2M154 84l4 2M40 106l4 2M92 137l4 2M139 137l4 2M42 141l4 2M137 141l4 2M87 144l4 2M88 143l4 2M114 143l4 2M14 146l4 2M65 154l4 2M8 156l4 2M66 154l4 2M0 204l4 2" stroke="#006cff"/><path d="M14 10l4 2M102 23l4 2M36 29l4 2M54 97l4 2M28 114l4 2M33 138l4 2M17 143l4 2M45 160l4 2M-1 162l4 2M10 164l4 2M8 199l4 2" stroke="#24ffdb"/><path d="M8 89l4 2M-1 97l4 2M3 98l4 2M4 101l4 2M83 188l4 2M83 193l4 2M76 196l4 2M78 197l4 2M90 212l4 2" stroke="#00009a"/><path d="M55 106l4 2M51 139l4 2M13 24l4 2M9 33l4 2M91 83l4 2M105 83l4 2M81 86l4 2M91 87l4 2M98 91l4 2M86 109l4 2M100 122l4 2" stroke="#ff1d00"/><path d="M107 -2l4 2M-1 32l4 2M126 84l4 2M6 177l4 2M-1 194l4 2M117 99l4 2M115 103l4 2" stroke="#ffd500"/><path d="M56 125l4 2M89 112l4 2" stroke="#ffd500"/><path d="M7 1l4 2M130 2l4 2M82 38l4 2M91 48l4 2M61 52l4 2M74 53l4 2M44 62l4 2M14 69l4 2M-1 71l4 2M26 71l4 2M35 71l4 2M55 76l4 2M39 97l4 2M49 100l4 2M18 109l4 2M7 112l4 2M67 150l4 2M128 149l4 2M6 156l4 2M79 154l4 2M131 154l4 2M72 165l4 2M98 169l4 2M60 170l4 2M45 174l4 2M120 181l4 2M42 190l4 2M34 202l4 2M31 210l4 2" stroke="#001dff"/><path d="M63 73l4 2M63 76l4 2M21 77l4 2M22 77l4 2M-1 82l4 2M4 81l4 2M23 81l4 2M8 91l4 2M23 92l4 2M-1 102l4 2M70 189l4 2M94 190l4 2M55 195l4 2M87 199l4 2M73 202l4 2M72 209l4 2" stroke="#0000b4"/><path d="M68 4l4 2M186 4l4 2M176 6l4 2M73 7l4 2M158 9l4 2M181 7l4 2M87 11l4 2M178 12l4 2M62 14l4 2M105 13l4 2M62 15l4 2M40 17l4 2M62 18l4 2M110 18l4 2M55 20l4 2M74 20l4 2M183 25l4 2M9 37l4 2M20 47l4 2M2 55l4 2M91 57l4 2M140 63l4 2M105 65l4 2M127 68l4 2M12 127l4 2M137 128l4 2M130 129l4 2M120 134l4 2M126 137l4 2M16 140l4 2M18 141l4 2M32 145l4 2M23 181l4 2M31 182l4 2M3 206l4 2" stroke="#00d4ff"/><path d="M73 -0l4 2M165 1l4 2M19 7l4 2M44 9l4 2M58 11l4 2M70 12l4 2M172 12l4 2M36 20l4 2M80 23l4 2M43 25l4 2M113 27l4 2M129 68l4 2M131 79l4 2M141 86l4 2M37 117l4 2M39 117l4 2M20 120l4 2M18 130l4 2M77 132l4 2M109 130l4 2M133 130l4 2M1 134l4 2M125 133l4 2M58 156l4 2M24 159l4 2M38 159l4 2M12 167l4 2M10 171l4 2M27 182l4 2M26 183l4 2" stroke="#00efff"/><path d="M84 1l4 2M91 2l4 2M92 8l4 2M58 19l4 2M30 33l4 2M19 52l4 2M15 53l4 2M147 110l4 2M13 136l4 2M16 137l4 2M8 145l4 2M30 144l4 2M20 146l4 2M12 155l4 2M22 172l4 2M28 179l4 2" stroke="#0afff5"/><path d="M74 44l4 2M53 62l4 2M69 68l4 2M4 72l4 2M9 74l4 2M72 74l4 2M4 75l4 2M59 77l4 2M34 83l4 2M15 88l4 2M27 86l4 2M24 95l4 2M10 108l4 2M83 159l4 2M54 183l4 2M117 182l4 2M103 184l4 2M53 189l4 2M116 187l4 2M98 196l4 2M38 200l4 2M42 198l4 2M47 199l4 2M105 199l4 2M39 208l4 2M38 213l4 2M108 215l4 2" stroke="#0000e8"/><path d="M64 120l4 2M92 85l4 2M99 93l4 2M104 93l4 2M74 111l4 2M103 111l4 2M76 113l4 2M90 115l4 2M78 118l4 2M114 82l4 2" stroke="#ff0300"/><path d="M71 4l4 2M51 4l4 2M1 45l4 2M26 159l4 2M7 162l4 2M13 164l4 2M3 184l4 2" stroke="#58ffa7"/><path d="M20 0l4 2M157 -0l4 2M77 2l4 2M79 2l4 2M158 6l4 2M12 7l4 2M43 8l4 2M96 8l4 2M158 8l4 2M179 9l4 2M42 10l4 2M107 15l4 2M182 12l4 2M111 15l4 2M182 21l4 2M108 30l4 2M118 29l4 2M9 55l4 2M133 61l4 2M121 64l4 2M127 62l4 2M120 64l4 2M127 64l4 2M129 67l4 2M135 76l4 2M142 87l4 2M41 113l4 2M145 119l4 2M31 122l4 2M25 126l4 2M89 128l4 2M136 132l4 2M8 135l4 2M12 138l4 2M1 150l4 2M29 152l4 2M29 155l4 2M31 154l4 2M34 155l4 2M39 156l4 2M47 155l4 2M29 157l4 2M41 157l4 2M64 162l4 2M20 168l4 2M29 172l4 2M20 186l4 2M17 201l4 2" stroke="#00d4ff"/><path d="M22 19l4 2M102 69l4 2M55 102l4 2M53 137l4 2M113 115l4 2" stroke="#ffd500"/><path d="M6 22l4 2M12 21l4 2M15 21l4 2M15 27l4 2M13 34l4 2M93 79l4 2M97 101l4 2M117 79l4 2" stroke="#ff0300"/><path d="M96 124l4 2M37 133l4 2M47 141l4 2M56 141l4 2M130 99l4 2M121 113l4 2" stroke="#8dff72"/><path d="M17 81l4 2M20 82l4 2M8 83l4 2M16 86l4 2M1 86l4 2M20 86l4 2M2 89l4 2M16 92l4 2M7 98l4 2M73 183l4 2M88 181l4 2M68 187l4 2M93 189l4 2M65 190l4 2M92 190l4 2M53 196l4 2M56 197l4 2M66 198l4 2M80 199l4 2M105 202l4 2M74 204l4 2M102 202l4 2M90 210l4 2M80 217l4 2M90 218l4 2" stroke="#0000b4"/><path d="M-1 0l4 2M2 3l4 2M140 13l4 2M150 15l4 2M132 17l4 2M134 28l4 2M142 30l4 2M75 36l4 2M143 36l4 2M147 36l4 2M147 38l4 2M129 40l4 2M139 39l4 2M151 43l4 2M41 46l4 2M151 46l4 2M54 49l4 2M159 51l4 2M54 55l4 2M79 59l4 2M40 63l4 2M156 61l4 2M164 63l4 2M31 69l4 2M39 69l4 2M159 68l4 2M40 99l4 2M-0 113l4 2M7 114l4 2M26 138l4 2M65 139l4 2M68 142l4 2M94 147l4 2M111 147l4 2M107 153l4 2M131 154l4 2M92 154l4 2M104 158l4 2M115 164l4 2M42 172l4 2M101 172l4 2M41 174l4 2M107 176l4 2M115 179l4 2M4 193l4 2" stroke="#0038ff"/><path d="M78 186l4 2M87 195l4 2M87 209l4 2" stroke="#000080"/><path d="M7 29l4 2M12 30l4 2M75 82l4 2M79 80l4 2M111 89l4 2M93 108l4 2M97 111l4 2M97 112l4 2M96 118l4 2M113 79l4 2" stroke="#ff1d00"/><path d="M64 62l4 2M13 78l4 2M8 82l4 2M12 89l4 2M18 99l4 2M88 178l4 2M90 184l4 2M76 189l4 2M77 190l4 2M91 200l4 2M92 204l4 2M107 204l4 2M53 205l4 2M79 206l4 2M61 208l4 2M76 211l4 2M89 213l4 2" stroke="#0000b4"/><path d="M100 5l4 2M97 124l4 2M38 131l4 2" stroke="#c1ff3e"/><path d="M111 7l4 2M135 92l4 2M55 139l4 2M13 180l4 2M122 93l4 2M142 109l4 2M136 111l4 2M134 118l4 2" stroke="#8dff72"/><path d="M23 1l4 2M94 -1l4 2M181 -0l4 2M162 4l4 2M182 2l4 2M92 6l4 2M162 6l4 2M172 7l4 2M185 6l4 2M90 8l4 2M172 9l4 2M54 11l4 2M118 10l4 2M169 11l4 2M174 12l4 2M188 12l4 2M83 13l4 2M60 18l4 2M178 15l4 2M186 15l4 2M115 20l4 2M40 21l4 2M49 21l4 2M118 22l4 2M30 29l4 2M29 30l4 2M7 39l4 2M16 58l4 2M92 59l4 2M132 65l4 2M136 86l4 2M47 117l4 2M69 132l4 2M120 131l4 2M112 136l4 2M3 144l4 2M47 144l4 2M1 147l4 2M8 147l4 2M30 148l4 2M17 157l4 2M40 162l4 2M40 162l4 2M41 162l4 2M27 176l4 2M12 192l4 2" stroke="#00efff"/><path d="M103 17l4 2M25 20l4 2M78 107l4 2M64 126l4 2M36 137l4 2M44 140l4 2M78 87l4 2M83 91l4 2M117 95l4 2M125 99l4 2M128 99l4 2M138 102l4 2M128 111l4 2M121 122l4 2M124 122l4 2M134 121l4 2" stroke="#f5ff0a"/><path d="M146 10l4 2M105 12l4 2M149 12l4 2M49 19l4 2M65 23l4 2M127 23l4 2M155 28l4 2M154 30l4 2M123 36l4 2M160 35l4 2M166 38l4 2M48 42l4 2M124 40l4 2M100 44l4 2M113 44l4 2M126 43l4 2M137 42l4 2M139 47l4 2M35 49l4 2M36 51l4 2M139 53l4 2M35 55l4 2M43 53l4 2M126 53l4 2M143 56l4 2M146 57l4 2M101 58l4 2M-1 62l4 2M162 72l4 2M56 83l4 2M9 120l4 2M1 121l4 2M63 136l4 2M95 140l4 2M127 142l4 2M16 147l4 2M90 146l4 2M67 153l4 2M115 174l4 2M39 176l4 2M43 182l4 2M28 194l4 2" stroke="#006cff"/><path d="M57 0l4 2M72 107l4 2M101 125l4 2M98 83l4 2M99 98l4 2M133 111l4 2" stroke="#ff6c00"/><path d="M49 14l4 2M19 42l4 2M83 98l4 2M67 123l4 2M89 119l4 2M119 95l4 2M115 115l4 2" stroke="#dbff24"/><path d="M106 107l4 2M14 149l4 2" stroke="#ffd500"/><path d="M127 -1l4 2M2 4l4 2M133 9l4 2M136 9l4 2M146 14l4 2M88 26l4 2M85 29l4 2M133 29l4 2M141 32l4 2M136 34l4 2M154 36l4 2M159 37l4 2M166 44l4 2M118 46l4 2M120 47l4 2M125 46l4 2M144 45l4 2M162 45l4 2M101 49l4 2M148 50l4 2M84 55l4 2M148 56l4 2M75 59l4 2M34 62l4 2M29 65l4 2M41 64l4 2M148 66l4 2M157 69l4 2M2 117l4 2M105 143l4 2M135 141l4 2M64 146l4 2M108 146l4 2M125 147l4 2M133 146l4 2M75 149l4 2M88 151l4 2M104 148l4 2M133 148l4 2M110 155l4 2M51 157l4 2M110 160l4 2M113 160l4 2M110 162l4 2M57 169l4 2M51 171l4 2M54 170l4 2M42 185l4 2M20 208l4 2M24 209l4 2" stroke="#0052ff"/><path d="M44 6l4 2M106 20l4 2M21 35l4 2M3 54l4 2M156 95l4 2M43 123l4 2M26 166l4 2" stroke="#3effc1"/><path d="M76 108l4 2M32 129l4 2M6 23l4 2M97 80l4 2M101 98l4 2M98 106l4 2M89 112l4 2M101 114l4 2M93 118l4 2M137 96l4 2M120 107l4 2" stroke="#ff8600"/><path d="M49 126l4 2M37 135l4 2M-1 186l4 2M72 79l4 2M130 105l4 2" stroke="#dbff24"/><path d="M4 -0l4 2M9 1l4 2M89 28l4 2M73 39l4 2M69 39l4 2M58 47l4 2M57 57l4 2M71 65l4 2M120 68l4 2M29 70l4 2M37 71l4 2M46 73l4 2M35 101l4 2M26 132l4 2M77 148l4 2M75 155l4 2M101 162l4 2M96 165l4 2M114 176l4 2M118 180l4 2M35 193l4 2" stroke="#001dff"/><path d="M128 6l4 2M43 13l4 2M131 16l4 2M126 19l4 2M138 19l4 2M138 21l4 2M87 27l4 2M138 27l4 2M81 31l4 2M65 33l4 2M142 36l4 2M65 45l4 2M76 42l4 2M97 44l4 2M63 48l4 2M58 51l4 2M154 53l4 2M169 55l4 2M73 58l4 2M153 58l4 2M168 57l4 2M30 62l4 2M164 64l4 2M28 68l4 2M41 68l4 2M155 68l4 2M74 71l4 2M75 73l4 2M75 77l4 2M29 105l4 2M16 111l4 2M6 117l4 2M86 136l4 2M21 142l4 2M78 143l4 2M109 145l4 2M82 151l4 2M75 151l4 2M80 152l4 2M90 152l4 2M123 156l4 2M100 163l4 2M119 166l4 2M60 169l4 2M101 169l4 2M108 173l4 2M33 204l4 2" stroke="#0038ff"/><path d="M86 38l4 2M90 39l4 2M65 49l4 2M69 48l4 2M50 59l4 2M39 75l4 2M46 82l4 2M38 95l4 2M31 99l4 2M24 144l4 2M75 159l4 2M53 181l4 2M94 178l4 2M38 202l4 2M49 214l4 2" stroke="#0003ff"/><path d="M-0 90l4 2M2 97l4 2M11 99l4 2M4 102l4 2M86 180l4 2M73 196l4 2M62 204l4 2M79 205l4 2M92 206l4 2M73 211l4 2" stroke="#00009a"/><path d="M5 10l4 2M80 13l4 2M163 15l4 2M168 18l4 2M71 23l4 2M55 26l4 2M45 28l4 2M174 27l4 2M-1 59l4 2M127 61l4 2M108 62l4 2M116 66l4 2M139 72l4 2M67 81l4 2M18 119l4 2M24 123l4 2M112 123l4 2M15 124l4 2M80 134l4 2M113 140l4 2M34 148l4 2M41 146l4 2M53 157l4 2M32 160l4 2M29 166l4 2M31 179l4 2M30 185l4 2M15 203l4 2M20 203l4 2" stroke="#00baff"/><path d="M37 1l4 2M106 69l4 2M135 90l4 2M49 107l4 2M93 123l4 2M8 176l4 2M16 181l4 2" stroke="#c1ff3e"/><path d="M107 7l4 2M3 22l4 2M109 22l4 2M48 104l4 2M31 128l4 2M30 130l4 2M1 200l4 2M112 100l4 2M144 106l4 2" stroke="#a7ff58"/><path d="M24 21l4 2" stroke="#ffba00"/><path d="M47 9l4 2M76 39l4 2M71 50l4 2M59 57l4 2M72 62l4 2M48 71l4 2M1 73l4 2M37 74l4 2M29 78l4 2M45 79l4 2M36 96l4 2M26 102l4 2M81 158l4 2M93 164l4 2M68 169l4 2M95 172l4 2M51 176l4 2M77 177l4 2M51 179l4 2M35 195l4 2M42 195l4 2M108 210l4 2M104 212l4 2" stroke="#0003ff"/><path d="M10 96l4 2" stroke="#000080"/><path d="M21 24l4 2M150 101l4 2M35 132l4 2M142 99l4 2M121 103l4 2M112 120l4 2" stroke="#ffef00"/><path d="M-0 -0l4 2M11 2l4 2M129 2l4 2M149 17l4 2M132 18l4 2M145 28l4 2M70 37l4 2M93 36l4 2M95 37l4 2M40 41l4 2M144 41l4 2M148 39l4 2M54 48l4 2M70 51l4 2M81 52l4 2M48 55l4 2M157 58l4 2M160 57l4 2M45 60l4 2M163 61l4 2M23 69l4 2M164 67l4 2M165 67l4 2M70 77l4 2M40 104l4 2M26 106l4 2M63 142l4 2M89 141l4 2M74 145l4 2M80 146l4 2M111 150l4 2M85 154l4 2M71 159l4 2M107 161l4 2M127 162l4 2M119 164l4 2M122 164l4 2M120 168l4 2M112 174l4 2M42 179l4 2M32 214l4 2" stroke="#0038ff"/><path d="M111 89l4 2M85 94l4 2M96 95l4 2M110 95l4 2M103 100l4 2" stroke="#e80000"/><path d="M105 118l4 2M35 126l4 2M55 132l4 2M81 83l4 2M117 110l4 2" stroke="#dbff24"/><path d="M1 101l4 2M82 204l4 2M88 203l4 2M86 206l4 2" stroke="#000080"/><path d="M0 25l4 2M132 92l4 2" stroke="#ffd500"/><path d="M2 26l4 2M9 30l4 2M15 29l4 2M14 33l4 2M104 84l4 2M95 90l4 2M86 96l4 2M95 111l4 2M85 116l4 2M76 121l4 2M92 121l4 2" stroke="#ff1d00"/><path d="M109 110l4 2M74 124l4 2M18 181l4 2" stroke="#ffd500"/><path d="M61 66l4 2M6 77l4 2M20 75l4 2M45 75l4 2M36 80l4 2M30 82l4 2M13 102l4 2M8 102l4 2M8 104l4 2M78 169l4 2M72 178l4 2M80 180l4 2M114 183l4 2M95 186l4 2M110 186l4 2M98 188l4 2M55 190l4 2M63 189l4 2M53 192l4 2M63 195l4 2M108 196l4 2M62 199l4 2M95 200l4 2M50 201l4 2M106 201l4 2M44 205l4 2M50 205l4 2M56 204l4 2M65 208l4 2M59 212l4 2M98 212l4 2M64 215l4 2M92 218l4 2M106 216l4 2M108 216l4 2" stroke="#0000ce"/><path d="M122 84l4 2" stroke="#ff5200"/><path d="M155 -1l4 2M150 3l4 2M21 5l4 2M116 8l4 2M68 21l4 2M50 29l4 2M29 47l4 2M122 50l4 2M136 48l4 2M26 53l4 2M90 54l4 2M119 62l4 2M10 64l4 2M144 70l4 2M158 77l4 2M156 78l4 2M145 82l4 2M148 80l4 2M155 81l4 2M18 113l4 2M24 136l4 2M66 135l4 2M114 142l4 2M49 149l4 2M6 167l4 2M59 166l4 2M24 180l4 2M5 181l4 2M33 184l4 2M37 186l4 2" stroke="#00a0ff"/><path d="M54 70l4 2M56 70l4 2M63 71l4 2M0 75l4 2M68 77l4 2M11 80l4 2M26 80l4 2M40 78l4 2M50 78l4 2M12 81l4 2M37 82l4 2M39 83l4 2M17 87l4 2M43 87l4 2M24 90l4 2M26 93l4 2M23 97l4 2M19 102l4 2M77 165l4 2M78 170l4 2M83 168l4 2M87 170l4 2M66 176l4 2M82 180l4 2M83 184l4 2M73 186l4 2M101 186l4 2M117 184l4 2M53 190l4 2M61 193l4 2M63 194l4 2M105 194l4 2M107 197l4 2M111 196l4 2M109 199l4 2M63 201l4 2M94 201l4 2M102 202l4 2M67 203l4 2M96 205l4 2M101 203l4 2M41 206l4 2M108 206l4 2M69 210l4 2M45 215l4 2M101 216l4 2M51 219l4 2M76 218l4 2" stroke="#0000ce"/><path d="M1 78l4 2M11 81l4 2M30 90l4 2M2 93l4 2M76 189l4 2M99 190l4 2M92 194l4 2M66 196l4 2M59 201l4 2M69 202l4 2M55 206l4 2M61 207l4 2M80 210l4 2M96 211l4 2M95 211l4 2M78 215l4 2" stroke="#0000b4"/><path d="M52 4l4 2M108 113l4 2M51 124l4 2M91 113l4 2M121 117l4 2M66 94l4 2" stroke="#ffef00"/><path d="M73 120l4 2" stroke="#ff3800"/><path d="M46 7l4 2M68 61l4 2M60 65l4 2M62 72l4 2M5 78l4 2M44 81l4 2M21 84l4 2M32 89l4 2M36 90l4 2M16 96l4 2M12 104l4 2M13 105l4 2M12 108l4 2M78 171l4 2M61 175l4 2M86 175l4 2M72 180l4 2M75 181l4 2M75 181l4 2M86 184l4 2M62 187l4 2M103 189l4 2M101 190l4 2M91 192l4 2M97 192l4 2M92 197l4 2M53 202l4 2M56 202l4 2M114 204l4 2M57 206l4 2M56 209l4 2M45 212l4 2M63 211l4 2M66 211l4 2M68 214l4 2M59 214l4 2M74 216l4 2M98 219l4 2" stroke="#0000ce"/><path d="M19 0l4 2M45 0l4 2M62 1l4 2M-1 19l4 2M164 20l4 2M60 21l4 2M84 23l4 2M121 23l4 2M76 26l4 2M120 27l4 2M34 34l4 2M32 39l4 2M34 46l4 2M29 48l4 2M114 50l4 2M127 57l4 2M10 58l4 2M130 58l4 2M136 60l4 2M109 65l4 2M158 80l4 2M151 88l4 2M47 97l4 2M43 99l4 2M33 109l4 2M11 123l4 2M3 129l4 2M13 129l4 2M98 131l4 2M4 135l4 2M63 132l4 2M73 133l4 2M5 147l4 2M36 152l4 2M55 166l4 2M42 168l4 2M-1 172l4 2M34 183l4 2M11 209l4 2" stroke="#00baff"/><path d="M111 101l4 2" stroke="#e80000"/><path d="M22 9l4 2M13 11l4 2M67 11l4 2M52 17l4 2M91 15l4 2M83 19l4 2M99 23l4 2M34 30l4 2M139 82l4 2M135 86l4 2M55 92l4 2M35 115l4 2M22 138l4 2M27 157l4 2" stroke="#0afff5"/><path d="M129 81l4 2M3 170l4 2M-1 174l4 2M139 97l4 2M126 105l4 2M133 104l4 2M136 105l4 2M112 109l4 2M127 107l4 2M122 111l4 2M125 113l4 2M138 114l4 2M117 120l4 2M137 123l4 2" stroke="#f5ff0a"/><path d="M62 60l4 2M62 68l4 2M61 76l4 2M7 78l4 2M27 83l4 2M31 84l4 2M7 99l4 2M22 102l4 2M7 106l4 2M16 105l4 2M19 105l4 2M85 168l4 2M72 184l4 2M103 189l4 2M57 194l4 2M60 195l4 2M51 204l4 2M58 205l4 2M111 205l4 2M74 207l4 2M44 211l4 2M51 213l4 2M84 213l4 2M107 211l4 2M86 216l4 2M58 218l4 2M85 218l4 2" stroke="#0000ce"/><path d="M85 203l4 2" stroke="#000080"/><path d="M137 -1l4 2M128 15l4 2M140 16l4 2M136 20l4 2M145 24l4 2M139 28l4 2M89 31l4 2M130 32l4 2M65 35l4 2M141 37l4 2M63 41l4 2M165 44l4 2M68 45l4 2M92 47l4 2M94 45l4 2M95 48l4 2M151 49l4 2M52 54l4 2M81 54l4 2M166 54l4 2M38 60l4 2M157 61l4 2M165 64l4 2M6 66l4 2M35 68l4 2M62 80l4 2M60 81l4 2M37 107l4 2M4 112l4 2M90 138l4 2M93 142l4 2M135 148l4 2M65 151l4 2M100 149l4 2M130 150l4 2M108 153l4 2M115 153l4 2M98 156l4 2M63 169l4 2M109 168l4 2M107 170l4 2M100 175l4 2M44 178l4 2M116 178l4 2M122 178l4 2M15 190l4 2M41 190l4 2M24 212l4 2M29 212l4 2" stroke="#0038ff"/><path d="M96 -0l4 2M193 1l4 2M182 7l4 2M93 12l4 2M181 12l4 2M92 14l4 2M169 14l4 2M178 12l4 2M184 15l4 2M43 15l4 2M175 18l4 2M172 20l4 2M27 35l4 2M29 38l4 2M112 50l4 2M9 55l4 2M23 55l4 2M7 58l4 2M105 62l4 2M125 63l4 2M137 64l4 2M140 72l4 2M49 97l4 2M34 111l4 2M37 111l4 2M20 117l4 2M35 121l4 2M25 127l4 2M28 127l4 2M91 126l4 2M117 129l4 2M25 130l4 2M115 129l4 2M119 136l4 2M56 144l4 2M45 148l4 2M46 153l4 2M51 155l4 2M37 160l4 2M45 162l4 2M52 166l4 2M61 166l4 2M22 176l4 2M17 185l4 2M25 189l4 2M19 194l4 2" stroke="#00d4ff"/><path d="M112 3l4 2M100 15l4 2M80 103l4 2" stroke="#c1ff3e"/><path d="M25 32l4 2M113 85l4 2M130 89l4 2M81 100l4 2M47 135l4 2" stroke="#ffba00"/><path d="M41 3l4 2M3 28l4 2M44 133l4 2M8 187l4 2M81 115l4 2M133 95l4 2" stroke="#ffa000"/><path d="M68 63l4 2M54 67l4 2M40 82l4 2M30 88l4 2M40 88l4 2M23 102l4 2M-1 107l4 2M76 161l4 2M91 172l4 2M51 177l4 2M75 177l4 2M90 177l4 2M63 182l4 2M67 181l4 2M70 182l4 2M96 183l4 2M108 189l4 2M116 193l4 2M38 197l4 2M70 195l4 2M43 198l4 2M51 199l4 2M112 198l4 2M39 204l4 2M101 211l4 2M55 212l4 2M41 215l4 2M54 217l4 2" stroke="#0000e8"/><path d="M103 67l4 2M20 128l4 2M4 202l4 2" stroke="#24ffdb"/><path d="M72 81l4 2M93 95l4 2M81 119l4 2M102 120l4 2" stroke="#e80000"/><path d="M67 -0l4 2M146 16l4 2M137 29l4 2M145 29l4 2M81 32l4 2M148 31l4 2M79 35l4 2M89 34l4 2M143 37l4 2M149 39l4 2M160 41l4 2M66 43l4 2M50 46l4 2M131 49l4 2M79 52l4 2M148 54l4 2M154 53l4 2M164 55l4 2M166 56l4 2M159 60l4 2M161 66l4 2M15 67l4 2M157 68l4 2M42 70l4 2M50 84l4 2M25 108l4 2M2 112l4 2M10 112l4 2M77 138l4 2M85 138l4 2M67 148l4 2M72 147l4 2M86 151l4 2M78 151l4 2M101 151l4 2M104 151l4 2M129 159l4 2M72 159l4 2M73 159l4 2M101 167l4 2M114 164l4 2M106 170l4 2M112 168l4 2M104 172l4 2M125 170l4 2M122 173l4 2M103 176l4 2M46 180l4 2M26 212l4 2" stroke="#0038ff"/><path d="M79 93l4 2M94 87l4 2" stroke="#ff5200"/><path d="M116 7l4 2M74 16l4 2M113 20l4 2M148 18l4 2M142 22l4 2M92 31l4 2M82 34l4 2M67 38l4 2M66 47l4 2M77 51l4 2M7 68l4 2M25 69l4 2M44 67l4 2M13 69l4 2M17 70l4 2M58 79l4 2M72 153l4 2M94 153l4 2M125 151l4 2M73 154l4 2M86 154l4 2M114 156l4 2M93 156l4 2M48 175l4 2M120 180l4 2" stroke="#001dff"/><path d="M9 18l4 2M33 22l4 2M18 34l4 2M125 76l4 2M80 98l4 2M48 113l4 2M36 141l4 2M16 178l4 2M0 187l4 2" stroke="#a7ff58"/><path d="M51 1l4 2M33 25l4 2M36 23l4 2M42 23l4 2M110 25l4 2M148 106l4 2M43 121l4 2M110 124l4 2M16 127l4 2M55 145l4 2M1 208l4 2" stroke="#0afff5"/><path d="M28 13l4 2M3 38l4 2M14 38l4 2M24 165l4 2" stroke="#58ffa7"/><path d="M70 121l4 2M74 118l4 2" stroke="#e80000"/><path d="M80 107l4 2M89 107l4 2M88 97l4 2M109 96l4 2M102 105l4 2M94 109l4 2" stroke="#ffa000"/><path d="M69 118l4 2M82 124l4 2" stroke="#b40000"/><path d="M107 85l4 2" stroke="#ff3800"/><path d="M10 -1l4 2M143 4l4 2M28 16l4 2M123 17l4 2M157 15l4 2M153 23l4 2M64 25l4 2M130 23l4 2M52 28l4 2M154 27l4 2M61 30l4 2M95 32l4 2M152 33l4 2M163 34l4 2M136 40l4 2M12 48l4 2M124 48l4 2M145 50l4 2M53 50l4 2M133 51l4 2M145 53l4 2M101 58l4 2M20 64l4 2M24 64l4 2M152 69l4 2M57 83l4 2M11 118l4 2M-1 119l4 2M71 134l4 2M33 167l4 2M38 172l4 2M25 208l4 2" stroke="#006cff"/><path d="M54 138l4 2M52 145l4 2M16 160l4 2M22 163l4 2M118 104l4 2M131 113l4 2M114 119l4 2" stroke="#8dff72"/><path d="M126 82l4 2M61 117l4 2M71 121l4 2M5 32l4 2" stroke="#ff3800"/><path d="M9 1l4 2M71 41l4 2M86 40l4 2M66 56l4 2M49 61l4 2M53 61l4 2M71 63l4 2M8 72l4 2M32 72l4 2M50 74l4 2M29 103l4 2M97 160l4 2M74 168l4 2M72 172l4 2M91 174l4 2M111 177l4 2M61 180l4 2M68 180l4 2M48 188l4 2M45 190l4 2M53 210l4 2" stroke="#0003ff"/><path d="M62 10l4 2M130 8l4 2M21 10l4 2M129 10l4 2M127 12l4 2M135 12l4 2M143 12l4 2M141 18l4 2M134 22l4 2M148 23l4 2M66 36l4 2M151 36l4 2M162 39l4 2M129 50l4 2M51 51l4 2M99 54l4 2M38 63l4 2M0 118l4 2M80 136l4 2M89 136l4 2M132 138l4 2M80 141l4 2M82 141l4 2M98 142l4 2M106 145l4 2M130 148l4 2M108 150l4 2M115 151l4 2M3 154l4 2M111 158l4 2M103 167l4 2M111 167l4 2M116 169l4 2M33 191l4 2M25 205l4 2M20 208l4 2" stroke="#0052ff"/><path d="M129 -1l4 2M126 10l4 2M141 10l4 2M124 11l4 2M131 12l4 2M137 25l4 2M83 26l4 2M149 27l4 2M56 30l4 2M52 41l4 2M131 39l4 2M59 43l4 2M42 47l4 2M46 45l4 2M97 45l4 2M147 47l4 2M170 45l4 2M82 50l4 2M105 50l4 2M159 49l4 2M164 49l4 2M171 48l4 2M148 50l4 2M170 52l4 2M158 54l4 2M162 53l4 2M44 57l4 2M46 56l4 2M85 56l4 2M154 57l4 2M147 61l4 2M153 61l4 2M77 63l4 2M150 64l4 2M27 66l4 2M70 137l4 2M96 144l4 2M99 146l4 2M119 147l4 2M102 148l4 2M97 152l4 2M101 157l4 2M107 156l4 2M120 160l4 2M64 165l4 2M107 166l4 2M115 166l4 2M41 184l4 2M32 199l4 2" stroke="#0052ff"/><path d="M84 105l4 2M64 122l4 2M49 136l4 2M0 156l4 2M80 92l4 2M92 98l4 2M105 110l4 2M100 117l4 2" stroke="#ffa000"/><path d="M9 26l4 2M15 35l4 2M97 79l4 2M100 84l4 2M102 86l4 2M102 85l4 2M96 89l4 2M110 103l4 2M104 113l4 2M96 115l4 2M115 82l4 2" stroke="#ff1d00"/><path d="M79 8l4 2M77 24l4 2M116 26l4 2M39 26l4 2M25 36l4 2M17 50l4 2M6 56l4 2M40 128l4 2M61 131l4 2M46 146l4 2M53 155l4 2M44 160l4 2M105 104l4 2" stroke="#0afff5"/><path d="M111 7l4 2M10 50l4 2M59 127l4 2M42 131l4 2M-0 161l4 2M51 159l4 2M13 169l4 2M8 171l4 2M-1 188l4 2" stroke="#72ff8d"/><path d="M38 137l4 2" stroke="#ff5200"/><path d="M84 195l4 2M89 197l4 2" stroke="#000080"/><path d="M45 -2l4 2M97 2l4 2M80 5l4 2M81 8l4 2M15 13l4 2M24 13l4 2M181 19l4 2M39 26l4 2M22 42l4 2M15 48l4 2M89 61l4 2M63 85l4 2M43 111l4 2M44 124l4 2M138 124l4 2M119 127l4 2M10 146l4 2M-1 160l4 2M23 188l4 2M103 80l4 2" stroke="#0afff5"/><path d="M63 120l4 2M52 128l4 2M49 129l4 2" stroke="#ff5200"/><path d="M100 5l4 2M25 29l4 2M133 88l4 2M139 91l4 2M79 96l4 2M61 125l4 2M89 124l4 2M121 105l4 2M127 115l4 2" stroke="#c1ff3e"/><path d="M4 94l4 2M16 101l4 2M87 185l4 2M84 199l4 2" stroke="#00009a"/><path d="M3 47l4 2M107 68l4 2M105 116l4 2M57 129l4 2M59 133l4 2M16 155l4 2M20 161l4 2M47 162l4 2M25 175l4 2M3 176l4 2M18 176l4 2M119 97l4 2M126 99l4 2" stroke="#72ff8d"/><path d="M68 121l4 2" stroke="#b40000"/><path d="M121 86l4 2M90 105l4 2M12 149l4 2M71 83l4 2M105 92l4 2M103 101l4 2" stroke="#ff8600"/><path d="M126 74l4 2M132 85l4 2M149 103l4 2M69 127l4 2M23 156l4 2M85 88l4 2M79 115l4 2M73 119l4 2M122 97l4 2M123 99l4 2M112 120l4 2" stroke="#dbff24"/><path d="M112 23l4 2M-0 38l4 2M86 78l4 2M131 81l4 2M148 102l4 2M55 119l4 2M122 124l4 2M31 135l4 2" stroke="#c1ff3e"/><path d="M120 86l4 2M76 85l4 2M72 89l4 2M88 98l4 2M106 99l4 2M92 117l4 2M86 118l4 2M103 121l4 2M122 95l4 2M134 101l4 2M129 102l4 2M141 107l4 2M135 120l4 2M139 122l4 2" stroke="#ff8600"/><path d="M113 91l4 2M78 111l4 2" stroke="#ff3800"/><path d="M48 12l4 2M79 21l4 2M18 27l4 2M14 40l4 2M92 124l4 2M4 164l4 2M5 166l4 2M5 169l4 2M98 87l4 2" stroke="#3effc1"/><path d="M5 158l4 2M12 184l4 2M91 121l4 2M140 96l4 2M136 116l4 2M140 117l4 2M119 121l4 2" stroke="#f5ff0a"/><path d="M116 3l4 2M80 17l4 2M0 34l4 2M51 120l4 2M15 163l4 2M137 107l4 2M144 111l4 2M132 114l4 2M118 115l4 2" stroke="#8dff72"/><path d="M105 2l4 2M84 76l4 2M134 79l4 2M43 117l4 2M50 143l4 2M-0 181l4 2M4 187l4 2M22 190l4 2M70 85l4 2" stroke="#24ffdb"/><path d="M0 40l4 2M47 126l4 2M41 133l4 2M25 142l4 2M0 196l4 2M123 120l4 2" stroke="#a7ff58"/><path d="M123 3l4 2M146 4l4 2M124 14l4 2M70 26l4 2M72 26l4 2M73 31l4 2M144 32l4 2M155 34l4 2M50 37l4 2M57 39l4 2M127 38l4 2M135 39l4 2M135 44l4 2M101 47l4 2M174 47l4 2M-1 53l4 2M42 53l4 2M45 53l4 2M93 52l4 2M125 52l4 2M124 53l4 2M144 57l4 2M146 67l4 2M151 68l4 2M27 109l4 2M9 118l4 2M81 128l4 2M97 140l4 2M102 142l4 2M123 145l4 2M60 148l4 2M86 148l4 2M39 179l4 2M40 181l4 2M31 191l4 2M17 207l4 2" stroke="#006cff"/><path d="M103 20l4 2M129 91l4 2M107 111l4 2M54 130l4 2M14 187l4 2M99 119l4 2M143 99l4 2M142 120l4 2" stroke="#ffef00"/><path d="M48 -1l4 2M108 6l4 2M97 13l4 2M18 128l4 2M31 137l4 2M14 158l4 2M13 163l4 2" stroke="#3effc1"/><path d="M-1 191l4 2" stroke="#b40000"/><path d="M100 126l4 2M15 167l4 2M144 96l4 2M124 110l4 2M139 120l4 2" stroke="#a7ff58"/><path d="M12 6l4 2M53 8l4 2M120 8l4 2M122 20l4 2M167 29l4 2M55 31l4 2M41 34l4 2M46 38l4 2M176 38l4 2M110 42l4 2M110 45l4 2M132 46l4 2M118 48l4 2M103 56l4 2M99 58l4 2M22 60l4 2M17 64l4 2M144 63l4 2M155 73l4 2M149 75l4 2M53 88l4 2M25 110l4 2M15 118l4 2M23 116l4 2M6 123l4 2M8 128l4 2M93 127l4 2M122 127l4 2M62 153l4 2M31 188l4 2" stroke="#0086ff"/><path d="M12 50l4 2M45 120l4 2M63 127l4 2M34 144l4 2M11 182l4 2M21 181l4 2M111 111l4 2M118 113l4 2M142 116l4 2" stroke="#a7ff58"/><path d="M6 7l4 2M15 6l4 2M150 7l4 2M122 23l4 2M167 30l4 2M175 29l4 2M126 32l4 2M169 40l4 2M115 44l4 2M118 50l4 2M144 53l4 2M139 56l4 2M13 62l4 2M146 83l4 2M156 87l4 2M52 99l4 2M26 111l4 2M12 115l4 2M95 134l4 2M100 139l4 2M30 140l4 2M111 141l4 2M62 146l4 2M118 143l4 2M63 146l4 2M57 149l4 2M55 158l4 2M66 157l4 2M25 197l4 2M23 199l4 2M27 200l4 2" stroke="#0086ff"/><path d="M124 -0l4 2M124 5l4 2M140 10l4 2M145 12l4 2M23 12l4 2M134 14l4 2M151 14l4 2M138 17l4 2M133 25l4 2M141 26l4 2M131 28l4 2M66 30l4 2M94 31l4 2M150 31l4 2M77 34l4 2M134 33l4 2M137 32l4 2M110 37l4 2M112 37l4 2M125 38l4 2M137 38l4 2M57 41l4 2M98 42l4 2M151 41l4 2M60 44l4 2M118 44l4 2M131 44l4 2M145 44l4 2M156 42l4 2M123 47l4 2M164 47l4 2M37 50l4 2M50 48l4 2M171 51l4 2M39 55l4 2M49 57l4 2M150 58l4 2M2 64l4 2M155 75l4 2M47 90l4 2M46 93l4 2M2 115l4 2M9 113l4 2M39 120l4 2M81 140l4 2M76 142l4 2M40 144l4 2M102 147l4 2M123 146l4 2M122 153l4 2M107 155l4 2M118 156l4 2M69 158l4 2M124 157l4 2M117 168l4 2M118 173l4 2M34 189l4 2" stroke="#0052ff"/><path d="M44 -1l4 2M78 -1l4 2M88 -0l4 2M86 5l4 2M168 7l4 2M164 7l4 2M168 8l4 2M75 10l4 2M84 10l4 2M71 15l4 2M84 15l4 2M96 14l4 2M171 14l4 2M187 15l4 2M40 15l4 2M45 18l4 2M29 22l4 2M43 21l4 2M20 48l4 2M24 48l4 2M60 86l4 2M140 86l4 2M31 115l4 2M46 116l4 2M31 126l4 2M129 129l4 2M105 129l4 2M111 130l4 2M124 134l4 2M-1 142l4 2M9 149l4 2M32 163l4 2M22 189l4 2M11 199l4 2" stroke="#00efff"/><path d="M69 33l4 2M86 36l4 2M142 42l4 2M51 45l4 2M89 44l4 2M92 44l4 2M85 47l4 2M77 50l4 2M58 55l4 2M79 54l4 2M41 60l4 2M73 60l4 2M20 69l4 2M32 101l4 2M3 107l4 2M124 150l4 2M128 153l4 2M104 163l4 2M106 164l4 2M124 163l4 2M94 166l4 2M94 169l4 2M46 178l4 2M107 179l4 2M30 208l4 2M33 208l4 2M35 208l4 2" stroke="#001dff"/><path d="M135 2l4 2M71 39l4 2M95 39l4 2M95 42l4 2M55 48l4 2M62 53l4 2M61 53l4 2M74 56l4 2M44 65l4 2M0 67l4 2M10 69l4 2M56 77l4 2M44 91l4 2M40 96l4 2M76 138l4 2M70 151l4 2M96 150l4 2M87 152l4 2M89 154l4 2M115 157l4 2M104 160l4 2M57 171l4 2M96 177l4 2M46 181l4 2M100 179l4 2M33 196l4 2" stroke="#001dff"/><path d="M112 -1l4 2M94 3l4 2M130 86l4 2M125 126l4 2M45 141l4 2M10 181l4 2M111 93l4 2M133 97l4 2" stroke="#8dff72"/><path d="M169 0l4 2M85 4l4 2M119 1l4 2M159 3l4 2M61 5l4 2M87 7l4 2M19 10l4 2M60 15l4 2M117 16l4 2M39 20l4 2M47 25l4 2M96 23l4 2M11 52l4 2M11 57l4 2M89 59l4 2M29 116l4 2M106 128l4 2M117 131l4 2M122 129l4 2M7 144l4 2M26 148l4 2M27 153l4 2M34 151l4 2M48 152l4 2M44 158l4 2M28 162l4 2M55 165l4 2M11 177l4 2M8 200l4 2M11 200l4 2" stroke="#00efff"/><path d="M-0 46l4 2M111 85l4 2M54 123l4 2M6 36l4 2M78 109l4 2M73 114l4 2M82 112l4 2M116 110l4 2M130 119l4 2" stroke="#ff8600"/><path d="M148 4l4 2M42 7l4 2M65 7l4 2M100 7l4 2M153 20l4 2M155 22l4 2M125 27l4 2M173 28l4 2M52 30l4 2M158 29l4 2M120 33l4 2M169 34l4 2M174 36l4 2M113 40l4 2M171 39l4 2M83 58l4 2M10 62l4 2M150 76l4 2M22 115l4 2M15 120l4 2M2 123l4 2M2 125l4 2M38 125l4 2M82 134l4 2M95 139l4 2M44 145l4 2M136 144l4 2M37 177l4 2" stroke="#0086ff"/></g></g>
<path d="M806.7,571.8 809.7,570.8 814.2,570.3 817.7,573.8 816.7,577.8 818.2,580.8 814.7,584.8 813.2,589.8 814.2,593.8 812.7,596.3 816.2,604.3 812.2,604.3 807.7,607.3 803.2,610.8 802.2,608.3 805.7,603.8 804.7,600.8 808.2,598.8 806.7,595.8 808.7,593.3 807.2,589.3 808.7,586.8 806.2,585.3 809.2,582.3 806.7,577.8 808.2,575.3ZM826.2,555.3 830.7,551.3 837.7,549.8 844.7,549 850.7,548.8 851.2,552.8 845.7,554.8 838.7,557.3 831.7,559.3 826.7,559.8ZM617,486.2 619.2,486.2 619.2,630 617,630ZM849.6,505.3 851.6,505.3 851.6,553.3 849.6,553.3ZM723.2,640.3 726.7,639.8 729.2,642.3 729.7,646.3 727.2,648.8 724.2,647.3 722.7,643.8Z" fill="#000" stroke="#000" stroke-width="1.2" stroke-linejoin="round" clip-path="url(#ax4)"/>
<path d="M796.1 615.1l-2.1 -1.9M793.8 617.7l1.2 1.1M793.6 617.9l-0.9 -0.8M792.0 619.6l0.7 0.9M790.2 621.2l-2.4 -2.8M788.8 622.3l-2.5 -2.9M786.9 624.0l1.5 1.7M785.6 625.2l-0.8 -0.9M784.3 626.3l-2.5 -3.2M782.7 627.5l-0.8 -1.0M781.3 629.3l-3.1 -1.2M780.4 631.8l-3.7 -1.4M779.7 633.8l-2.8 -0.9M778.9 636.1l-1.4 -0.5M778.6 637.3l1.1 0.4M814.9 604.4l-1.4 -2.8M813.3 605.1l1.0 2.0M811.8 606.1l1.0 1.4M810.1 607.3l-1.3 -1.8M807.3 608.6l0.6 2.4M806.0 608.9l-0.8 -3.2M804.3 610.3l1.7 1.7M804.1 610.4l1.3 1.4M802.0 612.6l-2.1 -2.1M801.6 612.9l1.1 1.1M798.5 614.4l-0.3 -1.4M797.6 614.6l-0.3 -1.6M760.8 643.1l0.7 2.3M762.3 642.7l-2.0 2.3M764.0 644.2l1.2 -1.3M765.7 646.4l2.1 -1.3M766.1 647.0l-1.1 0.7M766.9 648.4l-2.6 1.6M769.2 651.0l-2.5 3.3M770.2 651.7l-1.0 1.3M777.7 672.7l1.5 -1.7M776.1 671.4l2.6 -2.9M775.7 670.5l3.5 -1.5M774.5 667.8l-1.6 0.7M704.2 645.2l0.7 -2.4M706.7 645.9l0.5 -1.8M708.8 646.4l-0.2 2.1M711.2 646.6l-0.3 2.8M713.6 647.4l-1.8 3.8M714.0 647.6l0.8 -1.6M716.1 648.6l-1.1 2.9M718.6 649.6l-1.2 3.0M720.8 649.9l-0.0 2.0M721.5 649.9l0.0 -0.8M723.4 649.9l-0.6 -1.3M725.7 648.9l1.2 2.7M812.1 591.0l0.7 -1.6M810.3 588.7l2.0 -0.3M810.2 588.2l-2.2 0.3M810.0 585.1l-1.0 -0.1M810.1 584.0l3.6 0.3M810.1 581.8l-1.9 0.4M809.4 579.0l1.5 -0.3M809.6 576.5l3.2 0.5M809.7 575.5l3.7 0.6M810.0 574.2l3.1 1.4M811.7 570.5l2.3 1.1" stroke="#000" stroke-width="1.5" stroke-linecap="round" clip-path="url(#ax4)"/>
<path d="M611.8,486.3 692.3,486.3M636.5,486.3 636.5,557.9M611.8,523.4 636.5,523.4M611.8,557.9 649.1,557.9M649.1,557.9 649.1,590.4M611.8,590.4 695.7,590.4M643.1,590.4 643.1,594.3 642.9,628.7 620.4,628.7 621,630.3 611.8,630.3M643.1,594.3 661.9,594.3 661.9,609.4M661.9,609.4 664.4,610.7 666.9,611 671.3,612.6 674.5,612.9 677.6,614.4 680.1,615.5 681.4,614 684.5,615.5 687.6,614.6 690.1,614.6 693.3,614.8 696.5,616.4 699.3,617.1 699.3,628.7M696.5,616.4 696.9,602.9 695.7,594.3 695.7,573.5 693.9,570.3 693.3,567.4 691.3,566.2M649.1,566.2 691.3,566.2M691.3,566.2 688.5,561.4 688,558.7 687,556.2 686.4,552.8 684.8,549.5 683.2,545.2 680.7,542.9 677.6,542.2 671.3,540.9 636.5,540.9M683.2,545.2 684.2,545.3 683.2,539.8 684.2,536.6 684.2,520.7 683.5,514.9 636.5,514.9M683.5,514.9 683.2,511.6 682,506.1 681.4,498.7 679.8,491.1 679.3,486.3M688.5,561.4 715.7,563M684.2,536.6 717,536.6M707.4,525.6 712.1,528.7 716.5,533.1 717,536.6 717.7,543.5 720.6,545.2 723.7,549.2 723.4,551.2 719,554.5 717.7,557 718.4,560.4 715.7,563 715.9,566.2 717.7,568.6 720.2,573.5 723.4,575.2 723.4,577.6 722.8,580.8 727.1,586.4 727.8,589.6 729.8,590.4 730.3,591.2 728.1,594.3 727.5,595.9 726.5,598.2 724.6,602.1 724,606 722.8,608.3 720.9,610.6 718.4,613.6 717.4,617.4 717.4,621.2 717.1,625 718.4,627.9 715.9,631.7 714.6,636.1M707.4,525.6 707.1,523.4 707.4,518 710.2,513.4 710.2,508.4 711.5,507.5M692.3,486.3 692.3,482.6 694.5,483.4 695.8,489.2 702.7,490.6 708.3,491.6 715.2,495.4 719.6,493.9 727.1,495.8 722.8,498.2 716.5,502.4 711.5,507.5M711.5,507.5 715.9,506.6 719,505.6 720.2,508.9 722.1,509.1 724,511.2 730.3,513.3 736.5,514.8 738.4,519.8 739.7,522.5M739.7,522.5 737.8,524.7 737.2,527.4 739.7,524.7 743.4,520.7 741.6,525.6 740.3,529.6 739.1,534.8 737.8,540.9 738.4,545.2 720.6,545.2M738.4,545.2 739.7,550.3 740.1,552 742.2,552.7 744.6,551.5 757.1,551.7 765.7,551.7M740.1,551.5 740.1,571.5 739.7,575.2 737.8,580 736.9,584M757.1,551.7 757.1,573.5M771,581.1 771,579.2 769.5,576.8 766.6,577.4 763.8,577.2 761,576 759.1,573.5 757.1,573.5 753.5,576.5 751.3,580.4 749.7,582.4 746.6,583.2 742.8,584.3 739.9,582.7 736.9,584 736.5,586.4 733.4,589.7 729.8,590.4M771,579.2 773.5,576 776.1,574.4 779.2,571.5 782,568.6 783.6,566.2 784.1,560.9 784.1,549.6M722.1,509.1 727.1,507 731.5,505.2 735.9,501 738.4,501.5 734.7,505.2 739.7,506.6 743.4,509.8 747.2,509.8 752.9,507.9 756,507.5 758.5,510.2 761.6,509.8 762.9,513.9 760.4,514.8 757.9,515.3 752.9,513.4 747.8,515.7 745.3,516.2 742.8,518 739.7,522.5M744.6,551.5 746.6,547.8 748.1,542.6 748.5,538.3 746.6,533.9 748.1,529.6 749.4,525.1 752.2,522.5 753.5,520.7 756,518 757.9,516.3 761,518 765.4,520.2 766.6,523.4 766.3,526.9 764.8,531.3 762.9,535.3 765.4,533.1 768.5,531.8 771,533.1 772,540.9 771.7,544.3 769.2,546.1 767.9,549 765.7,551.7M765.7,551.7 768.5,553.3 770.4,554.1 774.8,553.7 776.7,553.7 779.8,551.6 784.1,549.6 786.7,548.2 788.8,547.2 788.8,549.5 816.4,549.5M788.8,547.2 793.6,543.1 794.2,541.3 793.3,538.7 799.9,537.7 803,538.7 807.4,538.3 811.2,536.1 811.2,533.1 810.2,531.3 813.7,528.2 816.8,525.1 820.6,523.4 840.6,523.4 843.3,520.7 845,519.8 848.2,515.3 850,507.9 855.1,501M829,523.4 829,527.8 828.7,535.7 829.7,536.1 829.5,543.1 828.1,549 828.1,555.4 826.8,557 827.2,558.1M829.5,543.1 834.6,543.2 841.9,543.5 845,542M834.6,543.2 834.7,540.9 835.6,534.8 837.5,529.6 840.6,523.4M843.3,520.7 843.8,527.8 844.1,536.6 845.7,540M828.1,549 838.8,549.3 841.4,549.3 843,553.7M838.8,549.3 838.4,555.2M856.3,531.3 851.3,533.9 848.8,535.7 845.7,540 845,542 846.3,544.3 843.8,546.9 846.3,549.9 850,551.6 850,549 850.4,552 846.3,553.3 843,553.7 838.4,555.2 834.4,555.6 831.2,556.2 827.2,558.1 825.6,559.1M825.6,560.8 832.5,559.6 838.1,557.5 834.4,558.7 828.7,561.2 825.6,561.2M816.4,549.5 818.1,550.7 820.6,554.9 825.6,557.9 825,560.4M820.6,554.9 818.1,559.1 817.4,561.2 819,563.7 820.3,564.9 818.1,566.6 816.2,567.8 814.9,567.5 813.7,568.5 784.1,568.5 784.1,560.9M825,560.4 825,562.9 824.3,568.2 822.5,571.1 819.3,574.9 817.4,572.3 815.6,569.5 816.2,567.8M813.7,568.5 813.7,578.7 818.4,578.7M815.6,569.5 816.2,571.9 818.1,576 818.4,578.8 817.4,582.4 814.9,585.6 812.7,589.2M790.6,568.5 790.6,572.7 794.2,570.7 797.7,569.1 801.6,571.8 803,572.7 805.8,575.6 804.9,578.4 806.8,580.8 810.5,582.8M775,586.1 779.8,588.4 782.3,587.2 785.5,586.4 786.7,583.2 789.2,579.2 791.7,578.8 794.2,575.6 797.7,571.1 801.6,571.8M775,586.1 772.3,584 771,581.1M764.3,593.5 768.5,591.6 772.9,588 775,586.1M728.1,594.3 736.9,594.3 736.7,592.9 743.4,593.2 752.9,593.5 764.3,593.5 776.8,593.6 813.2,593.9M760.2,606 762.3,603.7 765.4,601.7 768.5,599.8 771,598.2 773.5,597.1 776.8,593.6M724,606 767.9,606M767.9,606 772.3,604.4 780.8,604.8 781.7,605.2 782.3,607.4 789.3,607.5 796.4,614.8M767.9,606 768.5,608.3 771,611.4 773.5,615.9 775.4,618.9 777.9,622 779.2,625 781.7,628.3M735.9,606 734.2,629.4 734.7,640.6M752.2,606 754.7,622.3 756,625 755.7,628.7 755.4,632.4 756,636.1 739.7,636.1 740.3,641.2M756,636.1 756.9,638.3 773.5,639.2 774.5,637.6 778.2,638.3M695.7,594.3 723.7,594.3 722.3,598.2 726.5,598.2M699.3,621.1 717.4,621.2M699.3,628.7 700.8,632.4 702.4,636.1 701.3,641.2 700.6,645.6M714.6,636.1 726.3,636.1 726.8,639 727.1,642M621,630.3 624.3,633.1 630.6,638.3 632.5,643.4 636.8,648.5 640.6,650.7 642.5,650.7 645,645.6 647.5,644.3 653.2,645.1 657.9,649.9 660,655.7 665.1,661.4 667.6,668.5 673.2,671.6 677.6,672.7 679.8,672.4 678.9,668.5 678.2,665 679.5,660 682,656.4 687,653.5 692.7,649.9 695.2,648.1 700.6,645.6 703.9,645.1 708.3,646.3 712.1,646.7 715.9,648.5 719.6,649.9 723.4,649.9 726.5,648.5 728.4,651 730.9,649.2 729,647 727.1,644.1 728.4,643 727.1,642 730.9,640.5 734.7,640.6 737.2,641.6 740.3,641.2 743.4,640.5 747.8,640.5 752.2,642.7 753.5,644.9 756,645.6 759.7,643.4 762.3,642.7 764.8,644.9 767.9,649.9 770.7,652.1 769.8,657.8 771,661.4 774.2,667.1 776.1,671.3 779.2,674.1 781.1,677.6 785.1,677.6 787.3,673.4 788.3,668.5 787.3,663.5 784.8,657.1 783.9,653.5 781.4,648.5 779.5,644.1 778.2,638.3 780.1,632.4 781.7,628.3 784.5,626.1 788,623.1 792.4,619.3 796.4,614.8 800.5,614 805.5,609.1 808.7,608.3 812.4,605.6 815.6,604.1 815.6,599.8 813.2,593.9 812.4,591.2 810.5,590.4M785.5,677.3 788,684.2" clip-path="url(#ax4)" fill="none" stroke="#000" stroke-width="2.6" stroke-linejoin="round" stroke-linecap="round"/>
<text x="567.5" y="501.9" class="s">48</text>
<ellipse cx="589.7" cy="488.8" rx="1.8" ry="1.35" class="dg"/>
<text x="597.3" y="501.9" class="s">N</text>
<text x="567.5" y="519.9" class="s">46</text>
<ellipse cx="589.7" cy="506.8" rx="1.8" ry="1.35" class="dg"/>
<text x="597.3" y="519.9" class="s">N</text>
<text x="567.5" y="537.3" class="s">44</text>
<ellipse cx="589.7" cy="524.2" rx="1.8" ry="1.35" class="dg"/>
<text x="597.3" y="537.3" class="s">N</text>
<text x="567.5" y="555.9" class="s">42</text>
<ellipse cx="589.7" cy="542.8" rx="1.8" ry="1.35" class="dg"/>
<text x="597.3" y="555.9" class="s">N</text>
<text x="567.5" y="571.9" class="s">40</text>
<ellipse cx="589.7" cy="558.8" rx="1.8" ry="1.35" class="dg"/>
<text x="597.3" y="571.9" class="s">N</text>
<text x="567.5" y="587.3" class="s">38</text>
<ellipse cx="589.7" cy="574.2" rx="1.8" ry="1.35" class="dg"/>
<text x="597.3" y="587.3" class="s">N</text>
<text x="567.5" y="603.8" class="s">36</text>
<ellipse cx="589.7" cy="590.7" rx="1.8" ry="1.35" class="dg"/>
<text x="597.3" y="603.8" class="s">N</text>
<text x="567.5" y="618.3" class="s">34</text>
<ellipse cx="589.7" cy="605.2" rx="1.8" ry="1.35" class="dg"/>
<text x="597.3" y="618.3" class="s">N</text>
<text x="567.5" y="635.1" class="s">32</text>
<ellipse cx="589.7" cy="622" rx="1.8" ry="1.35" class="dg"/>
<text x="597.3" y="635.1" class="s">N</text>
<text x="567.5" y="648.9" class="s">30</text>
<ellipse cx="589.7" cy="635.8" rx="1.8" ry="1.35" class="dg"/>
<text x="597.3" y="648.9" class="s">N</text>
<text x="567.5" y="662.3" class="s">28</text>
<ellipse cx="589.7" cy="649.2" rx="1.8" ry="1.35" class="dg"/>
<text x="597.3" y="662.3" class="s">N</text>
<text x="567.5" y="677.2" class="s">26</text>
<ellipse cx="589.7" cy="664.1" rx="1.8" ry="1.35" class="dg"/>
<text x="597.3" y="677.2" class="s">N</text>
<text x="567.5" y="691.1" class="s">24</text>
<ellipse cx="589.7" cy="678" rx="1.8" ry="1.35" class="dg"/>
<text x="597.3" y="691.1" class="s">N</text>
<text x="567.5" y="704.5" class="s">22</text>
<ellipse cx="589.7" cy="691.4" rx="1.8" ry="1.35" class="dg"/>
<text x="597.3" y="704.5" class="s">N</text>
<text x="636.9" y="466.8" class="s">100</text>
<ellipse cx="666.6" cy="453.6" rx="1.8" ry="1.35" class="dg"/>
<text x="674.1" y="466.8" class="s">W</text>
<text x="705.9" y="466.8" class="s">90</text>
<ellipse cx="728.2" cy="453.6" rx="1.8" ry="1.35" class="dg"/>
<text x="735.7" y="466.8" class="s">W</text>
<text x="769.7" y="466.8" class="s">80</text>
<ellipse cx="792" cy="453.6" rx="1.8" ry="1.35" class="dg"/>
<text x="799.5" y="466.8" class="s">W</text>
<text x="833.3" y="466.8" class="s">70</text>
<ellipse cx="855.6" cy="453.6" rx="1.8" ry="1.35" class="dg"/>
<text x="863.1" y="466.8" class="s">W</text>
<rect x="862.4" y="484.9" width="23.4" height="215.6" fill="url(#jet)" stroke="#262626" stroke-width="0.8"/>
<path d="M883.3,592.7H885.8" stroke="#262626" stroke-width="0.8"/>
<text x="894" y="493.1" class="cb">100</text>
<text x="893.8" y="600.5" class="cb">50</text>
<text x="893.8" y="708.3" class="cb">0</text>
<text x="560.7" y="730.6" class="t">SAT 350 hPa RH (Percent)</text>
<clipPath id="sw5"><path d="M1037.1,485.1 1229.1,485.4 1208.5,529.8 1186.7,588 1162,649.8 1143.7,701.4 1090.5,702.1 1036,690.1Z"/><circle cx="1036.5" cy="487.2" r="3.9"/><circle cx="1044.9" cy="487.2" r="4.3"/><circle cx="1055.4" cy="487" r="4.4"/><circle cx="1063.9" cy="487.9" r="5"/><circle cx="1073" cy="488.6" r="5.2"/><circle cx="1083" cy="487.6" r="3.8"/><circle cx="1092.4" cy="486.8" r="3.9"/><circle cx="1104.5" cy="487.9" r="4.6"/><circle cx="1114.3" cy="486.8" r="3.8"/><circle cx="1123.4" cy="487.7" r="4.4"/><circle cx="1134.3" cy="487.7" r="4.2"/><circle cx="1145.8" cy="487.9" r="4.6"/><circle cx="1158.2" cy="488.1" r="4.2"/><circle cx="1166.8" cy="488" r="4.9"/><circle cx="1177.2" cy="488.1" r="4.8"/><circle cx="1188.1" cy="488" r="4.2"/><circle cx="1199" cy="488.2" r="4.4"/><circle cx="1211.8" cy="487.9" r="4.8"/><circle cx="1223.3" cy="489.1" r="5.3"/><circle cx="1039.1" cy="488.8" r="3.4"/><circle cx="1038.9" cy="495.9" r="3.5"/><circle cx="1038.7" cy="503.2" r="3"/><circle cx="1038.7" cy="510.6" r="3.2"/><circle cx="1038.6" cy="520.2" r="3"/><circle cx="1039.8" cy="528.9" r="4"/><circle cx="1038.8" cy="538.5" r="3.2"/><circle cx="1039.8" cy="546.5" r="4"/><circle cx="1038.6" cy="554" r="3.1"/><circle cx="1039.1" cy="561.7" r="3.5"/><circle cx="1038.5" cy="569.5" r="2.9"/><circle cx="1039.5" cy="577.6" r="3.6"/><circle cx="1039.2" cy="586.7" r="3.5"/><circle cx="1038.8" cy="595.7" r="3"/><circle cx="1039.7" cy="605" r="3.9"/><circle cx="1038.7" cy="613.2" r="3.4"/><circle cx="1038.3" cy="622.1" r="3"/><circle cx="1038.6" cy="629.7" r="3.1"/><circle cx="1038.3" cy="636.9" r="2.9"/><circle cx="1038.7" cy="644.2" r="3.3"/><circle cx="1039" cy="653.8" r="3.6"/><circle cx="1038.8" cy="661.6" r="3.3"/><circle cx="1039.8" cy="668.9" r="3.9"/><circle cx="1038.8" cy="677.3" r="3.5"/><circle cx="1038.8" cy="684.6" r="3.3"/><circle cx="1041.5" cy="688" r="4"/><circle cx="1053.3" cy="690.1" r="4.5"/><circle cx="1063.5" cy="693.3" r="3.7"/><circle cx="1075.4" cy="694.7" r="5.1"/><circle cx="1084.4" cy="697.2" r="4.3"/><circle cx="1095.5" cy="698.5" r="4.6"/><circle cx="1104.8" cy="698.9" r="4.1"/><circle cx="1116.8" cy="697.8" r="5.1"/><circle cx="1128.1" cy="697.5" r="4.9"/><circle cx="1138.1" cy="697.8" r="4.3"/></clipPath>
<clipPath id="ax5"><rect x="1037.8" y="486.2" width="234.3" height="213"/></clipPath>
<rect x="1037.8" y="486.2" width="234.3" height="213" fill="none" stroke="#000" stroke-width="1.1"/>
<g clip-path="url(#sw5)"><g filter="url(#bl)" transform="translate(1034.8 483.2)"><path d="M0 0h12v12h-12zM84 36h12v12h-12zM72 48h12v12h-12zM84 48h12v12h-12zM60 60h12v12h-12zM72 60h12v12h-12zM0 72h12v12h-12zM24 72h12v12h-12zM36 72h12v12h-12zM48 72h12v12h-12zM60 72h12v12h-12zM12 84h12v12h-12zM24 84h12v12h-12zM36 84h12v12h-12zM48 84h12v12h-12zM24 96h12v12h-12zM36 96h12v12h-12zM0 108h12v12h-12zM60 156h12v12h-12zM72 156h12v12h-12zM48 168h12v12h-12zM60 168h12v12h-12zM72 168h12v12h-12zM36 180h12v12h-12zM72 180h12v12h-12zM36 192h12v12h-12zM84 192h12v12h-12zM96 192h12v12h-12zM108 192h12v12h-12zM120 192h12v12h-12zM132 192h12v12h-12zM144 192h12v12h-12zM156 192h12v12h-12zM168 192h12v12h-12zM180 192h12v12h-12zM192 192h12v12h-12zM36 204h12v12h-12zM96 204h12v12h-12zM108 204h12v12h-12zM120 204h12v12h-12zM132 204h12v12h-12zM144 204h12v12h-12zM156 204h12v12h-12zM168 204h12v12h-12zM180 204h12v12h-12zM192 204h12v12h-12zM12 216h12v12h-12zM24 216h12v12h-12zM96 216h12v12h-12zM108 216h12v12h-12zM120 216h12v12h-12zM132 216h12v12h-12zM144 216h12v12h-12zM156 216h12v12h-12zM168 216h12v12h-12zM180 216h12v12h-12zM192 216h12v12h-12z" fill="#000ad7" stroke="#000ad7" stroke-width="0.6"/><path d="M12 0h12v12h-12zM72 36h12v12h-12zM132 36h12v12h-12zM60 48h12v12h-12zM96 48h12v12h-12zM132 48h12v12h-12zM132 60h12v12h-12zM72 72h12v12h-12zM60 84h12v12h-12zM120 84h12v12h-12zM132 84h12v12h-12zM144 84h12v12h-12zM156 84h12v12h-12zM168 84h12v12h-12zM180 84h12v12h-12zM192 84h12v12h-12zM48 96h12v12h-12zM120 96h12v12h-12zM132 96h12v12h-12zM144 96h12v12h-12zM156 96h12v12h-12zM168 96h12v12h-12zM180 96h12v12h-12zM192 96h12v12h-12zM12 108h12v12h-12zM108 108h12v12h-12zM132 108h12v12h-12zM144 108h12v12h-12zM156 108h12v12h-12zM168 108h12v12h-12zM180 108h12v12h-12zM192 108h12v12h-12zM0 120h12v12h-12zM84 120h12v12h-12zM96 120h12v12h-12zM108 120h12v12h-12zM120 120h12v12h-12zM132 120h12v12h-12zM144 120h12v12h-12zM156 120h12v12h-12zM168 120h12v12h-12zM180 120h12v12h-12zM192 120h12v12h-12zM72 132h12v12h-12zM84 132h12v12h-12zM96 132h12v12h-12zM108 132h12v12h-12zM120 132h12v12h-12zM132 132h12v12h-12zM144 132h12v12h-12zM156 132h12v12h-12zM168 132h12v12h-12zM180 132h12v12h-12zM192 132h12v12h-12zM48 144h12v12h-12zM60 144h12v12h-12zM72 144h12v12h-12zM84 144h12v12h-12zM96 144h12v12h-12zM108 144h12v12h-12zM120 144h12v12h-12zM132 144h12v12h-12zM144 144h12v12h-12zM156 144h12v12h-12zM168 144h12v12h-12zM180 144h12v12h-12zM192 144h12v12h-12zM84 156h12v12h-12zM96 156h12v12h-12zM108 156h12v12h-12zM120 156h12v12h-12zM132 156h12v12h-12zM144 156h12v12h-12zM156 156h12v12h-12zM168 156h12v12h-12zM180 156h12v12h-12zM192 156h12v12h-12zM36 168h12v12h-12zM84 168h12v12h-12zM96 168h12v12h-12zM108 168h12v12h-12zM120 168h12v12h-12zM132 168h12v12h-12zM144 168h12v12h-12zM156 168h12v12h-12zM168 168h12v12h-12zM180 168h12v12h-12zM192 168h12v12h-12zM24 180h12v12h-12zM84 180h12v12h-12zM96 180h12v12h-12zM108 180h12v12h-12zM120 180h12v12h-12zM132 180h12v12h-12zM144 180h12v12h-12zM156 180h12v12h-12zM168 180h12v12h-12zM180 180h12v12h-12zM192 180h12v12h-12zM24 192h12v12h-12zM24 204h12v12h-12z" fill="#003cfa" stroke="#003cfa" stroke-width="0.6"/><path d="M24 0h12v12h-12zM24 12h12v12h-12zM36 12h12v12h-12zM84 12h12v12h-12zM0 36h12v12h-12zM12 36h12v12h-12zM84 60h12v12h-12zM96 60h12v12h-12zM108 60h12v12h-12zM96 72h12v12h-12zM108 72h12v12h-12zM60 96h12v12h-12zM60 108h12v12h-12z" fill="#ffffff" stroke="#ffffff" stroke-width="0.6"/><path d="M36 0h12v12h-12zM60 0h12v12h-12zM72 0h12v12h-12zM84 0h12v12h-12zM96 0h12v12h-12zM108 0h12v12h-12zM60 12h12v12h-12zM72 12h12v12h-12zM108 12h12v12h-12zM0 24h12v12h-12zM12 24h12v12h-12zM36 24h12v12h-12zM60 24h12v12h-12zM96 24h12v12h-12zM108 24h12v12h-12zM120 24h12v12h-12zM48 36h12v12h-12zM120 36h12v12h-12zM120 48h12v12h-12zM24 60h12v12h-12zM84 84h12v12h-12zM108 84h12v12h-12zM84 96h12v12h-12zM36 108h12v12h-12zM72 108h12v12h-12zM48 120h12v12h-12zM12 132h12v12h-12zM24 144h12v12h-12zM36 144h12v12h-12zM12 156h12v12h-12z" fill="#3cffc8" stroke="#3cffc8" stroke-width="0.6"/><path d="M48 0h12v12h-12zM96 12h12v12h-12zM24 24h12v12h-12zM84 108h12v12h-12zM24 120h12v12h-12zM48 132h12v12h-12z" fill="#b4ff46" stroke="#b4ff46" stroke-width="0.6"/><path d="M120 0h12v12h-12zM132 0h12v12h-12zM132 12h12v12h-12zM144 12h12v12h-12zM132 24h12v12h-12zM144 24h12v12h-12zM156 36h12v12h-12zM156 48h12v12h-12zM168 48h12v12h-12zM180 48h12v12h-12zM192 48h12v12h-12zM132 72h12v12h-12zM144 72h12v12h-12zM156 72h12v12h-12zM168 72h12v12h-12zM180 72h12v12h-12z" fill="#003cfa" stroke="#003cfa" stroke-width="0.6"/><path d="M144 0h12v12h-12zM156 12h12v12h-12zM156 24h12v12h-12zM168 24h12v12h-12zM180 24h12v12h-12zM192 24h12v12h-12zM168 36h12v12h-12zM180 36h12v12h-12zM192 36h12v12h-12z" fill="#008cff" stroke="#008cff" stroke-width="0.6"/><path d="M156 0h12v12h-12zM168 0h12v12h-12zM180 0h12v12h-12zM192 0h12v12h-12zM168 12h12v12h-12zM180 12h12v12h-12zM192 12h12v12h-12z" fill="#00d2ff" stroke="#00d2ff" stroke-width="0.6"/><path d="M0 12h12v12h-12zM120 12h12v12h-12zM48 24h12v12h-12zM84 24h12v12h-12zM24 36h12v12h-12zM36 36h12v12h-12zM60 36h12v12h-12zM96 36h12v12h-12zM0 48h12v12h-12zM24 48h12v12h-12zM36 48h12v12h-12zM48 48h12v12h-12zM108 48h12v12h-12zM0 60h12v12h-12zM48 60h12v12h-12zM120 60h12v12h-12zM12 72h12v12h-12zM120 72h12v12h-12zM108 96h12v12h-12zM24 108h12v12h-12zM96 108h12v12h-12zM120 108h12v12h-12zM12 120h12v12h-12zM72 120h12v12h-12zM0 132h12v12h-12zM60 132h12v12h-12zM36 156h12v12h-12zM48 156h12v12h-12zM24 168h12v12h-12zM12 180h12v12h-12zM12 192h12v12h-12zM0 204h12v12h-12zM12 204h12v12h-12zM0 216h12v12h-12z" fill="#008cff" stroke="#008cff" stroke-width="0.6"/><path d="M12 12h12v12h-12zM48 12h12v12h-12zM72 24h12v12h-12zM108 36h12v12h-12zM12 48h12v12h-12zM12 60h12v12h-12zM36 60h12v12h-12zM84 72h12v12h-12zM72 84h12v12h-12zM96 84h12v12h-12zM72 96h12v12h-12zM96 96h12v12h-12zM48 108h12v12h-12zM60 120h12v12h-12zM0 144h12v12h-12zM12 144h12v12h-12zM0 156h12v12h-12zM24 156h12v12h-12zM0 168h12v12h-12zM12 168h12v12h-12zM0 180h12v12h-12zM0 192h12v12h-12z" fill="#00d2ff" stroke="#00d2ff" stroke-width="0.6"/><path d="M144 36h12v12h-12zM144 48h12v12h-12zM144 60h12v12h-12zM156 60h12v12h-12zM168 60h12v12h-12zM180 60h12v12h-12zM192 60h12v12h-12z" fill="#000ad7" stroke="#000ad7" stroke-width="0.6"/><path d="M0 84h12v12h-12zM0 96h12v12h-12zM12 96h12v12h-12zM48 180h12v12h-12zM60 180h12v12h-12zM48 192h12v12h-12zM60 192h12v12h-12zM72 192h12v12h-12zM48 204h12v12h-12zM60 204h12v12h-12zM72 204h12v12h-12zM84 204h12v12h-12zM36 216h12v12h-12zM48 216h12v12h-12zM60 216h12v12h-12zM72 216h12v12h-12zM84 216h12v12h-12z" fill="#0000af" stroke="#0000af" stroke-width="0.6"/><path d="M36 120h12v12h-12zM24 132h12v12h-12zM36 132h12v12h-12z" fill="#ffdc00" stroke="#ffdc00" stroke-width="0.6"/></g><path d="M1063.0,487.3 1078.5,487.3 1079.5,493.6 1076.6,499.4 1078.5,507.2 1070.8,506.2 1063.0,507.2 1063.0,497.5Z" fill="#fff"/><path d="M1039.2,524.2 1055.7,524.2 1055.7,536.2 1039.2,536.2Z" fill="#fff"/><path d="M1058.1,515.9 1063.0,515.9 1063.0,525.6 1058.1,525.6Z" fill="#fff"/><path d="M1121.2,495.5 1129.9,495.5 1129.9,509.2 1121.2,509.2Z" fill="#fff"/><path d="M1130.8,508.2 1139.8,508.2 1139.8,518.8 1130.8,518.8Z" fill="#fff"/><path d="M1112.7,546.5 1120.4,547.5 1132.0,543.6 1139.8,540.7 1145.7,537.3 1153.4,540.7 1158.7,544.5 1158.7,566.9 1155.4,570.7 1146.6,570.7 1141.8,565.9 1137.9,561.0 1112.7,560.0Z" fill="#fff"/><path d="M1163.1,552.3 1171.8,553.3 1176.7,559.1 1176.7,568.8 1172.8,566.9 1165.0,562.0 1163.1,557.2Z" fill="#fff"/><path d="M1079.1,589.7 1089.8,580.2 1099.8,572.2 1101.8,576.2 1103.8,582.2 1114.8,583.2 1114.8,589.7Z" fill="#fff"/><path d="M1117.9,581.2 1130.0,581.2 1130.0,591.5 1117.9,591.5Z" fill="#fff"/><path d="M1083.9,591.5 1115.5,591.5 1115.5,598.7 1083.9,598.7Z" fill="#fff"/><g fill="none" stroke-width="3.6" stroke-linecap="round" transform="translate(1034 483)"><path d="M55 207l4 2" stroke="#000080"/><path d="M87 -1l4 2M21 23l4 2M18 162l4 2M43 122l4 2M42 125l4 2" stroke="#a7ff58"/><path d="M176 9l4 2M21 12l4 2M15 14l4 2M124 21l4 2M180 21l4 2M171 30l4 2M174 31l4 2M4 31l4 2M55 34l4 2M63 41l4 2M133 42l4 2M104 43l4 2M3 52l4 2M48 51l4 2M131 55l4 2M4 62l4 2M30 64l4 2M125 63l4 2M86 93l4 2M107 96l4 2M58 107l4 2M29 113l4 2M99 114l4 2M10 136l4 2M11 138l4 2M2 148l4 2M28 173l4 2M8 175l4 2M16 195l4 2" stroke="#00baff"/><path d="M1 -1l4 2M152 39l4 2M149 41l4 2M153 39l4 2M156 55l4 2M71 58l4 2M75 56l4 2M77 60l4 2M164 67l4 2M68 77l4 2M43 79l4 2M66 79l4 2M51 81l4 2M56 83l4 2M22 85l4 2M56 84l4 2M46 89l4 2M54 89l4 2M26 93l4 2M44 93l4 2M52 93l4 2M24 99l4 2M13 108l4 2M8 116l4 2M79 165l4 2M80 165l4 2M53 176l4 2M64 175l4 2M81 177l4 2M50 182l4 2M50 184l4 2M89 196l4 2M92 197l4 2M94 199l4 2M114 198l4 2M40 203l4 2M106 203l4 2M39 206l4 2M100 207l4 2M105 206l4 2M104 213l4 2M39 215l4 2" stroke="#0000e8"/><path d="M123 1l4 2M69 4l4 2M9 13l4 2M127 13l4 2M141 13l4 2M130 21l4 2M135 26l4 2M160 26l4 2M135 27l4 2M153 29l4 2M157 30l4 2M181 30l4 2M157 32l4 2M94 36l4 2M162 36l4 2M136 42l4 2M168 43l4 2M170 44l4 2M41 50l4 2M64 55l4 2M16 80l4 2M137 90l4 2M118 103l4 2M124 103l4 2M128 105l4 2M114 110l4 2M133 118l4 2M130 122l4 2M5 132l4 2M77 132l4 2M120 141l4 2M99 146l4 2M113 151l4 2M101 164l4 2M102 165l4 2M101 170l4 2M33 178l4 2" stroke="#006cff"/><path d="M7 80l4 2M1 82l4 2M6 96l4 2M0 101l4 2M14 100l4 2M22 103l4 2M59 176l4 2M54 181l4 2M61 191l4 2M69 190l4 2M78 192l4 2M47 195l4 2M53 195l4 2M57 195l4 2M61 194l4 2M75 199l4 2M45 202l4 2M52 201l4 2M62 202l4 2M81 209l4 2M52 213l4 2M57 213l4 2M78 212l4 2M89 211l4 2M92 215l4 2M97 216l4 2" stroke="#0000b4"/><path d="M150 48l4 2M150 52l4 2M77 55l4 2M87 55l4 2M152 54l4 2M149 56l4 2M65 72l4 2M54 80l4 2M32 87l4 2M9 94l4 2M23 96l4 2M32 99l4 2M43 99l4 2M45 97l4 2M-0 114l4 2M77 168l4 2M63 173l4 2M73 177l4 2M66 180l4 2M69 180l4 2M85 195l4 2M93 202l4 2M100 203l4 2M60 203l4 2M42 205l4 2M41 210l4 2M112 208l4 2M111 215l4 2" stroke="#0000ce"/><path d="M107 12l4 2M33 34l4 2M81 118l4 2M20 134l4 2M23 150l4 2" stroke="#24ffdb"/><path d="M158 12l4 2M161 14l4 2M163 13l4 2M64 23l4 2M88 28l4 2M51 29l4 2M166 31l4 2M51 32l4 2M82 33l4 2M76 37l4 2M60 47l4 2M174 46l4 2M35 48l4 2M65 47l4 2M52 54l4 2M55 55l4 2M8 56l4 2M44 60l4 2M125 75l4 2M125 73l4 2M120 96l4 2M88 97l4 2M40 113l4 2M92 114l4 2M120 117l4 2M122 119l4 2M77 123l4 2M76 124l4 2M11 132l4 2M61 132l4 2M1 139l4 2M17 185l4 2M11 187l4 2M2 202l4 2M22 206l4 2M78 88l4 2M73 90l4 2M68 95l4 2M54 162l4 2" stroke="#00a0ff"/><path d="M34 161l4 2M35 163l4 2M60 164l4 2" stroke="#ff1d00"/><path d="M188 1l4 2M185 5l4 2M191 4l4 2M170 7l4 2M184 9l4 2M116 12l4 2M119 11l4 2M174 11l4 2M178 10l4 2M174 22l4 2M50 25l4 2M57 25l4 2M133 30l4 2M33 39l4 2M57 37l4 2M47 48l4 2M130 52l4 2M16 56l4 2M22 56l4 2M17 67l4 2M91 86l4 2M87 95l4 2M103 99l4 2M105 101l4 2M30 125l4 2M70 124l4 2M13 151l4 2M10 163l4 2M2 170l4 2M5 174l4 2M9 174l4 2M8 195l4 2M11 199l4 2M10 201l4 2M5 205l4 2M11 204l4 2M79 85l4 2" stroke="#00d4ff"/><path d="M150 0l4 2M110 7l4 2M15 12l4 2M154 12l4 2M83 37l4 2M169 39l4 2M39 45l4 2M68 43l4 2M100 43l4 2M107 45l4 2M45 52l4 2M59 51l4 2M108 51l4 2M27 55l4 2M46 56l4 2M51 58l4 2M134 64l4 2M80 78l4 2M131 80l4 2M132 82l4 2M93 90l4 2M131 111l4 2M48 113l4 2M128 114l4 2M17 123l4 2M51 126l4 2M67 137l4 2M1 141l4 2M69 141l4 2M41 173l4 2M30 182l4 2M20 191l4 2M13 202l4 2M72 87l4 2M69 89l4 2M55 158l4 2" stroke="#0086ff"/><path d="M52 1l4 2M51 2l4 2" stroke="#ffd500"/><path d="M55 -0l4 2M80 5l4 2M161 10l4 2M170 12l4 2M167 16l4 2M173 15l4 2M3 20l4 2M65 21l4 2M180 27l4 2M91 29l4 2M77 31l4 2M83 31l4 2M42 40l4 2M32 47l4 2M47 46l4 2M15 54l4 2M43 64l4 2M49 65l4 2M21 68l4 2M42 69l4 2M82 79l4 2M81 82l4 2M107 87l4 2M78 99l4 2M111 104l4 2M20 125l4 2M65 134l4 2M63 138l4 2M20 182l4 2M0 191l4 2M15 194l4 2M49 154l4 2" stroke="#00baff"/><path d="M105 2l4 2M149 36l4 2M87 39l4 2M146 37l4 2M140 40l4 2M143 46l4 2M156 48l4 2M71 51l4 2M140 57l4 2M170 58l4 2M137 58l4 2M169 59l4 2M161 70l4 2M50 74l4 2M154 72l4 2M159 75l4 2M18 108l4 2M44 112l4 2M14 117l4 2M6 124l4 2M97 132l4 2M116 137l4 2M89 145l4 2M129 145l4 2M93 151l4 2M118 153l4 2M83 158l4 2M111 163l4 2M118 180l4 2M34 191l4 2M31 203l4 2" stroke="#001dff"/><path d="M60 186l4 2M60 188l4 2" stroke="#000080"/><path d="M59 145l4 2M53 148l4 2M55 149l4 2M43 160l4 2M33 162l4 2" stroke="#ff0300"/><path d="M39 1l4 2M71 2l4 2M26 140l4 2M28 161l4 2" stroke="#3effc1"/><path d="M64 1l4 2M179 6l4 2M179 7l4 2M63 10l4 2M60 13l4 2M118 16l4 2M185 16l4 2M19 18l4 2M63 19l4 2M49 22l4 2M119 24l4 2M82 28l4 2M127 30l4 2M58 31l4 2M122 35l4 2M52 38l4 2M105 37l4 2M130 45l4 2M130 48l4 2M46 67l4 2M95 79l4 2M102 91l4 2M113 96l4 2M99 104l4 2M101 103l4 2M95 113l4 2M48 124l4 2M64 129l4 2M74 129l4 2M2 151l4 2M9 158l4 2M-0 166l4 2M1 176l4 2M10 176l4 2M0 197l4 2M76 86l4 2" stroke="#00efff"/><path d="M2 85l4 2M10 92l4 2M21 94l4 2M4 101l4 2M24 103l4 2M77 171l4 2M53 180l4 2M67 188l4 2M71 186l4 2M77 190l4 2M65 195l4 2M80 197l4 2M58 199l4 2M60 198l4 2M64 200l4 2M84 202l4 2M76 203l4 2M60 208l4 2M73 208l4 2M76 206l4 2M45 208l4 2M62 208l4 2M50 216l4 2M50 216l4 2M77 217l4 2M78 217l4 2M110 217l4 2" stroke="#0000b4"/><path d="M-1 3l4 2M87 45l4 2M66 59l4 2M73 61l4 2M75 61l4 2M68 71l4 2M3 76l4 2M59 80l4 2M62 79l4 2M25 87l4 2M49 87l4 2M45 91l4 2M39 93l4 2M47 93l4 2M24 98l4 2M24 100l4 2M12 105l4 2M76 162l4 2M65 176l4 2M80 181l4 2M53 187l4 2M40 194l4 2M117 192l4 2M88 200l4 2M96 201l4 2M36 208l4 2M40 211l4 2M106 211l4 2" stroke="#0000e8"/><path d="M103 -1l4 2M166 -0l4 2M182 -1l4 2M158 2l4 2M75 6l4 2M56 11l4 2M169 10l4 2M170 10l4 2M18 17l4 2M53 19l4 2M91 25l4 2M-0 28l4 2M67 29l4 2M92 26l4 2M56 35l4 2M67 37l4 2M121 36l4 2M47 40l4 2M60 43l4 2M109 44l4 2M51 50l4 2M19 54l4 2M31 65l4 2M39 64l4 2M37 67l4 2M82 86l4 2M19 135l4 2M58 139l4 2M9 140l4 2M16 152l4 2M3 175l4 2M4 181l4 2M0 199l4 2" stroke="#00d4ff"/><path d="M57 208l4 2" stroke="#000080"/><path d="M62 9l4 2M160 10l4 2M5 16l4 2M5 18l4 2M133 20l4 2M170 25l4 2M73 29l4 2M56 49l4 2M22 52l4 2M115 52l4 2M56 57l4 2M39 62l4 2M46 63l4 2M49 63l4 2M51 62l4 2M20 69l4 2M51 67l4 2M22 69l4 2M124 79l4 2M94 115l4 2M74 130l4 2M73 142l4 2M25 179l4 2M16 181l4 2M14 191l4 2M12 197l4 2M72 91l4 2M78 92l4 2M42 148l4 2M66 149l4 2M38 152l4 2" stroke="#00a0ff"/><path d="M69 -0l4 2M51 6l4 2M50 10l4 2M21 31l4 2M36 126l4 2M41 131l4 2" stroke="#72ff8d"/><path d="M42 143l4 2" stroke="#ff6c00"/><path d="M66 16l4 2" stroke="#b40000"/><path d="M15 -0l4 2M134 3l4 2M17 4l4 2M81 45l4 2M72 46l4 2M141 45l4 2M72 54l4 2M142 54l4 2M143 59l4 2M144 60l4 2M6 67l4 2M75 71l4 2M142 70l4 2M144 72l4 2M37 75l4 2M159 74l4 2M72 75l4 2M147 75l4 2M66 82l4 2M149 82l4 2M135 93l4 2M149 94l4 2M37 104l4 2M152 104l4 2M139 111l4 2M12 115l4 2M141 115l4 2M17 119l4 2M1 122l4 2M4 124l4 2M7 121l4 2M56 122l4 2M105 141l4 2M108 146l4 2M69 153l4 2M86 153l4 2M74 156l4 2M100 156l4 2M84 161l4 2M85 167l4 2M85 171l4 2M82 175l4 2M93 173l4 2M35 180l4 2M97 180l4 2M98 186l4 2M93 188l4 2M37 196l4 2M32 204l4 2M33 203l4 2M59 141l4 2M44 144l4 2M52 161l4 2" stroke="#001dff"/><path d="M35 83l4 2M11 99l4 2M44 195l4 2M78 200l4 2M79 204l4 2M60 208l4 2M73 208l4 2M74 211l4 2M85 211l4 2M56 211l4 2M86 213l4 2M70 214l4 2M57 218l4 2M68 219l4 2" stroke="#00009a"/><path d="M37 82l4 2M47 83l4 2M12 88l4 2M52 86l4 2M23 94l4 2M12 99l4 2M57 191l4 2M70 191l4 2M75 191l4 2M55 199l4 2M79 198l4 2M68 203l4 2M95 204l4 2M88 206l4 2M96 208l4 2M79 210l4 2M87 208l4 2M96 209l4 2M99 209l4 2M48 212l4 2M72 213l4 2M67 218l4 2M71 217l4 2M86 216l4 2M92 217l4 2" stroke="#0000b4"/><path d="M117 84l4 2M62 146l4 2" stroke="#ffa000"/><path d="M100 13l4 2" stroke="#e80000"/><path d="M56 3l4 2M49 128l4 2M35 142l4 2" stroke="#ffef00"/><path d="M92 1l4 2M49 138l4 2M37 121l4 2M43 136l4 2M37 141l4 2" stroke="#f5ff0a"/><path d="M74 0l4 2M84 7l4 2M58 10l4 2M112 25l4 2M17 27l4 2M17 30l4 2M30 140l4 2" stroke="#72ff8d"/><path d="M93 10l4 2M30 29l4 2M46 120l4 2M39 127l4 2" stroke="#ffef00"/><path d="M31 146l4 2" stroke="#ff5200"/><path d="M77 3l4 2M77 21l4 2M41 25l4 2M50 128l4 2M48 131l4 2M25 159l4 2M36 131l4 2M40 136l4 2" stroke="#dbff24"/><path d="M85 108l4 2M33 128l4 2M32 130l4 2M45 133l4 2M35 134l4 2" stroke="#8dff72"/><path d="M5 5l4 2M75 60l4 2M72 64l4 2M76 69l4 2M4 77l4 2M8 80l4 2M30 82l4 2M20 87l4 2M46 85l4 2M14 93l4 2M35 95l4 2M4 115l4 2M73 163l4 2M69 165l4 2M62 170l4 2M62 170l4 2M47 180l4 2M78 178l4 2M71 182l4 2M74 187l4 2M42 190l4 2M82 190l4 2M52 192l4 2M82 193l4 2M45 197l4 2M68 200l4 2M84 199l4 2M44 209l4 2M41 215l4 2M44 213l4 2M65 216l4 2M102 215l4 2M107 218l4 2" stroke="#0000ce"/><path d="M21 -1l4 2M124 4l4 2M126 8l4 2M143 12l4 2M154 16l4 2M88 32l4 2M73 44l4 2M64 52l4 2M1 55l4 2M68 54l4 2M12 72l4 2M127 82l4 2M121 103l4 2M129 109l4 2M120 113l4 2M107 115l4 2M101 121l4 2M129 121l4 2M131 128l4 2M103 134l4 2M70 134l4 2M112 145l4 2M101 154l4 2M119 176l4 2M31 181l4 2M24 192l4 2M35 158l4 2M38 160l4 2" stroke="#006cff"/><path d="M48 132l4 2" stroke="#ffba00"/><path d="M117 34l4 2M53 136l4 2M33 132l4 2" stroke="#8dff72"/><path d="M18 1l4 2M137 4l4 2M130 8l4 2M136 10l4 2M5 14l4 2M147 17l4 2M138 24l4 2M147 24l4 2M144 29l4 2M-0 34l4 2M143 31l4 2M147 34l4 2M73 50l4 2M102 55l4 2M162 54l4 2M137 56l4 2M59 69l4 2M144 76l4 2M153 78l4 2M156 80l4 2M162 79l4 2M22 81l4 2M137 85l4 2M60 91l4 2M148 93l4 2M127 94l4 2M132 94l4 2M148 96l4 2M117 110l4 2M139 108l4 2M145 117l4 2M100 126l4 2M92 127l4 2M105 131l4 2M122 130l4 2M135 139l4 2M73 145l4 2M72 149l4 2M102 152l4 2M128 152l4 2M122 158l4 2M108 159l4 2M123 159l4 2M125 162l4 2M109 167l4 2M42 169l4 2M45 169l4 2M88 168l4 2M119 168l4 2M50 170l4 2M92 173l4 2M121 170l4 2M37 174l4 2M44 175l4 2M103 173l4 2M109 173l4 2M95 180l4 2M107 184l4 2M28 204l4 2M31 209l4 2M55 154l4 2M56 164l4 2" stroke="#0038ff"/><path d="M5 10l4 2M37 26l4 2M80 44l4 2M160 43l4 2M95 53l4 2M165 58l4 2M65 64l4 2M59 66l4 2M146 65l4 2M160 72l4 2M46 74l4 2M24 76l4 2M45 76l4 2M151 75l4 2M66 84l4 2M152 84l4 2M138 87l4 2M138 103l4 2M145 118l4 2M103 140l4 2M89 149l4 2M78 155l4 2M92 157l4 2M102 157l4 2M126 170l4 2M41 176l4 2M41 180l4 2M97 186l4 2M116 190l4 2M32 201l4 2M34 207l4 2M46 151l4 2M60 162l4 2" stroke="#001dff"/><path d="M46 -2l4 2M62 -1l4 2M117 3l4 2M45 7l4 2M58 21l4 2M26 28l4 2M66 29l4 2M109 37l4 2M116 40l4 2M31 67l4 2M83 86l4 2M86 89l4 2M107 90l4 2M97 93l4 2M104 106l4 2M21 131l4 2M1 154l4 2M12 154l4 2M14 171l4 2M7 192l4 2" stroke="#0afff5"/><path d="M1 87l4 2M3 91l4 2M11 94l4 2M68 186l4 2M69 192l4 2M47 204l4 2M50 204l4 2M65 212l4 2M69 211l4 2M86 215l4 2" stroke="#00009a"/><path d="M119 1l4 2M157 6l4 2M23 8l4 2M184 10l4 2M121 13l4 2M174 15l4 2M175 13l4 2M14 15l4 2M162 17l4 2M183 19l4 2M184 21l4 2M172 24l4 2M179 24l4 2M49 28l4 2M55 28l4 2M176 26l4 2M49 32l4 2M98 35l4 2M28 38l4 2M65 39l4 2M49 45l4 2M9 54l4 2M11 55l4 2M127 65l4 2M85 79l4 2M80 90l4 2M30 115l4 2M93 119l4 2M72 125l4 2M71 128l4 2M70 131l4 2M5 175l4 2M3 202l4 2M6 205l4 2" stroke="#00baff"/><path d="M151 1l4 2M120 3l4 2M153 2l4 2M115 9l4 2M122 12l4 2M15 16l4 2M163 20l4 2M164 22l4 2M31 26l4 2M131 25l4 2M163 29l4 2M34 40l4 2M65 42l4 2M172 41l4 2M44 43l4 2M47 43l4 2M34 46l4 2M37 46l4 2M125 46l4 2M51 49l4 2M54 52l4 2M129 58l4 2M48 59l4 2M50 60l4 2M57 60l4 2M130 66l4 2M124 85l4 2M95 106l4 2M113 106l4 2M105 112l4 2M129 114l4 2M96 118l4 2M21 118l4 2M20 179l4 2M27 179l4 2M16 186l4 2M2 194l4 2M18 194l4 2M4 195l4 2M9 206l4 2M15 208l4 2M17 208l4 2M34 141l4 2M34 152l4 2M58 160l4 2" stroke="#00a0ff"/><path d="M57 142l4 2M65 144l4 2" stroke="#ff3800"/><path d="M49 157l4 2" stroke="#ff1d00"/><path d="M71 -0l4 2M172 3l4 2M64 4l4 2M82 21l4 2M126 25l4 2M72 27l4 2M82 28l4 2M62 33l4 2M50 40l4 2M104 41l4 2M113 47l4 2M115 45l4 2M116 46l4 2M34 59l4 2M12 67l4 2M25 68l4 2M102 88l4 2M98 112l4 2M70 119l4 2M8 155l4 2M29 164l4 2M4 165l4 2M12 174l4 2M12 179l4 2M6 188l4 2M6 201l4 2M69 84l4 2" stroke="#00efff"/><path d="M64 13l4 2M66 14l4 2M123 42l4 2M53 135l4 2M17 160l4 2" stroke="#8dff72"/><path d="M59 6l4 2M47 135l4 2" stroke="#a7ff58"/><path d="M91 42l4 2M87 47l4 2M77 50l4 2M86 50l4 2M87 51l4 2M74 54l4 2M146 57l4 2M152 57l4 2M148 63l4 2M153 65l4 2M63 70l4 2M68 74l4 2M149 73l4 2M41 80l4 2M9 82l4 2M43 81l4 2M40 86l4 2M16 89l4 2M21 89l4 2M42 92l4 2M29 95l4 2M38 102l4 2M9 107l4 2M7 113l4 2M15 111l4 2M73 160l4 2M79 163l4 2M72 170l4 2M57 171l4 2M58 173l4 2M103 189l4 2M105 190l4 2M102 193l4 2M104 195l4 2M36 198l4 2M88 199l4 2M41 202l4 2M56 201l4 2M102 201l4 2M108 215l4 2M99 219l4 2" stroke="#0000e8"/><path d="M52 142l4 2" stroke="#ffba00"/><path d="M155 -1l4 2M77 9l4 2M121 9l4 2M73 23l4 2M49 35l4 2M54 35l4 2M74 36l4 2M60 42l4 2M51 46l4 2M109 49l4 2M14 60l4 2M129 60l4 2M10 63l4 2M14 62l4 2M130 63l4 2M51 64l4 2M35 68l4 2M15 70l4 2M41 70l4 2M19 72l4 2M84 91l4 2M94 94l4 2M111 101l4 2M23 117l4 2M24 122l4 2M69 129l4 2M4 140l4 2M28 154l4 2M24 160l4 2M16 167l4 2M-0 206l4 2M12 207l4 2" stroke="#00baff"/><path d="M67 5l4 2M146 54l4 2M77 57l4 2M75 65l4 2M160 64l4 2M42 83l4 2M14 88l4 2M44 86l4 2M19 95l4 2M30 99l4 2M42 100l4 2M19 104l4 2M4 106l4 2M22 147l4 2M69 161l4 2M75 167l4 2M76 168l4 2M66 173l4 2M75 177l4 2M50 180l4 2M56 180l4 2M44 188l4 2M49 187l4 2M44 189l4 2M43 192l4 2M54 194l4 2M42 200l4 2M73 203l4 2M63 206l4 2M80 214l4 2M61 216l4 2M104 218l4 2" stroke="#0000ce"/><path d="M89 107l4 2M91 110l4 2M55 143l4 2M52 155l4 2M62 156l4 2M47 167l4 2" stroke="#ff8600"/><path d="M156 8l4 2M161 15l4 2M126 20l4 2M166 23l4 2M162 25l4 2M164 24l4 2M4 29l4 2M173 32l4 2M178 31l4 2M134 34l4 2M25 43l4 2M133 44l4 2M174 43l4 2M54 57l4 2M-0 61l4 2M56 65l4 2M28 69l4 2M23 71l4 2M33 69l4 2M95 77l4 2M118 95l4 2M111 97l4 2M47 106l4 2M96 108l4 2M132 109l4 2M101 113l4 2M7 139l4 2M2 141l4 2M6 147l4 2M37 169l4 2M28 172l4 2M10 189l4 2M13 198l4 2M7 203l4 2M13 204l4 2M31 143l4 2" stroke="#00a0ff"/><path d="M62 154l4 2" stroke="#ff6c00"/><path d="M38 0l4 2M82 2l4 2M83 14l4 2M126 33l4 2M85 117l4 2" stroke="#72ff8d"/><path d="M23 1l4 2M154 13l4 2M3 16l4 2M130 18l4 2M134 20l4 2M155 18l4 2M158 19l4 2M158 20l4 2M170 33l4 2M181 32l4 2M174 34l4 2M175 38l4 2M38 42l4 2M40 42l4 2M32 44l4 2M41 42l4 2M103 46l4 2M23 49l4 2M106 48l4 2M29 52l4 2M4 54l4 2M29 53l4 2M33 55l4 2M5 60l4 2M125 67l4 2M128 71l4 2M74 82l4 2M98 118l4 2M89 122l4 2M91 122l4 2M82 125l4 2M30 128l4 2M1 137l4 2M30 176l4 2M18 189l4 2M22 198l4 2M18 203l4 2M22 203l4 2M50 142l4 2M61 157l4 2" stroke="#0086ff"/><path d="M46 143l4 2M56 151l4 2" stroke="#ff0300"/><path d="M61 -1l4 2M40 2l4 2M73 12l4 2M27 23l4 2M41 29l4 2M117 32l4 2M36 65l4 2M56 135l4 2" stroke="#58ffa7"/><path d="M48 144l4 2" stroke="#ff1d00"/><path d="M104 5l4 2M71 16l4 2M114 20l4 2M61 130l4 2M22 151l4 2" stroke="#58ffa7"/><path d="M76 18l4 2M6 30l4 2M124 55l4 2M81 108l4 2M19 139l4 2" stroke="#3effc1"/><path d="M125 29l4 2M90 39l4 2M158 41l4 2M97 47l4 2M100 50l4 2M141 53l4 2M156 53l4 2M160 56l4 2M62 59l4 2M155 58l4 2M142 62l4 2M60 65l4 2M6 74l4 2M59 72l4 2M152 75l4 2M61 90l4 2M99 130l4 2M135 130l4 2M136 133l4 2M129 144l4 2M111 147l4 2M81 152l4 2M88 155l4 2M97 154l4 2M86 162l4 2M88 165l4 2M84 168l4 2M99 176l4 2M88 184l4 2M107 186l4 2M88 186l4 2M97 189l4 2M31 195l4 2M32 214l4 2" stroke="#001dff"/><path d="M5 89l4 2M4 93l4 2M6 100l4 2M11 101l4 2M55 184l4 2M57 184l4 2M85 206l4 2M61 212l4 2M84 211l4 2M76 214l4 2M87 214l4 2" stroke="#00009a"/><path d="M53 8l4 2M151 7l4 2M130 17l4 2M163 26l4 2M54 30l4 2M166 35l4 2M170 37l4 2M179 34l4 2M106 41l4 2M175 41l4 2M39 48l4 2M58 51l4 2M60 54l4 2M11 60l4 2M120 99l4 2M115 104l4 2M125 105l4 2M111 108l4 2M110 110l4 2M125 112l4 2M118 115l4 2M87 122l4 2M60 133l4 2M26 157l4 2M13 162l4 2M78 90l4 2M37 149l4 2M34 155l4 2" stroke="#0086ff"/><path d="M59 9l4 2M70 22l4 2M3 26l4 2M60 36l4 2M63 38l4 2M119 43l4 2M107 90l4 2M27 121l4 2M8 160l4 2M11 160l4 2M5 170l4 2" stroke="#0afff5"/><path d="M91 7l4 2M105 10l4 2M48 120l4 2M23 127l4 2M20 141l4 2" stroke="#24ffdb"/><path d="M40 155l4 2M45 161l4 2M64 162l4 2" stroke="#ff1d00"/><path d="M149 55l4 2M79 56l4 2M70 63l4 2M164 64l4 2M67 71l4 2M38 79l4 2M-0 82l4 2M4 102l4 2M3 115l4 2M71 167l4 2M62 182l4 2M63 181l4 2M67 182l4 2M71 185l4 2M72 183l4 2M47 186l4 2M68 195l4 2M98 199l4 2M90 205l4 2M64 208l4 2M57 215l4 2M93 218l4 2" stroke="#0000ce"/><path d="M143 42l4 2M94 45l4 2M145 43l4 2M75 47l4 2M97 48l4 2M93 51l4 2M155 52l4 2M90 56l4 2M84 58l4 2M140 59l4 2M71 69l4 2M71 71l4 2M152 71l4 2M32 77l4 2M39 77l4 2M63 75l4 2M61 81l4 2M61 83l4 2M54 97l4 2M135 97l4 2M48 102l4 2M20 106l4 2M15 113l4 2M1 118l4 2M81 155l4 2M73 158l4 2M79 157l4 2M38 185l4 2M49 185l4 2M97 193l4 2M101 192l4 2M39 196l4 2M102 198l4 2M104 214l4 2" stroke="#0003ff"/><path d="M114 4l4 2M74 7l4 2M120 12l4 2M168 17l4 2M121 19l4 2M179 19l4 2M182 20l4 2M52 24l4 2M181 24l4 2M184 23l4 2M92 30l4 2M102 37l4 2M109 43l4 2M31 48l4 2M24 52l4 2M36 59l4 2M8 65l4 2M28 72l4 2M128 77l4 2M38 109l4 2M32 113l4 2M82 124l4 2M53 126l4 2M67 131l4 2M6 140l4 2M1 145l4 2M10 145l4 2M25 156l4 2M40 171l4 2M15 174l4 2M70 92l4 2M72 96l4 2M64 153l4 2" stroke="#00baff"/><path d="M51 13l4 2M55 133l4 2M52 138l4 2" stroke="#ffd500"/><path d="M130 -1l4 2M16 5l4 2M133 12l4 2M151 17l4 2M140 29l4 2M86 36l4 2M141 36l4 2M153 37l4 2M141 37l4 2M169 46l4 2M70 50l4 2M160 52l4 2M162 53l4 2M100 55l4 2M138 55l4 2M96 58l4 2M59 63l4 2M62 62l4 2M7 75l4 2M41 74l4 2M42 74l4 2M54 72l4 2M10 75l4 2M162 76l4 2M68 83l4 2M144 81l4 2M152 91l4 2M155 95l4 2M136 102l4 2M24 107l4 2M143 110l4 2M142 114l4 2M142 116l4 2M112 118l4 2M117 121l4 2M26 124l4 2M93 126l4 2M94 126l4 2M141 125l4 2M143 128l4 2M86 130l4 2M104 132l4 2M93 134l4 2M139 133l4 2M113 135l4 2M93 141l4 2M94 154l4 2M98 152l4 2M124 156l4 2M94 165l4 2M48 170l4 2M108 172l4 2M111 172l4 2M47 176l4 2M91 178l4 2M99 180l4 2M114 181l4 2M32 189l4 2M109 186l4 2M31 208l4 2M56 157l4 2M32 161l4 2" stroke="#0038ff"/><path d="M58 3l4 2M106 8l4 2M96 14l4 2M106 21l4 2M85 110l4 2M29 135l4 2M43 129l4 2" stroke="#a7ff58"/><path d="M157 -0l4 2M170 1l4 2M179 2l4 2M87 6l4 2M167 6l4 2M176 4l4 2M47 8l4 2M169 9l4 2M181 7l4 2M23 9l4 2M166 10l4 2M73 15l4 2M13 19l4 2M3 20l4 2M37 31l4 2M110 28l4 2M115 37l4 2M53 47l4 2M64 46l4 2M6 53l4 2M125 58l4 2M28 61l4 2M19 62l4 2M101 85l4 2M109 85l4 2M106 99l4 2M45 109l4 2M84 120l4 2M54 130l4 2M8 147l4 2M16 149l4 2M20 170l4 2M18 174l4 2M2 181l4 2M8 182l4 2M12 184l4 2M0 189l4 2M4 194l4 2" stroke="#00d4ff"/><path d="M92 109l4 2M40 148l4 2M57 153l4 2" stroke="#ff8600"/><path d="M108 7l4 2M74 12l4 2" stroke="#c1ff3e"/><path d="M120 38l4 2M36 120l4 2" stroke="#ffef00"/><path d="M138 -1l4 2M124 3l4 2M147 3l4 2M138 12l4 2M134 15l4 2M144 15l4 2M149 19l4 2M153 25l4 2M9 26l4 2M147 27l4 2M152 28l4 2M152 32l4 2M76 40l4 2M68 45l4 2M166 47l4 2M133 58l4 2M2 68l4 2M3 69l4 2M48 71l4 2M27 73l4 2M18 78l4 2M129 84l4 2M140 97l4 2M150 98l4 2M146 99l4 2M132 105l4 2M21 112l4 2M11 121l4 2M96 121l4 2M111 123l4 2M115 123l4 2M135 123l4 2M4 126l4 2M87 126l4 2M140 128l4 2M101 134l4 2M106 134l4 2M109 132l4 2M77 142l4 2M83 142l4 2M117 142l4 2M121 142l4 2M80 143l4 2M105 146l4 2M116 144l4 2M119 144l4 2M123 145l4 2M106 149l4 2M114 151l4 2M124 149l4 2M132 156l4 2M108 157l4 2M98 168l4 2M123 172l4 2M24 185l4 2M23 202l4 2M50 163l4 2" stroke="#0052ff"/><path d="M74 67l4 2M50 76l4 2M4 78l4 2M58 79l4 2M39 81l4 2M32 86l4 2M13 89l4 2M37 90l4 2M6 96l4 2M36 94l4 2M44 95l4 2M16 102l4 2M7 103l4 2M10 104l4 2M74 174l4 2M73 183l4 2M79 186l4 2M55 196l4 2M97 197l4 2M72 202l4 2M73 201l4 2M86 203l4 2M43 207l4 2M109 209l4 2M44 213l4 2M71 219l4 2" stroke="#0000ce"/><path d="M131 5l4 2M15 7l4 2M149 22l4 2M156 23l4 2M145 24l4 2M155 26l4 2M163 41l4 2M168 48l4 2M171 48l4 2M107 53l4 2M136 50l4 2M108 55l4 2M19 78l4 2M143 78l4 2M154 87l4 2M140 91l4 2M129 97l4 2M145 97l4 2M40 106l4 2M134 108l4 2M102 115l4 2M125 124l4 2M6 127l4 2M106 129l4 2M0 130l4 2M132 130l4 2M124 135l4 2M89 137l4 2M102 136l4 2M131 139l4 2M82 144l4 2M94 143l4 2M89 147l4 2M105 146l4 2M134 150l4 2M94 155l4 2M126 158l4 2M94 159l4 2M96 166l4 2M91 168l4 2M105 174l4 2M34 175l4 2M36 178l4 2M108 175l4 2M106 179l4 2M92 183l4 2M110 182l4 2M93 184l4 2M112 184l4 2M121 184l4 2M37 167l4 2" stroke="#0052ff"/><path d="M58 145l4 2M47 152l4 2M46 163l4 2" stroke="#ff0300"/><path d="M144 4l4 2M142 4l4 2M140 10l4 2M4 13l4 2M152 19l4 2M148 31l4 2M145 34l4 2M92 36l4 2M155 36l4 2M79 38l4 2M163 39l4 2M68 41l4 2M163 45l4 2M173 50l4 2M135 69l4 2M11 75l4 2M11 78l4 2M137 88l4 2M154 90l4 2M126 97l4 2M142 101l4 2M29 107l4 2M111 115l4 2M114 114l4 2M105 117l4 2M14 125l4 2M8 131l4 2M94 132l4 2M108 131l4 2M124 129l4 2M117 134l4 2M131 132l4 2M121 135l4 2M127 136l4 2M96 140l4 2M108 139l4 2M109 138l4 2M116 139l4 2M110 141l4 2M128 140l4 2M69 145l4 2M77 143l4 2M86 145l4 2M69 146l4 2M76 146l4 2M82 148l4 2M123 147l4 2M75 148l4 2M100 150l4 2M111 149l4 2M128 148l4 2M132 157l4 2M96 163l4 2M127 165l4 2M104 170l4 2M105 173l4 2M36 173l4 2M89 180l4 2M109 180l4 2M90 181l4 2M107 182l4 2M28 184l4 2M26 199l4 2M41 162l4 2M50 160l4 2M58 162l4 2" stroke="#0052ff"/><path d="M80 -0l4 2M62 3l4 2M113 2l4 2M51 16l4 2M49 19l4 2M16 22l4 2M60 25l4 2M109 23l4 2M115 25l4 2M108 32l4 2M110 35l4 2M109 92l4 2M82 105l4 2M78 118l4 2M63 124l4 2M19 153l4 2M16 178l4 2M-0 185l4 2M76 95l4 2" stroke="#0afff5"/><path d="M71 4l4 2M156 4l4 2M160 8l4 2M166 14l4 2M171 22l4 2M176 21l4 2M39 28l4 2M53 27l4 2M130 26l4 2M170 28l4 2M132 33l4 2M47 34l4 2M56 47l4 2M126 50l4 2M29 57l4 2M17 70l4 2M80 84l4 2M121 88l4 2M119 93l4 2M99 99l4 2M106 102l4 2M37 110l4 2M93 118l4 2M31 122l4 2M8 136l4 2M72 141l4 2M3 144l4 2M5 144l4 2M1 146l4 2M3 171l4 2M14 182l4 2M8 184l4 2M8 189l4 2M47 163l4 2M44 166l4 2" stroke="#00baff"/><path d="M46 0l4 2M64 4l4 2M142 3l4 2M139 5l4 2M141 9l4 2M144 10l4 2M0 13l4 2M137 31l4 2M92 40l4 2M95 41l4 2M69 46l4 2M165 48l4 2M6 71l4 2M56 70l4 2M159 80l4 2M128 83l4 2M149 84l4 2M132 90l4 2M145 96l4 2M124 102l4 2M133 99l4 2M40 106l4 2M117 110l4 2M108 120l4 2M109 122l4 2M138 126l4 2M4 129l4 2M108 127l4 2M139 128l4 2M85 129l4 2M89 134l4 2M82 135l4 2M93 136l4 2M108 136l4 2M83 138l4 2M88 139l4 2M100 143l4 2M80 147l4 2M120 147l4 2M68 148l4 2M131 149l4 2M104 152l4 2M109 152l4 2M128 154l4 2M104 157l4 2M118 157l4 2M119 159l4 2M91 167l4 2M105 165l4 2M113 168l4 2M88 178l4 2M124 177l4 2M22 186l4 2M29 191l4 2M26 193l4 2M52 153l4 2" stroke="#0052ff"/><path d="M141 -0l4 2M21 4l4 2M67 3l4 2M136 8l4 2M139 23l4 2M121 29l4 2M151 30l4 2M127 32l4 2M155 33l4 2M95 39l4 2M136 38l4 2M161 43l4 2M166 44l4 2M67 51l4 2M97 56l4 2M97 59l4 2M22 77l4 2M20 78l4 2M158 78l4 2M73 80l4 2M143 88l4 2M147 89l4 2M126 94l4 2M83 95l4 2M137 97l4 2M153 101l4 2M127 111l4 2M136 111l4 2M142 112l4 2M18 117l4 2M11 120l4 2M118 120l4 2M119 120l4 2M106 122l4 2M8 129l4 2M124 127l4 2M120 132l4 2M129 131l4 2M119 133l4 2M122 133l4 2M130 132l4 2M86 137l4 2M127 135l4 2M77 140l4 2M112 140l4 2M131 151l4 2M91 160l4 2M96 160l4 2M92 164l4 2M104 163l4 2M15 167l4 2M43 170l4 2M95 171l4 2M112 174l4 2M119 175l4 2M121 174l4 2M91 180l4 2M122 179l4 2M95 184l4 2M99 183l4 2M25 188l4 2M29 186l4 2M30 200l4 2M32 141l4 2M34 146l4 2" stroke="#0052ff"/><path d="M126 1l4 2M129 2l4 2M144 8l4 2M139 16l4 2M144 20l4 2M145 23l4 2M148 25l4 2M139 33l4 2M148 32l4 2M145 36l4 2M135 51l4 2M165 56l4 2M168 55l4 2M169 54l4 2M75 76l4 2M72 80l4 2M161 81l4 2M146 85l4 2M159 84l4 2M148 87l4 2M153 87l4 2M155 89l4 2M154 92l4 2M141 104l4 2M143 103l4 2M144 107l4 2M141 109l4 2M148 110l4 2M147 116l4 2M142 121l4 2M98 121l4 2M117 126l4 2M-0 127l4 2M122 127l4 2M122 139l4 2M82 140l4 2M124 143l4 2M73 148l4 2M91 146l4 2M130 147l4 2M71 148l4 2M79 148l4 2M105 161l4 2M33 175l4 2M101 176l4 2M104 179l4 2M112 183l4 2M118 182l4 2M96 184l4 2M117 186l4 2M34 187l4 2M118 186l4 2M29 192l4 2" stroke="#0038ff"/><path d="M73 12l4 2M73 18l4 2M77 19l4 2M96 23l4 2M116 22l4 2M116 23l4 2M10 33l4 2M30 31l4 2M27 122l4 2" stroke="#58ffa7"/><path d="M33 81l4 2M43 85l4 2M36 88l4 2M35 88l4 2M15 95l4 2M17 96l4 2M18 98l4 2M17 104l4 2M7 107l4 2M17 105l4 2M5 108l4 2M1 111l4 2M62 179l4 2M76 183l4 2M54 192l4 2M48 193l4 2M78 196l4 2M50 200l4 2M49 202l4 2M62 205l4 2M69 203l4 2M50 207l4 2M79 206l4 2M93 205l4 2M97 207l4 2M69 209l4 2M45 211l4 2M48 214l4 2M73 215l4 2M94 215l4 2M53 217l4 2M59 216l4 2" stroke="#0000b4"/><path d="M47 141l4 2M53 145l4 2" stroke="#ff1d00"/><path d="M127 45l4 2M25 136l4 2" stroke="#c1ff3e"/><path d="M97 16l4 2M28 26l4 2M84 116l4 2" stroke="#58ffa7"/><path d="M127 45l4 2M112 92l4 2" stroke="#dbff24"/><path d="M44 25l4 2M105 34l4 2M121 51l4 2M89 85l4 2M95 84l4 2M58 121l4 2M57 122l4 2M57 127l4 2M24 165l4 2M23 170l4 2" stroke="#24ffdb"/><path d="M144 10l4 2M145 30l4 2M90 34l4 2M79 42l4 2M98 51l4 2M139 66l4 2M137 69l4 2M145 81l4 2M141 85l4 2M143 85l4 2M157 86l4 2M131 86l4 2M142 88l4 2M150 91l4 2M159 90l4 2M130 94l4 2M138 94l4 2M153 96l4 2M130 99l4 2M139 101l4 2M152 101l4 2M151 105l4 2M145 112l4 2M149 111l4 2M106 119l4 2M11 124l4 2M110 124l4 2M114 126l4 2M145 124l4 2M95 127l4 2M98 138l4 2M88 140l4 2M125 143l4 2M95 147l4 2M129 148l4 2M82 150l4 2M119 151l4 2M88 159l4 2M112 158l4 2M125 156l4 2M102 159l4 2M111 161l4 2M125 160l4 2M14 163l4 2M108 162l4 2M126 169l4 2M112 172l4 2M117 171l4 2M96 173l4 2M115 173l4 2M94 176l4 2M103 178l4 2M115 177l4 2M86 182l4 2M23 185l4 2M102 183l4 2M116 186l4 2M30 211l4 2M45 147l4 2M50 151l4 2M40 165l4 2" stroke="#0038ff"/><path d="M150 4l4 2M11 12l4 2M19 10l4 2M123 13l4 2M133 20l4 2M135 21l4 2M160 30l4 2M163 33l4 2M167 32l4 2M171 34l4 2M134 38l4 2M167 37l4 2M171 38l4 2M25 46l4 2M134 54l4 2M7 57l4 2M100 57l4 2M33 66l4 2M131 65l4 2M124 75l4 2M129 82l4 2M72 83l4 2M94 88l4 2M109 109l4 2M25 112l4 2M29 111l4 2M134 115l4 2M125 118l4 2M135 118l4 2M94 121l4 2M128 121l4 2M15 126l4 2M31 170l4 2M25 211l4 2M41 159l4 2" stroke="#0086ff"/><path d="M194 3l4 2M54 6l4 2M188 8l4 2M187 10l4 2M57 13l4 2M187 17l4 2M12 19l4 2M8 23l4 2M72 21l4 2M123 22l4 2M81 29l4 2M18 59l4 2M20 62l4 2M36 64l4 2M11 66l4 2M102 92l4 2M109 98l4 2M98 102l4 2M25 118l4 2M66 130l4 2M12 142l4 2M15 167l4 2M25 174l4 2M14 179l4 2" stroke="#00efff"/><path d="M77 10l4 2M81 9l4 2M100 10l4 2M60 19l4 2M109 23l4 2M30 26l4 2M45 32l4 2M37 37l4 2M113 39l4 2M87 82l4 2M14 134l4 2M17 135l4 2M25 143l4 2M13 157l4 2M20 168l4 2" stroke="#24ffdb"/><path d="M136 -1l4 2M140 1l4 2M115 4l4 2M127 5l4 2M129 5l4 2M8 11l4 2M131 13l4 2M141 21l4 2M150 29l4 2M155 37l4 2M160 39l4 2M97 44l4 2M170 50l4 2M61 58l4 2M57 67l4 2M148 79l4 2M158 92l4 2M124 95l4 2M148 102l4 2M133 103l4 2M34 107l4 2M139 105l4 2M121 107l4 2M126 107l4 2M103 115l4 2M111 116l4 2M121 121l4 2M138 121l4 2M139 122l4 2M127 126l4 2M131 125l4 2M135 125l4 2M91 131l4 2M142 131l4 2M1 132l4 2M84 134l4 2M85 137l4 2M95 135l4 2M119 135l4 2M128 139l4 2M16 141l4 2M89 143l4 2M98 140l4 2M113 141l4 2M131 140l4 2M19 144l4 2M96 145l4 2M19 146l4 2M25 148l4 2M86 147l4 2M118 149l4 2M91 153l4 2M123 152l4 2M122 156l4 2M95 156l4 2M97 159l4 2M115 158l4 2M87 161l4 2M112 160l4 2M89 163l4 2M113 162l4 2M107 165l4 2M93 168l4 2M100 168l4 2M115 169l4 2M97 171l4 2M111 176l4 2M28 194l4 2M40 151l4 2M61 151l4 2M49 167l4 2" stroke="#0052ff"/><path d="M9 0l4 2M132 -0l4 2M4 1l4 2M7 4l4 2M3 10l4 2M84 43l4 2M146 46l4 2M152 47l4 2M157 47l4 2M158 45l4 2M92 49l4 2M145 51l4 2M64 66l4 2M167 65l4 2M153 68l4 2M165 70l4 2M1 74l4 2M146 75l4 2M28 84l4 2M29 88l4 2M59 88l4 2M16 93l4 2M36 104l4 2M69 156l4 2M83 160l4 2M108 169l4 2M74 172l4 2M85 173l4 2M83 180l4 2M83 183l4 2M40 185l4 2M36 187l4 2M92 190l4 2M92 194l4 2M113 193l4 2M112 204l4 2" stroke="#0003ff"/><path d="M88 2l4 2M60 16l4 2M63 26l4 2M122 33l4 2M22 155l4 2" stroke="#3effc1"/><path d="M86 -0l4 2M190 9l4 2M65 11l4 2M185 13l4 2M20 24l4 2M60 31l4 2M75 29l4 2M71 33l4 2M45 36l4 2M126 59l4 2M93 80l4 2M98 93l4 2M80 94l4 2M98 94l4 2M40 114l4 2M27 118l4 2M33 115l4 2M75 119l4 2M65 122l4 2M69 121l4 2M79 121l4 2M57 125l4 2M61 136l4 2M22 143l4 2M6 154l4 2M28 166l4 2M16 168l4 2M25 168l4 2M-0 171l4 2M6 171l4 2M74 89l4 2" stroke="#00efff"/><path d="M3 -1l4 2M14 3l4 2M144 38l4 2M83 41l4 2M82 46l4 2M91 50l4 2M93 56l4 2M148 64l4 2M56 74l4 2M25 80l4 2M12 82l4 2M13 84l4 2M17 83l4 2M26 83l4 2M48 95l4 2M40 103l4 2M77 153l4 2M84 163l4 2M59 168l4 2M52 172l4 2M80 173l4 2M103 190l4 2M37 213l4 2" stroke="#0003ff"/><path d="M61 118l4 2M47 159l4 2" stroke="#ff8600"/><path d="M103 -1l4 2M121 1l4 2M161 20l4 2M15 27l4 2M135 30l4 2M92 34l4 2M82 35l4 2M135 35l4 2M116 38l4 2M26 43l4 2M40 46l4 2M58 50l4 2M41 52l4 2M40 57l4 2M-0 68l4 2M51 70l4 2M32 72l4 2M16 75l4 2M81 105l4 2M30 109l4 2M26 115l4 2M79 124l4 2M14 126l4 2M69 132l4 2M67 137l4 2M69 138l4 2M24 189l4 2M20 193l4 2M10 209l4 2M15 210l4 2M46 158l4 2" stroke="#0086ff"/><path d="M52 85l4 2M0 89l4 2M58 183l4 2M63 185l4 2" stroke="#000080"/><path d="M190 1l4 2M168 4l4 2M160 4l4 2M172 6l4 2M179 13l4 2M181 13l4 2M170 19l4 2M10 24l4 2M73 23l4 2M64 34l4 2M111 39l4 2M121 48l4 2M18 64l4 2M82 104l4 2M45 111l4 2M71 120l4 2M18 130l4 2M16 143l4 2M12 146l4 2M2 161l4 2M27 162l4 2M7 167l4 2M12 166l4 2M7 169l4 2M6 200l4 2" stroke="#00efff"/><path d="M99 1l4 2M7 32l4 2M43 119l4 2M20 156l4 2" stroke="#a7ff58"/><path d="M47 6l4 2M48 7l4 2M80 7l4 2M107 29l4 2M38 34l4 2M26 62l4 2M88 78l4 2M23 125l4 2M20 167l4 2" stroke="#24ffdb"/><path d="M103 7l4 2M83 115l4 2M61 126l4 2M36 126l4 2" stroke="#8dff72"/><path d="M54 78l4 2M5 83l4 2M10 108l4 2M72 180l4 2M58 194l4 2M61 193l4 2M43 196l4 2M71 198l4 2M76 198l4 2M59 200l4 2M83 208l4 2M96 208l4 2M53 213l4 2M63 214l4 2M88 217l4 2" stroke="#0000b4"/><path d="M161 1l4 2M165 1l4 2M175 0l4 2M176 0l4 2M75 4l4 2M182 17l4 2M173 19l4 2M0 22l4 2M58 26l4 2M49 29l4 2M38 32l4 2M64 34l4 2M40 35l4 2M129 34l4 2M114 45l4 2M130 44l4 2M116 50l4 2M110 51l4 2M14 57l4 2M15 57l4 2M19 58l4 2M0 59l4 2M40 61l4 2M14 65l4 2M82 83l4 2M93 92l4 2M103 96l4 2M97 99l4 2M114 98l4 2M104 101l4 2M41 110l4 2M30 120l4 2M66 122l4 2M67 125l4 2M16 132l4 2M23 132l4 2M18 149l4 2M5 154l4 2M2 162l4 2M6 164l4 2M23 177l4 2M10 181l4 2" stroke="#00d4ff"/><path d="M48 2l4 2M99 2l4 2M49 9l4 2M67 9l4 2M13 29l4 2M32 61l4 2M24 65l4 2" stroke="#3effc1"/><path d="M37 115l4 2" stroke="#ffba00"/><path d="M38 -2l4 2M20 5l4 2M135 9l4 2M147 14l4 2M139 17l4 2M159 49l4 2M102 52l4 2M172 53l4 2M67 57l4 2M56 62l4 2M139 61l4 2M59 70l4 2M150 76l4 2M145 79l4 2M15 82l4 2M155 82l4 2M66 87l4 2M129 92l4 2M132 92l4 2M141 92l4 2M150 104l4 2M44 106l4 2M119 109l4 2M16 116l4 2M137 115l4 2M113 116l4 2M140 116l4 2M147 116l4 2M9 118l4 2M144 122l4 2M90 126l4 2M120 125l4 2M99 127l4 2M103 129l4 2M118 128l4 2M139 130l4 2M86 135l4 2M110 136l4 2M118 138l4 2M139 140l4 2M101 140l4 2M85 148l4 2M112 154l4 2M120 156l4 2M119 163l4 2M121 166l4 2M124 166l4 2M87 172l4 2M89 174l4 2M116 181l4 2M35 181l4 2M101 181l4 2M32 186l4 2M34 185l4 2M41 165l4 2M34 165l4 2" stroke="#0038ff"/><path d="M89 109l4 2M62 168l4 2" stroke="#ff8600"/><path d="M85 53l4 2M4 83l4 2M37 85l4 2M7 92l4 2M20 101l4 2M6 109l4 2M54 174l4 2M57 174l4 2M69 176l4 2M63 193l4 2M47 198l4 2M63 200l4 2M116 201l4 2M45 204l4 2M97 205l4 2M47 207l4 2M66 206l4 2M95 211l4 2M101 213l4 2M81 218l4 2" stroke="#0000b4"/><path d="M93 1l4 2M116 8l4 2M69 11l4 2M109 12l4 2M106 20l4 2M114 34l4 2M124 42l4 2M27 129l4 2M23 129l4 2M22 135l4 2M33 121l4 2" stroke="#8dff72"/><path d="M7 87l4 2M82 203l4 2M70 206l4 2M55 209l4 2M92 211l4 2M94 211l4 2" stroke="#00009a"/><path d="M61 142l4 2" stroke="#ff1d00"/><path d="M94 4l4 2M96 12l4 2M36 123l4 2M44 121l4 2M34 130l4 2M37 131l4 2M41 134l4 2" stroke="#f5ff0a"/><path d="M96 -1l4 2M112 91l4 2M41 138l4 2" stroke="#72ff8d"/><path d="M16 3l4 2M148 38l4 2M89 39l4 2M144 42l4 2M83 50l4 2M156 52l4 2M163 58l4 2M83 58l4 2M158 61l4 2M151 69l4 2M159 69l4 2M139 70l4 2M149 72l4 2M156 72l4 2M62 84l4 2M21 105l4 2M43 115l4 2M6 118l4 2M114 134l4 2M66 157l4 2M82 172l4 2M44 182l4 2M112 191l4 2M37 201l4 2M108 203l4 2M36 215l4 2" stroke="#0003ff"/><path d="M59 148l4 2" stroke="#ff0300"/><path d="M172 1l4 2M187 1l4 2M189 4l4 2M119 5l4 2M56 8l4 2M161 9l4 2M23 12l4 2M176 16l4 2M178 17l4 2M7 20l4 2M186 18l4 2M176 24l4 2M3 26l4 2M61 39l4 2M131 39l4 2M33 49l4 2M22 55l4 2M127 55l4 2M129 55l4 2M123 57l4 2M102 86l4 2M112 88l4 2M98 88l4 2M82 93l4 2M89 94l4 2M101 95l4 2M100 102l4 2M99 110l4 2M92 117l4 2M20 124l4 2M11 145l4 2M10 148l4 2M25 152l4 2M10 168l4 2M20 176l4 2M1 181l4 2M4 181l4 2M9 180l4 2M7 196l4 2M73 93l4 2M79 97l4 2" stroke="#00d4ff"/><path d="M61 22l4 2M22 24l4 2M80 25l4 2M95 26l4 2M119 26l4 2M72 35l4 2M119 53l4 2M30 59l4 2M91 84l4 2M114 93l4 2M89 115l4 2M31 117l4 2M73 117l4 2M49 121l4 2M81 121l4 2M89 120l4 2M51 130l4 2M58 140l4 2M14 146l4 2M16 154l4 2" stroke="#0afff5"/><path d="M90 3l4 2M105 17l4 2M39 117l4 2M46 127l4 2M45 137l4 2" stroke="#f5ff0a"/><path d="M54 13l4 2M98 20l4 2" stroke="#ffa000"/><path d="M149 58l4 2M30 79l4 2M29 82l4 2M54 88l4 2M28 93l4 2M26 94l4 2M37 98l4 2M1 110l4 2M76 161l4 2M78 162l4 2M76 179l4 2M76 186l4 2M81 186l4 2M48 192l4 2M64 189l4 2M47 192l4 2M71 197l4 2M87 200l4 2M64 205l4 2M49 211l4 2M80 212l4 2M60 214l4 2M102 218l4 2" stroke="#0000ce"/><path d="M110 6l4 2M151 6l4 2M18 8l4 2M151 11l4 2M155 17l4 2M132 27l4 2M158 28l4 2M29 40l4 2M98 40l4 2M105 47l4 2M-0 50l4 2M25 50l4 2M68 48l4 2M30 52l4 2M36 53l4 2M41 55l4 2M47 54l4 2M34 56l4 2M130 57l4 2M7 62l4 2M37 70l4 2M22 72l4 2M116 102l4 2M116 107l4 2M124 117l4 2M127 119l4 2M80 128l4 2M79 131l4 2M72 133l4 2M65 136l4 2M20 210l4 2M36 146l4 2M37 154l4 2M39 164l4 2" stroke="#0086ff"/><path d="M101 15l4 2" stroke="#ff3800"/><path d="M59 -0l4 2M81 14l4 2M69 26l4 2" stroke="#dbff24"/><path d="M42 2l4 2M83 3l4 2M114 21l4 2M55 41l4 2M88 118l4 2M32 124l4 2" stroke="#58ffa7"/><path d="M50 -1l4 2M23 2l4 2M99 8l4 2M1 16l4 2M122 20l4 2M167 20l4 2M162 20l4 2M86 28l4 2M172 26l4 2M135 33l4 2M28 46l4 2M50 55l4 2M114 54l4 2M33 56l4 2M7 61l4 2M49 69l4 2M126 76l4 2M91 95l4 2M108 104l4 2M110 107l4 2M33 110l4 2M36 108l4 2M104 112l4 2M49 115l4 2M52 119l4 2M77 128l4 2M13 132l4 2M16 140l4 2M22 162l4 2M38 172l4 2M16 181l4 2M23 182l4 2M19 198l4 2M1 205l4 2M68 86l4 2M56 151l4 2M63 152l4 2M46 156l4 2" stroke="#00a0ff"/><path d="M74 27l4 2M19 30l4 2M22 157l4 2M39 124l4 2M35 137l4 2" stroke="#a7ff58"/><path d="M7 6l4 2M1 8l4 2M11 25l4 2M154 42l4 2M92 45l4 2M151 45l4 2M89 48l4 2M75 53l4 2M82 54l4 2M156 56l4 2M163 61l4 2M76 62l4 2M157 65l4 2M64 74l4 2M53 76l4 2M66 77l4 2M28 79l4 2M34 78l4 2M8 84l4 2M16 85l4 2M55 84l4 2M24 86l4 2M18 90l4 2M29 91l4 2M33 89l4 2M50 90l4 2M18 94l4 2M33 92l4 2M41 94l4 2M45 95l4 2M52 95l4 2M48 99l4 2M7 113l4 2M67 169l4 2M68 171l4 2M72 172l4 2M75 174l4 2M51 178l4 2M80 178l4 2M49 182l4 2M77 189l4 2M108 191l4 2M84 192l4 2M110 194l4 2M88 196l4 2M95 197l4 2M112 196l4 2M38 200l4 2M111 198l4 2M105 209l4 2M82 214l4 2" stroke="#0000e8"/><path d="M11 26l4 2" stroke="#000080"/><path d="M33 31l4 2" stroke="#ff3800"/><path d="M103 23l4 2M29 138l4 2M58 118l4 2M46 123l4 2M40 139l4 2" stroke="#ffef00"/><path d="M109 26l4 2M127 39l4 2" stroke="#ffd500"/><path d="M181 -1l4 2M162 3l4 2M164 3l4 2M177 2l4 2M183 2l4 2M165 4l4 2M187 4l4 2M166 8l4 2M182 9l4 2M191 9l4 2M12 22l4 2M56 21l4 2M33 27l4 2M94 27l4 2M71 30l4 2M120 29l4 2M43 34l4 2M74 31l4 2M69 36l4 2M44 39l4 2M46 38l4 2M3 47l4 2M117 52l4 2M42 67l4 2M40 67l4 2M43 69l4 2M110 88l4 2M118 89l4 2M106 94l4 2M104 108l4 2M105 108l4 2M73 123l4 2M15 128l4 2M20 126l4 2M13 149l4 2M26 169l4 2M30 167l4 2M1 175l4 2M6 184l4 2M11 192l4 2" stroke="#00d4ff"/><path d="M88 7l4 2M55 17l4 2M57 17l4 2M107 15l4 2M109 35l4 2M32 38l4 2M123 52l4 2M127 52l4 2M51 116l4 2M80 119l4 2" stroke="#24ffdb"/><path d="M63 163l4 2" stroke="#e80000"/><path d="M100 23l4 2M91 83l4 2M27 150l4 2M41 142l4 2" stroke="#8dff72"/><path d="M38 144l4 2M51 146l4 2M35 149l4 2M43 154l4 2M32 155l4 2" stroke="#ffa000"/><path d="M111 -0l4 2" stroke="#ffd500"/><path d="M88 46l4 2M78 51l4 2M83 51l4 2M151 60l4 2M164 61l4 2M69 63l4 2M150 63l4 2M160 62l4 2M165 62l4 2M69 64l4 2M155 66l4 2M64 67l4 2M156 67l4 2M51 79l4 2M59 83l4 2M59 88l4 2M36 98l4 2M37 101l4 2M45 101l4 2M5 111l4 2M77 159l4 2M69 164l4 2M66 168l4 2M67 172l4 2M51 173l4 2M72 175l4 2M60 180l4 2M85 188l4 2M110 195l4 2M109 199l4 2M113 201l4 2M89 203l4 2M112 205l4 2M107 209l4 2" stroke="#0000e8"/><path d="M111 10l4 2M112 31l4 2M115 87l4 2" stroke="#ff8600"/><path d="M106 5l4 2M175 6l4 2M11 17l4 2M23 15l4 2M120 16l4 2M19 18l4 2M55 20l4 2M14 21l4 2M0 25l4 2M124 23l4 2M24 27l4 2M37 31l4 2M59 28l4 2M27 31l4 2M39 38l4 2M51 38l4 2M111 39l4 2M119 41l4 2M117 44l4 2M132 48l4 2M118 49l4 2M21 60l4 2M24 60l4 2M91 79l4 2M116 90l4 2M81 102l4 2M100 106l4 2M35 113l4 2M1 158l4 2M17 157l4 2M9 171l4 2M11 173l4 2M23 173l4 2M2 186l4 2M5 191l4 2M7 190l4 2M3 198l4 2M79 95l4 2" stroke="#00efff"/><path d="M100 17l4 2M24 139l4 2M29 143l4 2M41 129l4 2" stroke="#ffef00"/><path d="M115 17l4 2M101 20l4 2M43 26l4 2M114 28l4 2M125 37l4 2M30 134l4 2M32 136l4 2" stroke="#c1ff3e"/><path d="M103 12l4 2M31 30l4 2M29 131l4 2M27 148l4 2M32 147l4 2M45 148l4 2" stroke="#ffa000"/><path d="M115 86l4 2M63 166l4 2" stroke="#ff6c00"/><path d="M147 8l4 2M156 26l4 2M178 28l4 2M84 37l4 2M166 39l4 2M162 39l4 2M66 44l4 2M103 49l4 2M64 56l4 2M53 69l4 2M127 67l4 2M8 71l4 2M125 85l4 2M122 90l4 2M123 89l4 2M124 99l4 2M147 105l4 2M120 106l4 2M24 111l4 2M20 113l4 2M122 113l4 2M116 116l4 2M128 117l4 2M137 119l4 2M103 125l4 2M86 127l4 2M4 131l4 2M74 132l4 2M74 138l4 2M111 151l4 2M99 164l4 2M35 172l4 2M118 176l4 2M26 206l4 2M27 207l4 2M59 156l4 2" stroke="#006cff"/><path d="M116 0l4 2M193 0l4 2M16 25l4 2M47 25l4 2M83 25l4 2M5 27l4 2M78 26l4 2M125 27l4 2M69 33l4 2M130 42l4 2M58 42l4 2M129 49l4 2M20 64l4 2M98 87l4 2M105 106l4 2M58 132l4 2M14 139l4 2M4 162l4 2M2 189l4 2M75 92l4 2" stroke="#0afff5"/><path d="M106 1l4 2M144 -1l4 2M113 9l4 2M127 10l4 2M129 11l4 2M150 12l4 2M151 15l4 2M123 28l4 2M91 33l4 2M71 39l4 2M52 41l4 2M136 41l4 2M63 43l4 2M113 50l4 2M136 49l4 2M137 49l4 2M1 56l4 2M59 60l4 2M0 65l4 2M79 77l4 2M129 88l4 2M135 90l4 2M119 98l4 2M33 107l4 2M20 117l4 2M101 118l4 2M134 120l4 2M8 126l4 2M83 128l4 2M76 132l4 2M81 133l4 2M73 137l4 2M73 137l4 2M101 150l4 2M27 181l4 2M20 202l4 2M33 152l4 2" stroke="#006cff"/><path d="M145 4l4 2M159 33l4 2M70 39l4 2M72 42l4 2M136 47l4 2M61 49l4 2M62 56l4 2M3 64l4 2M54 71l4 2M11 72l4 2M135 84l4 2M128 102l4 2M25 110l4 2M123 115l4 2M106 116l4 2M124 122l4 2M105 125l4 2M78 135l4 2M134 143l4 2M135 146l4 2M122 148l4 2M24 194l4 2M17 199l4 2M27 209l4 2M42 145l4 2" stroke="#006cff"/><path d="M13 7l4 2M134 13l4 2M34 25l4 2M140 25l4 2M83 40l4 2M139 44l4 2M167 52l4 2M139 68l4 2M161 73l4 2M29 75l4 2M74 80l4 2M18 82l4 2M151 82l4 2M144 86l4 2M156 87l4 2M144 93l4 2M142 96l4 2M135 105l4 2M140 105l4 2M147 107l4 2M21 109l4 2M19 114l4 2M115 120l4 2M140 121l4 2M111 124l4 2M112 128l4 2M115 128l4 2M127 129l4 2M134 129l4 2M97 134l4 2M100 135l4 2M139 136l4 2M81 140l4 2M92 138l4 2M101 140l4 2M103 139l4 2M132 139l4 2M103 143l4 2M113 147l4 2M73 152l4 2M87 152l4 2M89 154l4 2M106 155l4 2M109 156l4 2M114 156l4 2M121 162l4 2M113 165l4 2M116 165l4 2M46 173l4 2M99 175l4 2M114 181l4 2M123 181l4 2M107 187l4 2M115 189l4 2M25 194l4 2M28 203l4 2M32 209l4 2M34 212l4 2M44 141l4 2M51 141l4 2M43 155l4 2" stroke="#0038ff"/><path d="M10 7l4 2M138 18l4 2M144 20l4 2M79 46l4 2M141 50l4 2M95 50l4 2M75 72l4 2M143 73l4 2M155 75l4 2M97 89l4 2M28 104l4 2M112 132l4 2M117 129l4 2M108 143l4 2M67 152l4 2M78 152l4 2M83 154l4 2M118 161l4 2M121 168l4 2M92 186l4 2M101 187l4 2M36 190l4 2M33 192l4 2" stroke="#001dff"/><path d="M49 159l4 2" stroke="#ff5200"/><path d="M77 12l4 2" stroke="#ffba00"/><path d="M10 3l4 2M10 31l4 2M155 41l4 2M148 42l4 2M96 47l4 2M147 49l4 2M154 49l4 2M89 56l4 2M70 59l4 2M144 62l4 2M145 68l4 2M71 74l4 2M0 76l4 2M34 76l4 2M36 77l4 2M46 77l4 2M26 81l4 2M56 92l4 2M51 98l4 2M32 104l4 2M27 106l4 2M67 154l4 2M56 169l4 2M43 178l4 2M38 183l4 2M41 184l4 2M80 181l4 2M45 183l4 2M41 198l4 2M106 199l4 2M109 201l4 2" stroke="#0003ff"/><path d="M38 142l4 2" stroke="#e80000"/><path d="M8 91l4 2M4 98l4 2M57 188l4 2M68 186l4 2M53 190l4 2M75 195l4 2M52 203l4 2M56 205l4 2M54 209l4 2" stroke="#00009a"/><path d="M85 9l4 2M64 16l4 2M36 32l4 2M33 139l4 2M46 141l4 2M40 143l4 2" stroke="#ffef00"/><path d="M40 26l4 2M125 40l4 2" stroke="#72ff8d"/><path d="M112 14l4 2M66 24l4 2M70 26l4 2M115 29l4 2M25 130l4 2M14 158l4 2" stroke="#c1ff3e"/><path d="M69 9l4 2M106 13l4 2M76 17l4 2M20 27l4 2M51 123l4 2M56 138l4 2" stroke="#58ffa7"/><path d="M44 29l4 2" stroke="#ffba00"/><path d="M132 2l4 2M12 4l4 2M4 8l4 2M141 28l4 2M14 32l4 2M54 44l4 2M80 48l4 2M144 49l4 2M141 65l4 2M134 96l4 2M153 96l4 2M12 116l4 2M3 119l4 2M14 120l4 2M91 128l4 2M132 137l4 2M134 137l4 2M96 151l4 2M86 158l4 2M105 167l4 2M85 178l4 2M82 184l4 2M38 192l4 2M116 196l4 2M37 148l4 2M52 165l4 2" stroke="#001dff"/><path d="M51 -1l4 2M116 13l4 2M116 19l4 2M47 27l4 2M121 49l4 2M24 62l4 2M85 81l4 2M87 83l4 2M49 116l4 2M22 123l4 2M62 124l4 2M12 135l4 2M5 151l4 2M25 150l4 2M5 153l4 2M9 151l4 2M4 158l4 2M20 159l4 2M17 172l4 2" stroke="#0afff5"/><path d="M113 -1l4 2M82 8l4 2M104 19l4 2M21 33l4 2M44 132l4 2" stroke="#72ff8d"/><path d="M77 5l4 2M92 6l4 2M117 27l4 2M110 31l4 2M53 129l4 2M14 178l4 2" stroke="#3effc1"/><path d="M54 12l4 2M109 20l4 2M82 111l4 2M44 120l4 2" stroke="#f5ff0a"/><path d="M82 16l4 2M112 26l4 2M31 35l4 2M126 34l4 2M42 117l4 2M58 135l4 2M23 141l4 2" stroke="#c1ff3e"/><path d="M3 88l4 2M2 96l4 2M0 97l4 2M14 104l4 2M62 187l4 2M70 192l4 2M74 194l4 2M80 201l4 2M74 212l4 2" stroke="#00009a"/><path d="M37 142l4 2" stroke="#ff0300"/><path d="M117 86l4 2M61 148l4 2M43 150l4 2" stroke="#ff8600"/><path d="M109 2l4 2M150 6l4 2M149 7l4 2M129 16l4 2M119 21l4 2M152 21l4 2M160 35l4 2M31 44l4 2M75 42l4 2M172 45l4 2M3 58l4 2M43 56l4 2M54 60l4 2M133 60l4 2M136 62l4 2M135 64l4 2M23 74l4 2M30 74l4 2M128 89l4 2M138 92l4 2M122 97l4 2M128 104l4 2M131 104l4 2M122 106l4 2M48 108l4 2M123 113l4 2M102 122l4 2M134 143l4 2M67 146l4 2M102 145l4 2M118 146l4 2M109 149l4 2M128 164l4 2M30 179l4 2M20 184l4 2M17 190l4 2M16 201l4 2M23 203l4 2M60 159l4 2" stroke="#006cff"/><path d="M77 1l4 2M97 4l4 2M80 17l4 2" stroke="#c1ff3e"/><path d="M2 6l4 2M15 34l4 2M146 52l4 2M145 57l4 2M153 63l4 2M159 62l4 2M66 67l4 2M48 75l4 2M56 76l4 2M48 86l4 2M18 86l4 2M40 89l4 2M34 91l4 2M54 94l4 2M48 100l4 2M62 174l4 2M56 178l4 2M44 180l4 2M40 188l4 2M40 190l4 2M84 189l4 2M89 195l4 2M105 192l4 2M106 197l4 2M100 203l4 2M114 205l4 2M107 207l4 2M109 213l4 2" stroke="#0000e8"/><path d="M123 8l4 2M13 14l4 2M19 12l4 2M123 15l4 2M53 22l4 2M6 23l4 2M165 26l4 2M177 27l4 2M86 30l4 2M175 30l4 2M80 35l4 2M98 37l4 2M101 42l4 2M45 46l4 2M45 50l4 2M35 52l4 2M38 53l4 2M39 54l4 2M115 54l4 2M25 56l4 2M47 58l4 2M10 68l4 2M30 71l4 2M15 72l4 2M80 82l4 2M87 87l4 2M89 89l4 2M121 93l4 2M110 97l4 2M114 101l4 2M46 116l4 2M75 116l4 2M11 132l4 2M8 134l4 2M5 136l4 2M27 177l4 2M24 190l4 2M18 196l4 2M18 209l4 2M47 152l4 2M38 156l4 2M32 157l4 2M38 162l4 2M54 164l4 2" stroke="#00a0ff"/><path d="M65 -2l4 2M46 3l4 2M93 2l4 2M113 15l4 2M101 23l4 2M49 136l4 2M44 140l4 2" stroke="#f5ff0a"/><path d="M11 1l4 2M144 42l4 2M156 45l4 2M74 52l4 2M86 58l4 2M146 68l4 2M61 75l4 2M69 78l4 2M62 88l4 2M24 90l4 2M28 100l4 2M29 102l4 2M32 101l4 2M43 103l4 2M10 112l4 2M6 117l4 2M69 159l4 2M82 170l4 2M85 184l4 2M86 191l4 2M91 190l4 2M99 191l4 2M94 192l4 2M101 197l4 2M33 197l4 2M91 201l4 2M108 201l4 2M37 203l4 2" stroke="#0003ff"/><path d="M42 -0l4 2M102 3l4 2M101 4l4 2M94 8l4 2M64 18l4 2M65 30l4 2M118 33l4 2M3 34l4 2M60 124l4 2" stroke="#3effc1"/><path d="M97 5l4 2M15 159l4 2M35 123l4 2M43 127l4 2" stroke="#f5ff0a"/><path d="M70 14l4 2M77 24l4 2M112 32l4 2M41 118l4 2M38 136l4 2" stroke="#dbff24"/><path d="M85 11l4 2M28 65l4 2M38 118l4 2M32 134l4 2M26 140l4 2" stroke="#dbff24"/><path d="M81 19l4 2M11 34l4 2M26 132l4 2" stroke="#a7ff58"/><path d="M68 19l4 2M57 118l4 2M49 149l4 2M54 167l4 2M59 167l4 2" stroke="#ff6c00"/></g></g>
<path d="M1227.5,571.8 1230.5,570.8 1235,570.3 1238.5,573.8 1237.5,577.8 1239,580.8 1235.5,584.8 1234,589.8 1235,593.8 1233.5,596.3 1237,604.3 1233,604.3 1228.5,607.3 1224,610.8 1223,608.3 1226.5,603.8 1225.5,600.8 1229,598.8 1227.5,595.8 1229.5,593.3 1228,589.3 1229.5,586.8 1227,585.3 1230,582.3 1227.5,577.8 1229,575.3ZM1247,555.3 1251.5,551.3 1258.5,549.8 1265.5,549 1271.5,548.8 1272,552.8 1266.5,554.8 1259.5,557.3 1252.5,559.3 1247.5,559.8ZM1037.8,486.2 1040,486.2 1040,630 1037.8,630ZM1270.4,505.3 1272.4,505.3 1272.4,553.3 1270.4,553.3ZM1144,640.3 1147.5,639.8 1150,642.3 1150.5,646.3 1148,648.8 1145,647.3 1143.5,643.8Z" fill="#000" stroke="#000" stroke-width="1.2" stroke-linejoin="round" clip-path="url(#ax5)"/>
<path d="M1216.9 615.1l-2.1 -1.9M1214.6 617.7l1.2 1.1M1214.4 617.9l-0.9 -0.8M1212.8 619.6l0.7 0.9M1211.0 621.2l-2.4 -2.8M1209.6 622.3l-2.5 -2.9M1207.7 624.0l1.5 1.7M1206.4 625.2l-0.8 -0.9M1205.1 626.3l-2.5 -3.2M1203.5 627.5l-0.8 -1.0M1202.1 629.3l-3.1 -1.2M1201.2 631.8l-3.7 -1.4M1200.5 633.8l-2.8 -0.9M1199.7 636.1l-1.4 -0.5M1199.4 637.3l1.1 0.4M1235.7 604.4l-1.4 -2.8M1234.1 605.1l1.0 2.0M1232.6 606.1l1.0 1.4M1230.9 607.3l-1.3 -1.8M1228.1 608.6l0.6 2.4M1226.8 608.9l-0.8 -3.2M1225.1 610.3l1.7 1.7M1224.9 610.4l1.3 1.4M1222.8 612.6l-2.1 -2.1M1222.4 612.9l1.1 1.1M1219.3 614.4l-0.3 -1.4M1218.4 614.6l-0.3 -1.6M1181.6 643.1l0.7 2.3M1183.1 642.7l-2.0 2.3M1184.8 644.2l1.2 -1.3M1186.5 646.4l2.1 -1.3M1186.9 647.0l-1.1 0.7M1187.7 648.4l-2.6 1.6M1190.0 651.0l-2.5 3.3M1191.0 651.7l-1.0 1.3M1198.5 672.7l1.5 -1.7M1196.9 671.4l2.6 -2.9M1196.5 670.5l3.5 -1.5M1195.3 667.8l-1.6 0.7M1125.0 645.2l0.7 -2.4M1127.5 645.9l0.5 -1.8M1129.6 646.4l-0.2 2.1M1132.0 646.6l-0.3 2.8M1134.4 647.4l-1.8 3.8M1134.8 647.6l0.8 -1.6M1136.9 648.6l-1.1 2.9M1139.4 649.6l-1.2 3.0M1141.6 649.9l-0.0 2.0M1142.3 649.9l0.0 -0.8M1144.2 649.9l-0.6 -1.3M1146.5 648.9l1.2 2.7M1232.9 591.0l0.7 -1.6M1231.1 588.7l2.0 -0.3M1231.0 588.2l-2.2 0.3M1230.8 585.1l-1.0 -0.1M1230.9 584.0l3.6 0.3M1230.9 581.8l-1.9 0.4M1230.2 579.0l1.5 -0.3M1230.4 576.5l3.2 0.5M1230.5 575.5l3.7 0.6M1230.8 574.2l3.1 1.4M1232.5 570.5l2.3 1.1" stroke="#000" stroke-width="1.5" stroke-linecap="round" clip-path="url(#ax5)"/>
<path d="M1032.6,486.3 1113.1,486.3M1057.3,486.3 1057.3,557.9M1032.6,523.4 1057.3,523.4M1032.6,557.9 1069.9,557.9M1069.9,557.9 1069.9,590.4M1032.6,590.4 1116.5,590.4M1063.9,590.4 1063.9,594.3 1063.7,628.7 1041.2,628.7 1041.8,630.3 1032.6,630.3M1063.9,594.3 1082.7,594.3 1082.7,609.4M1082.7,609.4 1085.2,610.7 1087.7,611 1092.1,612.6 1095.3,612.9 1098.4,614.4 1100.9,615.5 1102.2,614 1105.3,615.5 1108.4,614.6 1110.9,614.6 1114.1,614.8 1117.3,616.4 1120.1,617.1 1120.1,628.7M1117.3,616.4 1117.7,602.9 1116.5,594.3 1116.5,573.5 1114.7,570.3 1114.1,567.4 1112.1,566.2M1069.9,566.2 1112.1,566.2M1112.1,566.2 1109.3,561.4 1108.8,558.7 1107.8,556.2 1107.2,552.8 1105.6,549.5 1104,545.2 1101.5,542.9 1098.4,542.2 1092.1,540.9 1057.3,540.9M1104,545.2 1105,545.3 1104,539.8 1105,536.6 1105,520.7 1104.3,514.9 1057.3,514.9M1104.3,514.9 1104,511.6 1102.8,506.1 1102.2,498.7 1100.6,491.1 1100.1,486.3M1109.3,561.4 1136.5,563M1105,536.6 1137.8,536.6M1128.2,525.6 1132.9,528.7 1137.3,533.1 1137.8,536.6 1138.5,543.5 1141.4,545.2 1144.5,549.2 1144.2,551.2 1139.8,554.5 1138.5,557 1139.2,560.4 1136.5,563 1136.7,566.2 1138.5,568.6 1141,573.5 1144.2,575.2 1144.2,577.6 1143.6,580.8 1147.9,586.4 1148.6,589.6 1150.6,590.4 1151.1,591.2 1148.9,594.3 1148.3,595.9 1147.3,598.2 1145.4,602.1 1144.8,606 1143.6,608.3 1141.7,610.6 1139.2,613.6 1138.2,617.4 1138.2,621.2 1137.9,625 1139.2,627.9 1136.7,631.7 1135.4,636.1M1128.2,525.6 1127.9,523.4 1128.2,518 1131,513.4 1131,508.4 1132.3,507.5M1113.1,486.3 1113.1,482.6 1115.3,483.4 1116.6,489.2 1123.5,490.6 1129.1,491.6 1136,495.4 1140.4,493.9 1147.9,495.8 1143.6,498.2 1137.3,502.4 1132.3,507.5M1132.3,507.5 1136.7,506.6 1139.8,505.6 1141,508.9 1142.9,509.1 1144.8,511.2 1151.1,513.3 1157.3,514.8 1159.2,519.8 1160.5,522.5M1160.5,522.5 1158.6,524.7 1158,527.4 1160.5,524.7 1164.2,520.7 1162.4,525.6 1161.1,529.6 1159.9,534.8 1158.6,540.9 1159.2,545.2 1141.4,545.2M1159.2,545.2 1160.5,550.3 1160.9,552 1163,552.7 1165.4,551.5 1177.9,551.7 1186.5,551.7M1160.9,551.5 1160.9,571.5 1160.5,575.2 1158.6,580 1157.7,584M1177.9,551.7 1177.9,573.5M1191.8,581.1 1191.8,579.2 1190.3,576.8 1187.4,577.4 1184.6,577.2 1181.8,576 1179.9,573.5 1177.9,573.5 1174.3,576.5 1172.1,580.4 1170.5,582.4 1167.4,583.2 1163.6,584.3 1160.7,582.7 1157.7,584 1157.3,586.4 1154.2,589.7 1150.6,590.4M1191.8,579.2 1194.3,576 1196.9,574.4 1200,571.5 1202.8,568.6 1204.4,566.2 1204.9,560.9 1204.9,549.6M1142.9,509.1 1147.9,507 1152.3,505.2 1156.7,501 1159.2,501.5 1155.5,505.2 1160.5,506.6 1164.2,509.8 1168,509.8 1173.7,507.9 1176.8,507.5 1179.3,510.2 1182.4,509.8 1183.7,513.9 1181.2,514.8 1178.7,515.3 1173.7,513.4 1168.6,515.7 1166.1,516.2 1163.6,518 1160.5,522.5M1165.4,551.5 1167.4,547.8 1168.9,542.6 1169.3,538.3 1167.4,533.9 1168.9,529.6 1170.2,525.1 1173,522.5 1174.3,520.7 1176.8,518 1178.7,516.3 1181.8,518 1186.2,520.2 1187.4,523.4 1187.1,526.9 1185.6,531.3 1183.7,535.3 1186.2,533.1 1189.3,531.8 1191.8,533.1 1192.8,540.9 1192.5,544.3 1190,546.1 1188.7,549 1186.5,551.7M1186.5,551.7 1189.3,553.3 1191.2,554.1 1195.6,553.7 1197.5,553.7 1200.6,551.6 1204.9,549.6 1207.5,548.2 1209.6,547.2 1209.6,549.5 1237.2,549.5M1209.6,547.2 1214.4,543.1 1215,541.3 1214.1,538.7 1220.7,537.7 1223.8,538.7 1228.2,538.3 1232,536.1 1232,533.1 1231,531.3 1234.5,528.2 1237.6,525.1 1241.4,523.4 1261.4,523.4 1264.1,520.7 1265.8,519.8 1269,515.3 1270.8,507.9 1275.9,501M1249.8,523.4 1249.8,527.8 1249.5,535.7 1250.5,536.1 1250.3,543.1 1248.9,549 1248.9,555.4 1247.6,557 1248,558.1M1250.3,543.1 1255.4,543.2 1262.7,543.5 1265.8,542M1255.4,543.2 1255.5,540.9 1256.4,534.8 1258.3,529.6 1261.4,523.4M1264.1,520.7 1264.6,527.8 1264.9,536.6 1266.5,540M1248.9,549 1259.6,549.3 1262.2,549.3 1263.8,553.7M1259.6,549.3 1259.2,555.2M1277.1,531.3 1272.1,533.9 1269.6,535.7 1266.5,540 1265.8,542 1267.1,544.3 1264.6,546.9 1267.1,549.9 1270.8,551.6 1270.8,549 1271.2,552 1267.1,553.3 1263.8,553.7 1259.2,555.2 1255.2,555.6 1252,556.2 1248,558.1 1246.4,559.1M1246.4,560.8 1253.3,559.6 1258.9,557.5 1255.2,558.7 1249.5,561.2 1246.4,561.2M1237.2,549.5 1238.9,550.7 1241.4,554.9 1246.4,557.9 1245.8,560.4M1241.4,554.9 1238.9,559.1 1238.2,561.2 1239.8,563.7 1241.1,564.9 1238.9,566.6 1237,567.8 1235.7,567.5 1234.5,568.5 1204.9,568.5 1204.9,560.9M1245.8,560.4 1245.8,562.9 1245.1,568.2 1243.3,571.1 1240.1,574.9 1238.2,572.3 1236.4,569.5 1237,567.8M1234.5,568.5 1234.5,578.7 1239.2,578.7M1236.4,569.5 1237,571.9 1238.9,576 1239.2,578.8 1238.2,582.4 1235.7,585.6 1233.5,589.2M1211.4,568.5 1211.4,572.7 1215,570.7 1218.5,569.1 1222.4,571.8 1223.8,572.7 1226.6,575.6 1225.7,578.4 1227.6,580.8 1231.3,582.8M1195.8,586.1 1200.6,588.4 1203.1,587.2 1206.3,586.4 1207.5,583.2 1210,579.2 1212.5,578.8 1215,575.6 1218.5,571.1 1222.4,571.8M1195.8,586.1 1193.1,584 1191.8,581.1M1185.1,593.5 1189.3,591.6 1193.7,588 1195.8,586.1M1148.9,594.3 1157.7,594.3 1157.5,592.9 1164.2,593.2 1173.7,593.5 1185.1,593.5 1197.6,593.6 1234,593.9M1181,606 1183.1,603.7 1186.2,601.7 1189.3,599.8 1191.8,598.2 1194.3,597.1 1197.6,593.6M1144.8,606 1188.7,606M1188.7,606 1193.1,604.4 1201.6,604.8 1202.5,605.2 1203.1,607.4 1210.1,607.5 1217.2,614.8M1188.7,606 1189.3,608.3 1191.8,611.4 1194.3,615.9 1196.2,618.9 1198.7,622 1200,625 1202.5,628.3M1156.7,606 1155,629.4 1155.5,640.6M1173,606 1175.5,622.3 1176.8,625 1176.5,628.7 1176.2,632.4 1176.8,636.1 1160.5,636.1 1161.1,641.2M1176.8,636.1 1177.7,638.3 1194.3,639.2 1195.3,637.6 1199,638.3M1116.5,594.3 1144.5,594.3 1143.1,598.2 1147.3,598.2M1120.1,621.1 1138.2,621.2M1120.1,628.7 1121.6,632.4 1123.2,636.1 1122.1,641.2 1121.4,645.6M1135.4,636.1 1147.1,636.1 1147.6,639 1147.9,642M1041.8,630.3 1045.1,633.1 1051.4,638.3 1053.3,643.4 1057.6,648.5 1061.4,650.7 1063.3,650.7 1065.8,645.6 1068.3,644.3 1074,645.1 1078.7,649.9 1080.8,655.7 1085.9,661.4 1088.4,668.5 1094,671.6 1098.4,672.7 1100.6,672.4 1099.7,668.5 1099,665 1100.3,660 1102.8,656.4 1107.8,653.5 1113.5,649.9 1116,648.1 1121.4,645.6 1124.7,645.1 1129.1,646.3 1132.9,646.7 1136.7,648.5 1140.4,649.9 1144.2,649.9 1147.3,648.5 1149.2,651 1151.7,649.2 1149.8,647 1147.9,644.1 1149.2,643 1147.9,642 1151.7,640.5 1155.5,640.6 1158,641.6 1161.1,641.2 1164.2,640.5 1168.6,640.5 1173,642.7 1174.3,644.9 1176.8,645.6 1180.5,643.4 1183.1,642.7 1185.6,644.9 1188.7,649.9 1191.5,652.1 1190.6,657.8 1191.8,661.4 1195,667.1 1196.9,671.3 1200,674.1 1201.9,677.6 1205.9,677.6 1208.1,673.4 1209.1,668.5 1208.1,663.5 1205.6,657.1 1204.7,653.5 1202.2,648.5 1200.3,644.1 1199,638.3 1200.9,632.4 1202.5,628.3 1205.3,626.1 1208.8,623.1 1213.2,619.3 1217.2,614.8 1221.3,614 1226.3,609.1 1229.5,608.3 1233.2,605.6 1236.4,604.1 1236.4,599.8 1234,593.9 1233.2,591.2 1231.3,590.4M1206.3,677.3 1208.8,684.2" clip-path="url(#ax5)" fill="none" stroke="#000" stroke-width="2.6" stroke-linejoin="round" stroke-linecap="round"/>
<text x="988.3" y="501.9" class="s">48</text>
<ellipse cx="1010.5" cy="488.8" rx="1.8" ry="1.35" class="dg"/>
<text x="1018.1" y="501.9" class="s">N</text>
<text x="988.3" y="519.9" class="s">46</text>
<ellipse cx="1010.5" cy="506.8" rx="1.8" ry="1.35" class="dg"/>
<text x="1018.1" y="519.9" class="s">N</text>
<text x="988.3" y="537.3" class="s">44</text>
<ellipse cx="1010.5" cy="524.2" rx="1.8" ry="1.35" class="dg"/>
<text x="1018.1" y="537.3" class="s">N</text>
<text x="988.3" y="555.9" class="s">42</text>
<ellipse cx="1010.5" cy="542.8" rx="1.8" ry="1.35" class="dg"/>
<text x="1018.1" y="555.9" class="s">N</text>
<text x="988.3" y="571.9" class="s">40</text>
<ellipse cx="1010.5" cy="558.8" rx="1.8" ry="1.35" class="dg"/>
<text x="1018.1" y="571.9" class="s">N</text>
<text x="988.3" y="587.3" class="s">38</text>
<ellipse cx="1010.5" cy="574.2" rx="1.8" ry="1.35" class="dg"/>
<text x="1018.1" y="587.3" class="s">N</text>
<text x="988.3" y="603.8" class="s">36</text>
<ellipse cx="1010.5" cy="590.7" rx="1.8" ry="1.35" class="dg"/>
<text x="1018.1" y="603.8" class="s">N</text>
<text x="988.3" y="618.3" class="s">34</text>
<ellipse cx="1010.5" cy="605.2" rx="1.8" ry="1.35" class="dg"/>
<text x="1018.1" y="618.3" class="s">N</text>
<text x="988.3" y="635.1" class="s">32</text>
<ellipse cx="1010.5" cy="622" rx="1.8" ry="1.35" class="dg"/>
<text x="1018.1" y="635.1" class="s">N</text>
<text x="988.3" y="648.9" class="s">30</text>
<ellipse cx="1010.5" cy="635.8" rx="1.8" ry="1.35" class="dg"/>
<text x="1018.1" y="648.9" class="s">N</text>
<text x="988.3" y="662.3" class="s">28</text>
<ellipse cx="1010.5" cy="649.2" rx="1.8" ry="1.35" class="dg"/>
<text x="1018.1" y="662.3" class="s">N</text>
<text x="988.3" y="677.2" class="s">26</text>
<ellipse cx="1010.5" cy="664.1" rx="1.8" ry="1.35" class="dg"/>
<text x="1018.1" y="677.2" class="s">N</text>
<text x="988.3" y="691.1" class="s">24</text>
<ellipse cx="1010.5" cy="678" rx="1.8" ry="1.35" class="dg"/>
<text x="1018.1" y="691.1" class="s">N</text>
<text x="988.3" y="704.5" class="s">22</text>
<ellipse cx="1010.5" cy="691.4" rx="1.8" ry="1.35" class="dg"/>
<text x="1018.1" y="704.5" class="s">N</text>
<text x="1057.7" y="464.5" class="s">100</text>
<ellipse cx="1087.4" cy="451.3" rx="1.8" ry="1.35" class="dg"/>
<text x="1094.9" y="464.5" class="s">W</text>
<text x="1126.7" y="464.5" class="s">90</text>
<ellipse cx="1149" cy="451.3" rx="1.8" ry="1.35" class="dg"/>
<text x="1156.5" y="464.5" class="s">W</text>
<text x="1190.5" y="464.5" class="s">80</text>
<ellipse cx="1212.8" cy="451.3" rx="1.8" ry="1.35" class="dg"/>
<text x="1220.3" y="464.5" class="s">W</text>
<text x="1254.1" y="464.5" class="s">70</text>
<ellipse cx="1276.4" cy="451.3" rx="1.8" ry="1.35" class="dg"/>
<text x="1283.9" y="464.5" class="s">W</text>
<rect x="1285.4" y="484.9" width="23.4" height="215.6" fill="url(#jet)" stroke="#262626" stroke-width="0.8"/>
<path d="M1306.3,592.7H1308.8" stroke="#262626" stroke-width="0.8"/>
<text x="1317" y="493.1" class="cb">100</text>
<text x="1316.8" y="600.5" class="cb">50</text>
<text x="1316.8" y="708.3" class="cb">0</text>
<text x="981.5" y="730.6" class="t">SAT 400 hPa RH (Percent)</text>
</svg></body></html>
